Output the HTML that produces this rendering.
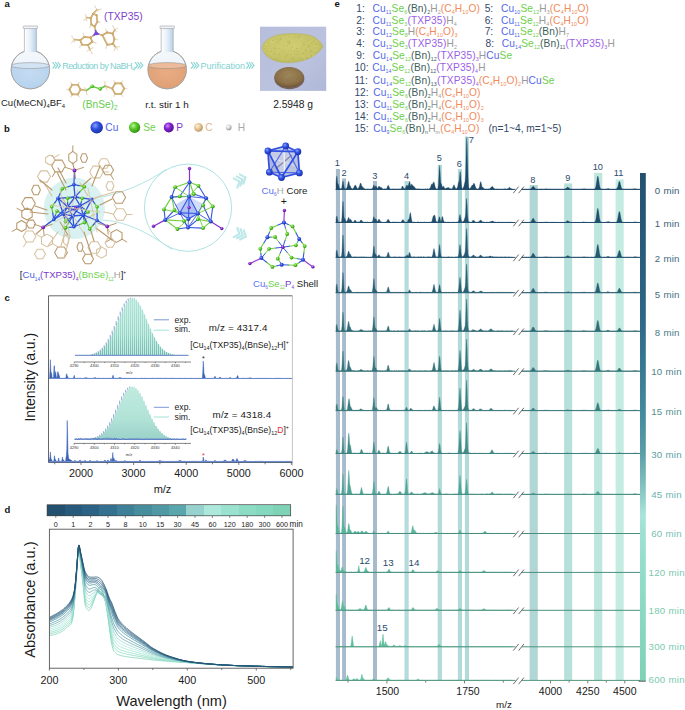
<!DOCTYPE html>
<html><head><meta charset="utf-8"><title>Figure</title>
<style>
html,body{margin:0;padding:0;background:#fff;}
body{width:685px;height:710px;overflow:hidden;}
svg{display:block;font-family:"Liberation Sans", sans-serif;}
</style></head>
<body>
<svg width="685" height="710" viewBox="0 0 685 710">
<rect width="685" height="710" fill="#fff"/>
<text x="4.5" y="7" font-size="9.5" fill="#111" text-anchor="start" font-weight="bold" >a</text>
<text x="4" y="131.8" font-size="9.5" fill="#111" text-anchor="start" font-weight="bold" >b</text>
<text x="4.5" y="300.5" font-size="9.5" fill="#111" text-anchor="start" font-weight="bold" >c</text>
<text x="4.5" y="512.5" font-size="9.5" fill="#111" text-anchor="start" font-weight="bold" >d</text>
<text x="334.5" y="6.8" font-size="9.5" fill="#111" text-anchor="start" font-weight="bold" >e</text>
<defs>
<linearGradient id="neckg" x1="0" x2="1" y1="0" y2="0">
<stop offset="0" stop-color="#ffffff"/><stop offset="0.5" stop-color="#e6eff8"/><stop offset="1" stop-color="#b8d0ea"/></linearGradient>
<linearGradient id="bulbg" x1="0" x2="0" y1="0" y2="1">
<stop offset="0" stop-color="#f4f8fc"/><stop offset="1" stop-color="#e4eef8"/></linearGradient>
<radialGradient id="blueliq" cx="0.5" cy="0.3" r="0.8"><stop offset="0" stop-color="#c4dcf2"/><stop offset="1" stop-color="#b2cfeb"/></radialGradient>
<radialGradient id="orliq" cx="0.5" cy="0.3" r="0.8"><stop offset="0" stop-color="#e8ac84"/><stop offset="1" stop-color="#de9c70"/></radialGradient>
</defs>
<clipPath id="fc1"><circle cx="30.4" cy="69.6" r="19.2"/></clipPath>
<circle cx="30.4" cy="69.6" r="19.2" fill="url(#bulbg)" stroke="#a8a8a8" stroke-width="0.8"/>
<g clip-path="url(#fc1)"><rect x="11.2" y="65.6" width="38.4" height="24.2" fill="url(#blueliq)"/><ellipse cx="30.4" cy="65.6" rx="19.2" ry="3" fill="#d2e3f4" stroke="#8a8a8a" stroke-width="0.5"/></g>
<circle cx="30.4" cy="69.6" r="19.2" fill="none" stroke="#a0a0a0" stroke-width="0.9"/>
<rect x="24.4" y="27.5" width="12" height="24.6" fill="url(#neckg)"/>
<line x1="24.4" y1="27.5" x2="24.4" y2="51.4" stroke="#9a9a9a" stroke-width="0.6"/>
<line x1="36.4" y1="27.5" x2="36.4" y2="51.4" stroke="#9a9a9a" stroke-width="0.6"/>
<rect x="23.2" y="26" width="14.4" height="2.6" rx="0.6" fill="#eef3f8" stroke="#a0a0a0" stroke-width="0.6"/>
<clipPath id="fc2"><circle cx="167.2" cy="69.6" r="19.2"/></clipPath>
<circle cx="167.2" cy="69.6" r="19.2" fill="url(#bulbg)" stroke="#a8a8a8" stroke-width="0.8"/>
<g clip-path="url(#fc2)"><rect x="148.0" y="65.6" width="38.4" height="24.2" fill="url(#orliq)"/><ellipse cx="167.2" cy="65.6" rx="19.2" ry="3" fill="#ecbc9a" stroke="#8a8a8a" stroke-width="0.5"/></g>
<circle cx="167.2" cy="69.6" r="19.2" fill="none" stroke="#a0a0a0" stroke-width="0.9"/>
<rect x="161.2" y="27.5" width="12" height="24.6" fill="url(#neckg)"/>
<line x1="161.2" y1="27.5" x2="161.2" y2="51.4" stroke="#9a9a9a" stroke-width="0.6"/>
<line x1="173.2" y1="27.5" x2="173.2" y2="51.4" stroke="#9a9a9a" stroke-width="0.6"/>
<rect x="160.0" y="26" width="14.4" height="2.6" rx="0.6" fill="#eef3f8" stroke="#a0a0a0" stroke-width="0.6"/>
<polyline points="52.60,62.20 55.20,65.40 52.60,68.60" fill="none" stroke="#86d4d4" stroke-width="1.1"/>
<polyline points="55.20,62.20 57.80,65.40 55.20,68.60" fill="none" stroke="#86d4d4" stroke-width="1.1"/>
<polyline points="57.80,62.20 60.40,65.40 57.80,68.60" fill="none" stroke="#86d4d4" stroke-width="1.1"/>
<polyline points="135.00,62.20 137.60,65.40 135.00,68.60" fill="none" stroke="#86d4d4" stroke-width="1.1"/>
<polyline points="137.60,62.20 140.20,65.40 137.60,68.60" fill="none" stroke="#86d4d4" stroke-width="1.1"/>
<polyline points="140.20,62.20 142.80,65.40 140.20,68.60" fill="none" stroke="#86d4d4" stroke-width="1.1"/>
<polyline points="191.00,62.20 193.60,65.40 191.00,68.60" fill="none" stroke="#86d4d4" stroke-width="1.1"/>
<polyline points="193.60,62.20 196.20,65.40 193.60,68.60" fill="none" stroke="#86d4d4" stroke-width="1.1"/>
<polyline points="196.20,62.20 198.80,65.40 196.20,68.60" fill="none" stroke="#86d4d4" stroke-width="1.1"/>
<polyline points="246.30,62.20 248.90,65.40 246.30,68.60" fill="none" stroke="#86d4d4" stroke-width="1.1"/>
<polyline points="248.90,62.20 251.50,65.40 248.90,68.60" fill="none" stroke="#86d4d4" stroke-width="1.1"/>
<polyline points="251.50,62.20 254.10,65.40 251.50,68.60" fill="none" stroke="#86d4d4" stroke-width="1.1"/>
<text x="62.2" y="68.6" font-size="9" text-anchor="start" letter-spacing="-0.55" xml:space="preserve"><tspan fill="#80d0d0" font-size="9.00" dy="0.00">Reduction by NaBH</tspan><tspan fill="#80d0d0" font-size="5.58" dy="2.16">4</tspan></text>
<text x="200.4" y="68.6" font-size="9" fill="#80d0d0" text-anchor="start" font-weight="normal" >Purification</text>
<polygon points="94.60,26.60 91.40,24.60 90.80,18.00 93.20,13.80 96.60,15.20 97.40,21.80" fill="none" stroke="#c09a5c" stroke-width="1.7" stroke-linejoin="round"/>
<polygon points="94.60,26.60 91.40,24.60 90.80,18.00 93.20,13.80 96.60,15.20 97.40,21.80" fill="none" stroke="#ead29c" stroke-width="0.6" stroke-linejoin="round"/>
<circle cx="94.60" cy="26.60" r="1.05" fill="#c8a468"/>
<circle cx="91.40" cy="24.60" r="1.05" fill="#c8a468"/>
<circle cx="90.80" cy="18.00" r="1.05" fill="#c8a468"/>
<circle cx="93.20" cy="13.80" r="1.05" fill="#c8a468"/>
<circle cx="96.60" cy="15.20" r="1.05" fill="#c8a468"/>
<circle cx="97.40" cy="21.80" r="1.05" fill="#c8a468"/>
<polygon points="90.50,37.60 84.40,36.80 80.30,40.20 81.90,44.60 88.00,45.00 92.40,41.80" fill="none" stroke="#c09a5c" stroke-width="1.7" stroke-linejoin="round"/>
<polygon points="90.50,37.60 84.40,36.80 80.30,40.20 81.90,44.60 88.00,45.00 92.40,41.80" fill="none" stroke="#ead29c" stroke-width="0.6" stroke-linejoin="round"/>
<circle cx="90.50" cy="37.60" r="1.05" fill="#c8a468"/>
<circle cx="84.40" cy="36.80" r="1.05" fill="#c8a468"/>
<circle cx="80.30" cy="40.20" r="1.05" fill="#c8a468"/>
<circle cx="81.90" cy="44.60" r="1.05" fill="#c8a468"/>
<circle cx="88.00" cy="45.00" r="1.05" fill="#c8a468"/>
<circle cx="92.40" cy="41.80" r="1.05" fill="#c8a468"/>
<polygon points="102.40,35.20 107.00,32.40 112.60,33.60 114.40,39.00 113.00,43.80 107.40,44.80" fill="none" stroke="#c09a5c" stroke-width="1.7" stroke-linejoin="round"/>
<polygon points="102.40,35.20 107.00,32.40 112.60,33.60 114.40,39.00 113.00,43.80 107.40,44.80" fill="none" stroke="#ead29c" stroke-width="0.6" stroke-linejoin="round"/>
<circle cx="102.40" cy="35.20" r="1.05" fill="#c8a468"/>
<circle cx="107.00" cy="32.40" r="1.05" fill="#c8a468"/>
<circle cx="112.60" cy="33.60" r="1.05" fill="#c8a468"/>
<circle cx="114.40" cy="39.00" r="1.05" fill="#c8a468"/>
<circle cx="113.00" cy="43.80" r="1.05" fill="#c8a468"/>
<circle cx="107.40" cy="44.80" r="1.05" fill="#c8a468"/>
<line x1="96.20" y1="33.40" x2="94.60" y2="26.60" stroke="#c09a5c" stroke-width="1.5" stroke-linecap="round"/>
<line x1="96.20" y1="33.40" x2="94.60" y2="26.60" stroke="#ecd6a4" stroke-width="0.5" stroke-linecap="round"/>
<line x1="96.20" y1="33.40" x2="90.50" y2="37.60" stroke="#c09a5c" stroke-width="1.5" stroke-linecap="round"/>
<line x1="96.20" y1="33.40" x2="90.50" y2="37.60" stroke="#ecd6a4" stroke-width="0.5" stroke-linecap="round"/>
<line x1="96.20" y1="33.40" x2="102.40" y2="35.20" stroke="#c09a5c" stroke-width="1.5" stroke-linecap="round"/>
<line x1="96.20" y1="33.40" x2="102.40" y2="35.20" stroke="#ecd6a4" stroke-width="0.5" stroke-linecap="round"/>
<line x1="93.20" y1="13.80" x2="97.00" y2="9.80" stroke="#c09a5c" stroke-width="1.5" stroke-linecap="round"/>
<line x1="93.20" y1="13.80" x2="97.00" y2="9.80" stroke="#ecd6a4" stroke-width="0.5" stroke-linecap="round"/>
<line x1="97.00" y1="9.80" x2="95.00" y2="6.40" stroke="#dcc8a0" stroke-width="0.8"/>
<circle cx="95.00" cy="6.40" r="0.85" fill="#ece6d8"/>
<line x1="97.00" y1="9.80" x2="100.80" y2="9.20" stroke="#dcc8a0" stroke-width="0.8"/>
<circle cx="100.80" cy="9.20" r="0.85" fill="#ece6d8"/>
<line x1="97.00" y1="9.80" x2="98.80" y2="11.00" stroke="#dcc8a0" stroke-width="0.8"/>
<circle cx="98.80" cy="11.00" r="0.85" fill="#ece6d8"/>
<line x1="90.80" y1="18.00" x2="86.40" y2="17.60" stroke="#c09a5c" stroke-width="1.5" stroke-linecap="round"/>
<line x1="90.80" y1="18.00" x2="86.40" y2="17.60" stroke="#ecd6a4" stroke-width="0.5" stroke-linecap="round"/>
<line x1="86.40" y1="17.60" x2="85.60" y2="14.60" stroke="#dcc8a0" stroke-width="0.8"/>
<circle cx="85.60" cy="14.60" r="0.85" fill="#ece6d8"/>
<line x1="86.40" y1="17.60" x2="84.20" y2="20.40" stroke="#dcc8a0" stroke-width="0.8"/>
<circle cx="84.20" cy="20.40" r="0.85" fill="#ece6d8"/>
<line x1="86.40" y1="17.60" x2="86.60" y2="20.60" stroke="#dcc8a0" stroke-width="0.8"/>
<circle cx="86.60" cy="20.60" r="0.85" fill="#ece6d8"/>
<line x1="80.30" y1="40.20" x2="74.20" y2="39.60" stroke="#c09a5c" stroke-width="1.5" stroke-linecap="round"/>
<line x1="80.30" y1="40.20" x2="74.20" y2="39.60" stroke="#ecd6a4" stroke-width="0.5" stroke-linecap="round"/>
<line x1="74.20" y1="39.60" x2="71.80" y2="36.40" stroke="#dcc8a0" stroke-width="0.8"/>
<circle cx="71.80" cy="36.40" r="0.85" fill="#ece6d8"/>
<line x1="74.20" y1="39.60" x2="71.60" y2="42.60" stroke="#dcc8a0" stroke-width="0.8"/>
<circle cx="71.60" cy="42.60" r="0.85" fill="#ece6d8"/>
<line x1="74.20" y1="39.60" x2="74.40" y2="42.00" stroke="#dcc8a0" stroke-width="0.8"/>
<circle cx="74.40" cy="42.00" r="0.85" fill="#ece6d8"/>
<line x1="88.00" y1="45.00" x2="89.80" y2="49.60" stroke="#c09a5c" stroke-width="1.5" stroke-linecap="round"/>
<line x1="88.00" y1="45.00" x2="89.80" y2="49.60" stroke="#ecd6a4" stroke-width="0.5" stroke-linecap="round"/>
<line x1="89.80" y1="49.60" x2="87.40" y2="50.80" stroke="#dcc8a0" stroke-width="0.8"/>
<circle cx="87.40" cy="50.80" r="0.85" fill="#ece6d8"/>
<line x1="89.80" y1="49.60" x2="92.20" y2="53.40" stroke="#dcc8a0" stroke-width="0.8"/>
<circle cx="92.20" cy="53.40" r="0.85" fill="#ece6d8"/>
<line x1="89.80" y1="49.60" x2="93.00" y2="47.60" stroke="#dcc8a0" stroke-width="0.8"/>
<circle cx="93.00" cy="47.60" r="0.85" fill="#ece6d8"/>
<line x1="112.60" y1="33.60" x2="114.80" y2="29.60" stroke="#c09a5c" stroke-width="1.5" stroke-linecap="round"/>
<line x1="112.60" y1="33.60" x2="114.80" y2="29.60" stroke="#ecd6a4" stroke-width="0.5" stroke-linecap="round"/>
<line x1="114.80" y1="29.60" x2="112.80" y2="25.80" stroke="#dcc8a0" stroke-width="0.8"/>
<circle cx="112.80" cy="25.80" r="0.85" fill="#ece6d8"/>
<line x1="114.80" y1="29.60" x2="117.80" y2="28.40" stroke="#dcc8a0" stroke-width="0.8"/>
<circle cx="117.80" cy="28.40" r="0.85" fill="#ece6d8"/>
<line x1="114.80" y1="29.60" x2="116.40" y2="31.60" stroke="#dcc8a0" stroke-width="0.8"/>
<circle cx="116.40" cy="31.60" r="0.85" fill="#ece6d8"/>
<line x1="113.00" y1="43.80" x2="115.60" y2="47.20" stroke="#c09a5c" stroke-width="1.5" stroke-linecap="round"/>
<line x1="113.00" y1="43.80" x2="115.60" y2="47.20" stroke="#ecd6a4" stroke-width="0.5" stroke-linecap="round"/>
<line x1="115.60" y1="47.20" x2="119.40" y2="46.60" stroke="#dcc8a0" stroke-width="0.8"/>
<circle cx="119.40" cy="46.60" r="0.85" fill="#ece6d8"/>
<line x1="115.60" y1="47.20" x2="114.40" y2="50.60" stroke="#dcc8a0" stroke-width="0.8"/>
<circle cx="114.40" cy="50.60" r="0.85" fill="#ece6d8"/>
<line x1="115.60" y1="47.20" x2="117.60" y2="49.60" stroke="#dcc8a0" stroke-width="0.8"/>
<circle cx="117.60" cy="49.60" r="0.85" fill="#ece6d8"/>
<line x1="91.40" y1="24.60" x2="89.60" y2="27.40" stroke="#dcc8a0" stroke-width="0.8"/>
<circle cx="89.60" cy="27.40" r="0.85" fill="#ece6d8"/>
<line x1="97.40" y1="21.80" x2="100.00" y2="22.40" stroke="#dcc8a0" stroke-width="0.8"/>
<circle cx="100.00" cy="22.40" r="0.85" fill="#ece6d8"/>
<line x1="84.40" y1="36.80" x2="83.20" y2="33.60" stroke="#dcc8a0" stroke-width="0.8"/>
<circle cx="83.20" cy="33.60" r="0.85" fill="#ece6d8"/>
<line x1="81.90" y1="44.60" x2="79.60" y2="47.20" stroke="#dcc8a0" stroke-width="0.8"/>
<circle cx="79.60" cy="47.20" r="0.85" fill="#ece6d8"/>
<line x1="107.00" y1="32.40" x2="105.60" y2="29.40" stroke="#dcc8a0" stroke-width="0.8"/>
<circle cx="105.60" cy="29.40" r="0.85" fill="#ece6d8"/>
<line x1="107.40" y1="44.80" x2="105.80" y2="48.20" stroke="#dcc8a0" stroke-width="0.8"/>
<circle cx="105.80" cy="48.20" r="0.85" fill="#ece6d8"/>
<line x1="92.40" y1="41.80" x2="96.00" y2="43.00" stroke="#dcc8a0" stroke-width="0.8"/>
<circle cx="96.00" cy="43.00" r="0.85" fill="#ece6d8"/>
<line x1="114.40" y1="39.00" x2="117.60" y2="39.60" stroke="#dcc8a0" stroke-width="0.8"/>
<circle cx="117.60" cy="39.60" r="0.85" fill="#ece6d8"/>
<line x1="96.2" y1="33.4" x2="95.4" y2="30.0" stroke="#7a50e6" stroke-width="1.6"/>
<line x1="96.2" y1="33.4" x2="99.2" y2="34.3" stroke="#7a50e6" stroke-width="1.6"/>
<line x1="96.2" y1="33.4" x2="93.4" y2="35.5" stroke="#7a50e6" stroke-width="1.6"/>
<circle cx="96.2" cy="33.4" r="1.9" fill="#7048e0"/>
<text x="104.0" y="19.9" font-size="10.3" text-anchor="start" letter-spacing="0.05" xml:space="preserve"><tspan fill="#7b42c9" font-size="10.30" dy="0.00">(TXP35)</tspan></text>
<polygon points="80.60,89.60 77.80,94.45 72.20,94.45 69.40,89.60 72.20,84.75 77.80,84.75" fill="none" stroke="#c09a5c" stroke-width="1.7" stroke-linejoin="round"/>
<polygon points="80.60,89.60 77.80,94.45 72.20,94.45 69.40,89.60 72.20,84.75 77.80,84.75" fill="none" stroke="#ead29c" stroke-width="0.6" stroke-linejoin="round"/>
<circle cx="80.60" cy="89.60" r="1.05" fill="#c8a468"/>
<circle cx="77.80" cy="94.45" r="1.05" fill="#c8a468"/>
<circle cx="72.20" cy="94.45" r="1.05" fill="#c8a468"/>
<circle cx="69.40" cy="89.60" r="1.05" fill="#c8a468"/>
<circle cx="72.20" cy="84.75" r="1.05" fill="#c8a468"/>
<circle cx="77.80" cy="84.75" r="1.05" fill="#c8a468"/>
<polygon points="124.20,88.60 121.20,93.80 115.20,93.80 112.20,88.60 115.20,83.40 121.20,83.40" fill="none" stroke="#c09a5c" stroke-width="1.7" stroke-linejoin="round"/>
<polygon points="124.20,88.60 121.20,93.80 115.20,93.80 112.20,88.60 115.20,83.40 121.20,83.40" fill="none" stroke="#ead29c" stroke-width="0.6" stroke-linejoin="round"/>
<circle cx="124.20" cy="88.60" r="1.05" fill="#c8a468"/>
<circle cx="121.20" cy="93.80" r="1.05" fill="#c8a468"/>
<circle cx="115.20" cy="93.80" r="1.05" fill="#c8a468"/>
<circle cx="112.20" cy="88.60" r="1.05" fill="#c8a468"/>
<circle cx="115.20" cy="83.40" r="1.05" fill="#c8a468"/>
<circle cx="121.20" cy="83.40" r="1.05" fill="#c8a468"/>
<line x1="77.80" y1="94.45" x2="79.06" y2="96.63" stroke="#dcc8a0" stroke-width="0.8"/>
<circle cx="79.06" cy="96.63" r="0.85" fill="#ece6d8"/>
<line x1="72.20" y1="94.45" x2="70.94" y2="96.63" stroke="#dcc8a0" stroke-width="0.8"/>
<circle cx="70.94" cy="96.63" r="0.85" fill="#ece6d8"/>
<line x1="69.40" y1="89.60" x2="66.88" y2="89.60" stroke="#dcc8a0" stroke-width="0.8"/>
<circle cx="66.88" cy="89.60" r="0.85" fill="#ece6d8"/>
<line x1="72.20" y1="84.75" x2="70.94" y2="82.57" stroke="#dcc8a0" stroke-width="0.8"/>
<circle cx="70.94" cy="82.57" r="0.85" fill="#ece6d8"/>
<line x1="77.80" y1="84.75" x2="79.06" y2="82.57" stroke="#dcc8a0" stroke-width="0.8"/>
<circle cx="79.06" cy="82.57" r="0.85" fill="#ece6d8"/>
<line x1="124.20" y1="88.60" x2="126.90" y2="88.60" stroke="#dcc8a0" stroke-width="0.8"/>
<circle cx="126.90" cy="88.60" r="0.85" fill="#ece6d8"/>
<line x1="121.20" y1="93.80" x2="122.55" y2="96.13" stroke="#dcc8a0" stroke-width="0.8"/>
<circle cx="122.55" cy="96.13" r="0.85" fill="#ece6d8"/>
<line x1="115.20" y1="93.80" x2="113.85" y2="96.13" stroke="#dcc8a0" stroke-width="0.8"/>
<circle cx="113.85" cy="96.13" r="0.85" fill="#ece6d8"/>
<line x1="115.20" y1="83.40" x2="113.85" y2="81.07" stroke="#dcc8a0" stroke-width="0.8"/>
<circle cx="113.85" cy="81.07" r="0.85" fill="#ece6d8"/>
<line x1="121.20" y1="83.40" x2="122.55" y2="81.07" stroke="#dcc8a0" stroke-width="0.8"/>
<circle cx="122.55" cy="81.07" r="0.85" fill="#ece6d8"/>
<line x1="80.60" y1="89.60" x2="86.30" y2="90.60" stroke="#c09a5c" stroke-width="1.5" stroke-linecap="round"/>
<line x1="80.60" y1="89.60" x2="86.30" y2="90.60" stroke="#ecd6a4" stroke-width="0.5" stroke-linecap="round"/>
<line x1="112.20" y1="88.60" x2="105.20" y2="86.00" stroke="#c09a5c" stroke-width="1.5" stroke-linecap="round"/>
<line x1="112.20" y1="88.60" x2="105.20" y2="86.00" stroke="#ecd6a4" stroke-width="0.5" stroke-linecap="round"/>
<line x1="86.30" y1="90.60" x2="86.80" y2="94.60" stroke="#dcc8a0" stroke-width="0.8"/>
<circle cx="86.80" cy="94.60" r="0.85" fill="#ece6d8"/>
<line x1="86.30" y1="90.60" x2="84.60" y2="87.60" stroke="#dcc8a0" stroke-width="0.8"/>
<circle cx="84.60" cy="87.60" r="0.85" fill="#ece6d8"/>
<line x1="105.20" y1="86.00" x2="104.80" y2="81.60" stroke="#dcc8a0" stroke-width="0.8"/>
<circle cx="104.80" cy="81.60" r="0.85" fill="#ece6d8"/>
<line x1="105.20" y1="86.00" x2="107.00" y2="89.60" stroke="#dcc8a0" stroke-width="0.8"/>
<circle cx="107.00" cy="89.60" r="0.85" fill="#ece6d8"/>
<line x1="86.3" y1="90.6" x2="92.3" y2="86.4" stroke="#5ccc3a" stroke-width="1.5"/>
<line x1="92.3" y1="86.4" x2="100.2" y2="88.9" stroke="#5ccc3a" stroke-width="1.5"/>
<line x1="100.2" y1="88.9" x2="105.2" y2="86.0" stroke="#5ccc3a" stroke-width="1.5"/>
<circle cx="92.3" cy="86.4" r="1.8" fill="url(#gSe0)"/><circle cx="100.2" cy="88.9" r="1.8" fill="url(#gSe0)"/>
<defs><radialGradient id="gSe0" cx="0.38" cy="0.35" r="0.7"><stop offset="0" stop-color="#b8f898"/><stop offset="0.5" stop-color="#58c828"/><stop offset="1" stop-color="#3a9a18"/></radialGradient></defs>
<text x="82.3" y="107.6" font-size="10.2" text-anchor="start"  xml:space="preserve"><tspan fill="#66cc4e" font-size="10.20" dy="0.00">(BnSe)</tspan><tspan fill="#66cc4e" font-size="6.32" dy="2.45">2</tspan></text>
<text x="1.0" y="106.2" font-size="9.5" text-anchor="start"  xml:space="preserve"><tspan fill="#1a1a1a" font-size="9.50" dy="0.00">Cu(MeCN)</tspan><tspan fill="#1a1a1a" font-size="5.89" dy="2.28">4</tspan><tspan fill="#1a1a1a" font-size="9.50" dy="-2.28">BF</tspan><tspan fill="#1a1a1a" font-size="5.89" dy="2.28">4</tspan></text>
<text x="145.3" y="108.4" font-size="9.9" fill="#1a1a1a" text-anchor="start" font-weight="normal" >r.t. stir 1 h</text>
<text x="273.2" y="107.9" font-size="10.3" fill="#1a1a1a" text-anchor="start" font-weight="normal" letter-spacing="-0.05">2.5948 g</text>
<defs><radialGradient id="powd" cx="0.45" cy="0.4" r="0.62"><stop offset="0" stop-color="#d0cc72"/><stop offset="0.75" stop-color="#c6c266"/><stop offset="1" stop-color="#bab65e"/></radialGradient>
<radialGradient id="coin" cx="0.5" cy="0.38" r="0.62"><stop offset="0" stop-color="#9c8658"/><stop offset="0.75" stop-color="#8a6e46"/><stop offset="1" stop-color="#705438"/></radialGradient>
<linearGradient id="bgph" x1="0" x2="1" y1="0" y2="1"><stop offset="0" stop-color="#b6bedc"/><stop offset="0.6" stop-color="#bac2de"/><stop offset="1" stop-color="#b0b8d8"/></linearGradient></defs>
<rect x="260" y="26.7" width="66.2" height="64.2" fill="url(#bgph)"/>
<path d="M262.0,48.5 C262.5,41.5 270,36.0 282,34.2 C294,33.0 306,33.6 313,36.5 C317.5,38.6 321.5,43.0 323.0,46.5 C321.5,49.0 318,53.5 312,57.0 C304,61.5 294,63.2 284,62.6 C274,61.8 265,57.5 262.0,48.5 Z" fill="url(#powd)"/>
<path d="M262.0,48.5 C262.5,41.5 270,36.0 282,34.2 C294,33.0 306,33.6 313,36.5 C317.5,38.6 321.5,43.0 323.0,46.5 C321.5,49.0 318,53.5 312,57.0 C304,61.5 294,63.2 284,62.6 C274,61.8 265,57.5 262.0,48.5 Z" fill="none" stroke="#b2ae56" stroke-width="0.8" opacity="0.6"/>
<rect x="293.6" y="58.1" width="1" height="1" fill="#aca850" opacity="0.7"/>
<rect x="308.7" y="44.0" width="1" height="1" fill="#b4ae50" opacity="0.7"/>
<rect x="271.0" y="40.9" width="1" height="1" fill="#dcd888" opacity="0.7"/>
<rect x="291.2" y="54.8" width="1" height="1" fill="#dcd888" opacity="0.7"/>
<rect x="271.9" y="46.0" width="1" height="1" fill="#dcd888" opacity="0.7"/>
<rect x="285.0" y="44.6" width="1" height="1" fill="#d8d480" opacity="0.7"/>
<rect x="305.7" y="41.6" width="1" height="1" fill="#b4ae50" opacity="0.7"/>
<rect x="288.6" y="45.6" width="1" height="1" fill="#b4ae50" opacity="0.7"/>
<rect x="290.4" y="50.7" width="1" height="1" fill="#aca850" opacity="0.7"/>
<rect x="268.6" y="50.4" width="1" height="1" fill="#dcd888" opacity="0.7"/>
<rect x="286.0" y="36.3" width="1" height="1" fill="#dcd888" opacity="0.7"/>
<rect x="289.1" y="38.7" width="1" height="1" fill="#d8d480" opacity="0.7"/>
<rect x="298.3" y="45.7" width="1" height="1" fill="#d8d480" opacity="0.7"/>
<rect x="277.8" y="48.7" width="1" height="1" fill="#dcd888" opacity="0.7"/>
<rect x="296.7" y="36.7" width="1" height="1" fill="#dcd888" opacity="0.7"/>
<rect x="274.6" y="48.1" width="1" height="1" fill="#aca850" opacity="0.7"/>
<rect x="274.5" y="46.7" width="1" height="1" fill="#d8d480" opacity="0.7"/>
<rect x="311.1" y="42.4" width="1" height="1" fill="#b4ae50" opacity="0.7"/>
<rect x="309.3" y="38.3" width="1" height="1" fill="#d8d480" opacity="0.7"/>
<rect x="286.9" y="41.5" width="1" height="1" fill="#b4ae50" opacity="0.7"/>
<rect x="289.1" y="42.7" width="1" height="1" fill="#aca850" opacity="0.7"/>
<rect x="290.5" y="51.7" width="1" height="1" fill="#dcd888" opacity="0.7"/>
<rect x="313.3" y="54.6" width="1" height="1" fill="#dcd888" opacity="0.7"/>
<rect x="295.2" y="47.4" width="1" height="1" fill="#dcd888" opacity="0.7"/>
<rect x="295.1" y="36.4" width="1" height="1" fill="#b4ae50" opacity="0.7"/>
<rect x="272.7" y="41.5" width="1" height="1" fill="#dcd888" opacity="0.7"/>
<rect x="288.8" y="41.2" width="1" height="1" fill="#aca850" opacity="0.7"/>
<rect x="264.0" y="48.1" width="1" height="1" fill="#aca850" opacity="0.7"/>
<rect x="301.2" y="48.7" width="1" height="1" fill="#b4ae50" opacity="0.7"/>
<rect x="318.2" y="44.5" width="1" height="1" fill="#aca850" opacity="0.7"/>
<rect x="283.5" y="45.2" width="1" height="1" fill="#b4ae50" opacity="0.7"/>
<rect x="308.2" y="47.5" width="1" height="1" fill="#aca850" opacity="0.7"/>
<rect x="317.6" y="45.3" width="1" height="1" fill="#dcd888" opacity="0.7"/>
<rect x="273.3" y="57.0" width="1" height="1" fill="#dcd888" opacity="0.7"/>
<rect x="278.6" y="40.6" width="1" height="1" fill="#b4ae50" opacity="0.7"/>
<rect x="272.2" y="39.9" width="1" height="1" fill="#aca850" opacity="0.7"/>
<rect x="270.4" y="53.1" width="1" height="1" fill="#d8d480" opacity="0.7"/>
<rect x="309.1" y="45.2" width="1" height="1" fill="#aca850" opacity="0.7"/>
<rect x="271.4" y="47.2" width="1" height="1" fill="#b4ae50" opacity="0.7"/>
<rect x="298.6" y="36.0" width="1" height="1" fill="#aca850" opacity="0.7"/>
<rect x="313.8" y="49.8" width="1" height="1" fill="#d8d480" opacity="0.7"/>
<rect x="312.6" y="52.3" width="1" height="1" fill="#dcd888" opacity="0.7"/>
<rect x="275.8" y="58.4" width="1" height="1" fill="#aca850" opacity="0.7"/>
<rect x="291.7" y="46.6" width="1" height="1" fill="#b4ae50" opacity="0.7"/>
<rect x="295.9" y="48.0" width="1" height="1" fill="#aca850" opacity="0.7"/>
<rect x="291.9" y="57.3" width="1" height="1" fill="#aca850" opacity="0.7"/>
<rect x="297.3" y="53.5" width="1" height="1" fill="#aca850" opacity="0.7"/>
<rect x="300.0" y="42.9" width="1" height="1" fill="#dcd888" opacity="0.7"/>
<rect x="312.0" y="55.7" width="1" height="1" fill="#d8d480" opacity="0.7"/>
<rect x="287.1" y="54.2" width="1" height="1" fill="#aca850" opacity="0.7"/>
<rect x="292.9" y="54.1" width="1" height="1" fill="#dcd888" opacity="0.7"/>
<rect x="286.9" y="45.2" width="1" height="1" fill="#aca850" opacity="0.7"/>
<rect x="313.8" y="45.1" width="1" height="1" fill="#d8d480" opacity="0.7"/>
<rect x="268.0" y="53.0" width="1" height="1" fill="#d8d480" opacity="0.7"/>
<rect x="313.1" y="53.9" width="1" height="1" fill="#d8d480" opacity="0.7"/>
<rect x="306.1" y="42.7" width="1" height="1" fill="#d8d480" opacity="0.7"/>
<rect x="293.2" y="46.2" width="1" height="1" fill="#d8d480" opacity="0.7"/>
<rect x="281.8" y="59.4" width="1" height="1" fill="#d8d480" opacity="0.7"/>
<rect x="302.7" y="42.8" width="1" height="1" fill="#b4ae50" opacity="0.7"/>
<rect x="297.7" y="41.3" width="1" height="1" fill="#d8d480" opacity="0.7"/>
<rect x="274.3" y="52.9" width="1" height="1" fill="#aca850" opacity="0.7"/>
<rect x="270.2" y="50.8" width="1" height="1" fill="#aca850" opacity="0.7"/>
<rect x="276.3" y="52.5" width="1" height="1" fill="#dcd888" opacity="0.7"/>
<rect x="293.1" y="49.2" width="1" height="1" fill="#dcd888" opacity="0.7"/>
<rect x="266.1" y="43.8" width="1" height="1" fill="#d8d480" opacity="0.7"/>
<rect x="310.5" y="50.3" width="1" height="1" fill="#aca850" opacity="0.7"/>
<rect x="266.6" y="45.2" width="1" height="1" fill="#b4ae50" opacity="0.7"/>
<rect x="309.3" y="38.5" width="1" height="1" fill="#b4ae50" opacity="0.7"/>
<rect x="294.2" y="45.9" width="1" height="1" fill="#d8d480" opacity="0.7"/>
<rect x="313.1" y="41.0" width="1" height="1" fill="#b4ae50" opacity="0.7"/>
<rect x="316.1" y="49.4" width="1" height="1" fill="#d8d480" opacity="0.7"/>
<rect x="278.3" y="48.4" width="1" height="1" fill="#b4ae50" opacity="0.7"/>
<rect x="274.2" y="47.2" width="1" height="1" fill="#b4ae50" opacity="0.7"/>
<rect x="284.4" y="54.0" width="1" height="1" fill="#dcd888" opacity="0.7"/>
<rect x="294.6" y="45.5" width="1" height="1" fill="#d8d480" opacity="0.7"/>
<rect x="298.7" y="57.5" width="1" height="1" fill="#b4ae50" opacity="0.7"/>
<rect x="303.8" y="58.7" width="1" height="1" fill="#d8d480" opacity="0.7"/>
<rect x="293.1" y="47.5" width="1" height="1" fill="#dcd888" opacity="0.7"/>
<rect x="305.9" y="50.6" width="1" height="1" fill="#aca850" opacity="0.7"/>
<rect x="277.1" y="42.2" width="1" height="1" fill="#b4ae50" opacity="0.7"/>
<rect x="267.7" y="50.4" width="1" height="1" fill="#b4ae50" opacity="0.7"/>
<rect x="307.4" y="39.5" width="1" height="1" fill="#b4ae50" opacity="0.7"/>
<rect x="297.2" y="50.9" width="1" height="1" fill="#b4ae50" opacity="0.7"/>
<rect x="297.0" y="45.5" width="1" height="1" fill="#dcd888" opacity="0.7"/>
<rect x="285.7" y="55.2" width="1" height="1" fill="#aca850" opacity="0.7"/>
<rect x="278.8" y="53.8" width="1" height="1" fill="#aca850" opacity="0.7"/>
<rect x="284.1" y="52.9" width="1" height="1" fill="#aca850" opacity="0.7"/>
<rect x="283.0" y="50.5" width="1" height="1" fill="#b4ae50" opacity="0.7"/>
<rect x="288.3" y="40.7" width="1" height="1" fill="#b4ae50" opacity="0.7"/>
<rect x="286.7" y="47.4" width="1" height="1" fill="#dcd888" opacity="0.7"/>
<rect x="272.4" y="41.5" width="1" height="1" fill="#dcd888" opacity="0.7"/>
<rect x="288.2" y="46.4" width="1" height="1" fill="#dcd888" opacity="0.7"/>
<rect x="313.0" y="51.9" width="1" height="1" fill="#aca850" opacity="0.7"/>
<rect x="271.5" y="53.7" width="1" height="1" fill="#dcd888" opacity="0.7"/>
<rect x="305.0" y="49.2" width="1" height="1" fill="#aca850" opacity="0.7"/>
<rect x="289.5" y="45.2" width="1" height="1" fill="#dcd888" opacity="0.7"/>
<rect x="293.6" y="53.1" width="1" height="1" fill="#b4ae50" opacity="0.7"/>
<rect x="307.8" y="45.4" width="1" height="1" fill="#aca850" opacity="0.7"/>
<rect x="308.8" y="56.0" width="1" height="1" fill="#dcd888" opacity="0.7"/>
<rect x="280.1" y="38.8" width="1" height="1" fill="#b4ae50" opacity="0.7"/>
<rect x="300.9" y="38.3" width="1" height="1" fill="#dcd888" opacity="0.7"/>
<rect x="307.3" y="57.5" width="1" height="1" fill="#b4ae50" opacity="0.7"/>
<rect x="271.3" y="46.8" width="1" height="1" fill="#dcd888" opacity="0.7"/>
<rect x="293.8" y="50.3" width="1" height="1" fill="#b4ae50" opacity="0.7"/>
<rect x="301.4" y="49.2" width="1" height="1" fill="#dcd888" opacity="0.7"/>
<rect x="306.1" y="37.6" width="1" height="1" fill="#aca850" opacity="0.7"/>
<rect x="293.6" y="46.1" width="1" height="1" fill="#d8d480" opacity="0.7"/>
<rect x="311.0" y="55.5" width="1" height="1" fill="#b4ae50" opacity="0.7"/>
<rect x="267.2" y="44.7" width="1" height="1" fill="#d8d480" opacity="0.7"/>
<rect x="298.5" y="42.9" width="1" height="1" fill="#d8d480" opacity="0.7"/>
<rect x="280.5" y="41.5" width="1" height="1" fill="#dcd888" opacity="0.7"/>
<rect x="291.6" y="58.6" width="1" height="1" fill="#aca850" opacity="0.7"/>
<rect x="266.2" y="44.0" width="1" height="1" fill="#dcd888" opacity="0.7"/>
<rect x="264.4" y="48.5" width="1" height="1" fill="#dcd888" opacity="0.7"/>
<rect x="307.3" y="37.9" width="1" height="1" fill="#dcd888" opacity="0.7"/>
<rect x="283.2" y="38.0" width="1" height="1" fill="#dcd888" opacity="0.7"/>
<rect x="301.9" y="55.3" width="1" height="1" fill="#d8d480" opacity="0.7"/>
<rect x="302.3" y="56.3" width="1" height="1" fill="#dcd888" opacity="0.7"/>
<rect x="309.4" y="43.8" width="1" height="1" fill="#dcd888" opacity="0.7"/>
<rect x="269.8" y="42.3" width="1" height="1" fill="#d8d480" opacity="0.7"/>
<rect x="290.6" y="54.3" width="1" height="1" fill="#aca850" opacity="0.7"/>
<rect x="315.7" y="43.7" width="1" height="1" fill="#aca850" opacity="0.7"/>
<rect x="279.7" y="37.9" width="1" height="1" fill="#aca850" opacity="0.7"/>
<rect x="303.9" y="43.9" width="1" height="1" fill="#aca850" opacity="0.7"/>
<rect x="274.8" y="49.5" width="1" height="1" fill="#d8d480" opacity="0.7"/>
<rect x="279.6" y="45.8" width="1" height="1" fill="#dcd888" opacity="0.7"/>
<rect x="293.6" y="43.6" width="1" height="1" fill="#dcd888" opacity="0.7"/>
<rect x="288.2" y="42.9" width="1" height="1" fill="#b4ae50" opacity="0.7"/>
<rect x="268.4" y="49.8" width="1" height="1" fill="#dcd888" opacity="0.7"/>
<rect x="297.4" y="36.6" width="1" height="1" fill="#b4ae50" opacity="0.7"/>
<rect x="278.9" y="49.8" width="1" height="1" fill="#d8d480" opacity="0.7"/>
<rect x="277.3" y="39.3" width="1" height="1" fill="#b4ae50" opacity="0.7"/>
<rect x="317.0" y="45.4" width="1" height="1" fill="#d8d480" opacity="0.7"/>
<rect x="311.0" y="41.2" width="1" height="1" fill="#d8d480" opacity="0.7"/>
<rect x="301.0" y="58.6" width="1" height="1" fill="#b4ae50" opacity="0.7"/>
<rect x="303.4" y="44.6" width="1" height="1" fill="#b4ae50" opacity="0.7"/>
<rect x="284.9" y="56.3" width="1" height="1" fill="#b4ae50" opacity="0.7"/>
<rect x="302.6" y="53.0" width="1" height="1" fill="#aca850" opacity="0.7"/>
<rect x="310.3" y="50.5" width="1" height="1" fill="#aca850" opacity="0.7"/>
<rect x="308.2" y="48.8" width="1" height="1" fill="#dcd888" opacity="0.7"/>
<ellipse cx="289.4" cy="78.4" rx="15.0" ry="10.8" fill="#5a4634" opacity="0.75"/>
<ellipse cx="289" cy="77.2" rx="14.6" ry="10.2" fill="url(#coin)"/>
<rect x="286.9" y="77.9" width="1" height="1" fill="#a89060" opacity="0.5"/>
<rect x="283.4" y="71.7" width="1" height="1" fill="#a89060" opacity="0.5"/>
<rect x="285.3" y="76.7" width="1" height="1" fill="#a89060" opacity="0.5"/>
<rect x="284.9" y="82.6" width="1" height="1" fill="#a89060" opacity="0.5"/>
<rect x="295.1" y="78.7" width="1" height="1" fill="#a89060" opacity="0.5"/>
<rect x="281.9" y="78.5" width="1" height="1" fill="#a89060" opacity="0.5"/>
<rect x="289.0" y="81.7" width="1" height="1" fill="#a89060" opacity="0.5"/>
<rect x="286.4" y="70.9" width="1" height="1" fill="#a89060" opacity="0.5"/>
<rect x="284.2" y="80.0" width="1" height="1" fill="#a89060" opacity="0.5"/>
<rect x="284.5" y="71.5" width="1" height="1" fill="#a89060" opacity="0.5"/>
<rect x="297.9" y="74.3" width="1" height="1" fill="#a89060" opacity="0.5"/>
<rect x="297.0" y="80.8" width="1" height="1" fill="#a89060" opacity="0.5"/>
<rect x="284.8" y="81.1" width="1" height="1" fill="#a89060" opacity="0.5"/>
<rect x="280.5" y="75.6" width="1" height="1" fill="#a89060" opacity="0.5"/>
<rect x="286.4" y="76.4" width="1" height="1" fill="#a89060" opacity="0.5"/>
<rect x="286.5" y="82.3" width="1" height="1" fill="#a89060" opacity="0.5"/>
<rect x="288.6" y="70.8" width="1" height="1" fill="#a89060" opacity="0.5"/>
<rect x="288.5" y="73.8" width="1" height="1" fill="#a89060" opacity="0.5"/>
<rect x="282.1" y="81.5" width="1" height="1" fill="#a89060" opacity="0.5"/>
<rect x="285.7" y="77.2" width="1" height="1" fill="#a89060" opacity="0.5"/>
<rect x="279.6" y="74.0" width="1" height="1" fill="#a89060" opacity="0.5"/>
<rect x="283.8" y="72.0" width="1" height="1" fill="#a89060" opacity="0.5"/>
<rect x="284.0" y="78.4" width="1" height="1" fill="#a89060" opacity="0.5"/>
<rect x="291.8" y="81.1" width="1" height="1" fill="#a89060" opacity="0.5"/>
<rect x="290.8" y="70.6" width="1" height="1" fill="#a89060" opacity="0.5"/>
<rect x="292.5" y="78.4" width="1" height="1" fill="#a89060" opacity="0.5"/>
<rect x="281.5" y="74.7" width="1" height="1" fill="#a89060" opacity="0.5"/>
<rect x="286.4" y="77.9" width="1" height="1" fill="#a89060" opacity="0.5"/>
<rect x="288.7" y="78.1" width="1" height="1" fill="#a89060" opacity="0.5"/>
<rect x="293.8" y="80.2" width="1" height="1" fill="#a89060" opacity="0.5"/>
<defs>
<radialGradient id="gCu" cx="0.38" cy="0.35" r="0.7"><stop offset="0" stop-color="#8aa2ff"/><stop offset="0.45" stop-color="#2f4fe0"/><stop offset="1" stop-color="#1a2ea0"/></radialGradient>
<radialGradient id="gSe" cx="0.38" cy="0.35" r="0.7"><stop offset="0" stop-color="#b8f898"/><stop offset="0.45" stop-color="#58c828"/><stop offset="1" stop-color="#2e8a10"/></radialGradient>
<radialGradient id="gP" cx="0.38" cy="0.35" r="0.7"><stop offset="0" stop-color="#c88af8"/><stop offset="0.45" stop-color="#8420d0"/><stop offset="1" stop-color="#52108a"/></radialGradient>
<radialGradient id="gC" cx="0.38" cy="0.35" r="0.7"><stop offset="0" stop-color="#fff0d8"/><stop offset="0.45" stop-color="#e8c898"/><stop offset="1" stop-color="#b89060"/></radialGradient>
<radialGradient id="gH" cx="0.38" cy="0.35" r="0.7"><stop offset="0" stop-color="#ffffff"/><stop offset="0.5" stop-color="#d8d8d8"/><stop offset="1" stop-color="#8a8a8a"/></radialGradient>
</defs>
<circle cx="96.7" cy="127.4" r="6.2" fill="url(#gCu)"/>
<text x="105.3" y="131.2" font-size="10.2" fill="#4d62e6" text-anchor="start" font-weight="normal" >Cu</text>
<circle cx="134.6" cy="127.4" r="5.6" fill="url(#gSe)"/>
<text x="143.2" y="131.2" font-size="10.2" fill="#6ed24a" text-anchor="start" font-weight="normal" >Se</text>
<circle cx="168.8" cy="127.4" r="5.0" fill="url(#gP)"/>
<text x="176.2" y="131.2" font-size="10.2" fill="#7a3ac8" text-anchor="start" font-weight="normal" >P</text>
<circle cx="198.5" cy="127.4" r="4.4" fill="url(#gC)"/>
<text x="205.2" y="131.2" font-size="10.2" fill="#e2b888" text-anchor="start" font-weight="normal" >C</text>
<circle cx="228.7" cy="127.4" r="2.8" fill="url(#gH)"/>
<text x="237.8" y="131.2" font-size="10.2" fill="#a8a8a8" text-anchor="start" font-weight="normal" >H</text>
<path d="M100,197.5 C122,193 145,184 166,169.5" fill="none" stroke="#9adada" stroke-width="0.75"/>
<path d="M100,220 C122,220.5 145,230 172,249.5" fill="none" stroke="#9adada" stroke-width="0.75"/>
<circle cx="74.3" cy="208.4" r="30.6" fill="#d9f1f1"/>
<polygon points="65.30,166.00 61.90,171.89 55.10,171.89 51.70,166.00 55.10,160.11 61.90,160.11" fill="none" stroke="#b8986c" stroke-width="1.05" stroke-linejoin="round"/>
<line x1="55.10" y1="171.89" x2="52.35" y2="176.65" stroke="#b8986c" stroke-width="1.0" stroke-linecap="round" opacity="1"/>
<line x1="55.10" y1="160.11" x2="52.35" y2="155.35" stroke="#b8986c" stroke-width="1.0" stroke-linecap="round" opacity="1"/>
<polygon points="72.80,163.70 68.77,160.60 68.77,154.40 72.80,151.30 76.83,154.40 76.83,160.60" fill="none" stroke="#b8986c" stroke-width="1.05" stroke-linejoin="round"/>
<line x1="72.80" y1="151.30" x2="72.80" y2="145.80" stroke="#b8986c" stroke-width="1.0" stroke-linecap="round" opacity="1"/>
<polygon points="50.50,176.50 47.25,182.13 40.75,182.13 37.50,176.50 40.75,170.87 47.25,170.87" fill="none" stroke="#d6c2a0" stroke-width="1.05" stroke-linejoin="round"/>
<polygon points="103.30,172.00 99.90,177.89 93.10,177.89 89.70,172.00 93.10,166.11 99.90,166.11" fill="none" stroke="#d6c2a0" stroke-width="1.05" stroke-linejoin="round"/>
<line x1="103.30" y1="172.00" x2="108.80" y2="172.00" stroke="#d6c2a0" stroke-width="1.0" stroke-linecap="round" opacity="1"/>
<polygon points="109.50,163.50 106.75,168.26 101.25,168.26 98.50,163.50 101.25,158.74 106.75,158.74" fill="none" stroke="#d6c2a0" stroke-width="1.05" stroke-linejoin="round"/>
<polygon points="125.60,197.50 122.30,203.22 115.70,203.22 112.40,197.50 115.70,191.78 122.30,191.78" fill="none" stroke="#b8986c" stroke-width="1.05" stroke-linejoin="round"/>
<polygon points="126.60,214.50 123.30,220.22 116.70,220.22 113.40,214.50 116.70,208.78 123.30,208.78" fill="none" stroke="#d6c2a0" stroke-width="1.05" stroke-linejoin="round"/>
<line x1="126.60" y1="214.50" x2="132.10" y2="214.50" stroke="#d6c2a0" stroke-width="1.0" stroke-linecap="round" opacity="1"/>
<line x1="116.70" y1="208.78" x2="113.95" y2="204.02" stroke="#d6c2a0" stroke-width="1.0" stroke-linecap="round" opacity="1"/>
<polygon points="35.30,203.50 31.90,209.39 25.10,209.39 21.70,203.50 25.10,197.61 31.90,197.61" fill="none" stroke="#b8986c" stroke-width="1.05" stroke-linejoin="round"/>
<polygon points="32.20,217.00 27.00,220.00 21.80,217.00 21.80,211.00 27.00,208.00 32.20,211.00" fill="none" stroke="#b8986c" stroke-width="1.05" stroke-linejoin="round"/>
<line x1="21.80" y1="211.00" x2="17.04" y2="208.25" stroke="#b8986c" stroke-width="1.0" stroke-linecap="round" opacity="1"/>
<polygon points="35.90,236.50 32.70,242.04 26.30,242.04 23.10,236.50 26.30,230.96 32.70,230.96" fill="none" stroke="#d6c2a0" stroke-width="1.05" stroke-linejoin="round"/>
<line x1="26.30" y1="242.04" x2="23.55" y2="246.81" stroke="#d6c2a0" stroke-width="1.0" stroke-linecap="round" opacity="1"/>
<polygon points="52.54,243.70 47.00,246.90 41.46,243.70 41.46,237.30 47.00,234.10 52.54,237.30" fill="none" stroke="#d6c2a0" stroke-width="1.05" stroke-linejoin="round"/>
<line x1="52.54" y1="243.70" x2="57.31" y2="246.45" stroke="#d6c2a0" stroke-width="1.0" stroke-linecap="round" opacity="1"/>
<line x1="41.46" y1="237.30" x2="36.69" y2="234.55" stroke="#d6c2a0" stroke-width="1.0" stroke-linecap="round" opacity="1"/>
<polygon points="67.40,252.50 64.20,258.04 57.80,258.04 54.60,252.50 57.80,246.96 64.20,246.96" fill="none" stroke="#b8986c" stroke-width="1.05" stroke-linejoin="round"/>
<polygon points="101.10,247.50 97.80,253.22 91.20,253.22 87.90,247.50 91.20,241.78 97.80,241.78" fill="none" stroke="#d6c2a0" stroke-width="1.05" stroke-linejoin="round"/>
<polygon points="122.04,239.20 116.50,242.40 110.96,239.20 110.96,232.80 116.50,229.60 122.04,232.80" fill="none" stroke="#b8986c" stroke-width="1.05" stroke-linejoin="round"/>
<line x1="122.04" y1="239.20" x2="126.81" y2="241.95" stroke="#b8986c" stroke-width="1.0" stroke-linecap="round" opacity="1"/>
<line x1="110.96" y1="239.20" x2="106.19" y2="241.95" stroke="#b8986c" stroke-width="1.0" stroke-linecap="round" opacity="1"/>
<polygon points="106.35,255.30 101.50,258.10 96.65,255.30 96.65,249.70 101.50,246.90 106.35,249.70" fill="none" stroke="#d6c2a0" stroke-width="1.05" stroke-linejoin="round"/>
<polygon points="87.50,158.00 85.75,162.33 82.25,162.33 80.50,158.00 82.25,153.67 85.75,153.67" fill="none" stroke="#b8986c" stroke-width="1.05" stroke-linejoin="round"/>
<polygon points="114.00,186.00 112.00,190.33 108.00,190.33 106.00,186.00 108.00,181.67 112.00,181.67" fill="none" stroke="#d6c2a0" stroke-width="1.05" stroke-linejoin="round"/>
<polygon points="40.40,190.00 38.20,194.76 33.80,194.76 31.60,190.00 33.80,185.24 38.20,185.24" fill="none" stroke="#b8986c" stroke-width="1.05" stroke-linejoin="round"/>
<polygon points="83.00,247.00 81.50,251.33 78.50,251.33 77.00,247.00 78.50,242.67 81.50,242.67" fill="none" stroke="#b8986c" stroke-width="1.05" stroke-linejoin="round"/>
<polygon points="66.00,245.50 63.62,242.75 63.62,237.25 66.00,234.50 68.38,237.25 68.38,242.75" fill="none" stroke="#d6c2a0" stroke-width="1.05" stroke-linejoin="round"/>
<polygon points="113.50,170.00 110.75,174.76 105.25,174.76 102.50,170.00 105.25,165.24 110.75,165.24" fill="none" stroke="#b8986c" stroke-width="1.05" stroke-linejoin="round"/>
<line x1="110.75" y1="174.76" x2="113.50" y2="179.53" stroke="#b8986c" stroke-width="1.0" stroke-linecap="round" opacity="1"/>
<polygon points="26.26,228.75 21.50,231.50 16.74,228.75 16.74,223.25 21.50,220.50 26.26,223.25" fill="none" stroke="#b8986c" stroke-width="1.05" stroke-linejoin="round"/>
<line x1="16.74" y1="228.75" x2="11.97" y2="231.50" stroke="#b8986c" stroke-width="1.0" stroke-linecap="round" opacity="1"/>
<polygon points="45.50,254.00 42.75,258.76 37.25,258.76 34.50,254.00 37.25,249.24 42.75,249.24" fill="none" stroke="#d6c2a0" stroke-width="1.05" stroke-linejoin="round"/>
<polygon points="93.50,259.00 90.75,263.76 85.25,263.76 82.50,259.00 85.25,254.24 90.75,254.24" fill="none" stroke="#b8986c" stroke-width="1.05" stroke-linejoin="round"/>
<line x1="85.25" y1="254.24" x2="82.50" y2="249.47" stroke="#b8986c" stroke-width="1.0" stroke-linecap="round" opacity="1"/>
<polygon points="115.00,243.00 112.50,247.33 107.50,247.33 105.00,243.00 107.50,238.67 112.50,238.67" fill="none" stroke="#d6c2a0" stroke-width="1.05" stroke-linejoin="round"/>
<polygon points="54.33,162.50 50.00,165.00 45.67,162.50 45.67,157.50 50.00,155.00 54.33,157.50" fill="none" stroke="#d6c2a0" stroke-width="1.05" stroke-linejoin="round"/>
<line x1="54.33" y1="157.50" x2="59.09" y2="154.75" stroke="#d6c2a0" stroke-width="1.0" stroke-linecap="round" opacity="1"/>
<polygon points="35.50,224.00 33.25,227.90 28.75,227.90 26.50,224.00 28.75,220.10 33.25,220.10" fill="none" stroke="#b8986c" stroke-width="1.05" stroke-linejoin="round"/>
<line x1="57.40" y1="173.00" x2="66.00" y2="190.00" stroke="#b8986c" stroke-width="1.1" stroke-linecap="round" opacity="1"/>
<line x1="72.60" y1="163.00" x2="74.50" y2="170.40" stroke="#b8986c" stroke-width="1.1" stroke-linecap="round" opacity="1"/>
<line x1="91.00" y1="178.00" x2="82.00" y2="186.00" stroke="#b8986c" stroke-width="1.1" stroke-linecap="round" opacity="1"/>
<line x1="44.00" y1="183.00" x2="52.00" y2="196.00" stroke="#d6c2a0" stroke-width="1.1" stroke-linecap="round" opacity="1"/>
<line x1="112.00" y1="199.00" x2="100.00" y2="205.00" stroke="#b8986c" stroke-width="1.1" stroke-linecap="round" opacity="1"/>
<line x1="113.00" y1="214.00" x2="104.00" y2="212.00" stroke="#d6c2a0" stroke-width="1.1" stroke-linecap="round" opacity="1"/>
<line x1="35.00" y1="206.00" x2="47.00" y2="210.00" stroke="#b8986c" stroke-width="1.1" stroke-linecap="round" opacity="1"/>
<line x1="36.00" y1="234.00" x2="50.00" y2="222.00" stroke="#b8986c" stroke-width="1.1" stroke-linecap="round" opacity="1"/>
<line x1="61.00" y1="246.00" x2="66.00" y2="228.00" stroke="#d6c2a0" stroke-width="1.1" stroke-linecap="round" opacity="1"/>
<line x1="94.00" y1="241.00" x2="90.00" y2="228.00" stroke="#b8986c" stroke-width="1.1" stroke-linecap="round" opacity="1"/>
<line x1="110.00" y1="232.00" x2="104.00" y2="224.00" stroke="#d6c2a0" stroke-width="1.1" stroke-linecap="round" opacity="1"/>
<line x1="68.00" y1="235.00" x2="60.00" y2="222.00" stroke="#b8986c" stroke-width="1.1" stroke-linecap="round" opacity="1"/>
<line x1="80.00" y1="183.00" x2="88.00" y2="196.00" stroke="#d6c2a0" stroke-width="1.1" stroke-linecap="round" opacity="1"/>
<line x1="62.00" y1="197.00" x2="70.00" y2="212.00" stroke="#d6c2a0" stroke-width="1.1" stroke-linecap="round" opacity="1"/>
<line x1="84.00" y1="220.00" x2="95.00" y2="214.00" stroke="#d6c2a0" stroke-width="1.1" stroke-linecap="round" opacity="1"/>
<line x1="66.00" y1="183.00" x2="58.00" y2="168.00" stroke="#b8986c" stroke-width="1.1" stroke-linecap="round" opacity="1"/>
<line x1="88.00" y1="200.00" x2="114.00" y2="192.00" stroke="#d6c2a0" stroke-width="1.1" stroke-linecap="round" opacity="1"/>
<line x1="48.00" y1="214.00" x2="30.00" y2="212.00" stroke="#b8986c" stroke-width="1.1" stroke-linecap="round" opacity="1"/>
<line x1="96.00" y1="228.00" x2="112.00" y2="240.00" stroke="#b8986c" stroke-width="1.1" stroke-linecap="round" opacity="1"/>
<line x1="58.00" y1="232.00" x2="48.00" y2="246.00" stroke="#d6c2a0" stroke-width="1.1" stroke-linecap="round" opacity="1"/>
<line x1="70.00" y1="236.00" x2="64.00" y2="258.00" stroke="#d6c2a0" stroke-width="1.1" stroke-linecap="round" opacity="1"/>
<line x1="84.00" y1="232.00" x2="92.00" y2="256.00" stroke="#b8986c" stroke-width="1.1" stroke-linecap="round" opacity="1"/>
<line x1="52.00" y1="190.00" x2="40.00" y2="180.00" stroke="#b8986c" stroke-width="1.1" stroke-linecap="round" opacity="1"/>
<line x1="92.00" y1="186.00" x2="100.00" y2="166.00" stroke="#b8986c" stroke-width="1.1" stroke-linecap="round" opacity="1"/>
<line x1="73.90" y1="184.60" x2="75.00" y2="197.00" stroke="#3252e0" stroke-width="1.3" stroke-linecap="round" opacity="1"/>
<line x1="58.00" y1="198.30" x2="67.60" y2="206.80" stroke="#3252e0" stroke-width="1.3" stroke-linecap="round" opacity="1"/>
<line x1="58.00" y1="198.30" x2="63.30" y2="214.00" stroke="#3252e0" stroke-width="1.3" stroke-linecap="round" opacity="1"/>
<line x1="58.00" y1="198.30" x2="75.00" y2="197.00" stroke="#3252e0" stroke-width="1.3" stroke-linecap="round" opacity="1"/>
<line x1="91.80" y1="199.40" x2="80.20" y2="205.80" stroke="#3252e0" stroke-width="1.3" stroke-linecap="round" opacity="1"/>
<line x1="91.80" y1="199.40" x2="83.40" y2="215.00" stroke="#3252e0" stroke-width="1.3" stroke-linecap="round" opacity="1"/>
<line x1="91.80" y1="199.40" x2="75.00" y2="197.00" stroke="#3252e0" stroke-width="1.3" stroke-linecap="round" opacity="1"/>
<line x1="53.80" y1="219.50" x2="67.60" y2="206.80" stroke="#3252e0" stroke-width="1.3" stroke-linecap="round" opacity="1"/>
<line x1="53.80" y1="219.50" x2="63.30" y2="214.00" stroke="#3252e0" stroke-width="1.3" stroke-linecap="round" opacity="1"/>
<line x1="97.10" y1="220.50" x2="83.40" y2="215.00" stroke="#3252e0" stroke-width="1.3" stroke-linecap="round" opacity="1"/>
<line x1="73.90" y1="226.80" x2="72.80" y2="216.00" stroke="#3252e0" stroke-width="1.3" stroke-linecap="round" opacity="1"/>
<line x1="73.90" y1="226.80" x2="63.30" y2="214.00" stroke="#3252e0" stroke-width="1.3" stroke-linecap="round" opacity="1"/>
<line x1="73.90" y1="226.80" x2="83.40" y2="215.00" stroke="#3252e0" stroke-width="1.3" stroke-linecap="round" opacity="1"/>
<line x1="67.60" y1="206.80" x2="80.20" y2="205.80" stroke="#3252e0" stroke-width="1.3" stroke-linecap="round" opacity="1"/>
<line x1="67.60" y1="206.80" x2="72.80" y2="216.00" stroke="#3252e0" stroke-width="1.3" stroke-linecap="round" opacity="1"/>
<line x1="67.60" y1="206.80" x2="63.30" y2="214.00" stroke="#3252e0" stroke-width="1.3" stroke-linecap="round" opacity="1"/>
<line x1="67.60" y1="206.80" x2="83.40" y2="215.00" stroke="#3252e0" stroke-width="1.3" stroke-linecap="round" opacity="1"/>
<line x1="67.60" y1="206.80" x2="75.00" y2="197.00" stroke="#3252e0" stroke-width="1.3" stroke-linecap="round" opacity="1"/>
<line x1="80.20" y1="205.80" x2="72.80" y2="216.00" stroke="#3252e0" stroke-width="1.3" stroke-linecap="round" opacity="1"/>
<line x1="80.20" y1="205.80" x2="63.30" y2="214.00" stroke="#3252e0" stroke-width="1.3" stroke-linecap="round" opacity="1"/>
<line x1="80.20" y1="205.80" x2="83.40" y2="215.00" stroke="#3252e0" stroke-width="1.3" stroke-linecap="round" opacity="1"/>
<line x1="80.20" y1="205.80" x2="75.00" y2="197.00" stroke="#3252e0" stroke-width="1.3" stroke-linecap="round" opacity="1"/>
<line x1="72.80" y1="216.00" x2="63.30" y2="214.00" stroke="#3252e0" stroke-width="1.3" stroke-linecap="round" opacity="1"/>
<line x1="72.80" y1="216.00" x2="83.40" y2="215.00" stroke="#3252e0" stroke-width="1.3" stroke-linecap="round" opacity="1"/>
<line x1="62.30" y1="188.80" x2="60.15" y2="193.55" stroke="#62c836" stroke-width="1.2" stroke-linecap="round" opacity="1"/>
<line x1="60.15" y1="193.55" x2="58.00" y2="198.30" stroke="#3252e0" stroke-width="1.2" stroke-linecap="round" opacity="1"/>
<line x1="62.30" y1="188.80" x2="68.10" y2="186.70" stroke="#62c836" stroke-width="1.2" stroke-linecap="round" opacity="1"/>
<line x1="68.10" y1="186.70" x2="73.90" y2="184.60" stroke="#3252e0" stroke-width="1.2" stroke-linecap="round" opacity="1"/>
<line x1="84.50" y1="186.70" x2="79.20" y2="185.65" stroke="#62c836" stroke-width="1.2" stroke-linecap="round" opacity="1"/>
<line x1="79.20" y1="185.65" x2="73.90" y2="184.60" stroke="#3252e0" stroke-width="1.2" stroke-linecap="round" opacity="1"/>
<line x1="84.50" y1="186.70" x2="79.75" y2="191.85" stroke="#62c836" stroke-width="1.2" stroke-linecap="round" opacity="1"/>
<line x1="79.75" y1="191.85" x2="75.00" y2="197.00" stroke="#3252e0" stroke-width="1.2" stroke-linecap="round" opacity="1"/>
<line x1="51.70" y1="206.80" x2="54.85" y2="202.55" stroke="#62c836" stroke-width="1.2" stroke-linecap="round" opacity="1"/>
<line x1="54.85" y1="202.55" x2="58.00" y2="198.30" stroke="#3252e0" stroke-width="1.2" stroke-linecap="round" opacity="1"/>
<line x1="51.70" y1="206.80" x2="52.75" y2="213.15" stroke="#62c836" stroke-width="1.2" stroke-linecap="round" opacity="1"/>
<line x1="52.75" y1="213.15" x2="53.80" y2="219.50" stroke="#3252e0" stroke-width="1.2" stroke-linecap="round" opacity="1"/>
<line x1="97.10" y1="206.80" x2="94.45" y2="203.10" stroke="#62c836" stroke-width="1.2" stroke-linecap="round" opacity="1"/>
<line x1="94.45" y1="203.10" x2="91.80" y2="199.40" stroke="#3252e0" stroke-width="1.2" stroke-linecap="round" opacity="1"/>
<line x1="97.10" y1="206.80" x2="97.10" y2="213.65" stroke="#62c836" stroke-width="1.2" stroke-linecap="round" opacity="1"/>
<line x1="97.10" y1="213.65" x2="97.10" y2="220.50" stroke="#3252e0" stroke-width="1.2" stroke-linecap="round" opacity="1"/>
<line x1="65.50" y1="227.90" x2="69.70" y2="227.35" stroke="#62c836" stroke-width="1.2" stroke-linecap="round" opacity="1"/>
<line x1="69.70" y1="227.35" x2="73.90" y2="226.80" stroke="#3252e0" stroke-width="1.2" stroke-linecap="round" opacity="1"/>
<line x1="65.50" y1="227.90" x2="69.15" y2="221.95" stroke="#62c836" stroke-width="1.2" stroke-linecap="round" opacity="1"/>
<line x1="69.15" y1="221.95" x2="72.80" y2="216.00" stroke="#3252e0" stroke-width="1.2" stroke-linecap="round" opacity="1"/>
<line x1="89.70" y1="229.00" x2="93.40" y2="224.75" stroke="#62c836" stroke-width="1.2" stroke-linecap="round" opacity="1"/>
<line x1="93.40" y1="224.75" x2="97.10" y2="220.50" stroke="#3252e0" stroke-width="1.2" stroke-linecap="round" opacity="1"/>
<line x1="89.70" y1="229.00" x2="86.55" y2="222.00" stroke="#62c836" stroke-width="1.2" stroke-linecap="round" opacity="1"/>
<line x1="86.55" y1="222.00" x2="83.40" y2="215.00" stroke="#3252e0" stroke-width="1.2" stroke-linecap="round" opacity="1"/>
<line x1="67.60" y1="198.30" x2="71.30" y2="197.65" stroke="#62c836" stroke-width="1.2" stroke-linecap="round" opacity="1"/>
<line x1="71.30" y1="197.65" x2="75.00" y2="197.00" stroke="#3252e0" stroke-width="1.2" stroke-linecap="round" opacity="1"/>
<line x1="67.60" y1="198.30" x2="67.60" y2="202.55" stroke="#62c836" stroke-width="1.2" stroke-linecap="round" opacity="1"/>
<line x1="67.60" y1="202.55" x2="67.60" y2="206.80" stroke="#3252e0" stroke-width="1.2" stroke-linecap="round" opacity="1"/>
<line x1="82.30" y1="198.30" x2="78.65" y2="197.65" stroke="#62c836" stroke-width="1.2" stroke-linecap="round" opacity="1"/>
<line x1="78.65" y1="197.65" x2="75.00" y2="197.00" stroke="#3252e0" stroke-width="1.2" stroke-linecap="round" opacity="1"/>
<line x1="82.30" y1="198.30" x2="81.25" y2="202.05" stroke="#62c836" stroke-width="1.2" stroke-linecap="round" opacity="1"/>
<line x1="81.25" y1="202.05" x2="80.20" y2="205.80" stroke="#3252e0" stroke-width="1.2" stroke-linecap="round" opacity="1"/>
<line x1="57.00" y1="211.00" x2="60.15" y2="212.50" stroke="#62c836" stroke-width="1.2" stroke-linecap="round" opacity="1"/>
<line x1="60.15" y1="212.50" x2="63.30" y2="214.00" stroke="#3252e0" stroke-width="1.2" stroke-linecap="round" opacity="1"/>
<line x1="57.00" y1="211.00" x2="55.40" y2="215.25" stroke="#62c836" stroke-width="1.2" stroke-linecap="round" opacity="1"/>
<line x1="55.40" y1="215.25" x2="53.80" y2="219.50" stroke="#3252e0" stroke-width="1.2" stroke-linecap="round" opacity="1"/>
<line x1="88.00" y1="212.00" x2="85.70" y2="213.50" stroke="#62c836" stroke-width="1.2" stroke-linecap="round" opacity="1"/>
<line x1="85.70" y1="213.50" x2="83.40" y2="215.00" stroke="#3252e0" stroke-width="1.2" stroke-linecap="round" opacity="1"/>
<line x1="88.00" y1="212.00" x2="84.10" y2="208.90" stroke="#62c836" stroke-width="1.2" stroke-linecap="round" opacity="1"/>
<line x1="84.10" y1="208.90" x2="80.20" y2="205.80" stroke="#3252e0" stroke-width="1.2" stroke-linecap="round" opacity="1"/>
<line x1="65.50" y1="221.60" x2="64.40" y2="217.80" stroke="#62c836" stroke-width="1.2" stroke-linecap="round" opacity="1"/>
<line x1="64.40" y1="217.80" x2="63.30" y2="214.00" stroke="#3252e0" stroke-width="1.2" stroke-linecap="round" opacity="1"/>
<line x1="65.50" y1="221.60" x2="69.15" y2="218.80" stroke="#62c836" stroke-width="1.2" stroke-linecap="round" opacity="1"/>
<line x1="69.15" y1="218.80" x2="72.80" y2="216.00" stroke="#3252e0" stroke-width="1.2" stroke-linecap="round" opacity="1"/>
<line x1="84.50" y1="222.60" x2="83.95" y2="218.80" stroke="#62c836" stroke-width="1.2" stroke-linecap="round" opacity="1"/>
<line x1="83.95" y1="218.80" x2="83.40" y2="215.00" stroke="#3252e0" stroke-width="1.2" stroke-linecap="round" opacity="1"/>
<line x1="84.50" y1="222.60" x2="79.20" y2="224.70" stroke="#62c836" stroke-width="1.2" stroke-linecap="round" opacity="1"/>
<line x1="79.20" y1="224.70" x2="73.90" y2="226.80" stroke="#3252e0" stroke-width="1.2" stroke-linecap="round" opacity="1"/>
<line x1="74.50" y1="170.40" x2="73.90" y2="184.60" stroke="#3658e6" stroke-width="1.3" stroke-linecap="round" opacity="1"/>
<line x1="43.20" y1="227.30" x2="53.80" y2="219.50" stroke="#3658e6" stroke-width="1.3" stroke-linecap="round" opacity="1"/>
<line x1="107.20" y1="226.30" x2="97.10" y2="220.50" stroke="#3658e6" stroke-width="1.3" stroke-linecap="round" opacity="1"/>
<line x1="74.50" y1="170.40" x2="65.50" y2="167.40" stroke="#b8986c" stroke-width="1.0" stroke-linecap="round" opacity="1"/>
<line x1="74.50" y1="170.40" x2="83.50" y2="167.40" stroke="#b8986c" stroke-width="1.0" stroke-linecap="round" opacity="1"/>
<line x1="74.50" y1="170.40" x2="75.50" y2="178.40" stroke="#b8986c" stroke-width="1.0" stroke-linecap="round" opacity="1"/>
<line x1="43.20" y1="227.30" x2="34.20" y2="224.30" stroke="#b8986c" stroke-width="1.0" stroke-linecap="round" opacity="1"/>
<line x1="43.20" y1="227.30" x2="52.20" y2="224.30" stroke="#b8986c" stroke-width="1.0" stroke-linecap="round" opacity="1"/>
<line x1="43.20" y1="227.30" x2="44.20" y2="235.30" stroke="#b8986c" stroke-width="1.0" stroke-linecap="round" opacity="1"/>
<line x1="107.20" y1="226.30" x2="98.20" y2="223.30" stroke="#b8986c" stroke-width="1.0" stroke-linecap="round" opacity="1"/>
<line x1="107.20" y1="226.30" x2="116.20" y2="223.30" stroke="#b8986c" stroke-width="1.0" stroke-linecap="round" opacity="1"/>
<line x1="107.20" y1="226.30" x2="108.20" y2="234.30" stroke="#b8986c" stroke-width="1.0" stroke-linecap="round" opacity="1"/>
<circle cx="62.30" cy="188.80" r="1.8" fill="url(#gSe)"/>
<circle cx="84.50" cy="186.70" r="1.8" fill="url(#gSe)"/>
<circle cx="51.70" cy="206.80" r="1.8" fill="url(#gSe)"/>
<circle cx="97.10" cy="206.80" r="1.8" fill="url(#gSe)"/>
<circle cx="65.50" cy="227.90" r="1.8" fill="url(#gSe)"/>
<circle cx="89.70" cy="229.00" r="1.8" fill="url(#gSe)"/>
<circle cx="67.60" cy="198.30" r="1.8" fill="url(#gSe)"/>
<circle cx="82.30" cy="198.30" r="1.8" fill="url(#gSe)"/>
<circle cx="57.00" cy="211.00" r="1.8" fill="url(#gSe)"/>
<circle cx="88.00" cy="212.00" r="1.8" fill="url(#gSe)"/>
<circle cx="65.50" cy="221.60" r="1.8" fill="url(#gSe)"/>
<circle cx="84.50" cy="222.60" r="1.8" fill="url(#gSe)"/>
<circle cx="73.90" cy="184.60" r="1.8" fill="url(#gCu)"/>
<circle cx="58.00" cy="198.30" r="1.8" fill="url(#gCu)"/>
<circle cx="91.80" cy="199.40" r="1.8" fill="url(#gCu)"/>
<circle cx="53.80" cy="219.50" r="1.8" fill="url(#gCu)"/>
<circle cx="97.10" cy="220.50" r="1.8" fill="url(#gCu)"/>
<circle cx="73.90" cy="226.80" r="1.8" fill="url(#gCu)"/>
<circle cx="67.60" cy="206.80" r="1.8" fill="url(#gCu)"/>
<circle cx="80.20" cy="205.80" r="1.8" fill="url(#gCu)"/>
<circle cx="72.80" cy="216.00" r="1.8" fill="url(#gCu)"/>
<circle cx="63.30" cy="214.00" r="1.8" fill="url(#gCu)"/>
<circle cx="83.40" cy="215.00" r="1.8" fill="url(#gCu)"/>
<circle cx="75.00" cy="197.00" r="1.8" fill="url(#gCu)"/>
<circle cx="74.50" cy="170.40" r="1.9" fill="url(#gP)"/>
<circle cx="43.20" cy="227.30" r="1.9" fill="url(#gP)"/>
<circle cx="107.20" cy="226.30" r="1.9" fill="url(#gP)"/>
<circle cx="75.50" cy="208.30" r="1.7" fill="url(#gP)"/>
<line x1="60.00" y1="190.00" x2="70.00" y2="236.00" stroke="#d6c2a0" stroke-width="0.9" stroke-linecap="round" opacity="0.85"/>
<line x1="88.00" y1="188.00" x2="97.00" y2="232.00" stroke="#d6c2a0" stroke-width="0.9" stroke-linecap="round" opacity="0.85"/>
<line x1="55.00" y1="222.00" x2="100.00" y2="196.00" stroke="#d6c2a0" stroke-width="0.9" stroke-linecap="round" opacity="0.85"/>
<line x1="64.00" y1="200.00" x2="84.00" y2="234.00" stroke="#d6c2a0" stroke-width="0.9" stroke-linecap="round" opacity="0.85"/>
<line x1="78.00" y1="190.00" x2="62.00" y2="230.00" stroke="#d6c2a0" stroke-width="0.9" stroke-linecap="round" opacity="0.85"/>
<line x1="50.00" y1="205.00" x2="100.00" y2="212.00" stroke="#d6c2a0" stroke-width="0.9" stroke-linecap="round" opacity="0.85"/>
<text x="19.8" y="278.3" font-size="9.6" text-anchor="start"  xml:space="preserve"><tspan fill="#222" font-size="9.60" dy="0.00">[</tspan><tspan fill="#4a5ee6" font-size="9.60" dy="0.00">Cu</tspan><tspan fill="#4a5ee6" font-size="4.80" dy="2.30">14</tspan><tspan fill="#7a3ac8" font-size="9.60" dy="-2.30">(TXP35)</tspan><tspan fill="#7a3ac8" font-size="4.80" dy="2.30">4</tspan><tspan fill="#6ed24a" font-size="9.60" dy="-2.30">(BnSe)</tspan><tspan fill="#6ed24a" font-size="4.80" dy="2.30">12</tspan><tspan fill="#a0a0a0" font-size="9.60" dy="-2.30">H</tspan><tspan fill="#222" font-size="9.60" dy="0.00">]</tspan><tspan fill="#222" font-size="4.80" dy="-4.03">+</tspan></text>
<circle cx="188" cy="207.7" r="43.6" fill="#ffffff" stroke="#9adada" stroke-width="0.8"/>
<polygon points="189.1,196.5 179.8,212.9 188.5,219 197.9,213.5" fill="#6e8ee8" opacity="0.55"/>
<polygon points="189.1,196.5 179.8,212.9 175,205 " fill="#90a8f0" opacity="0.5"/>
<polygon points="189.1,196.5 197.9,213.5 203,204" fill="#a8bcf4" opacity="0.5"/>
<line x1="175.10" y1="187.20" x2="189.50" y2="182.30" stroke="#6ad03a" stroke-width="1.1" stroke-linecap="round" opacity="1"/>
<line x1="175.10" y1="187.20" x2="171.60" y2="197.10" stroke="#3556e4" stroke-width="1.1" stroke-linecap="round" opacity="1"/>
<line x1="198.50" y1="185.80" x2="189.50" y2="182.30" stroke="#6ad03a" stroke-width="1.1" stroke-linecap="round" opacity="1"/>
<line x1="198.50" y1="185.80" x2="206.10" y2="198.30" stroke="#3556e4" stroke-width="1.1" stroke-linecap="round" opacity="1"/>
<line x1="179.80" y1="196.30" x2="171.60" y2="197.10" stroke="#6ad03a" stroke-width="1.1" stroke-linecap="round" opacity="1"/>
<line x1="179.80" y1="196.30" x2="189.50" y2="182.30" stroke="#3556e4" stroke-width="1.1" stroke-linecap="round" opacity="1"/>
<line x1="193.80" y1="194.00" x2="189.50" y2="182.30" stroke="#6ad03a" stroke-width="1.1" stroke-linecap="round" opacity="1"/>
<line x1="193.80" y1="194.00" x2="206.10" y2="198.30" stroke="#3556e4" stroke-width="1.1" stroke-linecap="round" opacity="1"/>
<line x1="164.00" y1="209.40" x2="171.60" y2="197.10" stroke="#6ad03a" stroke-width="1.1" stroke-linecap="round" opacity="1"/>
<line x1="164.00" y1="209.40" x2="165.20" y2="219.90" stroke="#3556e4" stroke-width="1.1" stroke-linecap="round" opacity="1"/>
<line x1="174.50" y1="210.00" x2="171.60" y2="197.10" stroke="#6ad03a" stroke-width="1.1" stroke-linecap="round" opacity="1"/>
<line x1="174.50" y1="210.00" x2="165.20" y2="219.90" stroke="#3556e4" stroke-width="1.1" stroke-linecap="round" opacity="1"/>
<line x1="203.10" y1="205.30" x2="206.10" y2="198.30" stroke="#6ad03a" stroke-width="1.1" stroke-linecap="round" opacity="1"/>
<line x1="203.10" y1="205.30" x2="210.70" y2="221.60" stroke="#3556e4" stroke-width="1.1" stroke-linecap="round" opacity="1"/>
<line x1="212.80" y1="206.50" x2="206.10" y2="198.30" stroke="#6ad03a" stroke-width="1.1" stroke-linecap="round" opacity="1"/>
<line x1="212.80" y1="206.50" x2="210.70" y2="221.60" stroke="#3556e4" stroke-width="1.1" stroke-linecap="round" opacity="1"/>
<line x1="183.90" y1="221.00" x2="165.20" y2="219.90" stroke="#6ad03a" stroke-width="1.1" stroke-linecap="round" opacity="1"/>
<line x1="183.90" y1="221.00" x2="188.00" y2="227.50" stroke="#3556e4" stroke-width="1.1" stroke-linecap="round" opacity="1"/>
<line x1="197.90" y1="219.30" x2="210.70" y2="221.60" stroke="#6ad03a" stroke-width="1.1" stroke-linecap="round" opacity="1"/>
<line x1="197.90" y1="219.30" x2="188.00" y2="227.50" stroke="#3556e4" stroke-width="1.1" stroke-linecap="round" opacity="1"/>
<line x1="177.40" y1="229.00" x2="165.20" y2="219.90" stroke="#6ad03a" stroke-width="1.1" stroke-linecap="round" opacity="1"/>
<line x1="177.40" y1="229.00" x2="188.00" y2="227.50" stroke="#3556e4" stroke-width="1.1" stroke-linecap="round" opacity="1"/>
<line x1="203.10" y1="228.10" x2="210.70" y2="221.60" stroke="#6ad03a" stroke-width="1.1" stroke-linecap="round" opacity="1"/>
<line x1="203.10" y1="228.10" x2="188.00" y2="227.50" stroke="#3556e4" stroke-width="1.1" stroke-linecap="round" opacity="1"/>
<line x1="189.10" y1="196.50" x2="179.80" y2="212.90" stroke="#3556e4" stroke-width="1.1" stroke-linecap="round" opacity="1"/>
<line x1="189.10" y1="196.50" x2="197.90" y2="213.50" stroke="#3556e4" stroke-width="1.1" stroke-linecap="round" opacity="1"/>
<line x1="189.10" y1="196.50" x2="188.50" y2="219.00" stroke="#3556e4" stroke-width="1.1" stroke-linecap="round" opacity="1"/>
<line x1="179.80" y1="212.90" x2="197.90" y2="213.50" stroke="#3556e4" stroke-width="1.1" stroke-linecap="round" opacity="1"/>
<line x1="179.80" y1="212.90" x2="188.50" y2="219.00" stroke="#3556e4" stroke-width="1.1" stroke-linecap="round" opacity="1"/>
<line x1="197.90" y1="213.50" x2="188.50" y2="219.00" stroke="#3556e4" stroke-width="1.1" stroke-linecap="round" opacity="1"/>
<line x1="189.10" y1="196.50" x2="189.50" y2="182.30" stroke="#3556e4" stroke-width="0.9" stroke-linecap="round" opacity="1"/>
<line x1="189.10" y1="196.50" x2="171.60" y2="197.10" stroke="#3556e4" stroke-width="0.9" stroke-linecap="round" opacity="1"/>
<line x1="189.10" y1="196.50" x2="206.10" y2="198.30" stroke="#3556e4" stroke-width="0.9" stroke-linecap="round" opacity="1"/>
<line x1="179.80" y1="212.90" x2="171.60" y2="197.10" stroke="#3556e4" stroke-width="0.9" stroke-linecap="round" opacity="1"/>
<line x1="179.80" y1="212.90" x2="165.20" y2="219.90" stroke="#3556e4" stroke-width="0.9" stroke-linecap="round" opacity="1"/>
<line x1="179.80" y1="212.90" x2="188.00" y2="227.50" stroke="#3556e4" stroke-width="0.9" stroke-linecap="round" opacity="1"/>
<line x1="197.90" y1="213.50" x2="206.10" y2="198.30" stroke="#3556e4" stroke-width="0.9" stroke-linecap="round" opacity="1"/>
<line x1="197.90" y1="213.50" x2="210.70" y2="221.60" stroke="#3556e4" stroke-width="0.9" stroke-linecap="round" opacity="1"/>
<line x1="197.90" y1="213.50" x2="188.00" y2="227.50" stroke="#3556e4" stroke-width="0.9" stroke-linecap="round" opacity="1"/>
<line x1="188.50" y1="219.00" x2="188.00" y2="227.50" stroke="#3556e4" stroke-width="0.9" stroke-linecap="round" opacity="1"/>
<line x1="175.10" y1="187.20" x2="189.10" y2="196.50" stroke="#6ad03a" stroke-width="0.9" stroke-linecap="round" opacity="1"/>
<line x1="198.50" y1="185.80" x2="189.10" y2="196.50" stroke="#6ad03a" stroke-width="0.9" stroke-linecap="round" opacity="1"/>
<line x1="179.80" y1="196.30" x2="189.10" y2="196.50" stroke="#6ad03a" stroke-width="0.9" stroke-linecap="round" opacity="1"/>
<line x1="193.80" y1="194.00" x2="189.10" y2="196.50" stroke="#6ad03a" stroke-width="0.9" stroke-linecap="round" opacity="1"/>
<line x1="164.00" y1="209.40" x2="179.80" y2="212.90" stroke="#6ad03a" stroke-width="0.9" stroke-linecap="round" opacity="1"/>
<line x1="174.50" y1="210.00" x2="179.80" y2="212.90" stroke="#6ad03a" stroke-width="0.9" stroke-linecap="round" opacity="1"/>
<line x1="203.10" y1="205.30" x2="197.90" y2="213.50" stroke="#6ad03a" stroke-width="0.9" stroke-linecap="round" opacity="1"/>
<line x1="212.80" y1="206.50" x2="197.90" y2="213.50" stroke="#6ad03a" stroke-width="0.9" stroke-linecap="round" opacity="1"/>
<line x1="183.90" y1="221.00" x2="188.50" y2="219.00" stroke="#6ad03a" stroke-width="0.9" stroke-linecap="round" opacity="1"/>
<line x1="197.90" y1="219.30" x2="197.90" y2="213.50" stroke="#6ad03a" stroke-width="0.9" stroke-linecap="round" opacity="1"/>
<line x1="177.40" y1="229.00" x2="188.50" y2="219.00" stroke="#6ad03a" stroke-width="0.9" stroke-linecap="round" opacity="1"/>
<line x1="203.10" y1="228.10" x2="197.90" y2="213.50" stroke="#6ad03a" stroke-width="0.9" stroke-linecap="round" opacity="1"/>
<line x1="189.50" y1="168.50" x2="189.50" y2="182.30" stroke="#8a30d0" stroke-width="1.2" stroke-linecap="round" opacity="1"/>
<line x1="153.50" y1="226.30" x2="165.20" y2="219.90" stroke="#8a30d0" stroke-width="1.2" stroke-linecap="round" opacity="1"/>
<line x1="221.80" y1="228.60" x2="210.70" y2="221.60" stroke="#8a30d0" stroke-width="1.2" stroke-linecap="round" opacity="1"/>
<circle cx="175.10" cy="187.20" r="1.9" fill="url(#gSe)"/>
<circle cx="198.50" cy="185.80" r="1.9" fill="url(#gSe)"/>
<circle cx="179.80" cy="196.30" r="1.9" fill="url(#gSe)"/>
<circle cx="193.80" cy="194.00" r="1.9" fill="url(#gSe)"/>
<circle cx="164.00" cy="209.40" r="1.9" fill="url(#gSe)"/>
<circle cx="174.50" cy="210.00" r="1.9" fill="url(#gSe)"/>
<circle cx="203.10" cy="205.30" r="1.9" fill="url(#gSe)"/>
<circle cx="212.80" cy="206.50" r="1.9" fill="url(#gSe)"/>
<circle cx="183.90" cy="221.00" r="1.9" fill="url(#gSe)"/>
<circle cx="197.90" cy="219.30" r="1.9" fill="url(#gSe)"/>
<circle cx="177.40" cy="229.00" r="1.9" fill="url(#gSe)"/>
<circle cx="203.10" cy="228.10" r="1.9" fill="url(#gSe)"/>
<circle cx="189.50" cy="182.30" r="2.0" fill="url(#gCu)"/>
<circle cx="171.60" cy="197.10" r="2.0" fill="url(#gCu)"/>
<circle cx="206.10" cy="198.30" r="2.0" fill="url(#gCu)"/>
<circle cx="165.20" cy="219.90" r="2.0" fill="url(#gCu)"/>
<circle cx="210.70" cy="221.60" r="2.0" fill="url(#gCu)"/>
<circle cx="188.00" cy="227.50" r="2.0" fill="url(#gCu)"/>
<circle cx="189.10" cy="196.50" r="2.0" fill="url(#gCu)"/>
<circle cx="179.80" cy="212.90" r="2.0" fill="url(#gCu)"/>
<circle cx="197.90" cy="213.50" r="2.0" fill="url(#gCu)"/>
<circle cx="188.50" cy="219.00" r="2.0" fill="url(#gCu)"/>
<circle cx="189.50" cy="168.50" r="1.7" fill="url(#gP)"/>
<circle cx="153.50" cy="226.30" r="1.7" fill="url(#gP)"/>
<circle cx="221.80" cy="228.60" r="1.7" fill="url(#gP)"/>
<circle cx="189.10" cy="207.60" r="1.7" fill="url(#gP)"/>
<g transform="translate(238.00,182.00) rotate(-22)"><polyline points="-3.2,-5.6 1.6,0 -3.2,5.6" fill="none" stroke="#a6dfe0" stroke-width="1.9" stroke-linejoin="miter"/><polyline points="-3.2,-5.6 1.6,0 -3.2,5.6" fill="none" stroke="#e6f8f8" stroke-width="0.5"/></g>
<g transform="translate(241.00,180.00) rotate(-22)"><polyline points="-3.2,-5.6 1.6,0 -3.2,5.6" fill="none" stroke="#a6dfe0" stroke-width="1.9" stroke-linejoin="miter"/><polyline points="-3.2,-5.6 1.6,0 -3.2,5.6" fill="none" stroke="#e6f8f8" stroke-width="0.5"/></g>
<g transform="translate(244.00,178.00) rotate(-22)"><polyline points="-3.2,-5.6 1.6,0 -3.2,5.6" fill="none" stroke="#a6dfe0" stroke-width="1.9" stroke-linejoin="miter"/><polyline points="-3.2,-5.6 1.6,0 -3.2,5.6" fill="none" stroke="#e6f8f8" stroke-width="0.5"/></g>
<g transform="translate(238.00,233.50) rotate(22)"><polyline points="-3.2,-5.6 1.6,0 -3.2,5.6" fill="none" stroke="#a6dfe0" stroke-width="1.9" stroke-linejoin="miter"/><polyline points="-3.2,-5.6 1.6,0 -3.2,5.6" fill="none" stroke="#e6f8f8" stroke-width="0.5"/></g>
<g transform="translate(241.20,234.70) rotate(22)"><polyline points="-3.2,-5.6 1.6,0 -3.2,5.6" fill="none" stroke="#a6dfe0" stroke-width="1.9" stroke-linejoin="miter"/><polyline points="-3.2,-5.6 1.6,0 -3.2,5.6" fill="none" stroke="#e6f8f8" stroke-width="0.5"/></g>
<g transform="translate(244.40,235.90) rotate(22)"><polyline points="-3.2,-5.6 1.6,0 -3.2,5.6" fill="none" stroke="#a6dfe0" stroke-width="1.9" stroke-linejoin="miter"/><polyline points="-3.2,-5.6 1.6,0 -3.2,5.6" fill="none" stroke="#e6f8f8" stroke-width="0.5"/></g>
<polygon points="267.9,150.9 285.7,146 297.9,151.7 299.4,172.9 281.5,177.5 269.4,172.2" fill="#c6cce4"/>
<polygon points="267.9,150.9 269.4,172.2 281.5,177.5" fill="#b0b8d8"/>
<polygon points="297.9,151.7 299.4,172.9 281.5,177.5" fill="#bcc4e0"/>
<line x1="276" y1="168.5" x2="292" y2="155" stroke="#8088a8" stroke-width="1.1"/>
<line x1="284" y1="150" x2="284.5" y2="172" stroke="#eef2fa" stroke-width="1.3"/>
<line x1="272" y1="158" x2="296" y2="166" stroke="#e4e8f4" stroke-width="0.8"/>
<line x1="285.70" y1="146.00" x2="269.40" y2="172.20" stroke="#4a68e6" stroke-width="1.1" stroke-linecap="round" opacity="1"/>
<line x1="269.40" y1="172.20" x2="299.40" y2="172.90" stroke="#4a68e6" stroke-width="1.1" stroke-linecap="round" opacity="1"/>
<line x1="285.70" y1="146.00" x2="299.40" y2="172.90" stroke="#4a68e6" stroke-width="1.1" stroke-linecap="round" opacity="1"/>
<line x1="285.70" y1="146.00" x2="297.90" y2="151.70" stroke="#3050e4" stroke-width="1.7" stroke-linecap="round" opacity="1"/>
<line x1="297.90" y1="151.70" x2="299.40" y2="172.90" stroke="#3050e4" stroke-width="1.7" stroke-linecap="round" opacity="1"/>
<line x1="299.40" y1="172.90" x2="281.50" y2="177.50" stroke="#3050e4" stroke-width="1.7" stroke-linecap="round" opacity="1"/>
<line x1="281.50" y1="177.50" x2="269.40" y2="172.20" stroke="#3050e4" stroke-width="1.7" stroke-linecap="round" opacity="1"/>
<line x1="269.40" y1="172.20" x2="267.90" y2="150.90" stroke="#3050e4" stroke-width="1.7" stroke-linecap="round" opacity="1"/>
<line x1="267.90" y1="150.90" x2="285.70" y2="146.00" stroke="#3050e4" stroke-width="1.7" stroke-linecap="round" opacity="1"/>
<line x1="267.90" y1="150.90" x2="297.90" y2="151.70" stroke="#3050e4" stroke-width="1.7" stroke-linecap="round" opacity="1"/>
<line x1="297.90" y1="151.70" x2="281.50" y2="177.50" stroke="#3050e4" stroke-width="1.7" stroke-linecap="round" opacity="1"/>
<line x1="267.90" y1="150.90" x2="281.50" y2="177.50" stroke="#3050e4" stroke-width="1.7" stroke-linecap="round" opacity="1"/>
<circle cx="285.70" cy="146.00" r="3.4" fill="url(#gCu)"/>
<circle cx="267.90" cy="150.90" r="3.4" fill="url(#gCu)"/>
<circle cx="297.90" cy="151.70" r="3.4" fill="url(#gCu)"/>
<circle cx="269.40" cy="172.20" r="3.4" fill="url(#gCu)"/>
<circle cx="299.40" cy="172.90" r="3.4" fill="url(#gCu)"/>
<circle cx="281.50" cy="177.50" r="3.4" fill="url(#gCu)"/>
<text x="261.6" y="193.7" font-size="9.7" text-anchor="start"  xml:space="preserve"><tspan fill="#5a72ee" font-size="9.70" dy="0.00">Cu</tspan><tspan fill="#5a72ee" font-size="4.85" dy="2.33">6</tspan><tspan fill="#a8a8a8" font-size="9.70" dy="-2.33">H</tspan><tspan fill="#1a1a1a" font-size="9.70" dy="0.00"> Core</tspan></text>
<text x="283.9" y="204.8" font-size="10.5" fill="#1a1a1a" text-anchor="middle" font-weight="normal" >+</text>
<line x1="283.90" y1="222.50" x2="277.60" y2="225.25" stroke="#3556e4" stroke-width="1.1" stroke-linecap="round" opacity="1"/>
<line x1="277.60" y1="225.25" x2="271.30" y2="228.00" stroke="#6ad03a" stroke-width="1.1" stroke-linecap="round" opacity="1"/>
<line x1="271.30" y1="228.00" x2="269.35" y2="232.65" stroke="#6ad03a" stroke-width="1.1" stroke-linecap="round" opacity="1"/>
<line x1="269.35" y1="232.65" x2="267.40" y2="237.30" stroke="#3556e4" stroke-width="1.1" stroke-linecap="round" opacity="1"/>
<line x1="267.40" y1="237.30" x2="263.85" y2="243.05" stroke="#3556e4" stroke-width="1.1" stroke-linecap="round" opacity="1"/>
<line x1="263.85" y1="243.05" x2="260.30" y2="248.80" stroke="#6ad03a" stroke-width="1.1" stroke-linecap="round" opacity="1"/>
<line x1="260.30" y1="248.80" x2="260.85" y2="253.45" stroke="#6ad03a" stroke-width="1.1" stroke-linecap="round" opacity="1"/>
<line x1="260.85" y1="253.45" x2="261.40" y2="258.10" stroke="#3556e4" stroke-width="1.1" stroke-linecap="round" opacity="1"/>
<line x1="261.40" y1="258.10" x2="266.90" y2="262.50" stroke="#3556e4" stroke-width="1.1" stroke-linecap="round" opacity="1"/>
<line x1="266.90" y1="262.50" x2="272.40" y2="266.90" stroke="#6ad03a" stroke-width="1.1" stroke-linecap="round" opacity="1"/>
<line x1="272.40" y1="266.90" x2="277.05" y2="265.80" stroke="#6ad03a" stroke-width="1.1" stroke-linecap="round" opacity="1"/>
<line x1="277.05" y1="265.80" x2="281.70" y2="264.70" stroke="#3556e4" stroke-width="1.1" stroke-linecap="round" opacity="1"/>
<line x1="281.70" y1="264.70" x2="288.55" y2="264.95" stroke="#3556e4" stroke-width="1.1" stroke-linecap="round" opacity="1"/>
<line x1="288.55" y1="264.95" x2="295.40" y2="265.20" stroke="#6ad03a" stroke-width="1.1" stroke-linecap="round" opacity="1"/>
<line x1="295.40" y1="265.20" x2="299.20" y2="262.45" stroke="#6ad03a" stroke-width="1.1" stroke-linecap="round" opacity="1"/>
<line x1="299.20" y1="262.45" x2="303.00" y2="259.70" stroke="#3556e4" stroke-width="1.1" stroke-linecap="round" opacity="1"/>
<line x1="303.00" y1="259.70" x2="303.85" y2="252.90" stroke="#3556e4" stroke-width="1.1" stroke-linecap="round" opacity="1"/>
<line x1="303.85" y1="252.90" x2="304.70" y2="246.10" stroke="#6ad03a" stroke-width="1.1" stroke-linecap="round" opacity="1"/>
<line x1="304.70" y1="246.10" x2="301.95" y2="242.50" stroke="#6ad03a" stroke-width="1.1" stroke-linecap="round" opacity="1"/>
<line x1="301.95" y1="242.50" x2="299.20" y2="238.90" stroke="#3556e4" stroke-width="1.1" stroke-linecap="round" opacity="1"/>
<line x1="299.20" y1="238.90" x2="295.90" y2="232.65" stroke="#3556e4" stroke-width="1.1" stroke-linecap="round" opacity="1"/>
<line x1="295.90" y1="232.65" x2="292.60" y2="226.40" stroke="#6ad03a" stroke-width="1.1" stroke-linecap="round" opacity="1"/>
<line x1="292.60" y1="226.40" x2="288.25" y2="224.45" stroke="#6ad03a" stroke-width="1.1" stroke-linecap="round" opacity="1"/>
<line x1="288.25" y1="224.45" x2="283.90" y2="222.50" stroke="#3556e4" stroke-width="1.1" stroke-linecap="round" opacity="1"/>
<line x1="267.40" y1="237.30" x2="271.25" y2="237.15" stroke="#3556e4" stroke-width="1.0" stroke-linecap="round" opacity="1"/>
<line x1="271.25" y1="237.15" x2="275.10" y2="237.00" stroke="#6ad03a" stroke-width="1.0" stroke-linecap="round" opacity="1"/>
<line x1="275.10" y1="237.00" x2="278.95" y2="242.10" stroke="#6ad03a" stroke-width="1.0" stroke-linecap="round" opacity="1"/>
<line x1="278.95" y1="242.10" x2="282.80" y2="247.20" stroke="#3556e4" stroke-width="1.0" stroke-linecap="round" opacity="1"/>
<line x1="261.40" y1="258.10" x2="265.25" y2="253.45" stroke="#3556e4" stroke-width="1.0" stroke-linecap="round" opacity="1"/>
<line x1="265.25" y1="253.45" x2="269.10" y2="248.80" stroke="#6ad03a" stroke-width="1.0" stroke-linecap="round" opacity="1"/>
<line x1="269.10" y1="248.80" x2="275.95" y2="248.00" stroke="#6ad03a" stroke-width="1.0" stroke-linecap="round" opacity="1"/>
<line x1="275.95" y1="248.00" x2="282.80" y2="247.20" stroke="#3556e4" stroke-width="1.0" stroke-linecap="round" opacity="1"/>
<line x1="281.70" y1="264.70" x2="279.75" y2="261.70" stroke="#3556e4" stroke-width="1.0" stroke-linecap="round" opacity="1"/>
<line x1="279.75" y1="261.70" x2="277.80" y2="258.70" stroke="#6ad03a" stroke-width="1.0" stroke-linecap="round" opacity="1"/>
<line x1="277.80" y1="258.70" x2="280.30" y2="252.95" stroke="#6ad03a" stroke-width="1.0" stroke-linecap="round" opacity="1"/>
<line x1="280.30" y1="252.95" x2="282.80" y2="247.20" stroke="#3556e4" stroke-width="1.0" stroke-linecap="round" opacity="1"/>
<line x1="303.00" y1="259.70" x2="297.25" y2="258.65" stroke="#3556e4" stroke-width="1.0" stroke-linecap="round" opacity="1"/>
<line x1="297.25" y1="258.65" x2="291.50" y2="257.60" stroke="#6ad03a" stroke-width="1.0" stroke-linecap="round" opacity="1"/>
<line x1="291.50" y1="257.60" x2="287.15" y2="252.40" stroke="#6ad03a" stroke-width="1.0" stroke-linecap="round" opacity="1"/>
<line x1="287.15" y1="252.40" x2="282.80" y2="247.20" stroke="#3556e4" stroke-width="1.0" stroke-linecap="round" opacity="1"/>
<line x1="299.20" y1="238.90" x2="297.55" y2="242.10" stroke="#3556e4" stroke-width="1.0" stroke-linecap="round" opacity="1"/>
<line x1="297.55" y1="242.10" x2="295.90" y2="245.30" stroke="#6ad03a" stroke-width="1.0" stroke-linecap="round" opacity="1"/>
<line x1="295.90" y1="245.30" x2="289.35" y2="246.25" stroke="#6ad03a" stroke-width="1.0" stroke-linecap="round" opacity="1"/>
<line x1="289.35" y1="246.25" x2="282.80" y2="247.20" stroke="#3556e4" stroke-width="1.0" stroke-linecap="round" opacity="1"/>
<line x1="283.90" y1="222.50" x2="285.55" y2="228.25" stroke="#3556e4" stroke-width="1.0" stroke-linecap="round" opacity="1"/>
<line x1="285.55" y1="228.25" x2="287.20" y2="234.00" stroke="#6ad03a" stroke-width="1.0" stroke-linecap="round" opacity="1"/>
<line x1="287.20" y1="234.00" x2="285.00" y2="240.60" stroke="#6ad03a" stroke-width="1.0" stroke-linecap="round" opacity="1"/>
<line x1="285.00" y1="240.60" x2="282.80" y2="247.20" stroke="#3556e4" stroke-width="1.0" stroke-linecap="round" opacity="1"/>
<line x1="284.40" y1="210.50" x2="283.90" y2="222.50" stroke="#9a40d8" stroke-width="1.2" stroke-linecap="round" opacity="1"/>
<line x1="249.90" y1="263.60" x2="261.40" y2="258.10" stroke="#9a40d8" stroke-width="1.2" stroke-linecap="round" opacity="1"/>
<line x1="312.90" y1="266.90" x2="303.00" y2="259.70" stroke="#9a40d8" stroke-width="1.2" stroke-linecap="round" opacity="1"/>
<circle cx="271.30" cy="228.00" r="1.9" fill="url(#gSe)"/>
<circle cx="292.60" cy="226.40" r="1.9" fill="url(#gSe)"/>
<circle cx="287.20" cy="234.00" r="1.9" fill="url(#gSe)"/>
<circle cx="275.10" cy="237.00" r="1.9" fill="url(#gSe)"/>
<circle cx="304.70" cy="246.10" r="1.9" fill="url(#gSe)"/>
<circle cx="295.90" cy="245.30" r="1.9" fill="url(#gSe)"/>
<circle cx="260.30" cy="248.80" r="1.9" fill="url(#gSe)"/>
<circle cx="269.10" cy="248.80" r="1.9" fill="url(#gSe)"/>
<circle cx="277.80" cy="258.70" r="1.9" fill="url(#gSe)"/>
<circle cx="291.50" cy="257.60" r="1.9" fill="url(#gSe)"/>
<circle cx="272.40" cy="266.90" r="1.9" fill="url(#gSe)"/>
<circle cx="295.40" cy="265.20" r="1.9" fill="url(#gSe)"/>
<circle cx="283.90" cy="222.50" r="2.0" fill="url(#gCu)"/>
<circle cx="267.40" cy="237.30" r="2.0" fill="url(#gCu)"/>
<circle cx="299.20" cy="238.90" r="2.0" fill="url(#gCu)"/>
<circle cx="261.40" cy="258.10" r="2.0" fill="url(#gCu)"/>
<circle cx="303.00" cy="259.70" r="2.0" fill="url(#gCu)"/>
<circle cx="281.70" cy="264.70" r="2.0" fill="url(#gCu)"/>
<circle cx="284.40" cy="210.50" r="1.7" fill="url(#gP)"/>
<circle cx="249.90" cy="263.60" r="1.7" fill="url(#gP)"/>
<circle cx="312.90" cy="266.90" r="1.7" fill="url(#gP)"/>
<circle cx="282.80" cy="247.20" r="1.7" fill="url(#gP)"/>
<text x="253.0" y="286.6" font-size="9.6" text-anchor="start"  xml:space="preserve"><tspan fill="#5a72ee" font-size="9.60" dy="0.00">Cu</tspan><tspan fill="#5a72ee" font-size="4.80" dy="2.30">6</tspan><tspan fill="#6ed24a" font-size="9.60" dy="-2.30">Se</tspan><tspan fill="#6ed24a" font-size="4.80" dy="2.30">12</tspan><tspan fill="#7a3ac8" font-size="9.60" dy="-2.30">P</tspan><tspan fill="#7a3ac8" font-size="4.80" dy="2.30">4</tspan><tspan fill="#1a1a1a" font-size="9.60" dy="-2.30"> Shell</tspan></text>
<defs><linearGradient id="cg1" gradientUnits="userSpaceOnUse" x1="0" y1="297.6" x2="0" y2="355.6"><stop offset="0" stop-color="#b2e6d8"/><stop offset="0.6" stop-color="#98d8ca"/><stop offset="1" stop-color="#70bab2"/></linearGradient></defs>
<polygon points="75.5,355.6 75.5,355.6 76.5,355.6 77.5,355.6 78.5,355.6 79.5,355.5 80.5,355.5 81.5,355.5 82.5,355.5 83.5,355.4 84.5,355.4 85.5,355.3 86.5,355.3 87.5,355.2 88.5,355.1 89.5,355.0 90.5,354.8 91.5,354.6 92.5,354.4 93.5,354.2 94.5,353.9 95.5,353.5 96.5,353.1 97.5,352.7 98.5,352.1 99.5,351.5 100.5,350.8 101.5,350.1 102.5,349.2 103.5,348.2 104.5,347.1 105.5,345.9 106.5,344.5 107.5,343.1 108.5,341.5 109.5,339.8 110.5,338.0 111.5,336.1 112.5,334.0 113.5,331.9 114.5,329.7 115.5,327.4 116.5,325.0 117.5,322.6 118.5,320.2 119.5,317.8 120.5,315.5 121.5,313.2 122.5,310.9 123.5,308.8 124.5,306.8 125.5,305.0 126.5,303.4 127.5,301.9 128.5,300.7 129.5,299.8 130.5,299.1 131.5,298.6 132.5,298.5 133.5,298.6 134.5,299.0 135.5,299.6 136.5,300.5 137.5,301.7 138.5,303.1 139.5,304.7 140.5,306.5 141.5,308.4 142.5,310.5 143.5,312.7 144.5,315.0 145.5,317.4 146.5,319.7 147.5,322.2 148.5,324.5 149.5,326.9 150.5,329.2 151.5,331.5 152.5,333.6 153.5,335.7 154.5,337.6 155.5,339.5 156.5,341.2 157.5,342.8 158.5,344.3 159.5,345.6 160.5,346.9 161.5,348.0 162.5,349.0 163.5,349.9 164.5,350.7 165.5,351.4 166.5,352.0 167.5,352.6 168.5,353.0 169.5,353.5 170.5,353.8 171.5,354.1 172.5,354.4 173.5,354.6 174.5,354.8 175.5,354.9 176.5,355.1 177.5,355.2 178.5,355.2 179.5,355.3 180.5,355.4 181.5,355.4 182.5,355.5 183.5,355.5 184.5,355.5 185.5,355.5 186.5,355.5 187.5,355.6 188.0,355.6" fill="#d4f1e8"/>
<line x1="76.50" y1="355.6" x2="76.50" y2="355.30" stroke="url(#cg1)" stroke-width="1.15"/>
<line x1="78.50" y1="355.6" x2="78.50" y2="355.30" stroke="url(#cg1)" stroke-width="1.15"/>
<line x1="80.50" y1="355.6" x2="80.50" y2="355.30" stroke="url(#cg1)" stroke-width="1.15"/>
<line x1="82.50" y1="355.6" x2="82.50" y2="355.30" stroke="url(#cg1)" stroke-width="1.15"/>
<line x1="84.50" y1="355.6" x2="84.50" y2="355.30" stroke="url(#cg1)" stroke-width="1.15"/>
<line x1="86.50" y1="355.6" x2="86.50" y2="355.25" stroke="url(#cg1)" stroke-width="1.15"/>
<line x1="88.50" y1="355.6" x2="88.50" y2="355.07" stroke="url(#cg1)" stroke-width="1.15"/>
<line x1="90.50" y1="355.6" x2="90.50" y2="354.79" stroke="url(#cg1)" stroke-width="1.15"/>
<line x1="92.50" y1="355.6" x2="92.50" y2="354.40" stroke="url(#cg1)" stroke-width="1.15"/>
<line x1="92.20" y1="354.90" x2="92.20" y2="354.03" stroke="#7088d0" stroke-width="0.8"/>
<line x1="94.50" y1="355.6" x2="94.50" y2="353.85" stroke="url(#cg1)" stroke-width="1.15"/>
<line x1="94.20" y1="354.35" x2="94.20" y2="353.35" stroke="#7088d0" stroke-width="0.8"/>
<line x1="96.50" y1="355.6" x2="96.50" y2="353.10" stroke="url(#cg1)" stroke-width="1.15"/>
<line x1="96.20" y1="353.60" x2="96.20" y2="352.42" stroke="#7088d0" stroke-width="0.8"/>
<line x1="98.50" y1="355.6" x2="98.50" y2="352.09" stroke="url(#cg1)" stroke-width="1.15"/>
<line x1="98.20" y1="352.59" x2="98.20" y2="351.20" stroke="#7088d0" stroke-width="0.8"/>
<line x1="100.50" y1="355.6" x2="100.50" y2="350.77" stroke="url(#cg1)" stroke-width="1.15"/>
<line x1="100.20" y1="351.27" x2="100.20" y2="349.62" stroke="#7088d0" stroke-width="0.8"/>
<line x1="102.50" y1="355.6" x2="102.50" y2="349.07" stroke="url(#cg1)" stroke-width="1.15"/>
<line x1="102.20" y1="349.57" x2="102.20" y2="347.64" stroke="#7088d0" stroke-width="0.8"/>
<line x1="104.50" y1="355.6" x2="104.50" y2="346.96" stroke="url(#cg1)" stroke-width="1.15"/>
<line x1="104.20" y1="347.46" x2="104.20" y2="345.20" stroke="#7088d0" stroke-width="0.8"/>
<line x1="106.50" y1="355.6" x2="106.50" y2="344.38" stroke="url(#cg1)" stroke-width="1.15"/>
<line x1="106.20" y1="344.88" x2="106.20" y2="342.28" stroke="#7088d0" stroke-width="0.8"/>
<line x1="108.50" y1="355.6" x2="108.50" y2="341.30" stroke="url(#cg1)" stroke-width="1.15"/>
<line x1="108.20" y1="341.80" x2="108.20" y2="338.86" stroke="#7088d0" stroke-width="0.8"/>
<line x1="110.50" y1="355.6" x2="110.50" y2="337.74" stroke="url(#cg1)" stroke-width="1.15"/>
<line x1="110.20" y1="338.24" x2="110.20" y2="334.96" stroke="#7088d0" stroke-width="0.8"/>
<line x1="112.50" y1="355.6" x2="112.50" y2="333.70" stroke="url(#cg1)" stroke-width="1.15"/>
<line x1="112.20" y1="334.20" x2="112.20" y2="330.64" stroke="#7088d0" stroke-width="0.8"/>
<line x1="114.50" y1="355.6" x2="114.50" y2="329.28" stroke="url(#cg1)" stroke-width="1.15"/>
<line x1="114.20" y1="329.78" x2="114.20" y2="325.99" stroke="#7088d0" stroke-width="0.8"/>
<line x1="116.50" y1="355.6" x2="116.50" y2="324.56" stroke="url(#cg1)" stroke-width="1.15"/>
<line x1="116.20" y1="325.06" x2="116.20" y2="321.15" stroke="#7088d0" stroke-width="0.8"/>
<line x1="118.50" y1="355.6" x2="118.50" y2="319.69" stroke="url(#cg1)" stroke-width="1.15"/>
<line x1="118.20" y1="320.19" x2="118.20" y2="316.29" stroke="#7088d0" stroke-width="0.8"/>
<line x1="120.50" y1="355.6" x2="120.50" y2="314.85" stroke="url(#cg1)" stroke-width="1.15"/>
<line x1="120.20" y1="315.35" x2="120.20" y2="311.59" stroke="#7088d0" stroke-width="0.8"/>
<line x1="122.50" y1="355.6" x2="122.50" y2="310.25" stroke="url(#cg1)" stroke-width="1.15"/>
<line x1="122.20" y1="310.75" x2="122.20" y2="307.28" stroke="#7088d0" stroke-width="0.8"/>
<line x1="124.50" y1="355.6" x2="124.50" y2="306.09" stroke="url(#cg1)" stroke-width="1.15"/>
<line x1="124.20" y1="306.59" x2="124.20" y2="303.55" stroke="#7088d0" stroke-width="0.8"/>
<line x1="126.50" y1="355.6" x2="126.50" y2="302.58" stroke="url(#cg1)" stroke-width="1.15"/>
<line x1="126.20" y1="303.08" x2="126.20" y2="300.61" stroke="#7088d0" stroke-width="0.8"/>
<line x1="128.50" y1="355.6" x2="128.50" y2="299.90" stroke="url(#cg1)" stroke-width="1.15"/>
<line x1="128.20" y1="300.40" x2="128.20" y2="298.61" stroke="#7088d0" stroke-width="0.8"/>
<line x1="130.50" y1="355.6" x2="130.50" y2="298.21" stroke="url(#cg1)" stroke-width="1.15"/>
<line x1="130.20" y1="298.71" x2="130.20" y2="297.67" stroke="#7088d0" stroke-width="0.8"/>
<line x1="132.50" y1="355.6" x2="132.50" y2="297.60" stroke="url(#cg1)" stroke-width="1.15"/>
<line x1="134.50" y1="355.6" x2="134.50" y2="298.10" stroke="url(#cg1)" stroke-width="1.15"/>
<line x1="136.50" y1="355.6" x2="136.50" y2="299.69" stroke="url(#cg1)" stroke-width="1.15"/>
<line x1="138.50" y1="355.6" x2="138.50" y2="302.27" stroke="url(#cg1)" stroke-width="1.15"/>
<line x1="140.50" y1="355.6" x2="140.50" y2="305.70" stroke="url(#cg1)" stroke-width="1.15"/>
<line x1="142.50" y1="355.6" x2="142.50" y2="309.81" stroke="url(#cg1)" stroke-width="1.15"/>
<line x1="144.50" y1="355.6" x2="144.50" y2="314.38" stroke="url(#cg1)" stroke-width="1.15"/>
<line x1="146.50" y1="355.6" x2="146.50" y2="319.20" stroke="url(#cg1)" stroke-width="1.15"/>
<line x1="148.50" y1="355.6" x2="148.50" y2="324.07" stroke="url(#cg1)" stroke-width="1.15"/>
<line x1="150.50" y1="355.6" x2="150.50" y2="328.81" stroke="url(#cg1)" stroke-width="1.15"/>
<line x1="152.50" y1="355.6" x2="152.50" y2="333.28" stroke="url(#cg1)" stroke-width="1.15"/>
<line x1="154.50" y1="355.6" x2="154.50" y2="337.35" stroke="url(#cg1)" stroke-width="1.15"/>
<line x1="156.50" y1="355.6" x2="156.50" y2="340.97" stroke="url(#cg1)" stroke-width="1.15"/>
<line x1="158.50" y1="355.6" x2="158.50" y2="344.09" stroke="url(#cg1)" stroke-width="1.15"/>
<line x1="160.50" y1="355.6" x2="160.50" y2="346.72" stroke="url(#cg1)" stroke-width="1.15"/>
<line x1="162.50" y1="355.6" x2="162.50" y2="348.88" stroke="url(#cg1)" stroke-width="1.15"/>
<line x1="164.50" y1="355.6" x2="164.50" y2="350.61" stroke="url(#cg1)" stroke-width="1.15"/>
<line x1="166.50" y1="355.6" x2="166.50" y2="351.97" stroke="url(#cg1)" stroke-width="1.15"/>
<line x1="168.50" y1="355.6" x2="168.50" y2="353.01" stroke="url(#cg1)" stroke-width="1.15"/>
<line x1="170.50" y1="355.6" x2="170.50" y2="353.78" stroke="url(#cg1)" stroke-width="1.15"/>
<line x1="172.50" y1="355.6" x2="172.50" y2="354.35" stroke="url(#cg1)" stroke-width="1.15"/>
<line x1="174.50" y1="355.6" x2="174.50" y2="354.76" stroke="url(#cg1)" stroke-width="1.15"/>
<line x1="176.50" y1="355.6" x2="176.50" y2="355.04" stroke="url(#cg1)" stroke-width="1.15"/>
<line x1="178.50" y1="355.6" x2="178.50" y2="355.24" stroke="url(#cg1)" stroke-width="1.15"/>
<line x1="180.50" y1="355.6" x2="180.50" y2="355.30" stroke="url(#cg1)" stroke-width="1.15"/>
<line x1="182.50" y1="355.6" x2="182.50" y2="355.30" stroke="url(#cg1)" stroke-width="1.15"/>
<line x1="184.50" y1="355.6" x2="184.50" y2="355.30" stroke="url(#cg1)" stroke-width="1.15"/>
<line x1="186.50" y1="355.6" x2="186.50" y2="355.30" stroke="url(#cg1)" stroke-width="1.15"/>
<line x1="75.0" y1="355.3" x2="188.5" y2="355.3" stroke="#7a96d0" stroke-width="1.3"/>
<line x1="74.2" y1="362.0" x2="191.0" y2="362.0" stroke="#333" stroke-width="0.6"/>
<line x1="74.20" y1="362.0" x2="74.20" y2="363.5" stroke="#333" stroke-width="0.5"/>
<line x1="84.33" y1="362.0" x2="84.33" y2="362.9" stroke="#333" stroke-width="0.5"/>
<line x1="94.45" y1="362.0" x2="94.45" y2="363.5" stroke="#333" stroke-width="0.5"/>
<line x1="104.58" y1="362.0" x2="104.58" y2="362.9" stroke="#333" stroke-width="0.5"/>
<line x1="114.70" y1="362.0" x2="114.70" y2="363.5" stroke="#333" stroke-width="0.5"/>
<line x1="124.83" y1="362.0" x2="124.83" y2="362.9" stroke="#333" stroke-width="0.5"/>
<line x1="134.95" y1="362.0" x2="134.95" y2="363.5" stroke="#333" stroke-width="0.5"/>
<line x1="145.07" y1="362.0" x2="145.07" y2="362.9" stroke="#333" stroke-width="0.5"/>
<line x1="155.20" y1="362.0" x2="155.20" y2="363.5" stroke="#333" stroke-width="0.5"/>
<line x1="165.32" y1="362.0" x2="165.32" y2="362.9" stroke="#333" stroke-width="0.5"/>
<line x1="175.45" y1="362.0" x2="175.45" y2="363.5" stroke="#333" stroke-width="0.5"/>
<line x1="185.57" y1="362.0" x2="185.57" y2="362.9" stroke="#333" stroke-width="0.5"/>
<text x="74.20" y="367.4" font-size="3.9" fill="#333" text-anchor="middle" font-weight="normal" >4290</text>
<text x="94.45" y="367.4" font-size="3.9" fill="#333" text-anchor="middle" font-weight="normal" >4300</text>
<text x="114.70" y="367.4" font-size="3.9" fill="#333" text-anchor="middle" font-weight="normal" >4310</text>
<text x="134.95" y="367.4" font-size="3.9" fill="#333" text-anchor="middle" font-weight="normal" >4320</text>
<text x="155.20" y="367.4" font-size="3.9" fill="#333" text-anchor="middle" font-weight="normal" >4330</text>
<text x="175.45" y="367.4" font-size="3.9" fill="#333" text-anchor="middle" font-weight="normal" >4340</text>
<text x="129.20" y="373.8" font-size="4.0" fill="#333" text-anchor="middle" font-weight="normal" font-style="italic">m/z</text>
<defs><linearGradient id="cg2" gradientUnits="userSpaceOnUse" x1="0" y1="386.4" x2="0" y2="439.6"><stop offset="0" stop-color="#b2e6d8"/><stop offset="0.6" stop-color="#98d8ca"/><stop offset="1" stop-color="#70bab2"/></linearGradient></defs>
<polygon points="75.0,439.6 75.0,439.6 76.0,439.6 77.0,439.6 78.0,439.6 79.0,439.6 80.0,439.5 81.0,439.5 82.0,439.5 83.0,439.5 84.0,439.5 85.0,439.4 86.0,439.4 87.0,439.3 88.0,439.2 89.0,439.1 90.0,439.0 91.0,438.9 92.0,438.7 93.0,438.5 94.0,438.3 95.0,438.0 96.0,437.7 97.0,437.3 98.0,436.9 99.0,436.4 100.0,435.8 101.0,435.2 102.0,434.5 103.0,433.6 104.0,432.7 105.0,431.7 106.0,430.5 107.0,429.3 108.0,427.9 109.0,426.4 110.0,424.8 111.0,423.1 112.0,421.3 113.0,419.4 114.0,417.4 115.0,415.3 116.0,413.1 117.0,410.9 118.0,408.7 119.0,406.5 120.0,404.3 121.0,402.1 122.0,399.9 123.0,397.9 124.0,396.0 125.0,394.2 126.0,392.6 127.0,391.1 128.0,389.9 129.0,388.9 130.0,388.1 131.0,387.5 132.0,387.2 133.0,387.2 134.0,387.5 135.0,387.9 136.0,388.7 137.0,389.7 138.0,390.9 139.0,392.3 140.0,393.9 141.0,395.6 142.0,397.5 143.0,399.5 144.0,401.6 145.0,403.8 146.0,406.0 147.0,408.3 148.0,410.5 149.0,412.7 150.0,414.9 151.0,417.0 152.0,419.0 153.0,420.9 154.0,422.8 155.0,424.5 156.0,426.1 157.0,427.6 158.0,429.0 159.0,430.3 160.0,431.5 161.0,432.5 162.0,433.5 163.0,434.3 164.0,435.1 165.0,435.7 166.0,436.3 167.0,436.8 168.0,437.3 169.0,437.6 170.0,438.0 171.0,438.2 172.0,438.5 173.0,438.7 174.0,438.9 175.0,439.0 176.0,439.1 177.0,439.2 178.0,439.3 179.0,439.3 180.0,439.4 181.0,439.4 182.0,439.5 183.0,439.5 184.0,439.5 185.0,439.5 186.0,439.6 186.0,439.6" fill="#d4f1e8"/>
<line x1="76.00" y1="439.6" x2="76.00" y2="439.30" stroke="url(#cg2)" stroke-width="1.15"/>
<line x1="78.00" y1="439.6" x2="78.00" y2="439.30" stroke="url(#cg2)" stroke-width="1.15"/>
<line x1="80.00" y1="439.6" x2="80.00" y2="439.30" stroke="url(#cg2)" stroke-width="1.15"/>
<line x1="82.00" y1="439.6" x2="82.00" y2="439.30" stroke="url(#cg2)" stroke-width="1.15"/>
<line x1="84.00" y1="439.6" x2="84.00" y2="439.30" stroke="url(#cg2)" stroke-width="1.15"/>
<line x1="86.00" y1="439.6" x2="86.00" y2="439.30" stroke="url(#cg2)" stroke-width="1.15"/>
<line x1="88.00" y1="439.6" x2="88.00" y2="439.22" stroke="url(#cg2)" stroke-width="1.15"/>
<line x1="90.00" y1="439.6" x2="90.00" y2="439.01" stroke="url(#cg2)" stroke-width="1.15"/>
<line x1="92.00" y1="439.6" x2="92.00" y2="438.71" stroke="url(#cg2)" stroke-width="1.15"/>
<line x1="94.00" y1="439.6" x2="94.00" y2="438.28" stroke="url(#cg2)" stroke-width="1.15"/>
<line x1="93.70" y1="438.78" x2="93.70" y2="437.88" stroke="#7088d0" stroke-width="0.8"/>
<line x1="96.00" y1="439.6" x2="96.00" y2="437.68" stroke="url(#cg2)" stroke-width="1.15"/>
<line x1="95.70" y1="438.18" x2="95.70" y2="437.14" stroke="#7088d0" stroke-width="0.8"/>
<line x1="98.00" y1="439.6" x2="98.00" y2="436.87" stroke="url(#cg2)" stroke-width="1.15"/>
<line x1="97.70" y1="437.37" x2="97.70" y2="436.14" stroke="#7088d0" stroke-width="0.8"/>
<line x1="100.00" y1="439.6" x2="100.00" y2="435.79" stroke="url(#cg2)" stroke-width="1.15"/>
<line x1="99.70" y1="436.29" x2="99.70" y2="434.84" stroke="#7088d0" stroke-width="0.8"/>
<line x1="102.00" y1="439.6" x2="102.00" y2="434.38" stroke="url(#cg2)" stroke-width="1.15"/>
<line x1="101.70" y1="434.88" x2="101.70" y2="433.18" stroke="#7088d0" stroke-width="0.8"/>
<line x1="104.00" y1="439.6" x2="104.00" y2="432.60" stroke="url(#cg2)" stroke-width="1.15"/>
<line x1="103.70" y1="433.10" x2="103.70" y2="431.10" stroke="#7088d0" stroke-width="0.8"/>
<line x1="106.00" y1="439.6" x2="106.00" y2="430.40" stroke="url(#cg2)" stroke-width="1.15"/>
<line x1="105.70" y1="430.90" x2="105.70" y2="428.58" stroke="#7088d0" stroke-width="0.8"/>
<line x1="108.00" y1="439.6" x2="108.00" y2="427.74" stroke="url(#cg2)" stroke-width="1.15"/>
<line x1="107.70" y1="428.24" x2="107.70" y2="425.60" stroke="#7088d0" stroke-width="0.8"/>
<line x1="110.00" y1="439.6" x2="110.00" y2="424.61" stroke="url(#cg2)" stroke-width="1.15"/>
<line x1="109.70" y1="425.11" x2="109.70" y2="422.15" stroke="#7088d0" stroke-width="0.8"/>
<line x1="112.00" y1="439.6" x2="112.00" y2="421.03" stroke="url(#cg2)" stroke-width="1.15"/>
<line x1="111.70" y1="421.53" x2="111.70" y2="418.27" stroke="#7088d0" stroke-width="0.8"/>
<line x1="114.00" y1="439.6" x2="114.00" y2="417.04" stroke="url(#cg2)" stroke-width="1.15"/>
<line x1="113.70" y1="417.54" x2="113.70" y2="414.05" stroke="#7088d0" stroke-width="0.8"/>
<line x1="116.00" y1="439.6" x2="116.00" y2="412.74" stroke="url(#cg2)" stroke-width="1.15"/>
<line x1="115.70" y1="413.24" x2="115.70" y2="409.60" stroke="#7088d0" stroke-width="0.8"/>
<line x1="118.00" y1="439.6" x2="118.00" y2="408.24" stroke="url(#cg2)" stroke-width="1.15"/>
<line x1="117.70" y1="408.74" x2="117.70" y2="405.06" stroke="#7088d0" stroke-width="0.8"/>
<line x1="120.00" y1="439.6" x2="120.00" y2="403.71" stroke="url(#cg2)" stroke-width="1.15"/>
<line x1="119.70" y1="404.21" x2="119.70" y2="400.62" stroke="#7088d0" stroke-width="0.8"/>
<line x1="122.00" y1="439.6" x2="122.00" y2="399.34" stroke="url(#cg2)" stroke-width="1.15"/>
<line x1="121.70" y1="399.84" x2="121.70" y2="396.47" stroke="#7088d0" stroke-width="0.8"/>
<line x1="124.00" y1="439.6" x2="124.00" y2="395.31" stroke="url(#cg2)" stroke-width="1.15"/>
<line x1="123.70" y1="395.81" x2="123.70" y2="392.82" stroke="#7088d0" stroke-width="0.8"/>
<line x1="126.00" y1="439.6" x2="126.00" y2="391.85" stroke="url(#cg2)" stroke-width="1.15"/>
<line x1="125.70" y1="392.35" x2="125.70" y2="389.85" stroke="#7088d0" stroke-width="0.8"/>
<line x1="128.00" y1="439.6" x2="128.00" y2="389.12" stroke="url(#cg2)" stroke-width="1.15"/>
<line x1="127.70" y1="389.62" x2="127.70" y2="387.73" stroke="#7088d0" stroke-width="0.8"/>
<line x1="130.00" y1="439.6" x2="130.00" y2="387.28" stroke="url(#cg2)" stroke-width="1.15"/>
<line x1="129.70" y1="387.78" x2="129.70" y2="386.59" stroke="#7088d0" stroke-width="0.8"/>
<line x1="132.00" y1="439.6" x2="132.00" y2="386.45" stroke="url(#cg2)" stroke-width="1.15"/>
<line x1="134.00" y1="439.6" x2="134.00" y2="386.66" stroke="url(#cg2)" stroke-width="1.15"/>
<line x1="136.00" y1="439.6" x2="136.00" y2="387.90" stroke="url(#cg2)" stroke-width="1.15"/>
<line x1="138.00" y1="439.6" x2="138.00" y2="390.11" stroke="url(#cg2)" stroke-width="1.15"/>
<line x1="140.00" y1="439.6" x2="140.00" y2="393.15" stroke="url(#cg2)" stroke-width="1.15"/>
<line x1="142.00" y1="439.6" x2="142.00" y2="396.87" stroke="url(#cg2)" stroke-width="1.15"/>
<line x1="144.00" y1="439.6" x2="144.00" y2="401.06" stroke="url(#cg2)" stroke-width="1.15"/>
<line x1="146.00" y1="439.6" x2="146.00" y2="405.52" stroke="url(#cg2)" stroke-width="1.15"/>
<line x1="148.00" y1="439.6" x2="148.00" y2="410.05" stroke="url(#cg2)" stroke-width="1.15"/>
<line x1="150.00" y1="439.6" x2="150.00" y2="414.49" stroke="url(#cg2)" stroke-width="1.15"/>
<line x1="152.00" y1="439.6" x2="152.00" y2="418.68" stroke="url(#cg2)" stroke-width="1.15"/>
<line x1="154.00" y1="439.6" x2="154.00" y2="422.51" stroke="url(#cg2)" stroke-width="1.15"/>
<line x1="156.00" y1="439.6" x2="156.00" y2="425.92" stroke="url(#cg2)" stroke-width="1.15"/>
<line x1="158.00" y1="439.6" x2="158.00" y2="428.86" stroke="url(#cg2)" stroke-width="1.15"/>
<line x1="160.00" y1="439.6" x2="160.00" y2="431.33" stroke="url(#cg2)" stroke-width="1.15"/>
<line x1="162.00" y1="439.6" x2="162.00" y2="433.36" stroke="url(#cg2)" stroke-width="1.15"/>
<line x1="164.00" y1="439.6" x2="164.00" y2="434.99" stroke="url(#cg2)" stroke-width="1.15"/>
<line x1="166.00" y1="439.6" x2="166.00" y2="436.25" stroke="url(#cg2)" stroke-width="1.15"/>
<line x1="168.00" y1="439.6" x2="168.00" y2="437.22" stroke="url(#cg2)" stroke-width="1.15"/>
<line x1="170.00" y1="439.6" x2="170.00" y2="437.94" stroke="url(#cg2)" stroke-width="1.15"/>
<line x1="172.00" y1="439.6" x2="172.00" y2="438.47" stroke="url(#cg2)" stroke-width="1.15"/>
<line x1="174.00" y1="439.6" x2="174.00" y2="438.84" stroke="url(#cg2)" stroke-width="1.15"/>
<line x1="176.00" y1="439.6" x2="176.00" y2="439.10" stroke="url(#cg2)" stroke-width="1.15"/>
<line x1="178.00" y1="439.6" x2="178.00" y2="439.28" stroke="url(#cg2)" stroke-width="1.15"/>
<line x1="180.00" y1="439.6" x2="180.00" y2="439.30" stroke="url(#cg2)" stroke-width="1.15"/>
<line x1="182.00" y1="439.6" x2="182.00" y2="439.30" stroke="url(#cg2)" stroke-width="1.15"/>
<line x1="184.00" y1="439.6" x2="184.00" y2="439.30" stroke="url(#cg2)" stroke-width="1.15"/>
<line x1="74.5" y1="439.3" x2="186.5" y2="439.3" stroke="#7a96d0" stroke-width="1.3"/>
<polyline points="74.5,439.2 75.1,438.7 75.7,439.0 76.3,438.6 76.9,438.6 77.5,439.5 78.1,439.6 78.7,438.3 79.3,439.2 79.9,439.2 80.5,438.0 81.1,438.8 81.7,438.3 82.3,438.8 82.9,438.6 83.5,439.4 84.1,438.6 84.7,438.2 85.3,438.8 85.9,438.4 86.5,438.5 87.1,439.5 87.7,438.4 88.3,438.7 88.9,439.1 89.5,439.6 90.1,438.2 90.7,438.8 91.3,438.4 91.9,438.2 92.5,438.5 93.1,438.1 93.7,439.0 94.3,438.3 94.9,438.9 95.5,438.1 96.1,438.2 96.7,439.4 97.3,439.4 97.9,439.3 98.5,438.1 99.1,438.9 99.7,438.6 100.3,439.1 100.9,438.8 101.5,439.0 102.1,439.0 102.7,438.7 103.3,438.7 103.9,438.2 104.5,438.5 105.1,438.1 105.7,438.2 106.3,438.0 106.9,438.5 107.5,439.3 108.1,438.2 108.7,438.1 109.3,438.2 109.9,438.7 110.5,438.5 111.1,439.3 111.7,438.3 112.3,438.7 112.9,439.1 113.5,439.5 114.1,438.2 114.7,438.0 115.3,439.5 115.9,438.3 116.5,439.2 117.1,439.4 117.7,439.3 118.3,438.8 118.9,438.7 119.5,439.6 120.1,439.0 120.7,439.6 121.3,438.9 121.9,439.3 122.5,438.7 123.1,438.6 123.7,439.1 124.3,438.6 124.9,439.3 125.5,439.5 126.1,439.0 126.7,439.6 127.3,439.4 127.9,439.2 128.5,439.0 129.1,439.4 129.7,439.6 130.3,438.7 130.9,439.3 131.5,438.6 132.1,438.7 132.7,439.2 133.3,439.1 133.9,439.1 134.5,439.0 135.1,439.0 135.7,439.0 136.3,439.0 136.9,438.7 137.5,439.1 138.1,439.2 138.7,438.9 139.3,439.4 139.9,439.3 140.5,438.6 141.1,439.1 141.7,439.1 142.3,439.6 142.9,439.2 143.5,439.0 144.1,439.6 144.7,439.0 145.3,439.0 145.9,439.5 146.5,439.0 147.1,439.1 147.7,438.9 148.3,439.2 148.9,438.9 149.5,438.9 150.1,439.6 150.7,439.5 151.3,438.9 151.9,438.6 152.5,439.3 153.1,439.1 153.7,439.0 154.3,439.3 154.9,439.2 155.5,439.3 156.1,439.2 156.7,439.0 157.3,439.3 157.9,439.2 158.5,438.8 159.1,439.6 159.7,439.0 160.3,438.9 160.9,439.3 161.5,439.4 162.1,438.8 162.7,439.4 163.3,439.4 163.9,439.2 164.5,438.9 165.1,439.5 165.7,439.3 166.3,439.3 166.9,438.8 167.5,439.2 168.1,438.7 168.7,439.4 169.3,439.3 169.9,438.9 170.5,438.7 171.1,439.1 171.7,439.4 172.3,439.5 172.9,439.1 173.5,439.4 174.1,438.8 174.7,438.8 175.3,439.4 175.9,439.3 176.5,438.8 177.1,439.0 177.7,438.8 178.3,439.3 178.9,439.5 179.5,439.3 180.1,438.8 180.7,439.3 181.3,439.3 181.9,439.2 182.5,439.2 183.1,439.2 183.7,438.7 184.3,439.4 184.9,439.6 185.5,438.7 186.1,438.7" fill="none" stroke="#3a62b8" stroke-width="0.6"/>
<line x1="74.0" y1="443.4" x2="191.0" y2="443.4" stroke="#333" stroke-width="0.6"/>
<line x1="74.00" y1="443.4" x2="74.00" y2="444.9" stroke="#333" stroke-width="0.5"/>
<line x1="84.12" y1="443.4" x2="84.12" y2="444.29999999999995" stroke="#333" stroke-width="0.5"/>
<line x1="94.25" y1="443.4" x2="94.25" y2="444.9" stroke="#333" stroke-width="0.5"/>
<line x1="104.38" y1="443.4" x2="104.38" y2="444.29999999999995" stroke="#333" stroke-width="0.5"/>
<line x1="114.50" y1="443.4" x2="114.50" y2="444.9" stroke="#333" stroke-width="0.5"/>
<line x1="124.62" y1="443.4" x2="124.62" y2="444.29999999999995" stroke="#333" stroke-width="0.5"/>
<line x1="134.75" y1="443.4" x2="134.75" y2="444.9" stroke="#333" stroke-width="0.5"/>
<line x1="144.88" y1="443.4" x2="144.88" y2="444.29999999999995" stroke="#333" stroke-width="0.5"/>
<line x1="155.00" y1="443.4" x2="155.00" y2="444.9" stroke="#333" stroke-width="0.5"/>
<line x1="165.12" y1="443.4" x2="165.12" y2="444.29999999999995" stroke="#333" stroke-width="0.5"/>
<line x1="175.25" y1="443.4" x2="175.25" y2="444.9" stroke="#333" stroke-width="0.5"/>
<line x1="185.38" y1="443.4" x2="185.38" y2="444.29999999999995" stroke="#333" stroke-width="0.5"/>
<text x="74.00" y="448.79999999999995" font-size="3.9" fill="#333" text-anchor="middle" font-weight="normal" >4290</text>
<text x="94.25" y="448.79999999999995" font-size="3.9" fill="#333" text-anchor="middle" font-weight="normal" >4300</text>
<text x="114.50" y="448.79999999999995" font-size="3.9" fill="#333" text-anchor="middle" font-weight="normal" >4310</text>
<text x="134.75" y="448.79999999999995" font-size="3.9" fill="#333" text-anchor="middle" font-weight="normal" >4320</text>
<text x="155.00" y="448.79999999999995" font-size="3.9" fill="#333" text-anchor="middle" font-weight="normal" >4330</text>
<text x="175.25" y="448.79999999999995" font-size="3.9" fill="#333" text-anchor="middle" font-weight="normal" >4340</text>
<text x="129.00" y="456.4" font-size="4.0" fill="#333" text-anchor="middle" font-weight="normal" font-style="italic">m/z</text>
<polygon points="48.8,378.5 48.8,378.3 49.2,378.2 49.6,377.7 50.0,370.6 50.4,359.7 50.8,370.2 51.2,374.3 51.6,372.7 52.0,376.7 52.4,378.2 52.8,378.2 53.2,378.4 53.6,376.2 54.0,366.0 54.4,365.7 54.8,374.7 55.2,373.2 55.6,371.6 56.0,375.2 56.4,377.6 56.8,377.9 57.2,376.3 57.6,372.3 58.0,371.6 58.4,373.3 58.8,374.2 59.2,375.6 59.6,377.1 60.0,378.2 60.4,378.4 60.8,378.2 61.2,378.2 61.6,378.4 62.0,378.2 62.4,378.3 62.8,378.3 63.2,378.4 63.6,378.2 64.0,378.3 64.4,378.2 64.8,378.2 65.2,378.4 65.6,378.3 66.0,377.3 66.4,374.2 66.8,373.8 67.2,375.7 67.6,376.3 68.0,377.6 68.4,378.1 68.8,378.4 69.2,378.4 69.6,378.2 70.0,378.3 70.4,378.4 70.8,378.3 71.2,378.3 71.6,378.5 72.0,378.2 72.4,378.5 72.8,378.2 73.2,378.2 73.6,378.0 74.0,375.4 74.4,375.6 74.8,377.8 75.2,378.5 75.6,378.5 76.0,378.4 76.4,378.2 76.8,378.4 77.2,378.2 77.6,378.2 78.0,378.2 78.4,378.4 78.8,378.4 79.2,378.3 79.6,378.2 80.0,378.5 80.4,378.2 80.8,378.2 81.2,378.2 81.6,378.5 82.0,378.2 82.4,378.5 82.8,378.4 83.2,378.3 83.6,378.2 84.0,378.4 84.4,378.1 84.8,378.2 85.2,378.0 85.6,377.6 86.0,377.4 86.4,377.7 86.8,378.0 87.2,378.1 87.6,378.1 88.0,378.4 88.4,378.5 88.8,378.2 89.2,378.3 89.6,378.4 90.0,378.4 90.4,378.3 90.8,378.2 91.2,378.3 91.6,378.4 92.0,378.5 92.4,378.2 92.8,378.5 93.2,378.3 93.6,378.2 94.0,378.3 94.4,377.8 94.8,377.4 95.2,377.5 95.6,377.7 96.0,378.3 96.4,378.3 96.8,378.4 97.2,378.2 97.6,378.4 98.0,378.3 98.4,378.2 98.8,378.2 99.2,378.2 99.6,378.3 100.0,378.3 100.4,378.2 100.8,378.3 101.2,378.4 101.6,378.4 102.0,378.4 102.4,378.4 102.8,378.2 103.2,378.2 103.6,378.3 104.0,378.3 104.4,378.4 104.8,378.5 105.2,378.4 105.6,378.2 106.0,378.2 106.4,378.4 106.8,378.2 107.2,378.2 107.6,378.3 108.0,378.3 108.4,378.2 108.8,378.4 109.2,378.3 109.6,378.4 110.0,378.3 110.4,378.2 110.8,378.3 111.2,378.4 111.6,378.2 112.0,378.2 112.4,377.5 112.8,375.5 113.2,375.3 113.6,377.6 114.0,378.2 114.4,378.3 114.8,378.2 115.2,378.3 115.6,378.2 116.0,378.4 116.4,378.3 116.8,378.2 117.2,378.2 117.6,378.4 118.0,378.2 118.4,378.2 118.8,378.2 119.2,377.9 119.6,377.4 120.0,377.3 120.4,377.6 120.8,378.2 121.2,378.2 121.6,378.2 122.0,378.3 122.4,378.3 122.8,378.2 123.2,378.2 123.6,378.4 124.0,378.2 124.4,378.3 124.8,378.3 125.2,378.4 125.6,378.3 126.0,378.2 126.4,378.3 126.8,378.2 127.2,378.5 127.6,378.4 128.0,378.3 128.4,378.3 128.8,378.4 129.2,378.3 129.6,378.3 130.0,378.5 130.4,378.3 130.8,378.4 131.2,378.5 131.6,378.5 132.0,378.4 132.4,378.4 132.8,378.4 133.2,378.5 133.6,378.3 134.0,378.4 134.4,378.3 134.8,378.3 135.2,378.4 135.6,378.2 136.0,378.5 136.4,378.4 136.8,378.4 137.2,378.4 137.6,378.5 138.0,378.2 138.4,378.4 138.8,378.5 139.2,378.3 139.6,378.5 140.0,378.3 140.4,378.4 140.8,378.3 141.2,378.2 141.6,378.2 142.0,378.4 142.4,378.2 142.8,378.3 143.2,378.4 143.6,378.5 144.0,378.3 144.4,378.3 144.8,378.2 145.2,378.2 145.6,378.3 146.0,378.4 146.4,378.2 146.8,378.5 147.2,378.5 147.6,378.3 148.0,378.3 148.4,378.5 148.8,378.3 149.2,378.2 149.6,378.4 150.0,378.3 150.4,378.4 150.8,378.4 151.2,378.2 151.6,378.4 152.0,378.2 152.4,378.2 152.8,378.3 153.2,378.4 153.6,378.2 154.0,378.3 154.4,378.4 154.8,378.4 155.2,378.2 155.6,378.3 156.0,378.4 156.4,378.3 156.8,378.5 157.2,378.3 157.6,378.3 158.0,378.4 158.4,378.2 158.8,378.2 159.2,378.5 159.6,378.3 160.0,378.4 160.4,378.2 160.8,378.2 161.2,378.4 161.6,378.4 162.0,378.4 162.4,378.2 162.8,378.4 163.2,378.3 163.6,378.3 164.0,378.3 164.4,378.3 164.8,378.2 165.2,378.5 165.6,378.2 166.0,378.4 166.4,378.3 166.8,378.4 167.2,378.4 167.6,378.3 168.0,378.3 168.4,378.4 168.8,378.2 169.2,378.3 169.6,378.5 170.0,378.4 170.4,378.3 170.8,378.2 171.2,378.2 171.6,378.3 172.0,378.5 172.4,378.2 172.8,378.4 173.2,378.3 173.6,378.3 174.0,378.3 174.4,378.3 174.8,378.2 175.2,378.4 175.6,378.4 176.0,378.2 176.4,378.4 176.8,378.4 177.2,378.2 177.6,378.5 178.0,378.2 178.4,378.3 178.8,378.3 179.2,378.4 179.6,378.2 180.0,378.2 180.4,378.5 180.8,378.3 181.2,378.3 181.6,378.3 182.0,378.4 182.4,378.4 182.8,378.3 183.2,378.2 183.6,378.5 184.0,378.4 184.4,378.2 184.8,378.2 185.2,378.3 185.6,378.5 186.0,378.2 186.4,378.2 186.8,378.2 187.2,378.3 187.6,378.5 188.0,378.2 188.4,378.4 188.8,378.3 189.2,378.2 189.6,378.3 190.0,378.5 190.4,378.4 190.8,378.2 191.2,378.4 191.6,378.3 192.0,378.4 192.4,378.4 192.8,378.3 193.2,378.5 193.6,378.5 194.0,378.4 194.4,378.5 194.8,378.5 195.2,378.3 195.6,378.2 196.0,378.2 196.4,378.5 196.8,378.3 197.2,378.4 197.6,378.3 198.0,378.3 198.4,378.2 198.8,378.4 199.2,378.5 199.6,378.3 200.0,378.4 200.4,378.3 200.8,378.3 201.2,378.2 201.6,378.3 202.0,378.3 202.4,377.7 202.8,371.8 203.2,361.1 203.6,365.5 204.0,374.1 204.4,374.4 204.8,375.4 205.2,377.5 205.6,378.2 206.0,378.4 206.4,378.3 206.8,378.3 207.2,378.5 207.6,378.3 208.0,378.5 208.4,378.5 208.8,378.3 209.2,378.4 209.6,378.2 210.0,378.3 210.4,378.4 210.8,378.2 211.2,378.5 211.6,378.2 212.0,378.5 212.4,378.4 212.8,378.2 213.2,378.3 213.6,378.4 214.0,378.2 214.4,377.2 214.8,376.4 215.2,376.4 215.6,377.5 216.0,378.0 216.4,378.3 216.8,378.4 217.2,378.4 217.6,378.3 218.0,378.4 218.4,378.3 218.8,378.3 219.2,377.7 219.6,377.3 220.0,377.0 220.4,377.4 220.8,377.7 221.2,378.2 221.6,378.3 222.0,378.3 222.4,378.2 222.8,378.4 223.2,378.5 223.6,378.5 224.0,378.4 224.4,378.5 224.8,378.2 225.2,378.3 225.6,378.2 226.0,378.5 226.4,378.3 226.8,378.2 227.2,378.3 227.6,378.3 228.0,378.3 228.4,378.4 228.8,378.2 229.2,378.0 229.6,377.7 230.0,377.6 230.4,377.5 230.8,378.0 231.2,378.2 231.6,378.3 232.0,378.4 232.4,378.4 232.8,378.4 233.2,378.3 233.6,378.5 234.0,378.2 234.4,378.4 234.8,378.2 235.2,378.3 235.6,378.3 236.0,378.3 236.4,378.0 236.8,377.6 237.2,375.9 237.6,375.5 238.0,376.6 238.4,377.8 238.8,378.4 239.2,378.4 239.6,378.5 240.0,378.4 240.4,378.5 240.8,378.4 241.2,378.2 241.6,378.4 242.0,378.4 242.4,378.3 242.8,378.4 243.2,378.2 243.6,378.2 244.0,378.4 244.4,378.4 244.8,378.3 245.2,378.2 245.6,378.3 246.0,378.3 246.4,378.2 246.8,378.5 247.2,378.5 247.6,378.2 248.0,378.3 248.4,378.3 248.8,378.0 249.2,377.7 249.6,377.8 250.0,377.8 250.4,377.9 250.8,378.0 251.2,377.9 251.6,378.2 252.0,378.1 252.4,378.4 252.8,378.4 253.2,378.5 253.6,378.4 254.0,378.5 254.4,378.4 254.8,378.4 255.2,378.4 255.6,378.5 256.0,378.5 256.4,378.2 256.8,378.4 257.2,378.3 257.6,378.4 258.0,378.3 258.4,378.5 258.8,378.4 259.2,378.5 259.6,378.3 260.0,378.2 260.4,378.3 260.8,378.2 261.2,378.4 261.6,378.5 262.0,378.3 262.4,378.3 262.8,378.3 263.2,378.4 263.6,378.3 264.0,378.2 264.4,378.2 264.8,378.4 265.2,378.3 265.6,378.2 266.0,378.4 266.4,378.5 266.8,378.4 267.2,378.5 267.6,378.2 268.0,378.2 268.4,378.4 268.8,378.5 269.2,378.5 269.6,378.4 270.0,378.5 270.4,378.3 270.8,378.3 271.2,378.4 271.6,378.5 272.0,378.3 272.4,378.5 272.8,378.4 273.2,378.4 273.6,378.4 274.0,378.5 274.4,378.4 274.8,378.4 275.2,378.2 275.6,378.3 276.0,378.2 276.4,378.3 276.8,378.2 277.2,378.3 277.6,378.3 278.0,378.2 278.4,378.3 278.8,378.2 279.2,378.2 279.6,378.3 280.0,378.4 280.4,378.2 280.8,378.4 281.2,378.5 281.6,378.5 282.0,378.4 282.4,378.4 282.8,378.3 283.2,378.4 283.6,378.5 284.0,378.2 284.4,378.3 284.8,378.5 285.2,378.5 285.6,378.5 286.0,378.4 286.4,378.2 286.8,378.2 287.2,378.3 287.6,378.4 288.0,378.3 288.4,378.4 288.8,378.4 289.2,378.5 289.6,378.3 290.0,378.2 290.4,378.2 290.8,378.5 291.2,378.3 291.6,378.4 292.0,378.3 292.2,378.5" fill="#3a62b8" stroke="#3a62b8" stroke-width="0.5"/>
<line x1="48.8" y1="378.5" x2="292.2" y2="378.5" stroke="#6a88cc" stroke-width="0.8"/>
<polygon points="48.8,461.6 48.8,460.9 49.2,459.8 49.6,459.2 50.0,456.7 50.4,451.9 50.8,457.0 51.2,459.7 51.6,459.4 52.0,460.6 52.4,461.2 52.8,461.5 53.2,461.3 53.6,461.3 54.0,460.0 54.4,455.7 54.8,457.6 55.2,459.9 55.6,459.5 56.0,460.8 56.4,461.5 56.8,461.3 57.2,461.4 57.6,461.3 58.0,460.9 58.4,458.4 58.8,458.1 59.2,460.8 59.6,461.4 60.0,461.6 60.4,461.5 60.8,461.4 61.2,461.5 61.6,461.1 62.0,459.5 62.4,457.0 62.8,459.2 63.2,460.2 63.6,459.8 64.0,460.6 64.4,461.3 64.8,461.4 65.2,461.3 65.6,460.9 66.0,457.6 66.4,455.4 66.8,449.3 67.2,420.5 67.6,434.0 68.0,453.4 68.4,456.2 68.8,459.0 69.2,459.2 69.6,459.0 70.0,459.5 70.4,460.1 70.8,460.0 71.2,460.0 71.6,460.6 72.0,461.2 72.4,461.2 72.8,461.3 73.2,461.6 73.6,461.3 74.0,461.3 74.4,460.9 74.8,460.3 75.2,460.4 75.6,460.9 76.0,461.2 76.4,461.4 76.8,461.5 77.2,461.2 77.6,461.6 78.0,461.4 78.4,461.3 78.8,461.2 79.2,460.6 79.6,460.5 80.0,460.1 80.4,460.3 80.8,460.7 81.2,461.0 81.6,461.4 82.0,461.3 82.4,461.3 82.8,461.4 83.2,461.4 83.6,461.2 84.0,461.1 84.4,460.9 84.8,460.4 85.2,460.5 85.6,460.7 86.0,461.0 86.4,461.4 86.8,461.6 87.2,461.5 87.6,461.4 88.0,461.5 88.4,461.4 88.8,461.2 89.2,460.8 89.6,460.7 90.0,460.5 90.4,460.4 90.8,460.9 91.2,461.3 91.6,461.4 92.0,461.4 92.4,461.5 92.8,461.5 93.2,461.5 93.6,461.3 94.0,461.5 94.4,461.4 94.8,461.3 95.2,461.2 95.6,461.4 96.0,461.1 96.4,460.9 96.8,460.7 97.2,460.7 97.6,460.8 98.0,461.0 98.4,461.4 98.8,461.6 99.2,461.4 99.6,461.6 100.0,461.6 100.4,461.3 100.8,461.6 101.2,461.3 101.6,461.5 102.0,461.3 102.4,461.3 102.8,461.6 103.2,461.5 103.6,461.1 104.0,461.0 104.4,460.6 104.8,460.2 105.2,460.2 105.6,460.6 106.0,461.0 106.4,461.4 106.8,461.2 107.2,460.9 107.6,460.2 108.0,459.9 108.4,460.3 108.8,460.8 109.2,461.4 109.6,461.5 110.0,461.2 110.4,460.5 110.8,458.6 111.2,458.7 111.6,460.4 112.0,461.2 112.4,457.6 112.8,452.5 113.2,457.3 113.6,459.2 114.0,458.3 114.4,459.5 114.8,461.0 115.2,461.0 115.6,460.5 116.0,460.4 116.4,460.4 116.8,460.9 117.2,461.4 117.6,461.3 118.0,461.4 118.4,461.5 118.8,461.4 119.2,461.6 119.6,461.3 120.0,461.3 120.4,461.5 120.8,461.3 121.2,461.6 121.6,461.3 122.0,461.5 122.4,461.3 122.8,461.4 123.2,461.3 123.6,461.5 124.0,461.4 124.4,460.8 124.8,460.6 125.2,460.7 125.6,461.1 126.0,461.3 126.4,461.4 126.8,461.6 127.2,461.3 127.6,461.3 128.0,461.3 128.4,461.4 128.8,461.5 129.2,461.6 129.6,461.3 130.0,461.6 130.4,461.4 130.8,461.4 131.2,461.4 131.6,461.6 132.0,461.6 132.4,461.4 132.8,461.6 133.2,461.4 133.6,461.5 134.0,461.5 134.4,461.5 134.8,461.4 135.2,461.5 135.6,461.5 136.0,461.5 136.4,461.4 136.8,461.3 137.2,461.5 137.6,461.5 138.0,461.5 138.4,461.5 138.8,461.2 139.2,460.8 139.6,460.4 140.0,460.3 140.4,460.5 140.8,461.0 141.2,461.3 141.6,461.4 142.0,461.2 142.4,461.4 142.8,461.4 143.2,461.3 143.6,461.4 144.0,461.3 144.4,461.5 144.8,461.4 145.2,461.3 145.6,461.5 146.0,461.4 146.4,461.5 146.8,461.6 147.2,461.6 147.6,461.3 148.0,461.6 148.4,461.4 148.8,461.6 149.2,461.5 149.6,461.6 150.0,461.4 150.4,461.3 150.8,461.5 151.2,461.4 151.6,461.3 152.0,461.5 152.4,461.4 152.8,461.3 153.2,461.3 153.6,461.5 154.0,461.4 154.4,461.6 154.8,461.6 155.2,461.3 155.6,461.6 156.0,461.3 156.4,461.3 156.8,461.4 157.2,461.3 157.6,461.3 158.0,461.4 158.4,461.2 158.8,461.1 159.2,460.7 159.6,460.6 160.0,460.5 160.4,460.8 160.8,460.8 161.2,461.1 161.6,461.1 162.0,461.2 162.4,461.2 162.8,461.3 163.2,461.4 163.6,461.3 164.0,461.6 164.4,461.4 164.8,461.6 165.2,461.5 165.6,461.6 166.0,461.3 166.4,461.6 166.8,461.3 167.2,461.3 167.6,461.4 168.0,461.3 168.4,461.6 168.8,461.6 169.2,461.6 169.6,461.6 170.0,461.6 170.4,461.3 170.8,461.6 171.2,461.4 171.6,461.5 172.0,461.6 172.4,461.5 172.8,461.5 173.2,461.3 173.6,461.5 174.0,461.4 174.4,461.4 174.8,461.4 175.2,461.4 175.6,461.5 176.0,461.6 176.4,461.3 176.8,461.5 177.2,461.4 177.6,461.3 178.0,461.3 178.4,461.0 178.8,460.8 179.2,460.7 179.6,460.6 180.0,460.4 180.4,460.5 180.8,460.6 181.2,460.9 181.6,461.1 182.0,461.2 182.4,461.4 182.8,461.3 183.2,461.3 183.6,461.5 184.0,461.3 184.4,461.3 184.8,461.3 185.2,461.5 185.6,461.5 186.0,461.6 186.4,461.5 186.8,461.3 187.2,461.5 187.6,461.6 188.0,461.5 188.4,461.6 188.8,461.4 189.2,461.3 189.6,461.3 190.0,461.6 190.4,461.5 190.8,461.6 191.2,461.3 191.6,461.3 192.0,461.4 192.4,461.3 192.8,461.4 193.2,461.3 193.6,461.4 194.0,461.5 194.4,461.3 194.8,461.3 195.2,461.4 195.6,461.3 196.0,461.4 196.4,461.3 196.8,461.6 197.2,461.6 197.6,461.6 198.0,461.4 198.4,461.3 198.8,461.5 199.2,461.4 199.6,461.6 200.0,461.4 200.4,461.3 200.8,461.6 201.2,461.3 201.6,461.4 202.0,461.6 202.4,461.4 202.8,460.4 203.2,457.1 203.6,458.5 204.0,461.2 204.4,461.5 204.8,461.3 205.2,460.9 205.6,460.3 206.0,459.9 206.4,460.5 206.8,461.0 207.2,461.4 207.6,461.3 208.0,461.4 208.4,461.3 208.8,461.3 209.2,461.4 209.6,461.3 210.0,461.5 210.4,461.6 210.8,461.3 211.2,461.6 211.6,461.3 212.0,461.4 212.4,461.6 212.8,461.5 213.2,461.3 213.6,461.4 214.0,461.1 214.4,461.0 214.8,460.4 215.2,460.5 215.6,460.7 216.0,461.3 216.4,461.3 216.8,461.4 217.2,461.5 217.6,461.6 218.0,461.4 218.4,461.3 218.8,461.6 219.2,461.4 219.6,461.6 220.0,461.3 220.4,461.3 220.8,461.4 221.2,461.4 221.6,461.6 222.0,461.6 222.4,461.3 222.8,461.3 223.2,461.1 223.6,461.0 224.0,460.8 224.4,460.4 224.8,460.0 225.2,460.0 225.6,460.3 226.0,460.6 226.4,461.1 226.8,461.1 227.2,461.3 227.6,461.6 228.0,461.3 228.4,461.4 228.8,461.4 229.2,461.6 229.6,461.3 230.0,461.4 230.4,461.4 230.8,461.5 231.2,461.4 231.6,461.1 232.0,460.4 232.4,459.6 232.8,459.1 233.2,459.2 233.6,459.5 234.0,460.2 234.4,460.8 234.8,461.3 235.2,461.3 235.6,461.2 236.0,460.8 236.4,459.5 236.8,458.6 237.2,458.7 237.6,459.7 238.0,460.5 238.4,461.3 238.8,461.4 239.2,461.4 239.6,461.5 240.0,461.4 240.4,461.6 240.8,461.4 241.2,461.4 241.6,461.4 242.0,461.4 242.4,461.5 242.8,461.3 243.2,461.1 243.6,461.1 244.0,460.8 244.4,460.5 244.8,460.5 245.2,460.5 245.6,460.4 246.0,460.9 246.4,461.1 246.8,461.3 247.2,461.2 247.6,461.4 248.0,461.3 248.4,461.5 248.8,461.5 249.2,461.4 249.6,461.5 250.0,461.4 250.4,461.4 250.8,461.6 251.2,461.6 251.6,461.4 252.0,461.4 252.4,461.5 252.8,461.5 253.2,461.6 253.6,461.5 254.0,461.5 254.4,461.5 254.8,461.4 255.2,461.3 255.6,461.3 256.0,461.3 256.4,461.5 256.8,461.4 257.2,461.3 257.6,461.3 258.0,461.5 258.4,461.6 258.8,461.6 259.2,461.4 259.6,461.3 260.0,461.5 260.4,461.3 260.8,461.4 261.2,461.3 261.6,461.3 262.0,461.6 262.4,461.3 262.8,461.6 263.2,461.6 263.6,461.5 264.0,461.4 264.4,461.6 264.8,461.5 265.2,461.5 265.6,461.6 266.0,461.6 266.4,461.6 266.8,461.5 267.2,461.5 267.6,461.5 268.0,461.4 268.4,461.4 268.8,461.4 269.2,461.5 269.6,461.4 270.0,461.5 270.4,461.5 270.8,461.6 271.2,461.4 271.6,461.6 272.0,461.5 272.4,461.5 272.8,461.4 273.2,461.4 273.6,461.4 274.0,461.4 274.4,461.5 274.8,461.3 275.2,461.3 275.6,461.5 276.0,461.5 276.4,461.4 276.8,461.6 277.2,461.4 277.6,461.3 278.0,461.5 278.4,461.4 278.8,461.5 279.2,461.3 279.6,461.5 280.0,461.5 280.4,461.4 280.8,461.5 281.2,461.3 281.6,461.5 282.0,461.4 282.4,461.5 282.8,461.4 283.2,461.4 283.6,461.6 284.0,461.3 284.4,461.5 284.8,461.4 285.2,461.4 285.6,461.4 286.0,461.5 286.4,461.4 286.8,461.3 287.2,461.6 287.6,461.3 288.0,461.4 288.4,461.4 288.8,461.4 289.2,461.4 289.6,461.3 290.0,461.3 290.4,461.4 290.8,461.5 291.2,461.5 291.6,461.3 292.0,461.4 292.2,461.6" fill="#3a62b8" stroke="#3a62b8" stroke-width="0.5"/>
<line x1="48.8" y1="461.6" x2="292.2" y2="461.6" stroke="#6a88cc" stroke-width="0.8"/>
<line x1="292.4" y1="295.8" x2="292.4" y2="465.7" stroke="#c4c4c4" stroke-width="1.0"/>
<path d="M48.5,462.5 L48.5,295.8 L292.4,295.8" fill="none" stroke="#555555" stroke-width="0.9"/>
<line x1="48.5" y1="462.5" x2="292.4" y2="462.5" stroke="#4a5a78" stroke-width="0.9"/>
<text x="203.3" y="361.0" font-size="7" fill="#222" text-anchor="middle" font-weight="normal" >*</text>
<text x="203.3" y="458.0" font-size="7" fill="#e03030" text-anchor="middle" font-weight="normal" >*</text>
<line x1="54.70" y1="462.5" x2="54.70" y2="464.3" stroke="#555555" stroke-width="0.8"/>
<line x1="81.00" y1="462.5" x2="81.00" y2="464.9" stroke="#555555" stroke-width="0.8"/>
<line x1="107.30" y1="462.5" x2="107.30" y2="464.3" stroke="#555555" stroke-width="0.8"/>
<line x1="133.60" y1="462.5" x2="133.60" y2="464.9" stroke="#555555" stroke-width="0.8"/>
<line x1="159.90" y1="462.5" x2="159.90" y2="464.3" stroke="#555555" stroke-width="0.8"/>
<line x1="186.20" y1="462.5" x2="186.20" y2="464.9" stroke="#555555" stroke-width="0.8"/>
<line x1="212.50" y1="462.5" x2="212.50" y2="464.3" stroke="#555555" stroke-width="0.8"/>
<line x1="238.80" y1="462.5" x2="238.80" y2="464.9" stroke="#555555" stroke-width="0.8"/>
<line x1="265.10" y1="462.5" x2="265.10" y2="464.3" stroke="#555555" stroke-width="0.8"/>
<line x1="291.40" y1="462.5" x2="291.40" y2="464.9" stroke="#555555" stroke-width="0.8"/>
<text x="81.00" y="477.2" font-size="10.8" fill="#1a1a1a" text-anchor="middle" font-weight="normal" >2000</text>
<text x="133.60" y="477.2" font-size="10.8" fill="#1a1a1a" text-anchor="middle" font-weight="normal" >3000</text>
<text x="186.20" y="477.2" font-size="10.8" fill="#1a1a1a" text-anchor="middle" font-weight="normal" >4000</text>
<text x="238.80" y="477.2" font-size="10.8" fill="#1a1a1a" text-anchor="middle" font-weight="normal" >5000</text>
<text x="291.40" y="477.2" font-size="10.8" fill="#1a1a1a" text-anchor="middle" font-weight="normal" >6000</text>
<text x="162.5" y="492.6" font-size="11" fill="#1a1a1a" text-anchor="middle" font-weight="normal" >m/z</text>
<text x="0" y="0" font-size="14" fill="#1a1a1a" text-anchor="middle" transform="translate(35.3,377.2) rotate(-90)">Intensity (a.u.)</text>
<line x1="153.8" y1="319.8" x2="169" y2="319.8" stroke="#5a7cc8" stroke-width="0.8"/>
<line x1="153.8" y1="330.2" x2="169" y2="330.2" stroke="#8adccc" stroke-width="0.8"/>
<text x="174.6" y="322.6" font-size="8.6" fill="#1a1a1a" text-anchor="start" font-weight="normal" >exp.</text>
<text x="174.6" y="332.2" font-size="8.6" fill="#1a1a1a" text-anchor="start" font-weight="normal" >sim.</text>
<line x1="153.8" y1="407.3" x2="169" y2="407.3" stroke="#5a7cc8" stroke-width="0.8"/>
<line x1="153.8" y1="417.0" x2="169" y2="417.0" stroke="#8adccc" stroke-width="0.8"/>
<text x="174.6" y="410.1" font-size="8.6" fill="#1a1a1a" text-anchor="start" font-weight="normal" >exp.</text>
<text x="174.6" y="419.5" font-size="8.6" fill="#1a1a1a" text-anchor="start" font-weight="normal" >sim.</text>
<text x="208.8" y="330.8" font-size="9.8" fill="#1a1a1a" text-anchor="start" font-weight="normal" letter-spacing="0.15">m/z = 4317.4</text>
<text x="212.6" y="417.6" font-size="9.8" fill="#1a1a1a" text-anchor="start" font-weight="normal" letter-spacing="0.15">m/z = 4318.4</text>
<text x="190.2" y="348.0" font-size="8.6" text-anchor="start"  xml:space="preserve"><tspan fill="#1a1a1a" font-size="8.60" dy="0.00">[Cu</tspan><tspan fill="#1a1a1a" font-size="5.33" dy="2.06">14</tspan><tspan fill="#1a1a1a" font-size="8.60" dy="-2.06">(TXP35)</tspan><tspan fill="#1a1a1a" font-size="5.33" dy="2.06">4</tspan><tspan fill="#1a1a1a" font-size="8.60" dy="-2.06">(BnSe)</tspan><tspan fill="#1a1a1a" font-size="5.33" dy="2.06">12</tspan><tspan fill="#1a1a1a" font-size="8.60" dy="-2.06">H]</tspan><tspan fill="#1a1a1a" font-size="5.33" dy="-3.61">+</tspan></text>
<text x="190.2" y="432.6" font-size="8.6" text-anchor="start"  xml:space="preserve"><tspan fill="#1a1a1a" font-size="8.60" dy="0.00">[Cu</tspan><tspan fill="#1a1a1a" font-size="5.33" dy="2.06">14</tspan><tspan fill="#1a1a1a" font-size="8.60" dy="-2.06">(TXP35)</tspan><tspan fill="#1a1a1a" font-size="5.33" dy="2.06">4</tspan><tspan fill="#1a1a1a" font-size="8.60" dy="-2.06">(BnSe)</tspan><tspan fill="#1a1a1a" font-size="5.33" dy="2.06">12</tspan><tspan fill="#e03030" font-size="8.60" dy="-2.06">D</tspan><tspan fill="#1a1a1a" font-size="8.60" dy="0.00">]</tspan><tspan fill="#1a1a1a" font-size="5.33" dy="-3.61">+</tspan></text>
<rect x="47.10" y="504.7" width="18.40" height="11.099999999999966" fill="#23506f" shape-rendering="crispEdges"/>
<rect x="64.50" y="504.7" width="18.40" height="11.099999999999966" fill="#285a7b" shape-rendering="crispEdges"/>
<rect x="81.90" y="504.7" width="18.40" height="11.099999999999966" fill="#2c6285" shape-rendering="crispEdges"/>
<rect x="99.30" y="504.7" width="18.40" height="11.099999999999966" fill="#34708f" shape-rendering="crispEdges"/>
<rect x="116.70" y="504.7" width="18.40" height="11.099999999999966" fill="#3d8098" shape-rendering="crispEdges"/>
<rect x="134.10" y="504.7" width="18.40" height="11.099999999999966" fill="#468d9e" shape-rendering="crispEdges"/>
<rect x="151.50" y="504.7" width="18.40" height="11.099999999999966" fill="#4f98a4" shape-rendering="crispEdges"/>
<rect x="168.90" y="504.7" width="18.40" height="11.099999999999966" fill="#5aa6ad" shape-rendering="crispEdges"/>
<rect x="186.30" y="504.7" width="18.40" height="11.099999999999966" fill="#97d2cf" shape-rendering="crispEdges"/>
<rect x="203.70" y="504.7" width="18.40" height="11.099999999999966" fill="#ace8dc" shape-rendering="crispEdges"/>
<rect x="221.10" y="504.7" width="18.40" height="11.099999999999966" fill="#9ae2cf" shape-rendering="crispEdges"/>
<rect x="238.50" y="504.7" width="18.40" height="11.099999999999966" fill="#8cdcc4" shape-rendering="crispEdges"/>
<rect x="255.90" y="504.7" width="18.40" height="11.099999999999966" fill="#84d8be" shape-rendering="crispEdges"/>
<rect x="273.30" y="504.7" width="17.40" height="11.099999999999966" fill="#7ed2b6" shape-rendering="crispEdges"/>
<rect x="47.1" y="504.7" width="243.6" height="11.099999999999966" fill="none" stroke="#444" stroke-width="0.7"/>
<line x1="55.80" y1="515.8" x2="55.80" y2="518.0" stroke="#444" stroke-width="0.6"/>
<text x="55.80" y="526.8" font-size="7.2" fill="#1a1a1a" text-anchor="middle" font-weight="normal" >0</text>
<line x1="73.20" y1="515.8" x2="73.20" y2="518.0" stroke="#444" stroke-width="0.6"/>
<text x="73.20" y="526.8" font-size="7.2" fill="#1a1a1a" text-anchor="middle" font-weight="normal" >1</text>
<line x1="90.60" y1="515.8" x2="90.60" y2="518.0" stroke="#444" stroke-width="0.6"/>
<text x="90.60" y="526.8" font-size="7.2" fill="#1a1a1a" text-anchor="middle" font-weight="normal" >2</text>
<line x1="108.00" y1="515.8" x2="108.00" y2="518.0" stroke="#444" stroke-width="0.6"/>
<text x="108.00" y="526.8" font-size="7.2" fill="#1a1a1a" text-anchor="middle" font-weight="normal" >5</text>
<line x1="125.40" y1="515.8" x2="125.40" y2="518.0" stroke="#444" stroke-width="0.6"/>
<text x="125.40" y="526.8" font-size="7.2" fill="#1a1a1a" text-anchor="middle" font-weight="normal" >8</text>
<line x1="142.80" y1="515.8" x2="142.80" y2="518.0" stroke="#444" stroke-width="0.6"/>
<text x="142.80" y="526.8" font-size="7.2" fill="#1a1a1a" text-anchor="middle" font-weight="normal" >10</text>
<line x1="160.20" y1="515.8" x2="160.20" y2="518.0" stroke="#444" stroke-width="0.6"/>
<text x="160.20" y="526.8" font-size="7.2" fill="#1a1a1a" text-anchor="middle" font-weight="normal" >15</text>
<line x1="177.60" y1="515.8" x2="177.60" y2="518.0" stroke="#444" stroke-width="0.6"/>
<text x="177.60" y="526.8" font-size="7.2" fill="#1a1a1a" text-anchor="middle" font-weight="normal" >30</text>
<line x1="195.00" y1="515.8" x2="195.00" y2="518.0" stroke="#444" stroke-width="0.6"/>
<text x="195.00" y="526.8" font-size="7.2" fill="#1a1a1a" text-anchor="middle" font-weight="normal" >45</text>
<line x1="212.40" y1="515.8" x2="212.40" y2="518.0" stroke="#444" stroke-width="0.6"/>
<text x="212.40" y="526.8" font-size="7.2" fill="#1a1a1a" text-anchor="middle" font-weight="normal" >60</text>
<line x1="229.80" y1="515.8" x2="229.80" y2="518.0" stroke="#444" stroke-width="0.6"/>
<text x="229.80" y="526.8" font-size="7.2" fill="#1a1a1a" text-anchor="middle" font-weight="normal" >120</text>
<line x1="247.20" y1="515.8" x2="247.20" y2="518.0" stroke="#444" stroke-width="0.6"/>
<text x="247.20" y="526.8" font-size="7.2" fill="#1a1a1a" text-anchor="middle" font-weight="normal" >180</text>
<line x1="264.60" y1="515.8" x2="264.60" y2="518.0" stroke="#444" stroke-width="0.6"/>
<text x="264.60" y="526.8" font-size="7.2" fill="#1a1a1a" text-anchor="middle" font-weight="normal" >300</text>
<line x1="282.00" y1="515.8" x2="282.00" y2="518.0" stroke="#444" stroke-width="0.6"/>
<text x="282.00" y="526.8" font-size="7.2" fill="#1a1a1a" text-anchor="middle" font-weight="normal" >600</text>
<text x="289.6" y="527.2" font-size="8.2" fill="#1a1a1a" text-anchor="start" font-weight="normal" >min</text>
<clipPath id="dclip"><rect x="49.4" y="529.2" width="243.70000000000002" height="139.0"/></clipPath>
<g clip-path="url(#dclip)">
<polyline points="49.4,635.8 49.9,635.7 50.4,635.5 50.9,635.4 51.4,635.2 51.9,635.1 52.4,635.0 52.9,634.9 53.4,634.8 53.9,634.6 54.4,634.5 54.9,634.4 55.4,634.2 55.9,634.1 56.4,633.9 56.9,633.8 57.4,633.6 57.9,633.4 58.4,633.2 58.9,633.0 59.4,632.8 59.9,632.5 60.4,632.3 60.9,632.0 61.4,631.7 61.9,631.4 62.4,631.1 62.9,630.8 63.4,630.4 63.9,630.0 64.4,629.7 64.9,629.3 65.4,628.8 65.9,628.4 66.4,627.9 66.9,627.4 67.4,626.9 67.9,626.4 68.4,626.0 68.9,625.8 69.4,625.5 69.9,625.2 70.4,624.8 70.9,624.2 71.4,623.2 71.9,621.9 72.4,620.1 72.9,617.7 73.4,614.1 73.9,609.3 74.4,603.7 74.9,597.6 75.4,591.4 75.9,585.1 76.4,577.7 76.9,569.9 77.4,562.4 77.9,555.3 78.4,549.5 78.9,549.9 79.4,553.3 79.9,558.0 80.4,562.7 80.9,566.8 81.4,570.9 81.9,575.1 82.4,579.4 82.9,583.7 83.4,588.1 83.9,593.1 84.4,598.7 84.9,603.2 85.4,605.6 85.9,607.1 86.4,608.1 86.9,608.8 87.4,609.5 87.9,610.1 88.4,610.5 88.9,610.6 89.4,610.3 89.9,609.8 90.4,609.1 90.9,608.2 91.4,607.3 91.9,606.2 92.4,605.1 92.9,603.9 93.4,602.5 93.9,601.1 94.4,599.7 94.9,598.3 95.4,596.8 95.9,595.2 96.4,593.6 96.9,592.0 97.4,590.5 97.9,589.3 98.4,588.4 98.9,587.8 99.4,587.4 99.9,587.2 100.4,587.4 100.9,587.7 101.4,588.3 101.9,589.2 102.4,590.4 102.9,591.8 103.4,593.6 103.9,595.5 104.4,597.4 104.9,599.5 105.4,601.7 105.9,604.2 106.4,606.9 106.9,610.1 107.4,613.6 107.9,617.2 108.4,620.7 108.9,624.5 109.4,628.3 109.9,632.2 110.4,635.9 110.9,639.3 111.4,642.2 111.9,644.7 112.4,646.8 112.9,648.6 113.4,650.0 113.9,651.0 114.4,651.6 114.9,652.1 115.4,652.6 115.9,653.1 116.4,653.6 116.9,654.0 117.4,654.3 117.9,654.6 118.4,654.8 118.9,654.9 119.4,655.1 119.9,655.3 120.4,655.4 120.9,655.5 121.4,655.7 121.9,655.8 122.4,655.9 122.9,656.0 123.4,656.1 123.9,656.2 124.4,656.3 124.9,656.4 125.4,656.5 125.9,656.6 126.4,656.7 126.9,656.8 127.4,656.8 127.9,656.9 128.4,657.0 128.9,657.1 129.4,657.1 129.9,657.2 130.4,657.3 131.2,657.4 132.0,657.5 132.8,657.6 133.6,657.7 134.4,657.8 135.2,657.9 136.0,657.9 136.8,658.0 137.6,658.1 138.4,658.2 139.2,658.3 140.0,658.4 140.8,658.5 141.6,658.6 142.4,658.7 143.2,658.8 144.0,658.9 144.8,659.0 145.6,659.1 146.4,659.2 147.2,659.2 148.0,659.3 148.8,659.4 149.6,659.5 150.4,659.6 151.2,659.7 152.0,659.8 152.8,659.9 153.6,660.0 154.4,660.0 155.2,660.1 156.0,660.2 156.8,660.3 157.6,660.4 158.4,660.5 159.2,660.5 160.0,660.6 160.8,660.7 161.6,660.7 162.4,660.8 163.2,660.9 164.0,660.9 164.8,661.0 165.6,661.1 166.4,661.1 167.2,661.2 168.0,661.3 168.8,661.3 169.6,661.4 170.4,661.4 171.2,661.5 172.0,661.6 172.8,661.6 173.6,661.7 174.4,661.7 175.2,661.8 176.0,661.9 176.8,661.9 177.6,662.0 178.4,662.0 179.2,662.1 180.0,662.1 180.8,662.2 181.6,662.3 182.4,662.3 183.2,662.4 184.0,662.4 184.8,662.5 185.6,662.5 186.4,662.6 187.2,662.7 188.0,662.7 188.8,662.8 189.6,662.8 190.4,662.9 191.2,663.0 192.0,663.0 192.8,663.1 193.6,663.1 194.4,663.2 195.2,663.3 196.0,663.3 196.8,663.4 197.6,663.4 198.4,663.5 199.2,663.5 200.0,663.6 200.8,663.7 201.6,663.7 202.4,663.8 203.2,663.8 204.0,663.9 204.8,663.9 205.6,664.0 206.4,664.1 207.2,664.1 208.0,664.2 208.8,664.2 209.6,664.3 210.4,664.3 211.2,664.4 212.0,664.4 212.8,664.5 213.6,664.6 214.4,664.6 215.2,664.7 216.0,664.7 216.8,664.8 217.6,664.8 218.4,664.9 219.2,664.9 220.0,665.0 220.8,665.0 221.6,665.1 222.4,665.1 223.2,665.1 224.0,665.2 224.8,665.2 225.6,665.3 226.4,665.3 227.2,665.3 228.0,665.4 228.8,665.4 229.6,665.4 230.4,665.5 231.2,665.5 232.0,665.5 232.8,665.6 233.6,665.6 234.4,665.6 235.2,665.7 236.0,665.7 236.8,665.7 237.6,665.8 238.4,665.8 239.2,665.8 240.0,665.9 240.8,665.9 241.6,665.9 242.4,665.9 243.2,666.0 244.0,666.0 244.8,666.0 245.6,666.0 246.4,666.1 247.2,666.1 248.0,666.1 248.8,666.2 249.6,666.2 250.4,666.2 251.2,666.2 252.0,666.3 252.8,666.3 253.6,666.3 254.4,666.3 255.2,666.4 256.0,666.4 256.8,666.4 257.6,666.4 258.4,666.5 259.2,666.5 260.0,666.5 260.8,666.5 261.6,666.5 262.4,666.6 263.2,666.6 264.0,666.6 264.8,666.6 265.6,666.7 266.4,666.7 267.2,666.7 268.0,666.7 268.8,666.7 269.6,666.8 270.4,666.8 271.2,666.8 272.0,666.8 272.8,666.8 273.6,666.9 274.4,666.9 275.2,666.9 276.0,666.9 276.8,666.9 277.6,666.9 278.4,667.0 279.2,667.0 280.0,667.0 280.8,667.0 281.6,667.0 282.4,667.1 283.2,667.1 284.0,667.1 284.8,667.1 285.6,667.1 286.4,667.1 287.2,667.2 288.0,667.2 288.8,667.2 289.6,667.2 290.4,667.2 291.2,667.2 292.0,667.3 292.8,667.3" fill="none" stroke="#7ed2b6" stroke-width="0.8"/>
<polyline points="49.4,634.1 49.9,634.0 50.4,633.8 50.9,633.7 51.4,633.5 51.9,633.4 52.4,633.3 52.9,633.1 53.4,633.0 53.9,632.9 54.4,632.7 54.9,632.6 55.4,632.4 55.9,632.3 56.4,632.1 56.9,632.0 57.4,631.8 57.9,631.6 58.4,631.4 58.9,631.1 59.4,630.9 59.9,630.7 60.4,630.4 60.9,630.1 61.4,629.8 61.9,629.5 62.4,629.2 62.9,628.8 63.4,628.5 63.9,628.1 64.4,627.7 64.9,627.3 65.4,626.9 65.9,626.4 66.4,626.0 66.9,625.5 67.4,625.0 67.9,624.5 68.4,624.1 68.9,623.8 69.4,623.5 69.9,623.2 70.4,622.7 70.9,622.0 71.4,621.1 71.9,619.8 72.4,618.1 72.9,615.8 73.4,612.3 73.9,607.8 74.4,602.5 74.9,596.7 75.4,590.6 75.9,584.4 76.4,577.2 76.9,569.5 77.4,562.0 77.9,555.0 78.4,549.3 78.9,549.5 79.4,552.7 79.9,557.1 80.4,561.6 80.9,565.6 81.4,569.5 81.9,573.6 82.4,577.7 82.9,581.8 83.4,586.0 83.9,590.8 84.4,596.1 84.9,600.3 85.4,602.6 85.9,604.1 86.4,605.0 86.9,605.7 87.4,606.4 87.9,607.1 88.4,607.5 88.9,607.6 89.4,607.4 89.9,606.9 90.4,606.3 90.9,605.5 91.4,604.7 91.9,603.8 92.4,602.8 92.9,601.8 93.4,600.7 93.9,599.6 94.4,598.5 94.9,597.4 95.4,596.3 95.9,595.1 96.4,593.9 96.9,592.8 97.4,591.8 97.9,591.0 98.4,590.5 98.9,590.2 99.4,590.0 99.9,590.0 100.4,590.2 100.9,590.6 101.4,591.0 101.9,591.8 102.4,592.7 102.9,593.8 103.4,595.2 103.9,596.7 104.4,598.3 104.9,599.9 105.4,601.8 105.9,603.8 106.4,606.2 106.9,609.1 107.4,612.2 107.9,615.5 108.4,618.8 108.9,622.2 109.4,625.8 109.9,629.3 110.4,632.7 110.9,635.9 111.4,638.6 111.9,641.0 112.4,643.0 112.9,644.7 113.4,646.2 113.9,647.2 114.4,647.9 114.9,648.4 115.4,649.0 115.9,649.6 116.4,650.1 116.9,650.6 117.4,651.0 117.9,651.3 118.4,651.5 118.9,651.8 119.4,652.0 119.9,652.2 120.4,652.4 120.9,652.6 121.4,652.7 121.9,652.9 122.4,653.1 122.9,653.2 123.4,653.3 123.9,653.5 124.4,653.6 124.9,653.7 125.4,653.8 125.9,654.0 126.4,654.1 126.9,654.2 127.4,654.3 127.9,654.4 128.4,654.5 128.9,654.6 129.4,654.7 129.9,654.8 130.4,654.9 131.2,655.1 132.0,655.2 132.8,655.4 133.6,655.5 134.4,655.7 135.2,655.8 136.0,655.9 136.8,656.1 137.6,656.2 138.4,656.3 139.2,656.5 140.0,656.6 140.8,656.7 141.6,656.9 142.4,657.0 143.2,657.2 144.0,657.3 144.8,657.4 145.6,657.6 146.4,657.7 147.2,657.9 148.0,658.0 148.8,658.1 149.6,658.3 150.4,658.4 151.2,658.6 152.0,658.7 152.8,658.8 153.6,658.9 154.4,659.1 155.2,659.2 156.0,659.3 156.8,659.4 157.6,659.5 158.4,659.6 159.2,659.7 160.0,659.8 160.8,659.9 161.6,660.0 162.4,660.1 163.2,660.2 164.0,660.3 164.8,660.4 165.6,660.5 166.4,660.6 167.2,660.7 168.0,660.8 168.8,660.8 169.6,660.9 170.4,661.0 171.2,661.1 172.0,661.2 172.8,661.2 173.6,661.3 174.4,661.4 175.2,661.5 176.0,661.5 176.8,661.6 177.6,661.7 178.4,661.8 179.2,661.8 180.0,661.9 180.8,662.0 181.6,662.1 182.4,662.1 183.2,662.2 184.0,662.3 184.8,662.3 185.6,662.4 186.4,662.5 187.2,662.5 188.0,662.6 188.8,662.7 189.6,662.7 190.4,662.8 191.2,662.9 192.0,662.9 192.8,663.0 193.6,663.1 194.4,663.1 195.2,663.2 196.0,663.2 196.8,663.3 197.6,663.4 198.4,663.4 199.2,663.5 200.0,663.5 200.8,663.6 201.6,663.7 202.4,663.7 203.2,663.8 204.0,663.8 204.8,663.9 205.6,664.0 206.4,664.0 207.2,664.1 208.0,664.1 208.8,664.2 209.6,664.2 210.4,664.3 211.2,664.4 212.0,664.4 212.8,664.5 213.6,664.5 214.4,664.6 215.2,664.6 216.0,664.7 216.8,664.7 217.6,664.8 218.4,664.8 219.2,664.9 220.0,664.9 220.8,665.0 221.6,665.0 222.4,665.1 223.2,665.1 224.0,665.2 224.8,665.2 225.6,665.2 226.4,665.3 227.2,665.3 228.0,665.4 228.8,665.4 229.6,665.4 230.4,665.5 231.2,665.5 232.0,665.5 232.8,665.6 233.6,665.6 234.4,665.6 235.2,665.7 236.0,665.7 236.8,665.7 237.6,665.7 238.4,665.8 239.2,665.8 240.0,665.8 240.8,665.9 241.6,665.9 242.4,665.9 243.2,665.9 244.0,666.0 244.8,666.0 245.6,666.0 246.4,666.1 247.2,666.1 248.0,666.1 248.8,666.1 249.6,666.2 250.4,666.2 251.2,666.2 252.0,666.2 252.8,666.3 253.6,666.3 254.4,666.3 255.2,666.3 256.0,666.4 256.8,666.4 257.6,666.4 258.4,666.4 259.2,666.5 260.0,666.5 260.8,666.5 261.6,666.5 262.4,666.6 263.2,666.6 264.0,666.6 264.8,666.6 265.6,666.6 266.4,666.7 267.2,666.7 268.0,666.7 268.8,666.7 269.6,666.7 270.4,666.8 271.2,666.8 272.0,666.8 272.8,666.8 273.6,666.8 274.4,666.9 275.2,666.9 276.0,666.9 276.8,666.9 277.6,666.9 278.4,666.9 279.2,667.0 280.0,667.0 280.8,667.0 281.6,667.0 282.4,667.0 283.2,667.0 284.0,667.1 284.8,667.1 285.6,667.1 286.4,667.1 287.2,667.1 288.0,667.1 288.8,667.2 289.6,667.2 290.4,667.2 291.2,667.2 292.0,667.2 292.8,667.3" fill="none" stroke="#84d8be" stroke-width="0.8"/>
<polyline points="49.4,632.7 49.9,632.5 50.4,632.3 50.9,632.2 51.4,632.0 51.9,631.9 52.4,631.7 52.9,631.6 53.4,631.5 53.9,631.3 54.4,631.2 54.9,631.0 55.4,630.8 55.9,630.7 56.4,630.5 56.9,630.3 57.4,630.1 57.9,629.9 58.4,629.7 58.9,629.5 59.4,629.2 59.9,629.0 60.4,628.7 60.9,628.4 61.4,628.1 61.9,627.8 62.4,627.5 62.9,627.1 63.4,626.8 63.9,626.4 64.4,626.0 64.9,625.6 65.4,625.2 65.9,624.7 66.4,624.2 66.9,623.7 67.4,623.2 67.9,622.7 68.4,622.3 68.9,622.0 69.4,621.7 69.9,621.3 70.4,620.8 70.9,620.1 71.4,619.2 71.9,617.9 72.4,616.3 72.9,614.1 73.4,610.8 73.9,606.4 74.4,601.4 74.9,595.8 75.4,589.9 75.9,583.8 76.4,576.7 76.9,569.2 77.4,561.8 77.9,554.7 78.4,549.0 78.9,549.1 79.4,552.1 79.9,556.4 80.4,560.7 80.9,564.5 81.4,568.3 81.9,572.2 82.4,576.1 82.9,580.1 83.4,584.2 83.9,588.7 84.4,593.7 84.9,597.7 85.4,600.0 85.9,601.4 86.4,602.3 86.9,603.0 87.4,603.7 87.9,604.3 88.4,604.7 88.9,604.9 89.4,604.7 89.9,604.3 90.4,603.8 90.9,603.1 91.4,602.4 91.9,601.6 92.4,600.8 92.9,599.9 93.4,599.0 93.9,598.1 94.4,597.2 94.9,596.4 95.4,595.6 95.9,594.7 96.4,593.9 96.9,593.1 97.4,592.5 97.9,592.0 98.4,591.8 98.9,591.7 99.4,591.7 99.9,591.8 100.4,592.1 100.9,592.5 101.4,592.9 101.9,593.5 102.4,594.2 102.9,595.1 103.4,596.2 103.9,597.4 104.4,598.7 104.9,600.1 105.4,601.6 105.9,603.4 106.4,605.5 106.9,608.0 107.4,610.9 107.9,613.9 108.4,616.9 108.9,620.2 109.4,623.5 109.9,626.7 110.4,629.9 110.9,632.8 111.4,635.5 111.9,637.7 112.4,639.6 112.9,641.3 113.4,642.8 113.9,643.8 114.4,644.5 114.9,645.2 115.4,645.8 115.9,646.4 116.4,647.0 116.9,647.5 117.4,648.0 117.9,648.4 118.4,648.7 118.9,649.0 119.4,649.2 119.9,649.5 120.4,649.7 120.9,649.9 121.4,650.1 121.9,650.3 122.4,650.5 122.9,650.7 123.4,650.9 123.9,651.0 124.4,651.2 124.9,651.3 125.4,651.5 125.9,651.6 126.4,651.8 126.9,651.9 127.4,652.1 127.9,652.2 128.4,652.3 128.9,652.5 129.4,652.6 129.9,652.7 130.4,652.8 131.2,653.0 132.0,653.2 132.8,653.4 133.6,653.6 134.4,653.8 135.2,654.0 136.0,654.1 136.8,654.3 137.6,654.5 138.4,654.6 139.2,654.8 140.0,655.0 140.8,655.2 141.6,655.4 142.4,655.5 143.2,655.7 144.0,655.9 144.8,656.1 145.6,656.3 146.4,656.4 147.2,656.6 148.0,656.8 148.8,657.0 149.6,657.2 150.4,657.4 151.2,657.6 152.0,657.7 152.8,657.9 153.6,658.0 154.4,658.2 155.2,658.3 156.0,658.5 156.8,658.6 157.6,658.8 158.4,658.9 159.2,659.0 160.0,659.2 160.8,659.3 161.6,659.4 162.4,659.5 163.2,659.7 164.0,659.8 164.8,659.9 165.6,660.0 166.4,660.1 167.2,660.2 168.0,660.3 168.8,660.4 169.6,660.5 170.4,660.6 171.2,660.7 172.0,660.8 172.8,660.9 173.6,661.0 174.4,661.1 175.2,661.2 176.0,661.3 176.8,661.4 177.6,661.4 178.4,661.5 179.2,661.6 180.0,661.7 180.8,661.8 181.6,661.9 182.4,662.0 183.2,662.0 184.0,662.1 184.8,662.2 185.6,662.3 186.4,662.3 187.2,662.4 188.0,662.5 188.8,662.6 189.6,662.6 190.4,662.7 191.2,662.8 192.0,662.8 192.8,662.9 193.6,663.0 194.4,663.1 195.2,663.1 196.0,663.2 196.8,663.2 197.6,663.3 198.4,663.4 199.2,663.4 200.0,663.5 200.8,663.6 201.6,663.6 202.4,663.7 203.2,663.7 204.0,663.8 204.8,663.9 205.6,663.9 206.4,664.0 207.2,664.0 208.0,664.1 208.8,664.2 209.6,664.2 210.4,664.3 211.2,664.3 212.0,664.4 212.8,664.5 213.6,664.5 214.4,664.6 215.2,664.6 216.0,664.7 216.8,664.7 217.6,664.8 218.4,664.8 219.2,664.9 220.0,664.9 220.8,665.0 221.6,665.0 222.4,665.1 223.2,665.1 224.0,665.1 224.8,665.2 225.6,665.2 226.4,665.3 227.2,665.3 228.0,665.3 228.8,665.4 229.6,665.4 230.4,665.4 231.2,665.5 232.0,665.5 232.8,665.5 233.6,665.6 234.4,665.6 235.2,665.6 236.0,665.7 236.8,665.7 237.6,665.7 238.4,665.8 239.2,665.8 240.0,665.8 240.8,665.9 241.6,665.9 242.4,665.9 243.2,665.9 244.0,666.0 244.8,666.0 245.6,666.0 246.4,666.0 247.2,666.1 248.0,666.1 248.8,666.1 249.6,666.1 250.4,666.2 251.2,666.2 252.0,666.2 252.8,666.2 253.6,666.3 254.4,666.3 255.2,666.3 256.0,666.3 256.8,666.4 257.6,666.4 258.4,666.4 259.2,666.4 260.0,666.5 260.8,666.5 261.6,666.5 262.4,666.5 263.2,666.6 264.0,666.6 264.8,666.6 265.6,666.6 266.4,666.6 267.2,666.7 268.0,666.7 268.8,666.7 269.6,666.7 270.4,666.7 271.2,666.8 272.0,666.8 272.8,666.8 273.6,666.8 274.4,666.8 275.2,666.9 276.0,666.9 276.8,666.9 277.6,666.9 278.4,666.9 279.2,666.9 280.0,667.0 280.8,667.0 281.6,667.0 282.4,667.0 283.2,667.0 284.0,667.0 284.8,667.1 285.6,667.1 286.4,667.1 287.2,667.1 288.0,667.1 288.8,667.1 289.6,667.2 290.4,667.2 291.2,667.2 292.0,667.2 292.8,667.2" fill="none" stroke="#8cdcc4" stroke-width="0.8"/>
<polyline points="49.4,631.0 49.9,630.8 50.4,630.7 50.9,630.5 51.4,630.3 51.9,630.2 52.4,630.0 52.9,629.9 53.4,629.7 53.9,629.5 54.4,629.4 54.9,629.2 55.4,629.0 55.9,628.9 56.4,628.7 56.9,628.5 57.4,628.3 57.9,628.1 58.4,627.8 58.9,627.6 59.4,627.3 59.9,627.1 60.4,626.8 60.9,626.5 61.4,626.2 61.9,625.9 62.4,625.6 62.9,625.2 63.4,624.9 63.9,624.5 64.4,624.1 64.9,623.7 65.4,623.2 65.9,622.8 66.4,622.3 66.9,621.8 67.4,621.3 67.9,620.8 68.4,620.3 68.9,620.0 69.4,619.6 69.9,619.2 70.4,618.7 70.9,618.0 71.4,617.1 71.9,615.8 72.4,614.2 72.9,612.1 73.4,609.0 73.9,604.9 74.4,600.2 74.9,594.8 75.4,589.1 75.9,583.0 76.4,576.1 76.9,568.8 77.4,561.4 77.9,554.4 78.4,548.8 78.9,548.6 79.4,551.4 79.9,555.5 80.4,559.7 80.9,563.3 81.4,566.9 81.9,570.7 82.4,574.4 82.9,578.3 83.4,582.1 83.9,586.4 84.4,591.1 84.9,594.9 85.4,597.0 85.9,598.3 86.4,599.2 86.9,599.9 87.4,600.6 87.9,601.2 88.4,601.7 88.9,601.8 89.4,601.7 89.9,601.4 90.4,600.9 90.9,600.4 91.4,599.7 91.9,599.1 92.4,598.4 92.9,597.7 93.4,597.0 93.9,596.3 94.4,595.7 94.9,595.1 95.4,594.6 95.9,594.1 96.4,593.5 96.9,593.1 97.4,592.8 97.9,592.6 98.4,592.7 98.9,592.8 99.4,593.0 99.9,593.3 100.4,593.6 100.9,594.0 101.4,594.3 101.9,594.8 102.4,595.3 102.9,596.0 103.4,596.9 103.9,597.8 104.4,598.8 104.9,599.9 105.4,601.2 105.9,602.7 106.4,604.5 106.9,606.7 107.4,609.3 107.9,612.1 108.4,614.9 108.9,617.8 109.4,620.8 109.9,623.8 110.4,626.7 110.9,629.4 111.4,631.9 111.9,634.0 112.4,635.8 112.9,637.5 113.4,638.9 113.9,640.0 114.4,640.8 114.9,641.5 115.4,642.2 115.9,642.9 116.4,643.5 116.9,644.1 117.4,644.7 117.9,645.1 118.4,645.5 118.9,645.8 119.4,646.1 119.9,646.4 120.4,646.7 120.9,647.0 121.4,647.2 121.9,647.4 122.4,647.7 122.9,647.9 123.4,648.1 123.9,648.3 124.4,648.5 124.9,648.7 125.4,648.9 125.9,649.0 126.4,649.2 126.9,649.4 127.4,649.5 127.9,649.7 128.4,649.9 128.9,650.0 129.4,650.2 129.9,650.3 130.4,650.5 131.2,650.7 132.0,651.0 132.8,651.2 133.6,651.4 134.4,651.7 135.2,651.9 136.0,652.1 136.8,652.3 137.6,652.5 138.4,652.8 139.2,653.0 140.0,653.2 140.8,653.4 141.6,653.7 142.4,653.9 143.2,654.1 144.0,654.3 144.8,654.6 145.6,654.8 146.4,655.0 147.2,655.2 148.0,655.5 148.8,655.7 149.6,656.0 150.4,656.2 151.2,656.4 152.0,656.6 152.8,656.8 153.6,657.0 154.4,657.2 155.2,657.4 156.0,657.5 156.8,657.7 157.6,657.9 158.4,658.1 159.2,658.2 160.0,658.4 160.8,658.6 161.6,658.7 162.4,658.9 163.2,659.0 164.0,659.2 164.8,659.3 165.6,659.4 166.4,659.6 167.2,659.7 168.0,659.8 168.8,659.9 169.6,660.1 170.4,660.2 171.2,660.3 172.0,660.4 172.8,660.5 173.6,660.6 174.4,660.7 175.2,660.8 176.0,661.0 176.8,661.1 177.6,661.2 178.4,661.3 179.2,661.4 180.0,661.5 180.8,661.6 181.6,661.7 182.4,661.8 183.2,661.9 184.0,661.9 184.8,662.0 185.6,662.1 186.4,662.2 187.2,662.3 188.0,662.4 188.8,662.4 189.6,662.5 190.4,662.6 191.2,662.7 192.0,662.8 192.8,662.8 193.6,662.9 194.4,663.0 195.2,663.0 196.0,663.1 196.8,663.2 197.6,663.3 198.4,663.3 199.2,663.4 200.0,663.4 200.8,663.5 201.6,663.6 202.4,663.6 203.2,663.7 204.0,663.8 204.8,663.8 205.6,663.9 206.4,663.9 207.2,664.0 208.0,664.1 208.8,664.1 209.6,664.2 210.4,664.2 211.2,664.3 212.0,664.4 212.8,664.4 213.6,664.5 214.4,664.5 215.2,664.6 216.0,664.6 216.8,664.7 217.6,664.8 218.4,664.8 219.2,664.9 220.0,664.9 220.8,665.0 221.6,665.0 222.4,665.0 223.2,665.1 224.0,665.1 224.8,665.2 225.6,665.2 226.4,665.2 227.2,665.3 228.0,665.3 228.8,665.4 229.6,665.4 230.4,665.4 231.2,665.5 232.0,665.5 232.8,665.5 233.6,665.6 234.4,665.6 235.2,665.6 236.0,665.7 236.8,665.7 237.6,665.7 238.4,665.8 239.2,665.8 240.0,665.8 240.8,665.8 241.6,665.9 242.4,665.9 243.2,665.9 244.0,665.9 244.8,666.0 245.6,666.0 246.4,666.0 247.2,666.1 248.0,666.1 248.8,666.1 249.6,666.1 250.4,666.2 251.2,666.2 252.0,666.2 252.8,666.2 253.6,666.3 254.4,666.3 255.2,666.3 256.0,666.3 256.8,666.4 257.6,666.4 258.4,666.4 259.2,666.4 260.0,666.4 260.8,666.5 261.6,666.5 262.4,666.5 263.2,666.5 264.0,666.6 264.8,666.6 265.6,666.6 266.4,666.6 267.2,666.6 268.0,666.7 268.8,666.7 269.6,666.7 270.4,666.7 271.2,666.7 272.0,666.8 272.8,666.8 273.6,666.8 274.4,666.8 275.2,666.8 276.0,666.8 276.8,666.9 277.6,666.9 278.4,666.9 279.2,666.9 280.0,666.9 280.8,666.9 281.6,667.0 282.4,667.0 283.2,667.0 284.0,667.0 284.8,667.0 285.6,667.0 286.4,667.1 287.2,667.1 288.0,667.1 288.8,667.1 289.6,667.1 290.4,667.2 291.2,667.2 292.0,667.2 292.8,667.2" fill="none" stroke="#9ae2cf" stroke-width="0.8"/>
<polyline points="49.4,629.4 49.9,629.2 50.4,629.0 50.9,628.8 51.4,628.6 51.9,628.5 52.4,628.3 52.9,628.1 53.4,628.0 53.9,627.8 54.4,627.6 54.9,627.4 55.4,627.3 55.9,627.1 56.4,626.9 56.9,626.7 57.4,626.4 57.9,626.2 58.4,626.0 58.9,625.7 59.4,625.5 59.9,625.2 60.4,624.9 60.9,624.6 61.4,624.3 61.9,624.0 62.4,623.7 62.9,623.3 63.4,622.9 63.9,622.6 64.4,622.2 64.9,621.7 65.4,621.3 65.9,620.8 66.4,620.3 66.9,619.9 67.4,619.3 67.9,618.8 68.4,618.4 68.9,618.0 69.4,617.6 69.9,617.2 70.4,616.6 70.9,615.9 71.4,615.0 71.9,613.7 72.4,612.2 72.9,610.2 73.4,607.3 73.9,603.4 74.4,598.9 74.9,593.9 75.4,588.3 75.9,582.3 76.4,575.6 76.9,568.5 77.4,561.1 77.9,554.1 78.4,548.6 78.9,548.2 79.4,550.7 79.9,554.7 80.4,558.7 80.9,562.1 81.4,565.6 81.9,569.1 82.4,572.7 82.9,576.4 83.4,580.0 83.9,584.1 84.4,588.5 84.9,592.0 85.4,593.9 85.9,595.2 86.4,596.1 86.9,596.8 87.4,597.5 87.9,598.1 88.4,598.6 88.9,598.8 89.4,598.7 89.9,598.5 90.4,598.1 90.9,597.6 91.4,597.1 91.9,596.6 92.4,596.0 92.9,595.5 93.4,594.9 93.9,594.4 94.4,594.0 94.9,593.6 95.4,593.4 95.9,593.1 96.4,592.8 96.9,592.7 97.4,592.6 97.9,592.7 98.4,593.0 98.9,593.3 99.4,593.7 99.9,594.0 100.4,594.4 100.9,594.7 101.4,595.0 101.9,595.4 102.4,595.9 102.9,596.4 103.4,597.1 103.9,597.8 104.4,598.5 104.9,599.4 105.4,600.5 105.9,601.7 106.4,603.3 106.9,605.3 107.4,607.7 107.9,610.2 108.4,612.7 108.9,615.4 109.4,618.2 109.9,620.9 110.4,623.6 110.9,626.0 111.4,628.3 111.9,630.3 112.4,632.0 112.9,633.6 113.4,635.1 113.9,636.2 114.4,637.0 114.9,637.8 115.4,638.6 115.9,639.3 116.4,640.1 116.9,640.7 117.4,641.3 117.9,641.9 118.4,642.3 118.9,642.7 119.4,643.0 119.9,643.4 120.4,643.7 120.9,644.0 121.4,644.3 121.9,644.5 122.4,644.8 122.9,645.1 123.4,645.3 123.9,645.5 124.4,645.8 124.9,646.0 125.4,646.2 125.9,646.4 126.4,646.6 126.9,646.8 127.4,647.0 127.9,647.2 128.4,647.4 128.9,647.6 129.4,647.8 129.9,648.0 130.4,648.2 131.2,648.4 132.0,648.7 132.8,649.0 133.6,649.3 134.4,649.6 135.2,649.8 136.0,650.1 136.8,650.3 137.6,650.6 138.4,650.9 139.2,651.1 140.0,651.4 140.8,651.7 141.6,651.9 142.4,652.2 143.2,652.5 144.0,652.8 144.8,653.0 145.6,653.3 146.4,653.6 147.2,653.9 148.0,654.2 148.8,654.5 149.6,654.7 150.4,655.0 151.2,655.3 152.0,655.5 152.8,655.7 153.6,656.0 154.4,656.2 155.2,656.4 156.0,656.6 156.8,656.8 157.6,657.0 158.4,657.2 159.2,657.4 160.0,657.6 160.8,657.8 161.6,658.0 162.4,658.2 163.2,658.4 164.0,658.5 164.8,658.7 165.6,658.9 166.4,659.0 167.2,659.2 168.0,659.3 168.8,659.5 169.6,659.6 170.4,659.7 171.2,659.9 172.0,660.0 172.8,660.1 173.6,660.3 174.4,660.4 175.2,660.5 176.0,660.6 176.8,660.8 177.6,660.9 178.4,661.0 179.2,661.1 180.0,661.2 180.8,661.4 181.6,661.5 182.4,661.6 183.2,661.7 184.0,661.8 184.8,661.9 185.6,662.0 186.4,662.1 187.2,662.2 188.0,662.2 188.8,662.3 189.6,662.4 190.4,662.5 191.2,662.6 192.0,662.7 192.8,662.7 193.6,662.8 194.4,662.9 195.2,663.0 196.0,663.0 196.8,663.1 197.6,663.2 198.4,663.3 199.2,663.3 200.0,663.4 200.8,663.5 201.6,663.5 202.4,663.6 203.2,663.7 204.0,663.7 204.8,663.8 205.6,663.8 206.4,663.9 207.2,664.0 208.0,664.0 208.8,664.1 209.6,664.2 210.4,664.2 211.2,664.3 212.0,664.3 212.8,664.4 213.6,664.5 214.4,664.5 215.2,664.6 216.0,664.6 216.8,664.7 217.6,664.7 218.4,664.8 219.2,664.8 220.0,664.9 220.8,664.9 221.6,665.0 222.4,665.0 223.2,665.1 224.0,665.1 224.8,665.2 225.6,665.2 226.4,665.2 227.2,665.3 228.0,665.3 228.8,665.3 229.6,665.4 230.4,665.4 231.2,665.4 232.0,665.5 232.8,665.5 233.6,665.5 234.4,665.6 235.2,665.6 236.0,665.6 236.8,665.7 237.6,665.7 238.4,665.7 239.2,665.8 240.0,665.8 240.8,665.8 241.6,665.9 242.4,665.9 243.2,665.9 244.0,665.9 244.8,666.0 245.6,666.0 246.4,666.0 247.2,666.0 248.0,666.1 248.8,666.1 249.6,666.1 250.4,666.1 251.2,666.2 252.0,666.2 252.8,666.2 253.6,666.2 254.4,666.3 255.2,666.3 256.0,666.3 256.8,666.3 257.6,666.4 258.4,666.4 259.2,666.4 260.0,666.4 260.8,666.5 261.6,666.5 262.4,666.5 263.2,666.5 264.0,666.5 264.8,666.6 265.6,666.6 266.4,666.6 267.2,666.6 268.0,666.6 268.8,666.7 269.6,666.7 270.4,666.7 271.2,666.7 272.0,666.7 272.8,666.8 273.6,666.8 274.4,666.8 275.2,666.8 276.0,666.8 276.8,666.8 277.6,666.9 278.4,666.9 279.2,666.9 280.0,666.9 280.8,666.9 281.6,666.9 282.4,667.0 283.2,667.0 284.0,667.0 284.8,667.0 285.6,667.0 286.4,667.0 287.2,667.1 288.0,667.1 288.8,667.1 289.6,667.1 290.4,667.1 291.2,667.1 292.0,667.2 292.8,667.2" fill="none" stroke="#ace8dc" stroke-width="0.8"/>
<polyline points="49.4,627.7 49.9,627.5 50.4,627.3 50.9,627.1 51.4,626.9 51.9,626.7 52.4,626.6 52.9,626.4 53.4,626.2 53.9,626.0 54.4,625.8 54.9,625.6 55.4,625.5 55.9,625.3 56.4,625.0 56.9,624.8 57.4,624.6 57.9,624.4 58.4,624.1 58.9,623.8 59.4,623.6 59.9,623.3 60.4,623.0 60.9,622.7 61.4,622.4 61.9,622.1 62.4,621.7 62.9,621.4 63.4,621.0 63.9,620.6 64.4,620.2 64.9,619.8 65.4,619.4 65.9,618.9 66.4,618.4 66.9,617.9 67.4,617.4 67.9,616.9 68.4,616.4 68.9,616.0 69.4,615.6 69.9,615.1 70.4,614.5 70.9,613.8 71.4,612.8 71.9,611.6 72.4,610.2 72.9,608.3 73.4,605.5 73.9,602.0 74.4,597.7 74.9,592.9 75.4,587.5 75.9,581.6 76.4,575.0 76.9,568.1 77.4,560.8 77.9,553.8 78.4,548.3 78.9,547.7 79.4,550.1 79.9,553.8 80.4,557.6 80.9,560.9 81.4,564.2 81.9,567.6 82.4,571.0 82.9,574.5 83.4,578.0 83.9,581.7 84.4,585.8 84.9,589.1 85.4,590.9 85.9,592.2 86.4,593.1 86.9,593.8 87.4,594.5 87.9,595.1 88.4,595.5 88.9,595.7 89.4,595.7 89.9,595.5 90.4,595.2 90.9,594.8 91.4,594.4 91.9,594.0 92.4,593.6 92.9,593.2 93.4,592.8 93.9,592.4 94.4,592.1 94.9,592.0 95.4,591.9 95.9,591.8 96.4,591.8 96.9,591.8 97.4,592.0 97.9,592.3 98.4,592.7 98.9,593.2 99.4,593.6 99.9,594.0 100.4,594.5 100.9,594.8 101.4,595.1 101.9,595.4 102.4,595.8 102.9,596.2 103.4,596.7 103.9,597.3 104.4,597.9 104.9,598.6 105.4,599.5 105.9,600.6 106.4,602.0 106.9,603.8 107.4,605.9 107.9,608.2 108.4,610.5 108.9,613.0 109.4,615.5 109.9,618.0 110.4,620.4 110.9,622.6 111.4,624.7 111.9,626.5 112.4,628.2 112.9,629.8 113.4,631.2 113.9,632.4 114.4,633.3 114.9,634.1 115.4,635.0 115.9,635.8 116.4,636.6 116.9,637.3 117.4,638.0 117.9,638.6 118.4,639.1 118.9,639.5 119.4,639.9 119.9,640.3 120.4,640.7 120.9,641.0 121.4,641.3 121.9,641.6 122.4,641.9 122.9,642.2 123.4,642.5 123.9,642.8 124.4,643.1 124.9,643.3 125.4,643.6 125.9,643.8 126.4,644.0 126.9,644.3 127.4,644.5 127.9,644.7 128.4,644.9 128.9,645.2 129.4,645.4 129.9,645.6 130.4,645.8 131.2,646.1 132.0,646.5 132.8,646.8 133.6,647.1 134.4,647.4 135.2,647.8 136.0,648.1 136.8,648.4 137.6,648.7 138.4,649.0 139.2,649.3 140.0,649.6 140.8,649.9 141.6,650.2 142.4,650.6 143.2,650.9 144.0,651.2 144.8,651.5 145.6,651.8 146.4,652.2 147.2,652.5 148.0,652.8 148.8,653.2 149.6,653.5 150.4,653.8 151.2,654.1 152.0,654.4 152.8,654.7 153.6,654.9 154.4,655.2 155.2,655.5 156.0,655.7 156.8,655.9 157.6,656.2 158.4,656.4 159.2,656.7 160.0,656.9 160.8,657.1 161.6,657.3 162.4,657.5 163.2,657.7 164.0,657.9 164.8,658.1 165.6,658.3 166.4,658.5 167.2,658.6 168.0,658.8 168.8,659.0 169.6,659.1 170.4,659.3 171.2,659.4 172.0,659.6 172.8,659.7 173.6,659.9 174.4,660.0 175.2,660.2 176.0,660.3 176.8,660.5 177.6,660.6 178.4,660.8 179.2,660.9 180.0,661.0 180.8,661.1 181.6,661.3 182.4,661.4 183.2,661.5 184.0,661.6 184.8,661.7 185.6,661.8 186.4,661.9 187.2,662.0 188.0,662.1 188.8,662.2 189.6,662.3 190.4,662.4 191.2,662.5 192.0,662.6 192.8,662.7 193.6,662.7 194.4,662.8 195.2,662.9 196.0,663.0 196.8,663.1 197.6,663.1 198.4,663.2 199.2,663.3 200.0,663.3 200.8,663.4 201.6,663.5 202.4,663.5 203.2,663.6 204.0,663.7 204.8,663.7 205.6,663.8 206.4,663.9 207.2,663.9 208.0,664.0 208.8,664.1 209.6,664.1 210.4,664.2 211.2,664.3 212.0,664.3 212.8,664.4 213.6,664.4 214.4,664.5 215.2,664.5 216.0,664.6 216.8,664.7 217.6,664.7 218.4,664.8 219.2,664.8 220.0,664.9 220.8,664.9 221.6,665.0 222.4,665.0 223.2,665.0 224.0,665.1 224.8,665.1 225.6,665.2 226.4,665.2 227.2,665.3 228.0,665.3 228.8,665.3 229.6,665.4 230.4,665.4 231.2,665.4 232.0,665.5 232.8,665.5 233.6,665.5 234.4,665.6 235.2,665.6 236.0,665.6 236.8,665.7 237.6,665.7 238.4,665.7 239.2,665.8 240.0,665.8 240.8,665.8 241.6,665.8 242.4,665.9 243.2,665.9 244.0,665.9 244.8,665.9 245.6,666.0 246.4,666.0 247.2,666.0 248.0,666.0 248.8,666.1 249.6,666.1 250.4,666.1 251.2,666.1 252.0,666.2 252.8,666.2 253.6,666.2 254.4,666.2 255.2,666.3 256.0,666.3 256.8,666.3 257.6,666.3 258.4,666.4 259.2,666.4 260.0,666.4 260.8,666.4 261.6,666.5 262.4,666.5 263.2,666.5 264.0,666.5 264.8,666.5 265.6,666.6 266.4,666.6 267.2,666.6 268.0,666.6 268.8,666.6 269.6,666.7 270.4,666.7 271.2,666.7 272.0,666.7 272.8,666.7 273.6,666.8 274.4,666.8 275.2,666.8 276.0,666.8 276.8,666.8 277.6,666.8 278.4,666.9 279.2,666.9 280.0,666.9 280.8,666.9 281.6,666.9 282.4,666.9 283.2,667.0 284.0,667.0 284.8,667.0 285.6,667.0 286.4,667.0 287.2,667.0 288.0,667.0 288.8,667.1 289.6,667.1 290.4,667.1 291.2,667.1 292.0,667.1 292.8,667.2" fill="none" stroke="#97d2cf" stroke-width="0.8"/>
<polyline points="49.4,625.9 49.9,625.7 50.4,625.4 50.9,625.2 51.4,625.0 51.9,624.8 52.4,624.7 52.9,624.5 53.4,624.3 53.9,624.1 54.4,623.9 54.9,623.7 55.4,623.5 55.9,623.2 56.4,623.0 56.9,622.8 57.4,622.5 57.9,622.3 58.4,622.0 58.9,621.8 59.4,621.5 59.9,621.2 60.4,620.9 60.9,620.6 61.4,620.3 61.9,620.0 62.4,619.6 62.9,619.3 63.4,618.9 63.9,618.5 64.4,618.1 64.9,617.7 65.4,617.2 65.9,616.7 66.4,616.2 66.9,615.7 67.4,615.2 67.9,614.7 68.4,614.2 68.9,613.8 69.4,613.3 69.9,612.8 70.4,612.1 70.9,611.4 71.4,610.5 71.9,609.3 72.4,607.9 72.9,606.1 73.4,603.6 73.9,600.3 74.4,596.4 74.9,591.8 75.4,586.6 75.9,580.8 76.4,574.4 76.9,567.7 77.4,560.4 77.9,553.5 78.4,548.0 78.9,547.2 79.4,549.3 79.9,552.9 80.4,556.5 80.9,559.5 81.4,562.7 81.9,565.9 82.4,569.1 82.9,572.4 83.4,575.7 83.9,579.2 84.4,582.9 84.9,585.9 85.4,587.6 85.9,588.8 86.4,589.7 86.9,590.4 87.4,591.0 87.9,591.6 88.4,592.1 88.9,592.4 89.4,592.4 89.9,592.3 90.4,592.0 90.9,591.7 91.4,591.4 91.9,591.1 92.4,590.8 92.9,590.5 93.4,590.2 93.9,590.0 94.4,589.9 94.9,589.9 95.4,589.9 95.9,590.0 96.4,590.2 96.9,590.4 97.4,590.7 97.9,591.1 98.4,591.7 98.9,592.3 99.4,592.8 99.9,593.3 100.4,593.7 100.9,594.0 101.4,594.3 101.9,594.6 102.4,595.0 102.9,595.3 103.4,595.8 103.9,596.2 104.4,596.7 104.9,597.3 105.4,598.1 105.9,599.0 106.4,600.3 106.9,601.9 107.4,603.8 107.9,605.9 108.4,608.0 108.9,610.3 109.4,612.5 109.9,614.7 110.4,616.8 110.9,618.8 111.4,620.6 111.9,622.4 112.4,624.0 112.9,625.5 113.4,626.9 113.9,628.1 114.4,629.1 114.9,630.0 115.4,631.0 115.9,631.9 116.4,632.7 116.9,633.6 117.4,634.3 117.9,635.0 118.4,635.5 118.9,636.0 119.4,636.5 119.9,636.9 120.4,637.3 120.9,637.7 121.4,638.1 121.9,638.4 122.4,638.8 122.9,639.1 123.4,639.4 123.9,639.8 124.4,640.1 124.9,640.3 125.4,640.6 125.9,640.9 126.4,641.2 126.9,641.4 127.4,641.7 127.9,641.9 128.4,642.2 128.9,642.5 129.4,642.7 129.9,643.0 130.4,643.2 131.2,643.6 132.0,644.0 132.8,644.4 133.6,644.7 134.4,645.1 135.2,645.5 136.0,645.8 136.8,646.2 137.6,646.5 138.4,646.9 139.2,647.2 140.0,647.6 140.8,648.0 141.6,648.3 142.4,648.7 143.2,649.1 144.0,649.4 144.8,649.8 145.6,650.2 146.4,650.6 147.2,650.9 148.0,651.3 148.8,651.7 149.6,652.1 150.4,652.5 151.2,652.9 152.0,653.2 152.8,653.5 153.6,653.8 154.4,654.1 155.2,654.4 156.0,654.7 156.8,655.0 157.6,655.2 158.4,655.5 159.2,655.8 160.0,656.0 160.8,656.3 161.6,656.5 162.4,656.8 163.2,657.0 164.0,657.2 164.8,657.5 165.6,657.7 166.4,657.9 167.2,658.1 168.0,658.3 168.8,658.4 169.6,658.6 170.4,658.8 171.2,659.0 172.0,659.1 172.8,659.3 173.6,659.5 174.4,659.7 175.2,659.8 176.0,660.0 176.8,660.1 177.6,660.3 178.4,660.5 179.2,660.6 180.0,660.8 180.8,660.9 181.6,661.1 182.4,661.2 183.2,661.3 184.0,661.4 184.8,661.6 185.6,661.7 186.4,661.8 187.2,661.9 188.0,662.0 188.8,662.1 189.6,662.2 190.4,662.3 191.2,662.4 192.0,662.5 192.8,662.6 193.6,662.6 194.4,662.7 195.2,662.8 196.0,662.9 196.8,663.0 197.6,663.1 198.4,663.1 199.2,663.2 200.0,663.3 200.8,663.3 201.6,663.4 202.4,663.5 203.2,663.6 204.0,663.6 204.8,663.7 205.6,663.8 206.4,663.8 207.2,663.9 208.0,664.0 208.8,664.0 209.6,664.1 210.4,664.2 211.2,664.2 212.0,664.3 212.8,664.3 213.6,664.4 214.4,664.5 215.2,664.5 216.0,664.6 216.8,664.6 217.6,664.7 218.4,664.7 219.2,664.8 220.0,664.8 220.8,664.9 221.6,664.9 222.4,665.0 223.2,665.0 224.0,665.1 224.8,665.1 225.6,665.2 226.4,665.2 227.2,665.2 228.0,665.3 228.8,665.3 229.6,665.3 230.4,665.4 231.2,665.4 232.0,665.5 232.8,665.5 233.6,665.5 234.4,665.6 235.2,665.6 236.0,665.6 236.8,665.6 237.6,665.7 238.4,665.7 239.2,665.7 240.0,665.8 240.8,665.8 241.6,665.8 242.4,665.8 243.2,665.9 244.0,665.9 244.8,665.9 245.6,666.0 246.4,666.0 247.2,666.0 248.0,666.0 248.8,666.1 249.6,666.1 250.4,666.1 251.2,666.1 252.0,666.2 252.8,666.2 253.6,666.2 254.4,666.2 255.2,666.3 256.0,666.3 256.8,666.3 257.6,666.3 258.4,666.3 259.2,666.4 260.0,666.4 260.8,666.4 261.6,666.4 262.4,666.5 263.2,666.5 264.0,666.5 264.8,666.5 265.6,666.5 266.4,666.6 267.2,666.6 268.0,666.6 268.8,666.6 269.6,666.6 270.4,666.7 271.2,666.7 272.0,666.7 272.8,666.7 273.6,666.7 274.4,666.7 275.2,666.8 276.0,666.8 276.8,666.8 277.6,666.8 278.4,666.8 279.2,666.8 280.0,666.9 280.8,666.9 281.6,666.9 282.4,666.9 283.2,666.9 284.0,666.9 284.8,667.0 285.6,667.0 286.4,667.0 287.2,667.0 288.0,667.0 288.8,667.0 289.6,667.1 290.4,667.1 291.2,667.1 292.0,667.1 292.8,667.1" fill="none" stroke="#5aa6ad" stroke-width="0.8"/>
<polyline points="49.4,624.0 49.9,623.8 50.4,623.6 50.9,623.4 51.4,623.2 51.9,622.9 52.4,622.7 52.9,622.5 53.4,622.3 53.9,622.1 54.4,621.9 54.9,621.7 55.4,621.5 55.9,621.2 56.4,621.0 56.9,620.7 57.4,620.5 57.9,620.2 58.4,620.0 58.9,619.7 59.4,619.4 59.9,619.1 60.4,618.8 60.9,618.5 61.4,618.2 61.9,617.8 62.4,617.5 62.9,617.1 63.4,616.7 63.9,616.3 64.4,615.9 64.9,615.5 65.4,615.0 65.9,614.6 66.4,614.1 66.9,613.6 67.4,613.1 67.9,612.5 68.4,612.0 68.9,611.5 69.4,611.0 69.9,610.5 70.4,609.8 70.9,609.0 71.4,608.1 71.9,607.0 72.4,605.6 72.9,604.0 73.4,601.6 73.9,598.6 74.4,595.0 74.9,590.8 75.4,585.7 75.9,580.0 76.4,573.8 76.9,567.3 77.4,560.1 77.9,553.1 78.4,547.8 78.9,546.7 79.4,548.6 79.9,551.9 80.4,555.4 80.9,558.2 81.4,561.1 81.9,564.2 82.4,567.2 82.9,570.3 83.4,573.4 83.9,576.6 84.4,580.0 84.9,582.7 85.4,584.3 85.9,585.4 86.4,586.2 86.9,586.9 87.4,587.6 87.9,588.2 88.4,588.7 88.9,589.0 89.4,589.0 89.9,589.0 90.4,588.8 90.9,588.6 91.4,588.4 91.9,588.2 92.4,588.0 92.9,587.8 93.4,587.6 93.9,587.5 94.4,587.5 94.9,587.5 95.4,587.7 95.9,587.9 96.4,588.1 96.9,588.4 97.4,588.8 97.9,589.3 98.4,589.9 98.9,590.5 99.4,591.1 99.9,591.6 100.4,592.1 100.9,592.4 101.4,592.7 101.9,593.1 102.4,593.4 102.9,593.8 103.4,594.2 103.9,594.6 104.4,595.1 104.9,595.6 105.4,596.4 105.9,597.2 106.4,598.4 106.9,599.8 107.4,601.6 107.9,603.5 108.4,605.4 108.9,607.5 109.4,609.5 109.9,611.4 110.4,613.2 110.9,615.0 111.4,616.6 111.9,618.2 112.4,619.8 112.9,621.2 113.4,622.6 113.9,623.9 114.4,625.0 114.9,626.0 115.4,626.9 115.9,627.9 116.4,628.9 116.9,629.8 117.4,630.6 117.9,631.3 118.4,631.9 118.9,632.5 119.4,633.0 119.9,633.5 120.4,634.0 120.9,634.4 121.4,634.8 121.9,635.2 122.4,635.6 122.9,636.0 123.4,636.3 123.9,636.7 124.4,637.0 124.9,637.4 125.4,637.7 125.9,638.0 126.4,638.3 126.9,638.6 127.4,638.9 127.9,639.2 128.4,639.5 128.9,639.8 129.4,640.0 129.9,640.3 130.4,640.6 131.2,641.0 132.0,641.5 132.8,641.9 133.6,642.3 134.4,642.7 135.2,643.2 136.0,643.6 136.8,644.0 137.6,644.4 138.4,644.8 139.2,645.2 140.0,645.6 140.8,646.0 141.6,646.4 142.4,646.9 143.2,647.3 144.0,647.7 144.8,648.1 145.6,648.5 146.4,649.0 147.2,649.4 148.0,649.9 148.8,650.3 149.6,650.8 150.4,651.2 151.2,651.6 152.0,652.0 152.8,652.3 153.6,652.7 154.4,653.0 155.2,653.3 156.0,653.7 156.8,654.0 157.6,654.3 158.4,654.6 159.2,654.9 160.0,655.2 160.8,655.5 161.6,655.8 162.4,656.0 163.2,656.3 164.0,656.5 164.8,656.8 165.6,657.0 166.4,657.3 167.2,657.5 168.0,657.7 168.8,657.9 169.6,658.1 170.4,658.3 171.2,658.5 172.0,658.7 172.8,658.9 173.6,659.1 174.4,659.3 175.2,659.5 176.0,659.6 176.8,659.8 177.6,660.0 178.4,660.2 179.2,660.3 180.0,660.5 180.8,660.7 181.6,660.8 182.4,661.0 183.2,661.1 184.0,661.3 184.8,661.4 185.6,661.5 186.4,661.6 187.2,661.7 188.0,661.8 188.8,662.0 189.6,662.1 190.4,662.2 191.2,662.3 192.0,662.4 192.8,662.5 193.6,662.6 194.4,662.6 195.2,662.7 196.0,662.8 196.8,662.9 197.6,663.0 198.4,663.1 199.2,663.1 200.0,663.2 200.8,663.3 201.6,663.4 202.4,663.4 203.2,663.5 204.0,663.6 204.8,663.7 205.6,663.7 206.4,663.8 207.2,663.9 208.0,663.9 208.8,664.0 209.6,664.1 210.4,664.1 211.2,664.2 212.0,664.3 212.8,664.3 213.6,664.4 214.4,664.4 215.2,664.5 216.0,664.5 216.8,664.6 217.6,664.7 218.4,664.7 219.2,664.8 220.0,664.8 220.8,664.9 221.6,664.9 222.4,665.0 223.2,665.0 224.0,665.1 224.8,665.1 225.6,665.1 226.4,665.2 227.2,665.2 228.0,665.3 228.8,665.3 229.6,665.3 230.4,665.4 231.2,665.4 232.0,665.4 232.8,665.5 233.6,665.5 234.4,665.5 235.2,665.6 236.0,665.6 236.8,665.6 237.6,665.7 238.4,665.7 239.2,665.7 240.0,665.7 240.8,665.8 241.6,665.8 242.4,665.8 243.2,665.9 244.0,665.9 244.8,665.9 245.6,665.9 246.4,666.0 247.2,666.0 248.0,666.0 248.8,666.0 249.6,666.1 250.4,666.1 251.2,666.1 252.0,666.1 252.8,666.2 253.6,666.2 254.4,666.2 255.2,666.2 256.0,666.3 256.8,666.3 257.6,666.3 258.4,666.3 259.2,666.3 260.0,666.4 260.8,666.4 261.6,666.4 262.4,666.4 263.2,666.5 264.0,666.5 264.8,666.5 265.6,666.5 266.4,666.5 267.2,666.6 268.0,666.6 268.8,666.6 269.6,666.6 270.4,666.6 271.2,666.7 272.0,666.7 272.8,666.7 273.6,666.7 274.4,666.7 275.2,666.7 276.0,666.8 276.8,666.8 277.6,666.8 278.4,666.8 279.2,666.8 280.0,666.8 280.8,666.9 281.6,666.9 282.4,666.9 283.2,666.9 284.0,666.9 284.8,666.9 285.6,666.9 286.4,667.0 287.2,667.0 288.0,667.0 288.8,667.0 289.6,667.0 290.4,667.0 291.2,667.1 292.0,667.1 292.8,667.1" fill="none" stroke="#4f98a4" stroke-width="0.8"/>
<polyline points="49.4,622.0 49.9,621.8 50.4,621.5 50.9,621.3 51.4,621.1 51.9,620.9 52.4,620.6 52.9,620.4 53.4,620.2 53.9,620.0 54.4,619.7 54.9,619.5 55.4,619.3 55.9,619.0 56.4,618.8 56.9,618.5 57.4,618.2 57.9,618.0 58.4,617.7 58.9,617.4 59.4,617.1 59.9,616.8 60.4,616.5 60.9,616.2 61.4,615.8 61.9,615.5 62.4,615.1 62.9,614.8 63.4,614.4 63.9,614.0 64.4,613.6 64.9,613.1 65.4,612.7 65.9,612.2 66.4,611.7 66.9,611.2 67.4,610.7 67.9,610.1 68.4,609.6 68.9,609.1 69.4,608.5 69.9,607.9 70.4,607.2 70.9,606.4 71.4,605.5 71.9,604.4 72.4,603.2 72.9,601.6 73.4,599.5 73.9,596.8 74.4,593.5 74.9,589.6 75.4,584.7 75.9,579.2 76.4,573.1 76.9,566.8 77.4,559.7 77.9,552.8 78.4,547.5 78.9,546.1 79.4,547.8 79.9,550.9 80.4,554.1 80.9,556.7 81.4,559.5 81.9,562.3 82.4,565.1 82.9,568.0 83.4,570.8 83.9,573.8 84.4,576.8 84.9,579.2 85.4,580.6 85.9,581.6 86.4,582.5 86.9,583.2 87.4,583.8 87.9,584.4 88.4,584.9 88.9,585.2 89.4,585.4 89.9,585.4 90.4,585.3 90.9,585.1 91.4,585.0 91.9,584.9 92.4,584.8 92.9,584.7 93.4,584.6 93.9,584.5 94.4,584.6 94.9,584.7 95.4,584.8 95.9,585.1 96.4,585.3 96.9,585.7 97.4,586.1 97.9,586.6 98.4,587.2 98.9,587.7 99.4,588.3 99.9,588.8 100.4,589.2 100.9,589.6 101.4,590.0 101.9,590.4 102.4,590.8 102.9,591.2 103.4,591.7 103.9,592.2 104.4,592.7 104.9,593.3 105.4,594.1 105.9,594.9 106.4,596.0 106.9,597.4 107.4,599.0 107.9,600.8 108.4,602.5 108.9,604.3 109.4,606.1 109.9,607.7 110.4,609.3 110.9,610.8 111.4,612.2 111.9,613.7 112.4,615.1 112.9,616.5 113.4,617.9 113.9,619.2 114.4,620.4 114.9,621.5 115.4,622.5 115.9,623.6 116.4,624.6 116.9,625.6 117.4,626.5 117.9,627.3 118.4,628.0 118.9,628.6 119.4,629.2 119.9,629.8 120.4,630.3 120.9,630.7 121.4,631.2 121.9,631.7 122.4,632.1 122.9,632.5 123.4,632.9 123.9,633.3 124.4,633.7 124.9,634.1 125.4,634.4 125.9,634.8 126.4,635.1 126.9,635.5 127.4,635.8 127.9,636.1 128.4,636.4 128.9,636.8 129.4,637.1 129.9,637.4 130.4,637.7 131.2,638.2 132.0,638.7 132.8,639.2 133.6,639.7 134.4,640.2 135.2,640.6 136.0,641.1 136.8,641.6 137.6,642.0 138.4,642.5 139.2,642.9 140.0,643.4 140.8,643.9 141.6,644.3 142.4,644.8 143.2,645.3 144.0,645.8 144.8,646.3 145.6,646.7 146.4,647.2 147.2,647.7 148.0,648.2 148.8,648.8 149.6,649.3 150.4,649.8 151.2,650.2 152.0,650.6 152.8,651.0 153.6,651.4 154.4,651.8 155.2,652.2 156.0,652.5 156.8,652.9 157.6,653.2 158.4,653.6 159.2,653.9 160.0,654.3 160.8,654.6 161.6,654.9 162.4,655.2 163.2,655.5 164.0,655.8 164.8,656.1 165.6,656.3 166.4,656.6 167.2,656.8 168.0,657.1 168.8,657.3 169.6,657.5 170.4,657.8 171.2,658.0 172.0,658.2 172.8,658.4 173.6,658.6 174.4,658.8 175.2,659.0 176.0,659.3 176.8,659.5 177.6,659.7 178.4,659.9 179.2,660.0 180.0,660.2 180.8,660.4 181.6,660.6 182.4,660.7 183.2,660.9 184.0,661.1 184.8,661.2 185.6,661.3 186.4,661.5 187.2,661.6 188.0,661.7 188.8,661.8 189.6,661.9 190.4,662.0 191.2,662.1 192.0,662.3 192.8,662.4 193.6,662.5 194.4,662.5 195.2,662.6 196.0,662.7 196.8,662.8 197.6,662.9 198.4,663.0 199.2,663.1 200.0,663.2 200.8,663.2 201.6,663.3 202.4,663.4 203.2,663.5 204.0,663.5 204.8,663.6 205.6,663.7 206.4,663.7 207.2,663.8 208.0,663.9 208.8,664.0 209.6,664.0 210.4,664.1 211.2,664.2 212.0,664.2 212.8,664.3 213.6,664.3 214.4,664.4 215.2,664.5 216.0,664.5 216.8,664.6 217.6,664.6 218.4,664.7 219.2,664.7 220.0,664.8 220.8,664.8 221.6,664.9 222.4,664.9 223.2,665.0 224.0,665.0 224.8,665.1 225.6,665.1 226.4,665.2 227.2,665.2 228.0,665.2 228.8,665.3 229.6,665.3 230.4,665.3 231.2,665.4 232.0,665.4 232.8,665.5 233.6,665.5 234.4,665.5 235.2,665.5 236.0,665.6 236.8,665.6 237.6,665.6 238.4,665.7 239.2,665.7 240.0,665.7 240.8,665.8 241.6,665.8 242.4,665.8 243.2,665.8 244.0,665.9 244.8,665.9 245.6,665.9 246.4,665.9 247.2,666.0 248.0,666.0 248.8,666.0 249.6,666.0 250.4,666.1 251.2,666.1 252.0,666.1 252.8,666.1 253.6,666.2 254.4,666.2 255.2,666.2 256.0,666.2 256.8,666.3 257.6,666.3 258.4,666.3 259.2,666.3 260.0,666.3 260.8,666.4 261.6,666.4 262.4,666.4 263.2,666.4 264.0,666.5 264.8,666.5 265.6,666.5 266.4,666.5 267.2,666.5 268.0,666.6 268.8,666.6 269.6,666.6 270.4,666.6 271.2,666.6 272.0,666.6 272.8,666.7 273.6,666.7 274.4,666.7 275.2,666.7 276.0,666.7 276.8,666.7 277.6,666.8 278.4,666.8 279.2,666.8 280.0,666.8 280.8,666.8 281.6,666.8 282.4,666.9 283.2,666.9 284.0,666.9 284.8,666.9 285.6,666.9 286.4,666.9 287.2,666.9 288.0,667.0 288.8,667.0 289.6,667.0 290.4,667.0 291.2,667.0 292.0,667.0 292.8,667.1" fill="none" stroke="#468d9e" stroke-width="0.8"/>
<polyline points="49.4,620.7 49.9,620.5 50.4,620.2 50.9,620.0 51.4,619.8 51.9,619.5 52.4,619.3 52.9,619.1 53.4,618.8 53.9,618.6 54.4,618.4 54.9,618.1 55.4,617.9 55.9,617.6 56.4,617.4 56.9,617.1 57.4,616.8 57.9,616.5 58.4,616.2 58.9,615.9 59.4,615.6 59.9,615.3 60.4,615.0 60.9,614.7 61.4,614.3 61.9,614.0 62.4,613.7 62.9,613.3 63.4,612.9 63.9,612.5 64.4,612.1 64.9,611.6 65.4,611.2 65.9,610.7 66.4,610.2 66.9,609.7 67.4,609.2 67.9,608.6 68.4,608.1 68.9,607.5 69.4,606.9 69.9,606.3 70.4,605.6 70.9,604.8 71.4,603.8 71.9,602.8 72.4,601.6 72.9,600.1 73.4,598.1 73.9,595.6 74.4,592.6 74.9,588.8 75.4,584.1 75.9,578.6 76.4,572.7 76.9,566.5 77.4,559.4 77.9,552.5 78.4,547.3 78.9,545.8 79.4,547.3 79.9,550.2 80.4,553.3 80.9,555.8 81.4,558.4 81.9,561.1 82.4,563.8 82.9,566.5 83.4,569.2 83.9,571.9 84.4,574.7 84.9,576.9 85.4,578.2 85.9,579.3 86.4,580.1 86.9,580.8 87.4,581.4 87.9,582.0 88.4,582.5 88.9,582.8 89.4,583.0 89.9,583.0 90.4,583.0 90.9,582.9 91.4,582.8 91.9,582.8 92.4,582.7 92.9,582.6 93.4,582.6 93.9,582.6 94.4,582.6 94.9,582.7 95.4,582.8 95.9,583.0 96.4,583.3 96.9,583.6 97.4,584.0 97.9,584.4 98.4,584.9 98.9,585.5 99.4,586.0 99.9,586.5 100.4,586.9 100.9,587.3 101.4,587.7 101.9,588.1 102.4,588.7 102.9,589.2 103.4,589.7 103.9,590.3 104.4,590.9 104.9,591.6 105.4,592.4 105.9,593.3 106.4,594.4 106.9,595.8 107.4,597.3 107.9,599.0 108.4,600.6 108.9,602.3 109.4,603.9 109.9,605.3 110.4,606.7 110.9,608.1 111.4,609.4 111.9,610.7 112.4,612.1 112.9,613.5 113.4,614.9 113.9,616.2 114.4,617.5 114.9,618.6 115.4,619.7 115.9,620.8 116.4,621.9 116.9,623.0 117.4,623.9 117.9,624.8 118.4,625.5 118.9,626.2 119.4,626.8 119.9,627.4 120.4,627.9 120.9,628.4 121.4,628.9 121.9,629.4 122.4,629.9 122.9,630.3 123.4,630.8 123.9,631.2 124.4,631.6 124.9,632.0 125.4,632.4 125.9,632.8 126.4,633.1 126.9,633.5 127.4,633.8 127.9,634.2 128.4,634.5 128.9,634.9 129.4,635.2 129.9,635.6 130.4,635.9 131.2,636.4 132.0,637.0 132.8,637.5 133.6,638.0 134.4,638.5 135.2,639.0 136.0,639.5 136.8,640.0 137.6,640.5 138.4,641.0 139.2,641.5 140.0,642.0 140.8,642.5 141.6,643.0 142.4,643.5 143.2,644.0 144.0,644.6 144.8,645.1 145.6,645.6 146.4,646.1 147.2,646.6 148.0,647.2 148.8,647.8 149.6,648.3 150.4,648.9 151.2,649.3 152.0,649.8 152.8,650.2 153.6,650.6 154.4,651.0 155.2,651.4 156.0,651.8 156.8,652.2 157.6,652.6 158.4,652.9 159.2,653.3 160.0,653.7 160.8,654.0 161.6,654.4 162.4,654.7 163.2,655.0 164.0,655.3 164.8,655.6 165.6,655.9 166.4,656.2 167.2,656.4 168.0,656.7 168.8,656.9 169.6,657.2 170.4,657.4 171.2,657.7 172.0,657.9 172.8,658.1 173.6,658.3 174.4,658.6 175.2,658.8 176.0,659.0 176.8,659.2 177.6,659.4 178.4,659.7 179.2,659.9 180.0,660.1 180.8,660.2 181.6,660.4 182.4,660.6 183.2,660.8 184.0,660.9 184.8,661.1 185.6,661.2 186.4,661.3 187.2,661.5 188.0,661.6 188.8,661.7 189.6,661.8 190.4,662.0 191.2,662.1 192.0,662.2 192.8,662.3 193.6,662.4 194.4,662.5 195.2,662.6 196.0,662.7 196.8,662.8 197.6,662.9 198.4,662.9 199.2,663.0 200.0,663.1 200.8,663.2 201.6,663.3 202.4,663.3 203.2,663.4 204.0,663.5 204.8,663.6 205.6,663.6 206.4,663.7 207.2,663.8 208.0,663.9 208.8,663.9 209.6,664.0 210.4,664.1 211.2,664.1 212.0,664.2 212.8,664.3 213.6,664.3 214.4,664.4 215.2,664.4 216.0,664.5 216.8,664.6 217.6,664.6 218.4,664.7 219.2,664.7 220.0,664.8 220.8,664.8 221.6,664.9 222.4,664.9 223.2,665.0 224.0,665.0 224.8,665.1 225.6,665.1 226.4,665.1 227.2,665.2 228.0,665.2 228.8,665.3 229.6,665.3 230.4,665.3 231.2,665.4 232.0,665.4 232.8,665.4 233.6,665.5 234.4,665.5 235.2,665.5 236.0,665.6 236.8,665.6 237.6,665.6 238.4,665.7 239.2,665.7 240.0,665.7 240.8,665.7 241.6,665.8 242.4,665.8 243.2,665.8 244.0,665.9 244.8,665.9 245.6,665.9 246.4,665.9 247.2,666.0 248.0,666.0 248.8,666.0 249.6,666.0 250.4,666.1 251.2,666.1 252.0,666.1 252.8,666.1 253.6,666.2 254.4,666.2 255.2,666.2 256.0,666.2 256.8,666.2 257.6,666.3 258.4,666.3 259.2,666.3 260.0,666.3 260.8,666.4 261.6,666.4 262.4,666.4 263.2,666.4 264.0,666.4 264.8,666.5 265.6,666.5 266.4,666.5 267.2,666.5 268.0,666.5 268.8,666.6 269.6,666.6 270.4,666.6 271.2,666.6 272.0,666.6 272.8,666.6 273.6,666.7 274.4,666.7 275.2,666.7 276.0,666.7 276.8,666.7 277.6,666.7 278.4,666.8 279.2,666.8 280.0,666.8 280.8,666.8 281.6,666.8 282.4,666.8 283.2,666.9 284.0,666.9 284.8,666.9 285.6,666.9 286.4,666.9 287.2,666.9 288.0,666.9 288.8,667.0 289.6,667.0 290.4,667.0 291.2,667.0 292.0,667.0 292.8,667.0" fill="none" stroke="#3d8098" stroke-width="0.8"/>
<polyline points="49.4,619.9 49.9,619.6 50.4,619.4 50.9,619.1 51.4,618.9 51.9,618.7 52.4,618.4 52.9,618.2 53.4,618.0 53.9,617.7 54.4,617.5 54.9,617.2 55.4,617.0 55.9,616.7 56.4,616.4 56.9,616.2 57.4,615.9 57.9,615.6 58.4,615.3 58.9,615.0 59.4,614.7 59.9,614.4 60.4,614.0 60.9,613.7 61.4,613.4 61.9,613.0 62.4,612.7 62.9,612.3 63.4,611.9 63.9,611.5 64.4,611.1 64.9,610.7 65.4,610.2 65.9,609.7 66.4,609.2 66.9,608.7 67.4,608.2 67.9,607.6 68.4,607.1 68.9,606.5 69.4,605.9 69.9,605.3 70.4,604.5 70.9,603.7 71.4,602.8 71.9,601.7 72.4,600.5 72.9,599.1 73.4,597.2 73.9,594.9 74.4,592.0 74.9,588.4 75.4,583.7 75.9,578.2 76.4,572.4 76.9,566.3 77.4,559.3 77.9,552.4 78.4,547.2 78.9,545.6 79.4,546.9 79.9,549.8 80.4,552.8 80.9,555.2 81.4,557.7 81.9,560.3 82.4,563.0 82.9,565.6 83.4,568.2 83.9,570.8 84.4,573.4 84.9,575.5 85.4,576.7 85.9,577.7 86.4,578.6 86.9,579.3 87.4,579.9 87.9,580.5 88.4,580.9 88.9,581.3 89.4,581.5 89.9,581.6 90.4,581.5 90.9,581.5 91.4,581.4 91.9,581.4 92.4,581.3 92.9,581.3 93.4,581.3 93.9,581.3 94.4,581.3 94.9,581.4 95.4,581.5 95.9,581.7 96.4,581.9 96.9,582.1 97.4,582.4 97.9,582.8 98.4,583.3 98.9,583.8 99.4,584.3 99.9,584.7 100.4,585.1 100.9,585.6 101.4,586.0 101.9,586.5 102.4,587.1 102.9,587.7 103.4,588.3 103.9,589.0 104.4,589.6 104.9,590.4 105.4,591.3 105.9,592.2 106.4,593.3 106.9,594.6 107.4,596.2 107.9,597.8 108.4,599.4 108.9,601.0 109.4,602.5 109.9,603.8 110.4,605.1 110.9,606.3 111.4,607.6 111.9,608.9 112.4,610.2 112.9,611.6 113.4,613.0 113.9,614.3 114.4,615.6 114.9,616.8 115.4,617.9 115.9,619.1 116.4,620.2 116.9,621.3 117.4,622.3 117.9,623.2 118.4,623.9 118.9,624.6 119.4,625.2 119.9,625.8 120.4,626.4 120.9,626.9 121.4,627.5 121.9,628.0 122.4,628.4 122.9,628.9 123.4,629.4 123.9,629.8 124.4,630.3 124.9,630.7 125.4,631.1 125.9,631.4 126.4,631.8 126.9,632.2 127.4,632.6 127.9,632.9 128.4,633.3 128.9,633.7 129.4,634.0 129.9,634.4 130.4,634.7 131.2,635.3 132.0,635.8 132.8,636.4 133.6,636.9 134.4,637.5 135.2,638.0 136.0,638.5 136.8,639.0 137.6,639.5 138.4,640.1 139.2,640.6 140.0,641.1 140.8,641.6 141.6,642.2 142.4,642.7 143.2,643.2 144.0,643.8 144.8,644.3 145.6,644.9 146.4,645.4 147.2,645.9 148.0,646.5 148.8,647.1 149.6,647.7 150.4,648.3 151.2,648.8 152.0,649.2 152.8,649.7 153.6,650.1 154.4,650.5 155.2,650.9 156.0,651.4 156.8,651.8 157.6,652.1 158.4,652.5 159.2,652.9 160.0,653.3 160.8,653.6 161.6,654.0 162.4,654.3 163.2,654.7 164.0,655.0 164.8,655.3 165.6,655.6 166.4,655.9 167.2,656.2 168.0,656.4 168.8,656.7 169.6,657.0 170.4,657.2 171.2,657.5 172.0,657.7 172.8,657.9 173.6,658.2 174.4,658.4 175.2,658.6 176.0,658.9 176.8,659.1 177.6,659.3 178.4,659.5 179.2,659.7 180.0,659.9 180.8,660.1 181.6,660.3 182.4,660.5 183.2,660.7 184.0,660.8 184.8,661.0 185.6,661.1 186.4,661.3 187.2,661.4 188.0,661.5 188.8,661.7 189.6,661.8 190.4,661.9 191.2,662.0 192.0,662.1 192.8,662.2 193.6,662.3 194.4,662.4 195.2,662.5 196.0,662.6 196.8,662.7 197.6,662.8 198.4,662.9 199.2,663.0 200.0,663.1 200.8,663.2 201.6,663.2 202.4,663.3 203.2,663.4 204.0,663.5 204.8,663.6 205.6,663.6 206.4,663.7 207.2,663.8 208.0,663.8 208.8,663.9 209.6,664.0 210.4,664.1 211.2,664.1 212.0,664.2 212.8,664.2 213.6,664.3 214.4,664.4 215.2,664.4 216.0,664.5 216.8,664.5 217.6,664.6 218.4,664.7 219.2,664.7 220.0,664.8 220.8,664.8 221.6,664.9 222.4,664.9 223.2,665.0 224.0,665.0 224.8,665.0 225.6,665.1 226.4,665.1 227.2,665.2 228.0,665.2 228.8,665.3 229.6,665.3 230.4,665.3 231.2,665.4 232.0,665.4 232.8,665.4 233.6,665.5 234.4,665.5 235.2,665.5 236.0,665.6 236.8,665.6 237.6,665.6 238.4,665.7 239.2,665.7 240.0,665.7 240.8,665.7 241.6,665.8 242.4,665.8 243.2,665.8 244.0,665.8 244.8,665.9 245.6,665.9 246.4,665.9 247.2,666.0 248.0,666.0 248.8,666.0 249.6,666.0 250.4,666.0 251.2,666.1 252.0,666.1 252.8,666.1 253.6,666.1 254.4,666.2 255.2,666.2 256.0,666.2 256.8,666.2 257.6,666.3 258.4,666.3 259.2,666.3 260.0,666.3 260.8,666.4 261.6,666.4 262.4,666.4 263.2,666.4 264.0,666.4 264.8,666.5 265.6,666.5 266.4,666.5 267.2,666.5 268.0,666.5 268.8,666.6 269.6,666.6 270.4,666.6 271.2,666.6 272.0,666.6 272.8,666.6 273.6,666.7 274.4,666.7 275.2,666.7 276.0,666.7 276.8,666.7 277.6,666.7 278.4,666.7 279.2,666.8 280.0,666.8 280.8,666.8 281.6,666.8 282.4,666.8 283.2,666.8 284.0,666.9 284.8,666.9 285.6,666.9 286.4,666.9 287.2,666.9 288.0,666.9 288.8,666.9 289.6,667.0 290.4,667.0 291.2,667.0 292.0,667.0 292.8,667.0" fill="none" stroke="#34708f" stroke-width="0.8"/>
<polyline points="49.4,619.1 49.9,618.8 50.4,618.5 50.9,618.3 51.4,618.1 51.9,617.8 52.4,617.6 52.9,617.3 53.4,617.1 53.9,616.8 54.4,616.6 54.9,616.3 55.4,616.1 55.9,615.8 56.4,615.5 56.9,615.2 57.4,615.0 57.9,614.7 58.4,614.3 58.9,614.0 59.4,613.7 59.9,613.4 60.4,613.1 60.9,612.8 61.4,612.4 61.9,612.1 62.4,611.7 62.9,611.4 63.4,611.0 63.9,610.6 64.4,610.1 64.9,609.7 65.4,609.2 65.9,608.7 66.4,608.2 66.9,607.7 67.4,607.2 67.9,606.7 68.4,606.1 68.9,605.5 69.4,604.9 69.9,604.2 70.4,603.5 70.9,602.6 71.4,601.7 71.9,600.7 72.4,599.5 72.9,598.1 73.4,596.4 73.9,594.1 74.4,591.4 74.9,587.9 75.4,583.3 75.9,577.9 76.4,572.1 76.9,566.1 77.4,559.1 77.9,552.2 78.4,547.0 78.9,545.3 79.4,546.6 79.9,549.4 80.4,552.3 80.9,554.6 81.4,557.0 81.9,559.5 82.4,562.1 82.9,564.7 83.4,567.1 83.9,569.6 84.4,572.1 84.9,574.0 85.4,575.2 85.9,576.2 86.4,577.0 86.9,577.7 87.4,578.4 87.9,578.9 88.4,579.4 88.9,579.8 89.4,580.0 89.9,580.1 90.4,580.1 90.9,580.1 91.4,580.0 91.9,580.0 92.4,580.0 92.9,580.0 93.4,579.9 93.9,579.9 94.4,579.9 94.9,580.0 95.4,580.1 95.9,580.2 96.4,580.4 96.9,580.6 97.4,580.8 97.9,581.1 98.4,581.5 98.9,582.0 99.4,582.4 99.9,582.8 100.4,583.2 100.9,583.7 101.4,584.1 101.9,584.7 102.4,585.4 102.9,586.0 103.4,586.7 103.9,587.5 104.4,588.3 104.9,589.1 105.4,590.0 105.9,591.0 106.4,592.2 106.9,593.5 107.4,595.0 107.9,596.6 108.4,598.2 108.9,599.7 109.4,601.1 109.9,602.3 110.4,603.5 110.9,604.6 111.4,605.7 111.9,607.0 112.4,608.3 112.9,609.7 113.4,611.1 113.9,612.4 114.4,613.7 114.9,614.9 115.4,616.1 115.9,617.3 116.4,618.5 116.9,619.6 117.4,620.6 117.9,621.5 118.4,622.3 118.9,623.0 119.4,623.7 119.9,624.3 120.4,624.9 120.9,625.5 121.4,626.0 121.9,626.5 122.4,627.0 122.9,627.5 123.4,628.0 123.9,628.5 124.4,628.9 124.9,629.3 125.4,629.7 125.9,630.1 126.4,630.5 126.9,630.9 127.4,631.3 127.9,631.7 128.4,632.1 128.9,632.4 129.4,632.8 129.9,633.2 130.4,633.6 131.2,634.2 132.0,634.7 132.8,635.3 133.6,635.9 134.4,636.4 135.2,637.0 136.0,637.5 136.8,638.0 137.6,638.6 138.4,639.1 139.2,639.7 140.0,640.2 140.8,640.8 141.6,641.3 142.4,641.9 143.2,642.4 144.0,643.0 144.8,643.5 145.6,644.1 146.4,644.7 147.2,645.3 148.0,645.9 148.8,646.5 149.6,647.1 150.4,647.7 151.2,648.2 152.0,648.7 152.8,649.1 153.6,649.6 154.4,650.0 155.2,650.5 156.0,650.9 156.8,651.3 157.6,651.7 158.4,652.1 159.2,652.5 160.0,652.9 160.8,653.3 161.6,653.7 162.4,654.0 163.2,654.4 164.0,654.7 164.8,655.0 165.6,655.3 166.4,655.6 167.2,655.9 168.0,656.2 168.8,656.5 169.6,656.7 170.4,657.0 171.2,657.2 172.0,657.5 172.8,657.7 173.6,658.0 174.4,658.2 175.2,658.5 176.0,658.7 176.8,658.9 177.6,659.2 178.4,659.4 179.2,659.6 180.0,659.8 180.8,660.0 181.6,660.2 182.4,660.4 183.2,660.6 184.0,660.8 184.8,660.9 185.6,661.1 186.4,661.2 187.2,661.3 188.0,661.5 188.8,661.6 189.6,661.7 190.4,661.9 191.2,662.0 192.0,662.1 192.8,662.2 193.6,662.3 194.4,662.4 195.2,662.5 196.0,662.6 196.8,662.7 197.6,662.8 198.4,662.9 199.2,663.0 200.0,663.1 200.8,663.1 201.6,663.2 202.4,663.3 203.2,663.4 204.0,663.5 204.8,663.5 205.6,663.6 206.4,663.7 207.2,663.8 208.0,663.8 208.8,663.9 209.6,664.0 210.4,664.0 211.2,664.1 212.0,664.2 212.8,664.2 213.6,664.3 214.4,664.4 215.2,664.4 216.0,664.5 216.8,664.5 217.6,664.6 218.4,664.6 219.2,664.7 220.0,664.8 220.8,664.8 221.6,664.9 222.4,664.9 223.2,665.0 224.0,665.0 224.8,665.0 225.6,665.1 226.4,665.1 227.2,665.2 228.0,665.2 228.8,665.2 229.6,665.3 230.4,665.3 231.2,665.4 232.0,665.4 232.8,665.4 233.6,665.5 234.4,665.5 235.2,665.5 236.0,665.6 236.8,665.6 237.6,665.6 238.4,665.6 239.2,665.7 240.0,665.7 240.8,665.7 241.6,665.8 242.4,665.8 243.2,665.8 244.0,665.8 244.8,665.9 245.6,665.9 246.4,665.9 247.2,665.9 248.0,666.0 248.8,666.0 249.6,666.0 250.4,666.0 251.2,666.1 252.0,666.1 252.8,666.1 253.6,666.1 254.4,666.2 255.2,666.2 256.0,666.2 256.8,666.2 257.6,666.2 258.4,666.3 259.2,666.3 260.0,666.3 260.8,666.3 261.6,666.4 262.4,666.4 263.2,666.4 264.0,666.4 264.8,666.4 265.6,666.5 266.4,666.5 267.2,666.5 268.0,666.5 268.8,666.5 269.6,666.6 270.4,666.6 271.2,666.6 272.0,666.6 272.8,666.6 273.6,666.6 274.4,666.7 275.2,666.7 276.0,666.7 276.8,666.7 277.6,666.7 278.4,666.7 279.2,666.8 280.0,666.8 280.8,666.8 281.6,666.8 282.4,666.8 283.2,666.8 284.0,666.8 284.8,666.9 285.6,666.9 286.4,666.9 287.2,666.9 288.0,666.9 288.8,666.9 289.6,666.9 290.4,667.0 291.2,667.0 292.0,667.0 292.8,667.0" fill="none" stroke="#2c6285" stroke-width="0.8"/>
<polyline points="49.4,618.2 49.9,618.0 50.4,617.7 50.9,617.5 51.4,617.2 51.9,617.0 52.4,616.7 52.9,616.5 53.4,616.2 53.9,616.0 54.4,615.7 54.9,615.4 55.4,615.2 55.9,614.9 56.4,614.6 56.9,614.3 57.4,614.0 57.9,613.7 58.4,613.4 58.9,613.1 59.4,612.8 59.9,612.5 60.4,612.2 60.9,611.8 61.4,611.5 61.9,611.1 62.4,610.8 62.9,610.4 63.4,610.0 63.9,609.6 64.4,609.2 64.9,608.7 65.4,608.3 65.9,607.8 66.4,607.3 66.9,606.8 67.4,606.2 67.9,605.7 68.4,605.1 68.9,604.5 69.4,603.9 69.9,603.2 70.4,602.4 70.9,601.6 71.4,600.7 71.9,599.6 72.4,598.5 72.9,597.2 73.4,595.5 73.9,593.4 74.4,590.8 74.9,587.4 75.4,582.8 75.9,577.5 76.4,571.9 76.9,566.0 77.4,558.9 77.9,552.1 78.4,546.9 78.9,545.1 79.4,546.3 79.9,549.0 80.4,551.8 80.9,554.0 81.4,556.3 81.9,558.8 82.4,561.3 82.9,563.7 83.4,566.1 83.9,568.5 84.4,570.8 84.9,572.6 85.4,573.7 85.9,574.7 86.4,575.5 86.9,576.2 87.4,576.8 87.9,577.4 88.4,577.9 88.9,578.2 89.4,578.5 89.9,578.6 90.4,578.6 90.9,578.6 91.4,578.6 91.9,578.6 92.4,578.6 92.9,578.6 93.4,578.6 93.9,578.5 94.4,578.5 94.9,578.6 95.4,578.6 95.9,578.7 96.4,578.7 96.9,578.9 97.4,579.1 97.9,579.3 98.4,579.6 98.9,580.0 99.4,580.3 99.9,580.7 100.4,581.1 100.9,581.6 101.4,582.1 101.9,582.7 102.4,583.5 102.9,584.2 103.4,585.1 103.9,585.9 104.4,586.8 104.9,587.8 105.4,588.8 105.9,589.8 106.4,591.0 106.9,592.3 107.4,593.8 107.9,595.4 108.4,596.9 108.9,598.3 109.4,599.6 109.9,600.8 110.4,601.8 110.9,602.9 111.4,603.9 111.9,605.1 112.4,606.4 112.9,607.8 113.4,609.1 113.9,610.5 114.4,611.8 114.9,613.1 115.4,614.3 115.9,615.5 116.4,616.7 116.9,617.9 117.4,618.9 117.9,619.9 118.4,620.7 118.9,621.4 119.4,622.1 119.9,622.8 120.4,623.4 120.9,624.0 121.4,624.5 121.9,625.1 122.4,625.6 122.9,626.1 123.4,626.6 123.9,627.1 124.4,627.6 124.9,628.0 125.4,628.4 125.9,628.8 126.4,629.2 126.9,629.6 127.4,630.0 127.9,630.4 128.4,630.8 128.9,631.2 129.4,631.6 129.9,632.0 130.4,632.4 131.2,633.0 132.0,633.6 132.8,634.2 133.6,634.8 134.4,635.4 135.2,635.9 136.0,636.5 136.8,637.1 137.6,637.6 138.4,638.2 139.2,638.7 140.0,639.3 140.8,639.9 141.6,640.5 142.4,641.0 143.2,641.6 144.0,642.2 144.8,642.8 145.6,643.4 146.4,644.0 147.2,644.6 148.0,645.2 148.8,645.8 149.6,646.5 150.4,647.1 151.2,647.6 152.0,648.1 152.8,648.6 153.6,649.1 154.4,649.5 155.2,650.0 156.0,650.4 156.8,650.9 157.6,651.3 158.4,651.7 159.2,652.1 160.0,652.5 160.8,652.9 161.6,653.3 162.4,653.7 163.2,654.0 164.0,654.4 164.8,654.7 165.6,655.0 166.4,655.3 167.2,655.6 168.0,655.9 168.8,656.2 169.6,656.5 170.4,656.8 171.2,657.0 172.0,657.3 172.8,657.5 173.6,657.8 174.4,658.0 175.2,658.3 176.0,658.5 176.8,658.8 177.6,659.0 178.4,659.3 179.2,659.5 180.0,659.7 180.8,659.9 181.6,660.1 182.4,660.3 183.2,660.5 184.0,660.7 184.8,660.8 185.6,661.0 186.4,661.1 187.2,661.3 188.0,661.4 188.8,661.5 189.6,661.7 190.4,661.8 191.2,661.9 192.0,662.0 192.8,662.2 193.6,662.3 194.4,662.4 195.2,662.5 196.0,662.6 196.8,662.7 197.6,662.8 198.4,662.9 199.2,662.9 200.0,663.0 200.8,663.1 201.6,663.2 202.4,663.3 203.2,663.4 204.0,663.4 204.8,663.5 205.6,663.6 206.4,663.7 207.2,663.7 208.0,663.8 208.8,663.9 209.6,664.0 210.4,664.0 211.2,664.1 212.0,664.2 212.8,664.2 213.6,664.3 214.4,664.3 215.2,664.4 216.0,664.5 216.8,664.5 217.6,664.6 218.4,664.6 219.2,664.7 220.0,664.7 220.8,664.8 221.6,664.8 222.4,664.9 223.2,664.9 224.0,665.0 224.8,665.0 225.6,665.1 226.4,665.1 227.2,665.2 228.0,665.2 228.8,665.2 229.6,665.3 230.4,665.3 231.2,665.3 232.0,665.4 232.8,665.4 233.6,665.5 234.4,665.5 235.2,665.5 236.0,665.5 236.8,665.6 237.6,665.6 238.4,665.6 239.2,665.7 240.0,665.7 240.8,665.7 241.6,665.8 242.4,665.8 243.2,665.8 244.0,665.8 244.8,665.9 245.6,665.9 246.4,665.9 247.2,665.9 248.0,666.0 248.8,666.0 249.6,666.0 250.4,666.0 251.2,666.1 252.0,666.1 252.8,666.1 253.6,666.1 254.4,666.1 255.2,666.2 256.0,666.2 256.8,666.2 257.6,666.2 258.4,666.3 259.2,666.3 260.0,666.3 260.8,666.3 261.6,666.4 262.4,666.4 263.2,666.4 264.0,666.4 264.8,666.4 265.6,666.5 266.4,666.5 267.2,666.5 268.0,666.5 268.8,666.5 269.6,666.5 270.4,666.6 271.2,666.6 272.0,666.6 272.8,666.6 273.6,666.6 274.4,666.6 275.2,666.7 276.0,666.7 276.8,666.7 277.6,666.7 278.4,666.7 279.2,666.7 280.0,666.8 280.8,666.8 281.6,666.8 282.4,666.8 283.2,666.8 284.0,666.8 284.8,666.8 285.6,666.9 286.4,666.9 287.2,666.9 288.0,666.9 288.8,666.9 289.6,666.9 290.4,667.0 291.2,667.0 292.0,667.0 292.8,667.0" fill="none" stroke="#285a7b" stroke-width="0.8"/>
<polyline points="49.4,617.4 49.9,617.1 50.4,616.9 50.9,616.6 51.4,616.4 51.9,616.1 52.4,615.8 52.9,615.6 53.4,615.3 53.9,615.1 54.4,614.8 54.9,614.5 55.4,614.3 55.9,614.0 56.4,613.7 56.9,613.4 57.4,613.1 57.9,612.8 58.4,612.5 58.9,612.2 59.4,611.8 59.9,611.5 60.4,611.2 60.9,610.9 61.4,610.5 61.9,610.2 62.4,609.8 62.9,609.4 63.4,609.1 63.9,608.6 64.4,608.2 64.9,607.8 65.4,607.3 65.9,606.8 66.4,606.3 66.9,605.8 67.4,605.3 67.9,604.7 68.4,604.1 68.9,603.5 69.4,602.9 69.9,602.1 70.4,601.4 70.9,600.5 71.4,599.6 71.9,598.6 72.4,597.5 72.9,596.2 73.4,594.6 73.9,592.6 74.4,590.2 74.9,586.9 75.4,582.4 75.9,577.2 76.4,571.6 76.9,565.8 77.4,558.8 77.9,551.9 78.4,546.8 78.9,544.9 79.4,545.9 79.9,548.5 80.4,551.3 80.9,553.4 81.4,555.6 81.9,558.0 82.4,560.4 82.9,562.8 83.4,565.1 83.9,567.3 84.4,569.5 84.9,571.2 85.4,572.2 85.9,573.1 86.4,574.0 86.9,574.7 87.4,575.3 87.9,575.8 88.4,576.3 88.9,576.7 89.4,577.0 89.9,577.1 90.4,577.1 90.9,577.2 91.4,577.2 91.9,577.2 92.4,577.2 92.9,577.2 93.4,577.2 93.9,577.1 94.4,577.1 94.9,577.1 95.4,577.0 95.9,577.0 96.4,577.0 96.9,577.1 97.4,577.2 97.9,577.3 98.4,577.5 98.9,577.8 99.4,578.1 99.9,578.5 100.4,578.9 100.9,579.3 101.4,579.9 101.9,580.6 102.4,581.4 102.9,582.3 103.4,583.3 103.9,584.2 104.4,585.2 104.9,586.3 105.4,587.4 105.9,588.5 106.4,589.7 106.9,591.1 107.4,592.6 107.9,594.1 108.4,595.6 108.9,597.0 109.4,598.2 109.9,599.2 110.4,600.2 110.9,601.1 111.4,602.1 111.9,603.2 112.4,604.5 112.9,605.8 113.4,607.2 113.9,608.6 114.4,610.0 114.9,611.3 115.4,612.5 115.9,613.8 116.4,615.0 116.9,616.2 117.4,617.3 117.9,618.3 118.4,619.1 118.9,619.9 119.4,620.6 119.9,621.2 120.4,621.9 120.9,622.5 121.4,623.1 121.9,623.6 122.4,624.2 122.9,624.7 123.4,625.2 123.9,625.7 124.4,626.2 124.9,626.7 125.4,627.1 125.9,627.5 126.4,627.9 126.9,628.4 127.4,628.8 127.9,629.2 128.4,629.6 128.9,630.0 129.4,630.4 129.9,630.8 130.4,631.2 131.2,631.9 132.0,632.5 132.8,633.1 133.6,633.7 134.4,634.3 135.2,634.9 136.0,635.5 136.8,636.1 137.6,636.6 138.4,637.2 139.2,637.8 140.0,638.4 140.8,639.0 141.6,639.6 142.4,640.2 143.2,640.8 144.0,641.4 144.8,642.0 145.6,642.6 146.4,643.2 147.2,643.9 148.0,644.5 148.8,645.2 149.6,645.9 150.4,646.5 151.2,647.1 152.0,647.6 152.8,648.1 153.6,648.6 154.4,649.0 155.2,649.5 156.0,650.0 156.8,650.4 157.6,650.9 158.4,651.3 159.2,651.7 160.0,652.1 160.8,652.6 161.6,652.9 162.4,653.3 163.2,653.7 164.0,654.1 164.8,654.4 165.6,654.8 166.4,655.1 167.2,655.4 168.0,655.7 168.8,656.0 169.6,656.3 170.4,656.5 171.2,656.8 172.0,657.1 172.8,657.4 173.6,657.6 174.4,657.9 175.2,658.1 176.0,658.4 176.8,658.6 177.6,658.9 178.4,659.1 179.2,659.4 180.0,659.6 180.8,659.8 181.6,660.0 182.4,660.2 183.2,660.4 184.0,660.6 184.8,660.8 185.6,660.9 186.4,661.1 187.2,661.2 188.0,661.4 188.8,661.5 189.6,661.6 190.4,661.7 191.2,661.9 192.0,662.0 192.8,662.1 193.6,662.2 194.4,662.3 195.2,662.4 196.0,662.5 196.8,662.6 197.6,662.7 198.4,662.8 199.2,662.9 200.0,663.0 200.8,663.1 201.6,663.2 202.4,663.3 203.2,663.3 204.0,663.4 204.8,663.5 205.6,663.6 206.4,663.6 207.2,663.7 208.0,663.8 208.8,663.9 209.6,663.9 210.4,664.0 211.2,664.1 212.0,664.1 212.8,664.2 213.6,664.3 214.4,664.3 215.2,664.4 216.0,664.5 216.8,664.5 217.6,664.6 218.4,664.6 219.2,664.7 220.0,664.7 220.8,664.8 221.6,664.8 222.4,664.9 223.2,664.9 224.0,665.0 224.8,665.0 225.6,665.1 226.4,665.1 227.2,665.1 228.0,665.2 228.8,665.2 229.6,665.3 230.4,665.3 231.2,665.3 232.0,665.4 232.8,665.4 233.6,665.4 234.4,665.5 235.2,665.5 236.0,665.5 236.8,665.6 237.6,665.6 238.4,665.6 239.2,665.7 240.0,665.7 240.8,665.7 241.6,665.7 242.4,665.8 243.2,665.8 244.0,665.8 244.8,665.9 245.6,665.9 246.4,665.9 247.2,665.9 248.0,666.0 248.8,666.0 249.6,666.0 250.4,666.0 251.2,666.0 252.0,666.1 252.8,666.1 253.6,666.1 254.4,666.1 255.2,666.2 256.0,666.2 256.8,666.2 257.6,666.2 258.4,666.3 259.2,666.3 260.0,666.3 260.8,666.3 261.6,666.3 262.4,666.4 263.2,666.4 264.0,666.4 264.8,666.4 265.6,666.4 266.4,666.5 267.2,666.5 268.0,666.5 268.8,666.5 269.6,666.5 270.4,666.6 271.2,666.6 272.0,666.6 272.8,666.6 273.6,666.6 274.4,666.6 275.2,666.7 276.0,666.7 276.8,666.7 277.6,666.7 278.4,666.7 279.2,666.7 280.0,666.7 280.8,666.8 281.6,666.8 282.4,666.8 283.2,666.8 284.0,666.8 284.8,666.8 285.6,666.8 286.4,666.9 287.2,666.9 288.0,666.9 288.8,666.9 289.6,666.9 290.4,666.9 291.2,667.0 292.0,667.0 292.8,667.0" fill="none" stroke="#23506f" stroke-width="0.8"/>
</g>
<rect x="49.4" y="529.2" width="243.70000000000002" height="139.0" fill="none" stroke="#555" stroke-width="0.9"/>
<line x1="49.40" y1="668.2" x2="49.40" y2="670.6" stroke="#555" stroke-width="0.8"/>
<line x1="83.88" y1="668.2" x2="83.88" y2="670.0" stroke="#555" stroke-width="0.8"/>
<line x1="118.35" y1="668.2" x2="118.35" y2="670.6" stroke="#555" stroke-width="0.8"/>
<line x1="152.82" y1="668.2" x2="152.82" y2="670.0" stroke="#555" stroke-width="0.8"/>
<line x1="187.30" y1="668.2" x2="187.30" y2="670.6" stroke="#555" stroke-width="0.8"/>
<line x1="221.78" y1="668.2" x2="221.78" y2="670.0" stroke="#555" stroke-width="0.8"/>
<line x1="256.25" y1="668.2" x2="256.25" y2="670.6" stroke="#555" stroke-width="0.8"/>
<line x1="290.72" y1="668.2" x2="290.72" y2="670.0" stroke="#555" stroke-width="0.8"/>
<text x="49.40" y="683.6" font-size="10.8" fill="#1a1a1a" text-anchor="middle" font-weight="normal" >200</text>
<text x="118.35" y="683.6" font-size="10.8" fill="#1a1a1a" text-anchor="middle" font-weight="normal" >300</text>
<text x="187.30" y="683.6" font-size="10.8" fill="#1a1a1a" text-anchor="middle" font-weight="normal" >400</text>
<text x="256.25" y="683.6" font-size="10.8" fill="#1a1a1a" text-anchor="middle" font-weight="normal" >500</text>
<text x="171.5" y="705.7" font-size="14.6" fill="#1a1a1a" text-anchor="middle" font-weight="normal" >Wavelength (nm)</text>
<text x="0" y="0" font-size="14.65" fill="#1a1a1a" text-anchor="middle" transform="translate(34.8,599.6) rotate(-90)">Absorbance (a.u.)</text>
<text x="356.3" y="11.8" font-size="10.2" fill="#34486a" text-anchor="start" font-weight="normal" >1:</text>
<text x="372.6" y="11.8" font-size="10.2" text-anchor="start" letter-spacing="0.12" xml:space="preserve"><tspan fill="#5468e8" font-size="10.20" dy="0.00">Cu</tspan><tspan fill="#5468e8" font-size="5.30" dy="2.04">11</tspan><tspan fill="#6cd04a" font-size="10.20" dy="-2.04">Se</tspan><tspan fill="#6cd04a" font-size="5.30" dy="2.04">6</tspan><tspan fill="#3e5e5c" font-size="10.20" dy="-2.04">(Bn)</tspan><tspan fill="#3e5e5c" font-size="5.30" dy="2.04">2</tspan><tspan fill="#9a9a9a" font-size="10.20" dy="-2.04">H</tspan><tspan fill="#9a9a9a" font-size="5.30" dy="2.04">2</tspan><tspan fill="#f08a5a" font-size="10.20" dy="-2.04">(C</tspan><tspan fill="#f08a5a" font-size="5.30" dy="2.04">4</tspan><tspan fill="#f08a5a" font-size="10.20" dy="-2.04">H</tspan><tspan fill="#f08a5a" font-size="5.30" dy="2.04">10</tspan><tspan fill="#f08a5a" font-size="10.20" dy="-2.04">O)</tspan></text>
<text x="356.3" y="23.599999999999998" font-size="10.2" fill="#34486a" text-anchor="start" font-weight="normal" >2:</text>
<text x="372.6" y="23.599999999999998" font-size="10.2" text-anchor="start" letter-spacing="0.12" xml:space="preserve"><tspan fill="#5468e8" font-size="10.20" dy="0.00">Cu</tspan><tspan fill="#5468e8" font-size="5.30" dy="2.04">11</tspan><tspan fill="#6cd04a" font-size="10.20" dy="-2.04">Se</tspan><tspan fill="#6cd04a" font-size="5.30" dy="2.04">3</tspan><tspan fill="#9a5ee6" font-size="10.20" dy="-2.04">(TXP35)</tspan><tspan fill="#9a9a9a" font-size="10.20" dy="0.00">H</tspan><tspan fill="#9a9a9a" font-size="5.30" dy="2.04">4</tspan></text>
<text x="356.3" y="35.4" font-size="10.2" fill="#34486a" text-anchor="start" font-weight="normal" >3:</text>
<text x="372.6" y="35.4" font-size="10.2" text-anchor="start" letter-spacing="0.12" xml:space="preserve"><tspan fill="#5468e8" font-size="10.20" dy="0.00">Cu</tspan><tspan fill="#5468e8" font-size="5.30" dy="2.04">12</tspan><tspan fill="#6cd04a" font-size="10.20" dy="-2.04">Se</tspan><tspan fill="#6cd04a" font-size="5.30" dy="2.04">8</tspan><tspan fill="#9a9a9a" font-size="10.20" dy="-2.04">H</tspan><tspan fill="#f08a5a" font-size="10.20" dy="0.00">(C</tspan><tspan fill="#f08a5a" font-size="5.30" dy="2.04">4</tspan><tspan fill="#f08a5a" font-size="10.20" dy="-2.04">H</tspan><tspan fill="#f08a5a" font-size="5.30" dy="2.04">10</tspan><tspan fill="#f08a5a" font-size="10.20" dy="-2.04">O)</tspan><tspan fill="#f08a5a" font-size="5.30" dy="2.04">3</tspan></text>
<text x="356.3" y="47.199999999999996" font-size="10.2" fill="#34486a" text-anchor="start" font-weight="normal" >4:</text>
<text x="372.6" y="47.199999999999996" font-size="10.2" text-anchor="start" letter-spacing="0.12" xml:space="preserve"><tspan fill="#5468e8" font-size="10.20" dy="0.00">Cu</tspan><tspan fill="#5468e8" font-size="5.30" dy="2.04">12</tspan><tspan fill="#6cd04a" font-size="10.20" dy="-2.04">Se</tspan><tspan fill="#6cd04a" font-size="5.30" dy="2.04">3</tspan><tspan fill="#9a5ee6" font-size="10.20" dy="-2.04">(TXP35)</tspan><tspan fill="#9a9a9a" font-size="10.20" dy="0.00">H</tspan><tspan fill="#9a9a9a" font-size="5.30" dy="2.04">2</tspan></text>
<text x="356.3" y="59.199999999999996" font-size="10.2" fill="#34486a" text-anchor="start" font-weight="normal" >9:</text>
<text x="372.8" y="59.199999999999996" font-size="10.2" text-anchor="start" letter-spacing="0.12" xml:space="preserve"><tspan fill="#5468e8" font-size="10.20" dy="0.00">Cu</tspan><tspan fill="#5468e8" font-size="5.30" dy="2.04">14</tspan><tspan fill="#6cd04a" font-size="10.20" dy="-2.04">Se</tspan><tspan fill="#6cd04a" font-size="5.30" dy="2.04">12</tspan><tspan fill="#3e5e5c" font-size="10.20" dy="-2.04">(Bn)</tspan><tspan fill="#3e5e5c" font-size="5.30" dy="2.04">12</tspan><tspan fill="#9a5ee6" font-size="10.20" dy="-2.04">(TXP35)</tspan><tspan fill="#9a5ee6" font-size="5.30" dy="2.04">3</tspan><tspan fill="#9a9a9a" font-size="10.20" dy="-2.04">H</tspan><tspan fill="#5468e8" font-size="10.20" dy="0.00">Cu</tspan><tspan fill="#6cd04a" font-size="10.20" dy="0.00">Se</tspan></text>
<text x="354.4" y="71.4" font-size="10.2" fill="#34486a" text-anchor="start" font-weight="normal" >10:</text>
<text x="372.2" y="71.4" font-size="10.2" text-anchor="start" letter-spacing="0.12" xml:space="preserve"><tspan fill="#5468e8" font-size="10.20" dy="0.00">Cu</tspan><tspan fill="#5468e8" font-size="5.30" dy="2.04">14</tspan><tspan fill="#6cd04a" font-size="10.20" dy="-2.04">Se</tspan><tspan fill="#6cd04a" font-size="5.30" dy="2.04">12</tspan><tspan fill="#3e5e5c" font-size="10.20" dy="-2.04">(Bn)</tspan><tspan fill="#3e5e5c" font-size="5.30" dy="2.04">12</tspan><tspan fill="#9a5ee6" font-size="10.20" dy="-2.04">(TXP35)</tspan><tspan fill="#9a5ee6" font-size="5.30" dy="2.04">4</tspan><tspan fill="#9a9a9a" font-size="10.20" dy="-2.04">H</tspan></text>
<text x="354.4" y="83.5" font-size="10.2" fill="#34486a" text-anchor="start" font-weight="normal" >11:</text>
<text x="372.8" y="83.5" font-size="10.2" text-anchor="start" letter-spacing="0.12" xml:space="preserve"><tspan fill="#5468e8" font-size="10.20" dy="0.00">Cu</tspan><tspan fill="#5468e8" font-size="5.30" dy="2.04">14</tspan><tspan fill="#6cd04a" font-size="10.20" dy="-2.04">Se</tspan><tspan fill="#6cd04a" font-size="5.30" dy="2.04">12</tspan><tspan fill="#3e5e5c" font-size="10.20" dy="-2.04">(Bn)</tspan><tspan fill="#3e5e5c" font-size="5.30" dy="2.04">13</tspan><tspan fill="#9a5ee6" font-size="10.20" dy="-2.04">(TXP35)</tspan><tspan fill="#9a5ee6" font-size="5.30" dy="2.04">4</tspan><tspan fill="#f08a5a" font-size="10.20" dy="-2.04">(C</tspan><tspan fill="#f08a5a" font-size="5.30" dy="2.04">4</tspan><tspan fill="#f08a5a" font-size="10.20" dy="-2.04">H</tspan><tspan fill="#f08a5a" font-size="5.30" dy="2.04">10</tspan><tspan fill="#f08a5a" font-size="10.20" dy="-2.04">O)</tspan><tspan fill="#f08a5a" font-size="5.30" dy="2.04">2</tspan><tspan fill="#9a9a9a" font-size="10.20" dy="-2.04">H</tspan><tspan fill="#5468e8" font-size="10.20" dy="0.00">Cu</tspan><tspan fill="#6cd04a" font-size="10.20" dy="0.00">Se</tspan></text>
<text x="354.4" y="95.5" font-size="10.2" fill="#34486a" text-anchor="start" font-weight="normal" >12:</text>
<text x="373.2" y="95.5" font-size="10.2" text-anchor="start" letter-spacing="0.12" xml:space="preserve"><tspan fill="#5468e8" font-size="10.20" dy="0.00">Cu</tspan><tspan fill="#5468e8" font-size="5.30" dy="2.04">11</tspan><tspan fill="#6cd04a" font-size="10.20" dy="-2.04">Se</tspan><tspan fill="#6cd04a" font-size="5.30" dy="2.04">6</tspan><tspan fill="#3e5e5c" font-size="10.20" dy="-2.04">(Bn)</tspan><tspan fill="#3e5e5c" font-size="5.30" dy="2.04">2</tspan><tspan fill="#9a9a9a" font-size="10.20" dy="-2.04">H</tspan><tspan fill="#9a9a9a" font-size="5.30" dy="2.04">4</tspan><tspan fill="#f08a5a" font-size="10.20" dy="-2.04">(C</tspan><tspan fill="#f08a5a" font-size="5.30" dy="2.04">4</tspan><tspan fill="#f08a5a" font-size="10.20" dy="-2.04">H</tspan><tspan fill="#f08a5a" font-size="5.30" dy="2.04">10</tspan><tspan fill="#f08a5a" font-size="10.20" dy="-2.04">O)</tspan></text>
<text x="354.4" y="107.5" font-size="10.2" fill="#34486a" text-anchor="start" font-weight="normal" >13:</text>
<text x="373.2" y="107.5" font-size="10.2" text-anchor="start" letter-spacing="0.12" xml:space="preserve"><tspan fill="#5468e8" font-size="10.20" dy="0.00">Cu</tspan><tspan fill="#5468e8" font-size="5.30" dy="2.04">11</tspan><tspan fill="#6cd04a" font-size="10.20" dy="-2.04">Se</tspan><tspan fill="#6cd04a" font-size="5.30" dy="2.04">6</tspan><tspan fill="#3e5e5c" font-size="10.20" dy="-2.04">(Bn)</tspan><tspan fill="#3e5e5c" font-size="5.30" dy="2.04">2</tspan><tspan fill="#9a9a9a" font-size="10.20" dy="-2.04">H</tspan><tspan fill="#9a9a9a" font-size="5.30" dy="2.04">4</tspan><tspan fill="#f08a5a" font-size="10.20" dy="-2.04">(C</tspan><tspan fill="#f08a5a" font-size="5.30" dy="2.04">4</tspan><tspan fill="#f08a5a" font-size="10.20" dy="-2.04">H</tspan><tspan fill="#f08a5a" font-size="5.30" dy="2.04">10</tspan><tspan fill="#f08a5a" font-size="10.20" dy="-2.04">O)</tspan><tspan fill="#f08a5a" font-size="5.30" dy="2.04">2</tspan></text>
<text x="354.4" y="119.5" font-size="10.2" fill="#34486a" text-anchor="start" font-weight="normal" >14:</text>
<text x="373.2" y="119.5" font-size="10.2" text-anchor="start" letter-spacing="0.12" xml:space="preserve"><tspan fill="#5468e8" font-size="10.20" dy="0.00">Cu</tspan><tspan fill="#5468e8" font-size="5.30" dy="2.04">11</tspan><tspan fill="#6cd04a" font-size="10.20" dy="-2.04">Se</tspan><tspan fill="#6cd04a" font-size="5.30" dy="2.04">6</tspan><tspan fill="#3e5e5c" font-size="10.20" dy="-2.04">(Bn)</tspan><tspan fill="#3e5e5c" font-size="5.30" dy="2.04">2</tspan><tspan fill="#9a9a9a" font-size="10.20" dy="-2.04">H</tspan><tspan fill="#9a9a9a" font-size="5.30" dy="2.04">4</tspan><tspan fill="#f08a5a" font-size="10.20" dy="-2.04">(C</tspan><tspan fill="#f08a5a" font-size="5.30" dy="2.04">4</tspan><tspan fill="#f08a5a" font-size="10.20" dy="-2.04">H</tspan><tspan fill="#f08a5a" font-size="5.30" dy="2.04">10</tspan><tspan fill="#f08a5a" font-size="10.20" dy="-2.04">O)</tspan><tspan fill="#f08a5a" font-size="5.30" dy="2.04">3</tspan></text>
<text x="354.4" y="131.5" font-size="10.2" fill="#34486a" text-anchor="start" font-weight="normal" >15:</text>
<text x="373.2" y="131.5" font-size="10.2" text-anchor="start" letter-spacing="0.12" xml:space="preserve"><tspan fill="#5468e8" font-size="10.20" dy="0.00">Cu</tspan><tspan fill="#5468e8" font-size="5.30" dy="2.04">9</tspan><tspan fill="#6cd04a" font-size="10.20" dy="-2.04">Se</tspan><tspan fill="#6cd04a" font-size="5.30" dy="2.04">6</tspan><tspan fill="#3e5e5c" font-size="10.20" dy="-2.04">(Bn)</tspan><tspan fill="#3e5e5c" font-size="5.30" dy="2.04">n</tspan><tspan fill="#9a9a9a" font-size="10.20" dy="-2.04">H</tspan><tspan fill="#9a9a9a" font-size="5.30" dy="2.04">m</tspan><tspan fill="#f08a5a" font-size="10.20" dy="-2.04">(C</tspan><tspan fill="#f08a5a" font-size="5.30" dy="2.04">4</tspan><tspan fill="#f08a5a" font-size="10.20" dy="-2.04">H</tspan><tspan fill="#f08a5a" font-size="5.30" dy="2.04">10</tspan><tspan fill="#f08a5a" font-size="10.20" dy="-2.04">O)</tspan></text>
<text x="484.7" y="11.8" font-size="10.2" fill="#34486a" text-anchor="start" font-weight="normal" >5:</text>
<text x="501.0" y="11.8" font-size="10.2" text-anchor="start" letter-spacing="0.12" xml:space="preserve"><tspan fill="#5468e8" font-size="10.20" dy="0.00">Cu</tspan><tspan fill="#5468e8" font-size="5.30" dy="2.04">10</tspan><tspan fill="#6cd04a" font-size="10.20" dy="-2.04">Se</tspan><tspan fill="#6cd04a" font-size="5.30" dy="2.04">12</tspan><tspan fill="#9a9a9a" font-size="10.20" dy="-2.04">H</tspan><tspan fill="#9a9a9a" font-size="5.30" dy="2.04">3</tspan><tspan fill="#f08a5a" font-size="10.20" dy="-2.04">(C</tspan><tspan fill="#f08a5a" font-size="5.30" dy="2.04">4</tspan><tspan fill="#f08a5a" font-size="10.20" dy="-2.04">H</tspan><tspan fill="#f08a5a" font-size="5.30" dy="2.04">10</tspan><tspan fill="#f08a5a" font-size="10.20" dy="-2.04">O)</tspan></text>
<text x="484.7" y="23.599999999999998" font-size="10.2" fill="#34486a" text-anchor="start" font-weight="normal" >6:</text>
<text x="501.0" y="23.599999999999998" font-size="10.2" text-anchor="start" letter-spacing="0.12" xml:space="preserve"><tspan fill="#5468e8" font-size="10.20" dy="0.00">Cu</tspan><tspan fill="#5468e8" font-size="5.30" dy="2.04">11</tspan><tspan fill="#6cd04a" font-size="10.20" dy="-2.04">Se</tspan><tspan fill="#6cd04a" font-size="5.30" dy="2.04">12</tspan><tspan fill="#9a9a9a" font-size="10.20" dy="-2.04">H</tspan><tspan fill="#9a9a9a" font-size="5.30" dy="2.04">4</tspan><tspan fill="#f08a5a" font-size="10.20" dy="-2.04">(C</tspan><tspan fill="#f08a5a" font-size="5.30" dy="2.04">4</tspan><tspan fill="#f08a5a" font-size="10.20" dy="-2.04">H</tspan><tspan fill="#f08a5a" font-size="5.30" dy="2.04">10</tspan><tspan fill="#f08a5a" font-size="10.20" dy="-2.04">O)</tspan></text>
<text x="484.7" y="35.4" font-size="10.2" fill="#34486a" text-anchor="start" font-weight="normal" >7:</text>
<text x="501.0" y="35.4" font-size="10.2" text-anchor="start" letter-spacing="0.12" xml:space="preserve"><tspan fill="#5468e8" font-size="10.20" dy="0.00">Cu</tspan><tspan fill="#5468e8" font-size="5.30" dy="2.04">11</tspan><tspan fill="#6cd04a" font-size="10.20" dy="-2.04">Se</tspan><tspan fill="#6cd04a" font-size="5.30" dy="2.04">12</tspan><tspan fill="#3e5e5c" font-size="10.20" dy="-2.04">(Bn)</tspan><tspan fill="#9a9a9a" font-size="10.20" dy="0.00">H</tspan><tspan fill="#9a9a9a" font-size="5.30" dy="2.04">7</tspan></text>
<text x="485.6" y="47.199999999999996" font-size="10.2" fill="#34486a" text-anchor="start" font-weight="normal" >8:</text>
<text x="501.8" y="47.199999999999996" font-size="10.2" text-anchor="start" letter-spacing="0.12" xml:space="preserve"><tspan fill="#5468e8" font-size="10.20" dy="0.00">Cu</tspan><tspan fill="#5468e8" font-size="5.30" dy="2.04">14</tspan><tspan fill="#6cd04a" font-size="10.20" dy="-2.04">Se</tspan><tspan fill="#6cd04a" font-size="5.30" dy="2.04">12</tspan><tspan fill="#3e5e5c" font-size="10.20" dy="-2.04">(Bn)</tspan><tspan fill="#3e5e5c" font-size="5.30" dy="2.04">11</tspan><tspan fill="#9a5ee6" font-size="10.20" dy="-2.04">(TXP35)</tspan><tspan fill="#9a5ee6" font-size="5.30" dy="2.04">3</tspan><tspan fill="#9a9a9a" font-size="10.20" dy="-2.04">H</tspan></text>
<text x="488.4" y="131.8" font-size="10.2" fill="#34486a" text-anchor="start" font-weight="normal" >(n=1~4, m=1~5)</text>
<rect x="335.9" y="169.0" width="4.10" height="511.60" fill="#a6bccc"/>
<rect x="342.1" y="178.4" width="3.90" height="502.20" fill="#a6bccc"/>
<rect x="373.0" y="181.0" width="4.00" height="499.60" fill="#a6bccc"/>
<rect x="404.5" y="181.0" width="4.20" height="499.60" fill="#b4dcdc"/>
<rect x="437.7" y="164.7" width="4.20" height="515.90" fill="#b2dad8"/>
<rect x="457.9" y="169.1" width="4.10" height="511.50" fill="#b2dad8"/>
<rect x="464.9" y="136.7" width="4.10" height="543.90" fill="#b2dad8"/>
<rect x="529.6" y="185.0" width="8.20" height="495.60" fill="#b2d6d6"/>
<rect x="564.1" y="183.4" width="8.10" height="497.20" fill="#b8e0da"/>
<rect x="594.1" y="172.8" width="8.20" height="507.80" fill="#bee6dc"/>
<rect x="615.6" y="179.4" width="8.10" height="501.20" fill="#c4ece0"/>
<text x="337.4" y="166.0" font-size="9.2" fill="#2a4a6c" text-anchor="middle" font-weight="normal" >1</text>
<text x="344.0" y="176.2" font-size="9.2" fill="#2a4a6c" text-anchor="middle" font-weight="normal" >2</text>
<text x="374.9" y="178.6" font-size="9.2" fill="#2a4a6c" text-anchor="middle" font-weight="normal" >3</text>
<text x="406.6" y="178.6" font-size="9.2" fill="#2a4a6c" text-anchor="middle" font-weight="normal" >4</text>
<text x="439.2" y="160.6" font-size="9.2" fill="#2a4a6c" text-anchor="middle" font-weight="normal" >5</text>
<text x="459.4" y="166.6" font-size="9.2" fill="#2a4a6c" text-anchor="middle" font-weight="normal" >6</text>
<text x="471.2" y="143.2" font-size="9.2" fill="#2a4a6c" text-anchor="middle" font-weight="normal" >7</text>
<text x="532.9" y="183.2" font-size="9.2" fill="#2a4a6c" text-anchor="middle" font-weight="normal" >8</text>
<text x="567.9" y="180.8" font-size="9.2" fill="#2a4a6c" text-anchor="middle" font-weight="normal" >9</text>
<text x="597.8" y="170.4" font-size="9.2" fill="#2a4a6c" text-anchor="middle" font-weight="normal" >10</text>
<text x="618.5" y="176.2" font-size="9.2" fill="#2a4a6c" text-anchor="middle" font-weight="normal" >11</text>
<text x="364.6" y="563.8" font-size="9.8" fill="#2a4a6c" text-anchor="middle" font-weight="normal" >12</text>
<text x="388.3" y="566.0" font-size="9.8" fill="#2a4a6c" text-anchor="middle" font-weight="normal" >13</text>
<text x="413.9" y="566.0" font-size="9.8" fill="#2a4a6c" text-anchor="middle" font-weight="normal" >14</text>
<text x="382.3" y="631.0" font-size="9.8" fill="#2a4a6c" text-anchor="middle" font-weight="normal" >15</text>
<polygon points="336.0,189.4 336.0,182.9 336.4,178.2 336.8,175.9 337.2,178.0 337.6,182.4 338.0,184.3 338.4,184.0 338.8,185.4 339.2,187.3 339.6,188.2 340.0,189.1 340.4,188.7 340.8,188.7 341.2,188.9 341.6,188.2 342.0,186.1 342.4,183.6 342.8,181.2 343.2,181.2 343.6,183.5 344.0,186.2 344.4,187.7 344.8,189.0 345.2,188.7 345.6,189.0 346.0,188.6 346.4,188.4 346.8,188.2 347.2,186.6 347.6,185.1 348.0,183.1 348.4,181.4 348.8,181.2 349.2,182.7 349.6,185.0 350.0,185.8 350.4,186.0 350.8,187.2 351.2,187.9 351.6,188.3 352.0,188.5 352.4,189.2 352.8,188.8 353.2,188.2 353.6,187.9 354.0,187.0 354.4,186.1 354.8,185.5 355.2,185.2 355.6,185.1 356.0,185.8 356.4,186.8 356.8,187.4 357.2,188.4 357.6,188.7 358.0,188.6 358.4,188.2 358.8,187.4 359.2,186.6 359.6,185.5 360.0,183.9 360.4,183.1 360.8,183.2 361.2,183.9 361.6,185.4 362.0,186.6 362.4,186.6 362.8,187.3 363.2,187.4 363.6,187.8 364.0,188.7 364.4,188.5 364.8,188.7 365.2,189.2 365.6,189.3 366.0,189.0 366.4,189.2 366.8,189.2 367.2,189.0 367.6,188.9 368.0,188.9 368.4,189.0 368.8,189.2 369.2,189.4 369.6,189.3 370.0,189.3 370.4,189.0 370.8,188.9 371.2,189.2 371.6,189.1 372.0,188.6 372.4,188.6 372.8,187.5 373.2,186.4 373.6,185.2 374.0,185.1 374.4,185.8 374.8,187.0 375.2,187.3 375.6,186.1 376.0,185.8 376.4,186.6 376.8,187.2 377.2,188.0 377.6,188.4 378.0,187.7 378.4,186.5 378.8,186.4 379.2,186.4 379.6,186.3 380.0,187.5 380.4,187.4 380.8,187.1 381.2,187.2 381.6,187.5 382.0,188.2 382.4,188.4 382.8,189.0 383.2,189.2 383.6,189.2 384.0,189.1 384.4,188.7 384.8,189.0 385.2,188.7 385.6,189.1 386.0,189.2 386.4,188.7 386.8,188.6 387.2,187.1 387.6,186.2 388.0,185.3 388.4,185.3 388.8,186.3 389.2,187.1 389.6,188.0 390.0,188.8 390.4,189.2 390.8,189.4 391.2,189.3 391.6,189.2 392.0,189.0 392.4,189.0 392.8,188.8 393.2,188.8 393.6,189.2 394.0,188.9 394.4,189.1 394.8,188.9 395.2,189.3 395.6,188.7 396.0,189.4 396.4,189.0 396.8,189.2 397.2,188.8 397.6,189.3 398.0,188.8 398.4,189.4 398.8,188.9 399.2,188.9 399.6,189.0 400.0,189.3 400.4,189.1 400.8,188.9 401.2,188.7 401.6,188.1 402.0,186.6 402.4,186.1 402.8,186.3 403.2,186.8 403.6,187.7 404.0,188.8 404.4,188.8 404.8,188.5 405.2,188.4 405.6,187.5 406.0,186.3 406.4,185.6 406.8,185.3 407.2,185.2 407.6,185.7 408.0,186.4 408.4,185.1 408.8,183.5 409.2,181.9 409.6,181.2 410.0,182.6 410.4,184.5 410.8,186.1 411.2,185.1 411.6,184.1 412.0,184.4 412.4,184.8 412.8,185.5 413.2,186.4 413.6,185.9 414.0,186.3 414.4,187.2 414.8,187.3 415.2,188.1 415.6,188.7 416.0,188.6 416.4,189.3 416.8,188.8 417.2,188.8 417.6,189.3 418.0,188.8 418.4,188.9 418.8,188.8 419.2,189.2 419.6,188.9 420.0,188.9 420.4,189.2 420.8,189.4 421.2,189.4 421.6,189.0 422.0,189.0 422.4,189.3 422.8,189.0 423.2,189.4 423.6,189.1 424.0,189.0 424.4,189.3 424.8,189.4 425.2,188.8 425.6,188.8 426.0,189.0 426.4,189.4 426.8,189.0 427.2,188.7 427.6,188.9 428.0,188.9 428.4,189.4 428.8,188.9 429.2,189.1 429.6,188.3 430.0,188.5 430.4,187.5 430.8,185.9 431.2,185.2 431.6,184.1 432.0,183.7 432.4,183.7 432.8,184.8 433.2,182.8 433.6,182.0 434.0,182.1 434.4,183.2 434.8,184.9 435.2,186.8 435.6,187.7 436.0,188.5 436.4,189.2 436.8,189.2 437.2,189.2 437.6,188.9 438.0,187.5 438.4,184.3 438.8,177.2 439.2,169.7 439.6,165.3 440.0,169.6 440.4,177.2 440.8,183.0 441.2,183.5 441.6,184.2 442.0,185.5 442.4,187.6 442.8,186.6 443.2,186.2 443.6,186.2 444.0,186.9 444.4,187.7 444.8,188.3 445.2,188.8 445.6,188.8 446.0,188.2 446.4,187.9 446.8,188.1 447.2,188.1 447.6,187.8 448.0,187.3 448.4,187.8 448.8,187.6 449.2,188.2 449.6,188.3 450.0,188.7 450.4,188.6 450.8,188.9 451.2,188.7 451.6,188.9 452.0,188.7 452.4,188.4 452.8,186.9 453.2,186.4 453.6,185.3 454.0,184.7 454.4,185.4 454.8,186.7 455.2,187.3 455.6,188.5 456.0,188.7 456.4,188.8 456.8,188.3 457.2,187.9 457.6,186.6 458.0,185.0 458.4,182.8 458.8,181.4 459.2,181.2 459.6,175.8 460.0,171.6 460.4,171.9 460.8,176.0 461.2,181.9 461.6,186.1 462.0,188.3 462.4,189.1 462.8,188.4 463.2,187.7 463.6,186.8 464.0,185.9 464.4,183.8 464.8,182.4 465.2,180.5 465.6,174.5 466.0,159.6 466.4,143.8 466.8,136.8 467.2,143.8 467.6,159.6 468.0,174.3 468.4,183.5 468.8,187.7 469.2,188.1 469.6,188.8 470.0,188.9 470.4,187.9 470.8,187.3 471.2,186.8 471.6,185.9 472.0,185.2 472.4,185.3 472.8,185.0 473.2,184.6 473.6,183.3 474.0,183.3 474.4,183.8 474.8,184.5 475.2,186.0 475.6,187.0 476.0,188.4 476.4,188.5 476.8,188.6 477.2,189.2 477.6,189.3 478.0,189.0 478.4,188.8 478.8,188.4 479.2,187.6 479.6,186.1 480.0,183.7 480.4,181.8 480.8,181.7 481.2,183.0 481.6,184.6 482.0,187.1 482.4,187.1 482.8,187.3 483.2,187.8 483.6,188.3 484.0,188.6 484.4,188.9 484.8,188.7 485.2,189.4 485.6,189.1 486.0,189.1 486.4,188.9 486.8,189.2 487.2,189.3 487.6,189.1 488.0,188.9 488.4,189.0 488.8,188.7 489.2,188.9 489.6,188.9 490.0,188.3 490.4,188.1 490.8,187.8 491.2,187.0 491.6,186.9 492.0,186.4 492.4,186.3 492.8,186.8 493.2,187.2 493.6,188.2 494.0,188.2 494.4,188.5 494.8,189.1 495.2,189.0 495.6,189.3 496.0,189.2 496.4,189.0 496.8,189.1 497.2,189.1 497.6,188.9 498.0,188.9 498.4,189.3 498.8,189.0 499.2,188.9 499.6,189.4 500.0,188.9 500.4,189.4 500.8,189.1 501.2,189.1 501.6,189.4 502.0,189.3 502.4,188.9 502.8,189.2 503.2,189.0 503.6,189.3 504.0,189.0 504.4,188.7 504.8,188.9 505.2,189.1 505.6,188.7 506.0,189.2 506.4,189.2 506.8,189.1 507.2,188.7 507.6,189.0 508.0,188.8 508.4,188.3 508.8,187.8 509.2,187.4 509.6,187.4 510.0,187.6 510.4,188.2 510.8,188.6 511.2,188.5 511.6,189.0 512.0,188.8 512.4,189.1 512.5,189.4" fill="#1f4a69" stroke="#1f4a69" stroke-width="0.3"/>
<polygon points="521.0,189.4 521.0,189.4 521.4,189.3 521.8,189.2 522.2,189.4 522.6,189.1 523.0,189.3 523.4,189.4 523.8,189.2 524.2,189.3 524.6,189.4 525.0,189.3 525.4,189.2 525.8,189.3 526.2,189.1 526.6,189.3 527.0,189.2 527.4,189.3 527.8,189.4 528.2,189.2 528.6,189.2 529.0,189.2 529.4,189.2 529.8,189.3 530.2,189.2 530.6,189.1 531.0,188.7 531.4,188.1 531.8,187.7 532.2,187.0 532.6,186.7 533.0,186.4 533.4,186.2 533.8,186.5 534.2,187.0 534.6,187.8 535.0,188.2 535.4,188.8 535.8,188.9 536.2,189.1 536.6,189.1 537.0,189.1 537.4,189.0 537.8,189.2 538.2,189.1 538.6,189.3 539.0,189.1 539.4,189.4 539.8,189.1 540.2,189.1 540.6,189.2 541.0,189.3 541.4,189.1 541.8,189.1 542.2,189.1 542.6,189.2 543.0,189.2 543.4,189.3 543.8,189.1 544.2,189.1 544.6,188.9 545.0,189.1 545.4,188.9 545.8,189.0 546.2,188.9 546.6,188.7 547.0,188.8 547.4,188.9 547.8,189.1 548.2,189.2 548.6,189.3 549.0,189.2 549.4,189.0 549.8,189.1 550.2,189.3 550.6,189.1 551.0,189.3 551.4,189.4 551.8,189.2 552.2,189.2 552.6,189.4 553.0,189.1 553.4,189.3 553.8,189.3 554.2,189.4 554.6,189.4 555.0,189.1 555.4,189.1 555.8,189.2 556.2,189.4 556.6,189.3 557.0,189.4 557.4,189.4 557.8,189.1 558.2,189.2 558.6,189.4 559.0,189.3 559.4,189.2 559.8,189.2 560.2,189.2 560.6,189.4 561.0,189.1 561.4,189.4 561.8,189.2 562.2,189.1 562.6,189.4 563.0,189.4 563.4,189.0 563.8,189.1 564.2,189.3 564.6,189.0 565.0,189.1 565.4,188.6 565.8,188.6 566.2,188.3 566.6,187.9 567.0,187.4 567.4,187.1 567.8,187.3 568.2,187.3 568.6,187.7 569.0,188.0 569.4,188.3 569.8,188.7 570.2,188.8 570.6,189.1 571.0,189.2 571.4,189.1 571.8,189.2 572.2,189.4 572.6,189.1 573.0,189.1 573.4,189.2 573.8,189.1 574.2,189.1 574.6,189.4 575.0,189.4 575.4,189.2 575.8,189.3 576.2,189.2 576.6,189.3 577.0,189.4 577.4,189.3 577.8,189.1 578.2,189.4 578.6,189.1 579.0,189.2 579.4,189.3 579.8,189.4 580.2,189.2 580.6,189.2 581.0,189.3 581.4,189.2 581.8,188.9 582.2,188.9 582.6,188.9 583.0,188.9 583.4,188.7 583.8,189.0 584.2,188.8 584.6,188.8 585.0,189.0 585.4,189.0 585.8,189.1 586.2,189.0 586.6,189.1 587.0,189.3 587.4,189.1 587.8,189.2 588.2,189.1 588.6,189.3 589.0,189.3 589.4,189.3 589.8,189.3 590.2,189.1 590.6,189.2 591.0,189.3 591.4,189.2 591.8,189.2 592.2,189.1 592.6,189.4 593.0,189.4 593.4,189.1 593.8,189.0 594.2,189.1 594.6,189.0 595.0,188.5 595.4,187.8 595.8,186.7 596.2,184.4 596.6,181.8 597.0,179.2 597.4,176.9 597.8,176.1 598.2,177.0 598.6,179.2 599.0,181.8 599.4,184.4 599.8,186.5 600.2,187.7 600.6,188.6 601.0,189.1 601.4,189.3 601.8,189.1 602.2,189.2 602.6,189.2 603.0,189.1 603.4,189.1 603.8,189.1 604.2,189.2 604.6,189.3 605.0,189.2 605.4,189.2 605.8,189.1 606.2,188.9 606.6,188.9 607.0,188.7 607.4,188.7 607.8,188.7 608.2,188.5 608.6,188.6 609.0,188.9 609.4,188.9 609.8,189.0 610.2,189.0 610.6,189.3 611.0,189.3 611.4,189.2 611.8,189.3 612.2,189.3 612.6,189.1 613.0,189.2 613.4,189.3 613.8,189.1 614.2,189.2 614.6,189.4 615.0,189.4 615.4,189.3 615.8,189.0 616.2,189.0 616.6,188.8 617.0,188.3 617.4,187.5 617.8,186.4 618.2,184.7 618.6,183.0 619.0,181.6 619.4,181.3 619.8,181.6 620.2,183.1 620.6,184.7 621.0,186.3 621.4,187.7 621.8,188.5 622.2,188.8 622.6,189.2 623.0,189.2 623.4,189.1 623.8,189.2 624.2,189.2 624.6,189.2 625.0,189.3 625.4,189.3 625.8,189.3 626.2,189.3 626.6,189.3 627.0,189.2 627.4,189.2 627.8,189.1 628.2,189.2 628.6,189.4 629.0,189.3 629.4,189.3 629.8,189.3 630.2,189.1 630.6,189.3 631.0,189.1 631.4,189.3 631.8,189.2 632.2,189.3 632.6,189.0 633.0,189.0 633.4,188.9 633.8,188.7 634.2,188.9 634.6,188.8 635.0,188.7 635.4,188.7 635.8,188.7 636.2,188.9 636.6,189.1 637.0,189.0 637.4,189.3 637.8,189.2 638.2,189.3 638.6,189.2 639.0,189.2 639.4,189.4 639.8,189.1 640.0,189.4" fill="#1f4a69" stroke="#1f4a69" stroke-width="0.3"/>
<line x1="335.6" y1="189.4" x2="515.6" y2="189.4" stroke="#1e4868" stroke-width="1.0"/>
<line x1="521.6" y1="189.4" x2="640.2" y2="189.4" stroke="#1e4868" stroke-width="1.0"/>
<rect x="515.6" y="188.4" width="6" height="2" fill="#fff"/>
<line x1="513.30" y1="193.20" x2="518.60" y2="186.60" stroke="#3a3a3a" stroke-width="0.75"/>
<line x1="518.60" y1="193.20" x2="523.90" y2="186.60" stroke="#3a3a3a" stroke-width="0.75"/>
<text x="654.8" y="193.7" font-size="9.7" fill="#3a5a74" text-anchor="start" font-weight="normal" letter-spacing="0.25">0 min</text>
<polygon points="336.0,222.5 336.0,219.1 336.4,217.3 336.8,215.8 337.2,216.8 337.6,219.2 338.0,220.8 338.4,222.0 338.8,222.3 339.2,222.3 339.6,222.0 340.0,222.4 340.4,221.8 340.8,222.4 341.2,222.1 341.6,221.0 342.0,216.5 342.4,209.0 342.8,201.5 343.2,201.6 343.6,208.8 344.0,216.8 344.4,218.4 344.8,218.4 345.2,219.3 345.6,220.5 346.0,220.9 346.4,221.6 346.8,221.4 347.2,220.5 347.6,219.7 348.0,218.5 348.4,217.6 348.8,217.6 349.2,218.3 349.6,220.0 350.0,219.6 350.4,219.1 350.8,219.4 351.2,220.3 351.6,220.6 352.0,221.7 352.4,221.8 352.8,222.3 353.2,222.2 353.6,221.8 354.0,221.4 354.4,220.8 354.8,220.1 355.2,220.0 355.6,220.6 356.0,221.0 356.4,221.6 356.8,221.9 357.2,221.8 357.6,222.3 358.0,221.9 358.4,221.9 358.8,221.8 359.2,222.0 359.6,221.6 360.0,221.2 360.4,220.6 360.8,219.9 361.2,219.9 361.6,220.2 362.0,221.1 362.4,221.2 362.8,221.5 363.2,221.7 363.6,221.9 364.0,222.4 364.4,222.4 364.8,221.9 365.2,222.0 365.6,221.9 366.0,222.2 366.4,221.9 366.8,222.4 367.2,221.8 367.6,221.9 368.0,222.3 368.4,222.5 368.8,222.1 369.2,222.0 369.6,222.3 370.0,222.5 370.4,222.3 370.8,221.9 371.2,222.4 371.6,221.8 372.0,222.1 372.4,221.6 372.8,220.5 373.2,218.3 373.6,216.8 374.0,216.8 374.4,218.0 374.8,219.4 375.2,218.7 375.6,219.0 376.0,218.9 376.4,219.5 376.8,220.7 377.2,221.4 377.6,221.0 378.0,220.7 378.4,219.9 378.8,219.1 379.2,219.2 379.6,219.7 380.0,220.6 380.4,220.9 380.8,221.9 381.2,221.9 381.6,221.8 382.0,222.2 382.4,222.5 382.8,222.3 383.2,222.5 383.6,222.4 384.0,222.4 384.4,222.3 384.8,222.2 385.2,222.2 385.6,222.0 386.0,221.9 386.4,221.6 386.8,221.4 387.2,220.4 387.6,219.7 388.0,219.5 388.4,219.2 388.8,219.9 389.2,220.4 389.6,221.1 390.0,221.9 390.4,222.0 390.8,222.1 391.2,222.3 391.6,222.5 392.0,222.5 392.4,221.8 392.8,222.0 393.2,222.2 393.6,222.0 394.0,222.3 394.4,222.0 394.8,221.8 395.2,222.0 395.6,222.2 396.0,221.8 396.4,221.9 396.8,222.5 397.2,222.2 397.6,222.2 398.0,222.3 398.4,222.1 398.8,222.4 399.2,222.0 399.6,221.9 400.0,222.4 400.4,222.0 400.8,222.2 401.2,221.7 401.6,221.3 402.0,220.5 402.4,219.9 402.8,219.8 403.2,219.5 403.6,220.4 404.0,220.7 404.4,221.5 404.8,222.0 405.2,222.2 405.6,222.3 406.0,221.9 406.4,222.3 406.8,222.0 407.2,221.7 407.6,221.2 408.0,220.1 408.4,219.5 408.8,219.1 409.2,218.5 409.6,215.7 410.0,213.2 410.4,212.5 410.8,214.1 411.2,217.1 411.6,219.6 412.0,221.4 412.4,222.1 412.8,222.0 413.2,221.8 413.6,222.3 414.0,221.8 414.4,221.9 414.8,222.1 415.2,222.2 415.6,222.4 416.0,222.4 416.4,222.5 416.8,222.1 417.2,222.0 417.6,221.8 418.0,222.1 418.4,221.8 418.8,222.2 419.2,222.4 419.6,222.5 420.0,222.3 420.4,222.1 420.8,221.8 421.2,222.3 421.6,222.3 422.0,222.0 422.4,222.2 422.8,222.1 423.2,222.4 423.6,221.9 424.0,221.9 424.4,222.0 424.8,221.8 425.2,222.3 425.6,222.5 426.0,222.3 426.4,221.9 426.8,222.2 427.2,222.4 427.6,222.4 428.0,222.4 428.4,222.2 428.8,221.9 429.2,221.9 429.6,222.0 430.0,222.0 430.4,222.3 430.8,221.9 431.2,222.1 431.6,221.4 432.0,220.9 432.4,218.8 432.8,217.6 433.2,215.9 433.6,215.6 434.0,216.5 434.4,214.9 434.8,215.1 435.2,216.6 435.6,218.8 436.0,220.8 436.4,221.4 436.8,221.8 437.2,222.4 437.6,221.7 438.0,221.5 438.4,219.8 438.8,218.2 439.2,216.6 439.6,217.2 440.0,217.8 440.4,220.2 440.8,221.5 441.2,221.0 441.6,219.3 442.0,217.0 442.4,216.4 442.8,217.1 443.2,219.3 443.6,220.5 444.0,221.4 444.4,221.8 444.8,222.3 445.2,221.8 445.6,222.0 446.0,222.0 446.4,222.3 446.8,222.2 447.2,222.0 447.6,222.1 448.0,222.2 448.4,221.9 448.8,222.2 449.2,221.9 449.6,222.5 450.0,222.1 450.4,222.0 450.8,222.5 451.2,222.0 451.6,222.3 452.0,222.1 452.4,222.1 452.8,222.4 453.2,221.8 453.6,222.3 454.0,222.4 454.4,222.2 454.8,222.5 455.2,222.4 455.6,222.0 456.0,222.4 456.4,222.1 456.8,221.9 457.2,222.2 457.6,221.9 458.0,221.7 458.4,221.6 458.8,220.4 459.2,217.8 459.6,215.5 460.0,214.5 460.4,215.6 460.8,218.0 461.2,219.8 461.6,221.2 462.0,221.8 462.4,221.7 462.8,222.1 463.2,221.3 463.6,220.9 464.0,220.5 464.4,219.3 464.8,218.0 465.2,217.1 465.6,214.0 466.0,205.9 466.4,198.8 466.8,198.5 467.2,205.4 467.6,214.0 468.0,219.1 468.4,221.2 468.8,221.7 469.2,221.7 469.6,221.8 470.0,222.3 470.4,222.4 470.8,222.1 471.2,222.1 471.6,222.0 472.0,221.7 472.4,221.0 472.8,220.3 473.2,220.5 473.6,219.9 474.0,220.7 474.4,220.9 474.8,221.1 475.2,222.0 475.6,222.0 476.0,222.3 476.4,222.3 476.8,221.9 477.2,222.4 477.6,222.0 478.0,221.8 478.4,222.1 478.8,221.5 479.2,221.6 479.6,220.8 480.0,220.5 480.4,220.3 480.8,219.9 481.2,220.2 481.6,220.9 482.0,221.2 482.4,221.8 482.8,222.0 483.2,221.7 483.6,221.8 484.0,222.4 484.4,221.9 484.8,222.0 485.2,222.5 485.6,222.4 486.0,222.2 486.4,221.9 486.8,221.9 487.2,222.3 487.6,222.2 488.0,221.8 488.4,222.3 488.8,222.4 489.2,222.1 489.6,221.9 490.0,221.6 490.4,221.4 490.8,221.8 491.2,221.4 491.6,221.3 492.0,220.9 492.4,221.1 492.8,220.9 493.2,221.3 493.6,221.6 494.0,221.7 494.4,222.2 494.8,221.8 495.2,221.9 495.6,221.9 496.0,221.9 496.4,222.4 496.8,222.5 497.2,222.2 497.6,222.0 498.0,222.4 498.4,221.9 498.8,221.9 499.2,222.0 499.6,222.2 500.0,222.4 500.4,221.9 500.8,222.4 501.2,222.2 501.6,222.0 502.0,222.1 502.4,222.3 502.8,221.9 503.2,222.3 503.6,222.2 504.0,222.2 504.4,222.0 504.8,222.5 505.2,222.1 505.6,222.2 506.0,221.9 506.4,222.2 506.8,222.1 507.2,221.8 507.6,222.5 508.0,221.9 508.4,222.2 508.8,222.3 509.2,222.3 509.6,222.3 510.0,221.9 510.4,222.4 510.8,221.8 511.2,222.1 511.6,222.3 512.0,222.0 512.4,222.1 512.5,222.5" fill="#234f6e" stroke="#234f6e" stroke-width="0.3"/>
<polygon points="521.0,222.5 521.0,222.5 521.4,222.4 521.8,222.5 522.2,222.4 522.6,222.2 523.0,222.3 523.4,222.3 523.8,222.2 524.2,222.3 524.6,222.2 525.0,222.3 525.4,222.5 525.8,222.3 526.2,222.3 526.6,222.3 527.0,222.4 527.4,222.3 527.8,222.4 528.2,222.4 528.6,222.4 529.0,222.4 529.4,222.4 529.8,222.2 530.2,222.1 530.6,222.1 531.0,221.6 531.4,221.2 531.8,220.2 532.2,219.5 532.6,218.8 533.0,218.3 533.4,218.3 533.8,218.7 534.2,219.6 534.6,220.4 535.0,221.0 535.4,221.6 535.8,221.8 536.2,222.0 536.6,222.4 537.0,222.3 537.4,222.2 537.8,222.4 538.2,222.2 538.6,222.5 539.0,222.4 539.4,222.2 539.8,222.2 540.2,222.3 540.6,222.4 541.0,222.3 541.4,222.4 541.8,222.2 542.2,222.4 542.6,222.4 543.0,222.2 543.4,222.1 543.8,222.2 544.2,222.1 544.6,222.0 545.0,222.0 545.4,222.1 545.8,222.0 546.2,221.8 546.6,222.0 547.0,221.9 547.4,221.9 547.8,222.3 548.2,222.1 548.6,222.2 549.0,222.4 549.4,222.4 549.8,222.3 550.2,222.3 550.6,222.2 551.0,222.4 551.4,222.2 551.8,222.4 552.2,222.2 552.6,222.2 553.0,222.4 553.4,222.2 553.8,222.5 554.2,222.4 554.6,222.2 555.0,222.3 555.4,222.5 555.8,222.5 556.2,222.2 556.6,222.2 557.0,222.2 557.4,222.4 557.8,222.4 558.2,222.3 558.6,222.5 559.0,222.3 559.4,222.4 559.8,222.4 560.2,222.2 560.6,222.4 561.0,222.2 561.4,222.3 561.8,222.3 562.2,222.3 562.6,222.4 563.0,222.2 563.4,222.5 563.8,222.2 564.2,222.3 564.6,222.2 565.0,222.1 565.4,222.0 565.8,221.9 566.2,221.6 566.6,221.2 567.0,221.1 567.4,220.8 567.8,220.8 568.2,221.1 568.6,221.3 569.0,221.3 569.4,221.6 569.8,222.0 570.2,222.0 570.6,222.2 571.0,222.2 571.4,222.3 571.8,222.2 572.2,222.5 572.6,222.2 573.0,222.3 573.4,222.4 573.8,222.5 574.2,222.4 574.6,222.3 575.0,222.3 575.4,222.3 575.8,222.5 576.2,222.5 576.6,222.3 577.0,222.5 577.4,222.4 577.8,222.5 578.2,222.4 578.6,222.3 579.0,222.2 579.4,222.5 579.8,222.4 580.2,222.4 580.6,222.4 581.0,222.3 581.4,222.4 581.8,222.3 582.2,222.2 582.6,221.9 583.0,222.1 583.4,221.9 583.8,221.8 584.2,221.9 584.6,222.0 585.0,222.1 585.4,222.1 585.8,222.2 586.2,222.3 586.6,222.3 587.0,222.4 587.4,222.3 587.8,222.3 588.2,222.5 588.6,222.4 589.0,222.5 589.4,222.3 589.8,222.3 590.2,222.2 590.6,222.4 591.0,222.3 591.4,222.2 591.8,222.4 592.2,222.3 592.6,222.3 593.0,222.5 593.4,222.3 593.8,222.2 594.2,222.1 594.6,221.9 595.0,221.9 595.4,220.8 595.8,219.4 596.2,217.3 596.6,214.5 597.0,211.4 597.4,209.2 597.8,208.2 598.2,209.2 598.6,211.3 599.0,214.3 599.4,217.3 599.8,219.4 600.2,220.7 600.6,221.6 601.0,222.2 601.4,222.4 601.8,222.3 602.2,222.2 602.6,222.3 603.0,222.4 603.4,222.3 603.8,222.3 604.2,222.4 604.6,222.2 605.0,222.2 605.4,222.1 605.8,222.3 606.2,221.9 606.6,221.8 607.0,221.9 607.4,221.7 607.8,221.6 608.2,221.5 608.6,221.6 609.0,221.8 609.4,221.8 609.8,222.1 610.2,222.1 610.6,222.2 611.0,222.2 611.4,222.4 611.8,222.5 612.2,222.3 612.6,222.2 613.0,222.2 613.4,222.3 613.8,222.4 614.2,222.3 614.6,222.2 615.0,222.2 615.4,222.4 615.8,222.4 616.2,222.1 616.6,221.9 617.0,221.3 617.4,220.0 617.8,218.2 618.2,216.1 618.6,213.6 619.0,211.9 619.4,211.4 619.8,212.0 620.2,213.9 620.6,215.9 621.0,218.4 621.4,220.1 621.8,221.1 622.2,221.7 622.6,222.2 623.0,222.3 623.4,222.4 623.8,222.5 624.2,222.3 624.6,222.5 625.0,222.2 625.4,222.2 625.8,222.4 626.2,222.3 626.6,222.2 627.0,222.5 627.4,222.3 627.8,222.2 628.2,222.3 628.6,222.2 629.0,222.4 629.4,222.5 629.8,222.4 630.2,222.2 630.6,222.4 631.0,222.4 631.4,222.5 631.8,222.3 632.2,222.4 632.6,222.3 633.0,222.4 633.4,222.3 633.8,222.2 634.2,221.8 634.6,221.8 635.0,221.9 635.4,221.9 635.8,222.0 636.2,222.0 636.6,222.1 637.0,222.1 637.4,222.2 637.8,222.5 638.2,222.3 638.6,222.5 639.0,222.3 639.4,222.5 639.8,222.4 640.0,222.5" fill="#234f6e" stroke="#234f6e" stroke-width="0.3"/>
<line x1="335.6" y1="222.5" x2="515.6" y2="222.5" stroke="#224e6c" stroke-width="1.0"/>
<line x1="521.6" y1="222.5" x2="640.2" y2="222.5" stroke="#224e6c" stroke-width="1.0"/>
<rect x="515.6" y="221.5" width="6" height="2" fill="#fff"/>
<line x1="513.30" y1="226.30" x2="518.60" y2="219.70" stroke="#3a3a3a" stroke-width="0.75"/>
<line x1="518.60" y1="226.30" x2="523.90" y2="219.70" stroke="#3a3a3a" stroke-width="0.75"/>
<text x="654.8" y="227.29999999999998" font-size="9.7" fill="#3e6078" text-anchor="start" font-weight="normal" letter-spacing="0.25">1 min</text>
<polygon points="336.0,257.4 336.0,253.6 336.4,250.8 336.8,249.9 337.2,250.7 337.6,253.3 338.0,255.6 338.4,256.5 338.8,256.9 339.2,257.4 339.6,257.0 340.0,257.0 340.4,257.0 340.8,256.8 341.2,256.6 341.6,255.6 342.0,251.5 342.4,243.4 342.8,235.1 343.2,235.2 343.6,243.0 344.0,251.4 344.4,255.5 344.8,257.0 345.2,257.0 345.6,257.3 346.0,256.9 346.4,256.7 346.8,256.1 347.2,255.4 347.6,254.1 348.0,252.4 348.4,251.1 348.8,251.2 349.2,252.1 349.6,253.9 350.0,254.1 350.4,254.0 350.8,255.3 351.2,256.0 351.6,256.4 352.0,256.7 352.4,257.0 352.8,257.0 353.2,257.1 353.6,256.9 354.0,256.8 354.4,256.8 354.8,257.0 355.2,257.1 355.6,256.7 356.0,257.1 356.4,257.0 356.8,256.8 357.2,256.9 357.6,257.1 358.0,256.9 358.4,257.0 358.8,256.8 359.2,257.0 359.6,257.0 360.0,256.7 360.4,257.0 360.8,257.1 361.2,256.7 361.6,256.7 362.0,257.3 362.4,257.3 362.8,256.8 363.2,256.8 363.6,257.1 364.0,257.2 364.4,256.9 364.8,256.7 365.2,257.3 365.6,257.1 366.0,256.9 366.4,257.2 366.8,257.1 367.2,257.3 367.6,257.1 368.0,257.2 368.4,257.3 368.8,257.1 369.2,257.3 369.6,257.3 370.0,257.3 370.4,257.1 370.8,257.2 371.2,256.9 371.6,257.1 372.0,257.0 372.4,256.3 372.8,254.2 373.2,250.3 373.6,247.0 374.0,245.9 374.4,248.2 374.8,252.2 375.2,254.2 375.6,253.8 376.0,254.4 376.4,255.4 376.8,256.3 377.2,256.8 377.6,256.3 378.0,256.0 378.4,255.2 378.8,254.8 379.2,254.8 379.6,255.5 380.0,256.3 380.4,256.6 380.8,257.0 381.2,256.8 381.6,256.9 382.0,256.7 382.4,256.9 382.8,256.7 383.2,257.0 383.6,257.1 384.0,256.8 384.4,257.2 384.8,256.9 385.2,256.9 385.6,256.8 386.0,257.3 386.4,257.0 386.8,255.9 387.2,255.2 387.6,253.5 388.0,252.2 388.4,252.2 388.8,253.2 389.2,254.7 389.6,256.3 390.0,257.0 390.4,256.7 390.8,257.1 391.2,257.2 391.6,257.3 392.0,257.4 392.4,257.0 392.8,257.2 393.2,257.0 393.6,256.8 394.0,257.1 394.4,256.7 394.8,257.4 395.2,256.9 395.6,256.9 396.0,256.7 396.4,257.4 396.8,257.0 397.2,257.0 397.6,257.0 398.0,257.1 398.4,257.2 398.8,256.8 399.2,256.8 399.6,256.9 400.0,256.7 400.4,257.0 400.8,257.3 401.2,256.9 401.6,257.3 402.0,256.9 402.4,256.9 402.8,257.3 403.2,257.3 403.6,257.4 404.0,257.3 404.4,256.7 404.8,257.1 405.2,256.5 405.6,256.7 406.0,256.1 406.4,255.5 406.8,255.2 407.2,254.8 407.6,255.6 408.0,256.0 408.4,255.7 408.8,254.3 409.2,252.6 409.6,252.5 410.0,253.3 410.4,254.6 410.8,256.3 411.2,257.0 411.6,256.8 412.0,256.7 412.4,257.4 412.8,257.1 413.2,256.7 413.6,256.8 414.0,256.7 414.4,257.0 414.8,256.7 415.2,257.4 415.6,257.1 416.0,256.8 416.4,257.1 416.8,257.1 417.2,257.1 417.6,257.1 418.0,256.8 418.4,256.7 418.8,257.2 419.2,257.2 419.6,256.8 420.0,256.9 420.4,256.8 420.8,256.9 421.2,256.8 421.6,256.8 422.0,257.0 422.4,257.2 422.8,257.3 423.2,256.8 423.6,256.8 424.0,256.8 424.4,257.2 424.8,256.9 425.2,256.7 425.6,257.3 426.0,257.4 426.4,257.3 426.8,257.2 427.2,256.9 427.6,256.8 428.0,256.8 428.4,256.9 428.8,256.7 429.2,256.7 429.6,257.1 430.0,256.8 430.4,256.9 430.8,257.2 431.2,257.0 431.6,257.2 432.0,256.7 432.4,255.5 432.8,254.4 433.2,251.6 433.6,249.4 434.0,248.5 434.4,249.6 434.8,251.6 435.2,254.1 435.6,256.0 436.0,256.7 436.4,256.8 436.8,257.3 437.2,256.8 437.6,257.2 438.0,256.3 438.4,254.5 438.8,250.6 439.2,246.2 439.6,244.3 440.0,246.6 440.4,250.9 440.8,254.2 441.2,256.3 441.6,256.8 442.0,256.9 442.4,257.3 442.8,257.1 443.2,256.7 443.6,257.2 444.0,256.8 444.4,257.3 444.8,257.4 445.2,257.0 445.6,257.2 446.0,257.0 446.4,256.9 446.8,257.4 447.2,257.1 447.6,257.1 448.0,256.8 448.4,256.8 448.8,256.8 449.2,256.9 449.6,257.2 450.0,257.0 450.4,257.0 450.8,257.1 451.2,257.2 451.6,256.9 452.0,256.8 452.4,257.2 452.8,257.2 453.2,257.3 453.6,257.1 454.0,257.1 454.4,257.3 454.8,256.9 455.2,257.2 455.6,256.8 456.0,257.2 456.4,256.9 456.8,256.7 457.2,257.3 457.6,257.1 458.0,256.4 458.4,255.8 458.8,253.7 459.2,250.2 459.6,245.9 460.0,244.6 460.4,245.9 460.8,249.9 461.2,253.8 461.6,255.4 462.0,256.4 462.4,256.7 462.8,256.6 463.2,256.2 463.6,255.5 464.0,255.3 464.4,254.3 464.8,252.8 465.2,252.1 465.6,246.8 466.0,236.8 466.4,228.6 466.8,228.9 467.2,237.0 467.6,247.1 468.0,253.5 468.4,255.6 468.8,256.4 469.2,256.4 469.6,256.8 470.0,257.2 470.4,256.8 470.8,257.2 471.2,256.6 471.6,256.4 472.0,256.5 472.4,256.1 472.8,255.3 473.2,255.2 473.6,255.1 474.0,255.1 474.4,255.8 474.8,256.4 475.2,256.5 475.6,256.5 476.0,256.6 476.4,257.3 476.8,256.9 477.2,257.2 477.6,256.7 478.0,257.1 478.4,257.1 478.8,256.8 479.2,256.3 479.6,256.1 480.0,255.3 480.4,255.2 480.8,254.9 481.2,255.5 481.6,255.7 482.0,256.0 482.4,256.7 482.8,256.9 483.2,256.7 483.6,257.1 484.0,257.1 484.4,257.0 484.8,256.9 485.2,256.8 485.6,257.0 486.0,256.8 486.4,256.8 486.8,256.7 487.2,256.7 487.6,256.8 488.0,256.7 488.4,256.7 488.8,256.7 489.2,256.0 489.6,256.2 490.0,256.2 490.4,256.1 490.8,256.1 491.2,256.2 491.6,256.9 492.0,256.6 492.4,256.6 492.8,256.6 493.2,256.7 493.6,257.0 494.0,256.8 494.4,257.0 494.8,256.8 495.2,256.7 495.6,257.1 496.0,257.3 496.4,256.9 496.8,256.7 497.2,256.8 497.6,257.1 498.0,257.1 498.4,257.3 498.8,256.8 499.2,257.2 499.6,257.3 500.0,257.3 500.4,256.7 500.8,257.1 501.2,256.8 501.6,257.4 502.0,257.1 502.4,256.9 502.8,256.9 503.2,257.3 503.6,257.1 504.0,256.8 504.4,256.8 504.8,257.3 505.2,257.0 505.6,256.8 506.0,257.0 506.4,256.9 506.8,257.2 507.2,257.1 507.6,257.4 508.0,256.8 508.4,257.0 508.8,257.3 509.2,256.7 509.6,257.3 510.0,257.4 510.4,256.9 510.8,257.3 511.2,256.9 511.6,257.3 512.0,257.4 512.4,256.9 512.5,257.4" fill="#275772" stroke="#275772" stroke-width="0.3"/>
<polygon points="521.0,257.4 521.0,257.1 521.4,257.2 521.8,257.3 522.2,257.3 522.6,257.2 523.0,257.1 523.4,257.3 523.8,257.1 524.2,257.4 524.6,257.2 525.0,257.3 525.4,257.2 525.8,257.2 526.2,257.1 526.6,257.2 527.0,257.1 527.4,257.3 527.8,257.4 528.2,257.2 528.6,257.1 529.0,257.1 529.4,257.4 529.8,257.2 530.2,257.1 530.6,256.9 531.0,256.4 531.4,256.0 531.8,255.4 532.2,254.3 532.6,253.6 533.0,253.2 533.4,253.4 533.8,253.8 534.2,254.5 534.6,255.1 535.0,256.1 535.4,256.6 535.8,256.9 536.2,256.9 536.6,257.3 537.0,257.0 537.4,257.3 537.8,257.2 538.2,257.3 538.6,257.3 539.0,257.1 539.4,257.1 539.8,257.3 540.2,257.3 540.6,257.4 541.0,257.3 541.4,257.3 541.8,257.2 542.2,257.2 542.6,257.2 543.0,257.3 543.4,257.1 543.8,257.1 544.2,257.1 544.6,256.8 545.0,256.9 545.4,257.0 545.8,256.7 546.2,256.7 546.6,256.9 547.0,256.7 547.4,257.1 547.8,256.9 548.2,257.2 548.6,257.0 549.0,257.1 549.4,257.0 549.8,257.3 550.2,257.2 550.6,257.1 551.0,257.4 551.4,257.3 551.8,257.2 552.2,257.4 552.6,257.4 553.0,257.4 553.4,257.3 553.8,257.2 554.2,257.2 554.6,257.2 555.0,257.4 555.4,257.4 555.8,257.2 556.2,257.3 556.6,257.4 557.0,257.4 557.4,257.2 557.8,257.1 558.2,257.2 558.6,257.4 559.0,257.3 559.4,257.2 559.8,257.1 560.2,257.3 560.6,257.2 561.0,257.4 561.4,257.2 561.8,257.1 562.2,257.2 562.6,257.1 563.0,257.3 563.4,257.2 563.8,257.2 564.2,257.1 564.6,257.3 565.0,257.0 565.4,256.8 565.8,256.8 566.2,256.4 566.6,256.3 567.0,255.9 567.4,255.6 567.8,255.7 568.2,255.8 568.6,255.9 569.0,256.2 569.4,256.5 569.8,256.8 570.2,256.8 570.6,257.1 571.0,257.2 571.4,257.2 571.8,257.3 572.2,257.3 572.6,257.2 573.0,257.2 573.4,257.1 573.8,257.2 574.2,257.3 574.6,257.2 575.0,257.3 575.4,257.1 575.8,257.2 576.2,257.3 576.6,257.2 577.0,257.1 577.4,257.1 577.8,257.2 578.2,257.1 578.6,257.1 579.0,257.3 579.4,257.3 579.8,257.2 580.2,257.4 580.6,257.2 581.0,257.2 581.4,257.0 581.8,257.1 582.2,256.9 582.6,256.9 583.0,256.9 583.4,257.0 583.8,256.7 584.2,256.8 584.6,256.8 585.0,257.0 585.4,257.1 585.8,257.1 586.2,256.9 586.6,257.2 587.0,257.1 587.4,257.1 587.8,257.1 588.2,257.3 588.6,257.3 589.0,257.1 589.4,257.4 589.8,257.0 590.2,257.3 590.6,257.4 591.0,257.3 591.4,257.1 591.8,257.3 592.2,257.4 592.6,257.4 593.0,257.4 593.4,257.2 593.8,257.2 594.2,257.1 594.6,257.1 595.0,256.7 595.4,255.9 595.8,254.6 596.2,252.4 596.6,249.9 597.0,247.0 597.4,245.0 597.8,244.3 598.2,244.9 598.6,247.2 599.0,249.7 599.4,252.4 599.8,254.6 600.2,255.8 600.6,256.6 601.0,256.9 601.4,257.1 601.8,257.1 602.2,257.2 602.6,257.3 603.0,257.1 603.4,257.1 603.8,257.2 604.2,257.1 604.6,257.2 605.0,257.2 605.4,257.3 605.8,257.0 606.2,257.1 606.6,256.8 607.0,256.6 607.4,256.6 607.8,256.5 608.2,256.3 608.6,256.5 609.0,256.6 609.4,256.9 609.8,256.9 610.2,257.1 610.6,257.1 611.0,257.0 611.4,257.1 611.8,257.3 612.2,257.1 612.6,257.2 613.0,257.3 613.4,257.4 613.8,257.3 614.2,257.2 614.6,257.2 615.0,257.4 615.4,257.1 615.8,257.3 616.2,257.0 616.6,256.9 617.0,256.4 617.4,255.7 617.8,254.6 618.2,253.3 618.6,251.8 619.0,250.8 619.4,250.3 619.8,250.8 620.2,251.8 620.6,253.1 621.0,254.6 621.4,255.9 621.8,256.6 622.2,256.9 622.6,257.1 623.0,257.2 623.4,257.1 623.8,257.3 624.2,257.2 624.6,257.2 625.0,257.4 625.4,257.3 625.8,257.4 626.2,257.2 626.6,257.1 627.0,257.1 627.4,257.1 627.8,257.2 628.2,257.2 628.6,257.2 629.0,257.3 629.4,257.2 629.8,257.4 630.2,257.3 630.6,257.3 631.0,257.1 631.4,257.3 631.8,257.2 632.2,257.3 632.6,257.3 633.0,257.1 633.4,257.0 633.8,256.9 634.2,256.7 634.6,256.8 635.0,256.7 635.4,256.6 635.8,257.0 636.2,256.8 636.6,257.1 637.0,257.0 637.4,257.1 637.8,257.1 638.2,257.1 638.6,257.4 639.0,257.4 639.4,257.3 639.8,257.4 640.0,257.4" fill="#275772" stroke="#275772" stroke-width="0.3"/>
<line x1="335.6" y1="257.4" x2="515.6" y2="257.4" stroke="#275670" stroke-width="1.0"/>
<line x1="521.6" y1="257.4" x2="640.2" y2="257.4" stroke="#275670" stroke-width="1.0"/>
<rect x="515.6" y="256.4" width="6" height="2" fill="#fff"/>
<line x1="513.30" y1="261.20" x2="518.60" y2="254.60" stroke="#3a3a3a" stroke-width="0.75"/>
<line x1="518.60" y1="261.20" x2="523.90" y2="254.60" stroke="#3a3a3a" stroke-width="0.75"/>
<text x="654.8" y="262.1" font-size="9.7" fill="#42687c" text-anchor="start" font-weight="normal" letter-spacing="0.25">2 min</text>
<polygon points="336.0,292.7 336.0,287.9 336.4,285.3 336.8,283.8 337.2,285.1 337.6,288.4 338.0,290.9 338.4,291.8 338.8,292.5 339.2,292.4 339.6,292.1 340.0,292.1 340.4,292.6 340.8,292.6 341.2,292.3 341.6,290.7 342.0,287.4 342.4,279.8 342.8,272.8 343.2,272.7 343.6,279.6 344.0,287.3 344.4,291.0 344.8,292.0 345.2,292.2 345.6,292.4 346.0,292.1 346.4,292.0 346.8,291.3 347.2,290.6 347.6,289.0 348.0,287.2 348.4,285.9 348.8,286.1 349.2,287.3 349.6,289.1 350.0,289.5 350.4,289.8 350.8,290.0 351.2,290.8 351.6,291.5 352.0,292.1 352.4,292.1 352.8,292.5 353.2,292.4 353.6,292.6 354.0,292.4 354.4,292.5 354.8,292.6 355.2,292.1 355.6,292.6 356.0,292.1 356.4,292.2 356.8,292.6 357.2,292.4 357.6,292.0 358.0,292.0 358.4,292.3 358.8,292.2 359.2,292.2 359.6,292.5 360.0,292.3 360.4,292.3 360.8,292.4 361.2,292.1 361.6,292.4 362.0,292.2 362.4,292.7 362.8,292.4 363.2,292.7 363.6,292.2 364.0,292.1 364.4,292.3 364.8,292.3 365.2,292.3 365.6,292.5 366.0,292.4 366.4,292.3 366.8,292.2 367.2,292.4 367.6,292.4 368.0,292.5 368.4,292.3 368.8,292.2 369.2,292.5 369.6,292.2 370.0,292.1 370.4,292.3 370.8,292.0 371.2,292.5 371.6,292.0 372.0,292.3 372.4,291.3 372.8,288.5 373.2,284.7 373.6,279.9 374.0,278.5 374.4,281.6 374.8,286.6 375.2,289.6 375.6,289.5 376.0,289.7 376.4,290.8 376.8,291.6 377.2,291.6 377.6,292.1 378.0,292.5 378.4,292.4 378.8,292.5 379.2,292.1 379.6,292.5 380.0,292.2 380.4,292.2 380.8,292.5 381.2,292.5 381.6,292.3 382.0,292.4 382.4,292.3 382.8,292.5 383.2,292.1 383.6,292.4 384.0,292.6 384.4,292.2 384.8,292.1 385.2,292.2 385.6,292.3 386.0,292.0 386.4,291.7 386.8,291.7 387.2,290.0 387.6,288.5 388.0,286.9 388.4,286.9 388.8,288.2 389.2,289.8 389.6,291.1 390.0,292.2 390.4,292.6 390.8,292.0 391.2,292.2 391.6,292.3 392.0,292.6 392.4,292.7 392.8,292.0 393.2,292.3 393.6,292.1 394.0,292.2 394.4,292.2 394.8,292.1 395.2,292.5 395.6,292.5 396.0,292.4 396.4,292.2 396.8,292.1 397.2,292.2 397.6,292.3 398.0,292.4 398.4,292.6 398.8,292.2 399.2,292.2 399.6,292.3 400.0,292.2 400.4,292.0 400.8,292.0 401.2,292.6 401.6,292.5 402.0,292.3 402.4,292.2 402.8,292.5 403.2,292.0 403.6,292.4 404.0,292.2 404.4,292.7 404.8,292.5 405.2,292.7 405.6,292.1 406.0,292.3 406.4,292.0 406.8,292.3 407.2,292.4 407.6,292.3 408.0,292.1 408.4,291.7 408.8,291.0 409.2,289.9 409.6,290.0 410.0,290.4 410.4,291.0 410.8,292.0 411.2,292.2 411.6,292.4 412.0,292.5 412.4,292.2 412.8,292.6 413.2,292.4 413.6,292.6 414.0,292.2 414.4,292.5 414.8,292.0 415.2,292.4 415.6,292.2 416.0,292.3 416.4,292.1 416.8,292.2 417.2,292.3 417.6,292.7 418.0,292.6 418.4,292.2 418.8,292.4 419.2,292.0 419.6,292.3 420.0,292.1 420.4,292.2 420.8,292.0 421.2,292.2 421.6,292.0 422.0,292.4 422.4,292.5 422.8,292.6 423.2,292.5 423.6,292.1 424.0,292.2 424.4,292.7 424.8,292.7 425.2,292.4 425.6,292.3 426.0,292.4 426.4,292.7 426.8,292.5 427.2,292.1 427.6,292.2 428.0,292.1 428.4,292.5 428.8,292.2 429.2,292.6 429.6,292.5 430.0,292.0 430.4,292.6 430.8,292.5 431.2,292.5 431.6,292.0 432.0,291.8 432.4,291.1 432.8,289.4 433.2,287.4 433.6,285.0 434.0,284.3 434.4,285.5 434.8,287.6 435.2,289.6 435.6,291.2 436.0,291.7 436.4,292.1 436.8,292.2 437.2,292.3 437.6,292.4 438.0,291.7 438.4,290.4 438.8,288.3 439.2,285.6 439.6,284.6 440.0,286.0 440.4,288.5 440.8,290.7 441.2,291.7 441.6,292.3 442.0,292.3 442.4,292.6 442.8,292.7 443.2,292.6 443.6,292.5 444.0,292.5 444.4,292.6 444.8,292.5 445.2,292.5 445.6,292.1 446.0,292.0 446.4,292.0 446.8,292.2 447.2,292.7 447.6,292.5 448.0,292.0 448.4,292.2 448.8,292.1 449.2,292.6 449.6,292.5 450.0,292.6 450.4,292.3 450.8,292.4 451.2,292.4 451.6,292.6 452.0,292.7 452.4,292.4 452.8,292.1 453.2,292.2 453.6,292.3 454.0,292.7 454.4,292.4 454.8,292.4 455.2,292.3 455.6,292.4 456.0,292.1 456.4,292.5 456.8,292.2 457.2,292.7 457.6,292.5 458.0,291.7 458.4,290.6 458.8,288.3 459.2,284.1 459.6,279.0 460.0,277.3 460.4,279.6 460.8,283.5 461.2,288.1 461.6,290.9 462.0,291.9 462.4,292.3 462.8,291.9 463.2,291.7 463.6,291.2 464.0,290.2 464.4,289.5 464.8,288.1 465.2,287.1 465.6,282.4 466.0,273.1 466.4,264.3 466.8,264.4 467.2,273.0 467.6,282.4 468.0,289.0 468.4,291.3 468.8,291.9 469.2,291.6 469.6,292.0 470.0,292.5 470.4,292.0 470.8,292.6 471.2,292.1 471.6,292.0 472.0,291.6 472.4,291.2 472.8,291.0 473.2,290.7 473.6,290.9 474.0,290.7 474.4,291.4 474.8,291.5 475.2,291.8 475.6,292.2 476.0,292.0 476.4,292.2 476.8,292.6 477.2,292.3 477.6,292.3 478.0,292.2 478.4,292.5 478.8,291.9 479.2,291.9 479.6,291.3 480.0,291.3 480.4,291.2 480.8,290.9 481.2,290.9 481.6,291.1 482.0,291.6 482.4,291.7 482.8,292.4 483.2,292.5 483.6,292.4 484.0,292.2 484.4,292.2 484.8,292.7 485.2,292.3 485.6,292.5 486.0,292.3 486.4,292.6 486.8,292.6 487.2,292.3 487.6,292.5 488.0,292.0 488.4,292.3 488.8,292.5 489.2,292.6 489.6,292.3 490.0,292.3 490.4,292.5 490.8,292.0 491.2,292.3 491.6,292.2 492.0,292.2 492.4,292.1 492.8,292.6 493.2,292.0 493.6,292.3 494.0,292.6 494.4,292.3 494.8,292.7 495.2,292.4 495.6,292.6 496.0,292.7 496.4,292.4 496.8,292.1 497.2,292.2 497.6,292.0 498.0,292.2 498.4,292.3 498.8,292.3 499.2,292.0 499.6,292.6 500.0,292.3 500.4,292.3 500.8,292.7 501.2,292.1 501.6,292.2 502.0,292.5 502.4,292.1 502.8,292.4 503.2,292.2 503.6,292.3 504.0,292.1 504.4,292.3 504.8,292.6 505.2,292.2 505.6,292.5 506.0,292.3 506.4,292.0 506.8,292.2 507.2,292.7 507.6,292.1 508.0,292.0 508.4,292.4 508.8,292.5 509.2,292.4 509.6,292.3 510.0,292.7 510.4,292.1 510.8,292.3 511.2,292.4 511.6,292.1 512.0,292.6 512.4,292.1 512.5,292.7" fill="#2b6074" stroke="#2b6074" stroke-width="0.3"/>
<polygon points="521.0,292.7 521.0,292.7 521.4,292.4 521.8,292.5 522.2,292.6 522.6,292.4 523.0,292.5 523.4,292.4 523.8,292.5 524.2,292.4 524.6,292.4 525.0,292.6 525.4,292.7 525.8,292.4 526.2,292.7 526.6,292.5 527.0,292.4 527.4,292.6 527.8,292.6 528.2,292.6 528.6,292.6 529.0,292.4 529.4,292.6 529.8,292.6 530.2,292.3 530.6,292.2 531.0,291.8 531.4,291.3 531.8,290.2 532.2,289.5 532.6,288.7 533.0,288.3 533.4,288.2 533.8,288.9 534.2,289.4 534.6,290.2 535.0,291.2 535.4,291.7 535.8,292.2 536.2,292.4 536.6,292.3 537.0,292.6 537.4,292.4 537.8,292.7 538.2,292.4 538.6,292.7 539.0,292.4 539.4,292.7 539.8,292.6 540.2,292.6 540.6,292.6 541.0,292.4 541.4,292.5 541.8,292.7 542.2,292.6 542.6,292.5 543.0,292.4 543.4,292.4 543.8,292.4 544.2,292.2 544.6,292.1 545.0,292.0 545.4,292.0 545.8,292.0 546.2,292.0 546.6,292.1 547.0,292.1 547.4,292.2 547.8,292.4 548.2,292.3 548.6,292.5 549.0,292.3 549.4,292.5 549.8,292.7 550.2,292.4 550.6,292.5 551.0,292.7 551.4,292.4 551.8,292.4 552.2,292.4 552.6,292.5 553.0,292.6 553.4,292.6 553.8,292.5 554.2,292.5 554.6,292.5 555.0,292.6 555.4,292.6 555.8,292.4 556.2,292.4 556.6,292.4 557.0,292.5 557.4,292.7 557.8,292.6 558.2,292.5 558.6,292.4 559.0,292.5 559.4,292.7 559.8,292.4 560.2,292.5 560.6,292.5 561.0,292.4 561.4,292.6 561.8,292.5 562.2,292.7 562.6,292.7 563.0,292.4 563.4,292.5 563.8,292.4 564.2,292.5 564.6,292.5 565.0,292.6 565.4,292.2 565.8,292.3 566.2,292.0 566.6,292.1 567.0,291.9 567.4,291.9 567.8,291.7 568.2,291.6 568.6,291.8 569.0,292.0 569.4,292.3 569.8,292.1 570.2,292.5 570.6,292.5 571.0,292.5 571.4,292.5 571.8,292.6 572.2,292.5 572.6,292.7 573.0,292.7 573.4,292.6 573.8,292.5 574.2,292.4 574.6,292.5 575.0,292.4 575.4,292.4 575.8,292.4 576.2,292.5 576.6,292.6 577.0,292.5 577.4,292.5 577.8,292.6 578.2,292.6 578.6,292.6 579.0,292.5 579.4,292.7 579.8,292.6 580.2,292.6 580.6,292.3 581.0,292.5 581.4,292.4 581.8,292.5 582.2,292.3 582.6,292.1 583.0,292.1 583.4,292.0 583.8,292.2 584.2,292.0 584.6,292.0 585.0,292.2 585.4,292.3 585.8,292.2 586.2,292.5 586.6,292.5 587.0,292.4 587.4,292.5 587.8,292.5 588.2,292.5 588.6,292.4 589.0,292.4 589.4,292.5 589.8,292.4 590.2,292.6 590.6,292.6 591.0,292.6 591.4,292.7 591.8,292.5 592.2,292.5 592.6,292.6 593.0,292.5 593.4,292.5 593.8,292.5 594.2,292.5 594.6,292.4 595.0,292.1 595.4,291.4 595.8,290.7 596.2,288.9 596.6,287.2 597.0,285.2 597.4,283.5 597.8,282.8 598.2,283.6 598.6,285.2 599.0,287.0 599.4,289.0 599.8,290.7 600.2,291.4 600.6,292.1 601.0,292.3 601.4,292.6 601.8,292.5 602.2,292.7 602.6,292.6 603.0,292.5 603.4,292.4 603.8,292.4 604.2,292.6 604.6,292.4 605.0,292.3 605.4,292.6 605.8,292.5 606.2,292.3 606.6,291.9 607.0,292.0 607.4,291.8 607.8,291.6 608.2,291.7 608.6,291.8 609.0,291.9 609.4,292.0 609.8,292.3 610.2,292.5 610.6,292.5 611.0,292.3 611.4,292.4 611.8,292.7 612.2,292.4 612.6,292.4 613.0,292.4 613.4,292.7 613.8,292.7 614.2,292.5 614.6,292.4 615.0,292.4 615.4,292.6 615.8,292.3 616.2,292.3 616.6,292.4 617.0,292.2 617.4,291.8 617.8,291.0 618.2,290.2 618.6,289.2 619.0,288.4 619.4,288.1 619.8,288.6 620.2,289.3 620.6,290.1 621.0,291.1 621.4,291.8 621.8,292.1 622.2,292.3 622.6,292.4 623.0,292.5 623.4,292.6 623.8,292.7 624.2,292.4 624.6,292.4 625.0,292.7 625.4,292.5 625.8,292.7 626.2,292.5 626.6,292.4 627.0,292.4 627.4,292.5 627.8,292.4 628.2,292.5 628.6,292.4 629.0,292.6 629.4,292.7 629.8,292.5 630.2,292.4 630.6,292.5 631.0,292.5 631.4,292.4 631.8,292.4 632.2,292.4 632.6,292.5 633.0,292.5 633.4,292.2 633.8,292.3 634.2,292.1 634.6,292.1 635.0,292.0 635.4,292.1 635.8,292.0 636.2,292.3 636.6,292.4 637.0,292.6 637.4,292.6 637.8,292.6 638.2,292.4 638.6,292.3 639.0,292.7 639.4,292.4 639.8,292.7 640.0,292.7" fill="#2b6074" stroke="#2b6074" stroke-width="0.3"/>
<line x1="335.6" y1="292.7" x2="515.6" y2="292.7" stroke="#2b5e72" stroke-width="1.0"/>
<line x1="521.6" y1="292.7" x2="640.2" y2="292.7" stroke="#2b5e72" stroke-width="1.0"/>
<rect x="515.6" y="291.7" width="6" height="2" fill="#fff"/>
<line x1="513.30" y1="296.50" x2="518.60" y2="289.90" stroke="#3a3a3a" stroke-width="0.75"/>
<line x1="518.60" y1="296.50" x2="523.90" y2="289.90" stroke="#3a3a3a" stroke-width="0.75"/>
<text x="654.8" y="297.5" font-size="9.7" fill="#467080" text-anchor="start" font-weight="normal" letter-spacing="0.25">5 min</text>
<polygon points="336.0,331.3 336.0,327.4 336.4,325.2 336.8,324.2 337.2,325.6 337.6,327.8 338.0,329.4 338.4,330.3 338.8,331.2 339.2,331.2 339.6,330.7 340.0,331.2 340.4,330.8 340.8,331.0 341.2,330.6 341.6,329.4 342.0,326.0 342.4,319.1 342.8,312.4 343.2,312.2 343.6,318.9 344.0,326.1 344.4,329.7 344.8,330.7 345.2,331.1 345.6,331.2 346.0,330.8 346.4,331.0 346.8,330.0 347.2,328.4 347.6,326.1 348.0,323.7 348.4,321.6 348.8,321.2 349.2,323.6 349.6,326.0 350.0,327.2 350.4,327.1 350.8,328.6 351.2,329.2 351.6,329.9 352.0,330.6 352.4,330.7 352.8,330.6 353.2,330.6 353.6,331.2 354.0,330.9 354.4,331.3 354.8,331.0 355.2,331.2 355.6,331.2 356.0,330.9 356.4,331.2 356.8,331.2 357.2,331.3 357.6,330.7 358.0,331.1 358.4,331.2 358.8,330.7 359.2,330.5 359.6,330.2 360.0,330.0 360.4,329.7 360.8,329.3 361.2,329.6 361.6,329.4 362.0,329.9 362.4,330.1 362.8,330.3 363.2,330.5 363.6,330.9 364.0,330.9 364.4,330.8 364.8,330.9 365.2,331.3 365.6,330.7 366.0,331.2 366.4,331.0 366.8,331.0 367.2,331.2 367.6,330.9 368.0,330.9 368.4,330.7 368.8,330.9 369.2,331.1 369.6,330.9 370.0,330.6 370.4,330.9 370.8,330.7 371.2,331.3 371.6,330.8 372.0,330.9 372.4,330.0 372.8,327.2 373.2,322.7 373.6,318.1 374.0,316.8 374.4,320.1 374.8,325.2 375.2,327.9 375.6,328.3 376.0,328.6 376.4,329.4 376.8,329.9 377.2,330.6 377.6,330.7 378.0,331.1 378.4,331.1 378.8,331.0 379.2,331.2 379.6,330.7 380.0,330.9 380.4,331.0 380.8,330.9 381.2,330.6 381.6,331.0 382.0,331.0 382.4,331.1 382.8,331.0 383.2,330.8 383.6,330.9 384.0,331.1 384.4,330.7 384.8,331.2 385.2,331.1 385.6,330.7 386.0,330.6 386.4,330.7 386.8,330.4 387.2,328.7 387.6,327.2 388.0,326.2 388.4,325.9 388.8,326.8 389.2,329.1 389.6,330.2 390.0,330.9 390.4,330.7 390.8,331.1 391.2,330.8 391.6,330.8 392.0,331.3 392.4,331.0 392.8,331.2 393.2,330.7 393.6,331.0 394.0,331.0 394.4,330.7 394.8,330.7 395.2,331.3 395.6,331.2 396.0,331.1 396.4,331.1 396.8,331.0 397.2,331.0 397.6,330.6 398.0,330.8 398.4,330.6 398.8,330.9 399.2,331.1 399.6,330.9 400.0,331.2 400.4,330.9 400.8,331.2 401.2,330.6 401.6,331.1 402.0,330.7 402.4,331.1 402.8,331.2 403.2,331.1 403.6,330.7 404.0,330.7 404.4,330.8 404.8,330.9 405.2,331.2 405.6,331.1 406.0,331.3 406.4,330.6 406.8,331.2 407.2,330.8 407.6,331.2 408.0,330.8 408.4,330.2 408.8,329.9 409.2,329.4 409.6,328.7 410.0,329.5 410.4,330.3 410.8,330.4 411.2,330.5 411.6,330.9 412.0,331.3 412.4,331.0 412.8,330.9 413.2,331.1 413.6,331.0 414.0,330.8 414.4,330.8 414.8,330.7 415.2,330.6 415.6,330.9 416.0,330.6 416.4,331.2 416.8,330.9 417.2,330.8 417.6,330.6 418.0,331.0 418.4,331.0 418.8,330.7 419.2,331.0 419.6,331.3 420.0,331.0 420.4,331.1 420.8,330.8 421.2,330.7 421.6,331.3 422.0,331.1 422.4,330.7 422.8,330.7 423.2,330.8 423.6,331.0 424.0,330.6 424.4,330.7 424.8,330.7 425.2,330.9 425.6,330.9 426.0,331.2 426.4,331.3 426.8,331.3 427.2,331.3 427.6,330.9 428.0,330.6 428.4,330.9 428.8,330.7 429.2,330.8 429.6,330.6 430.0,331.1 430.4,331.0 430.8,330.6 431.2,331.0 431.6,330.7 432.0,330.7 432.4,330.2 432.8,328.9 433.2,326.9 433.6,325.4 434.0,324.1 434.4,325.2 434.8,327.0 435.2,328.4 435.6,330.3 436.0,330.4 436.4,330.9 436.8,331.2 437.2,331.0 437.6,330.4 438.0,330.5 438.4,328.4 438.8,324.7 439.2,320.0 439.6,318.2 440.0,319.8 440.4,324.6 440.8,328.0 441.2,330.4 441.6,331.0 442.0,331.3 442.4,331.3 442.8,331.2 443.2,330.9 443.6,330.9 444.0,330.8 444.4,331.1 444.8,330.9 445.2,330.6 445.6,331.1 446.0,331.1 446.4,331.2 446.8,330.6 447.2,330.9 447.6,331.0 448.0,331.0 448.4,331.2 448.8,331.1 449.2,330.8 449.6,331.1 450.0,330.9 450.4,330.7 450.8,331.2 451.2,331.0 451.6,330.8 452.0,330.8 452.4,330.7 452.8,330.7 453.2,330.9 453.6,331.1 454.0,330.9 454.4,330.7 454.8,331.2 455.2,331.1 455.6,331.2 456.0,330.7 456.4,331.2 456.8,331.2 457.2,330.9 457.6,330.7 458.0,330.4 458.4,328.6 458.8,325.0 459.2,319.1 459.6,313.0 460.0,309.8 460.4,312.6 460.8,318.7 461.2,325.0 461.6,329.1 462.0,330.6 462.4,330.9 462.8,330.4 463.2,330.4 463.6,329.9 464.0,329.2 464.4,328.1 464.8,326.9 465.2,325.8 465.6,319.7 466.0,309.0 466.4,299.3 466.8,299.0 467.2,308.8 467.6,320.2 468.0,327.0 468.4,329.5 468.8,330.6 469.2,330.9 469.6,330.9 470.0,331.0 470.4,331.2 470.8,331.2 471.2,330.9 471.6,330.3 472.0,330.4 472.4,330.2 472.8,329.4 473.2,329.7 473.6,329.7 474.0,329.9 474.4,330.2 474.8,330.0 475.2,330.5 475.6,330.4 476.0,330.8 476.4,331.2 476.8,331.0 477.2,331.1 477.6,331.2 478.0,331.2 478.4,330.6 478.8,330.3 479.2,329.9 479.6,330.0 480.0,329.3 480.4,329.2 480.8,328.7 481.2,328.9 481.6,329.9 482.0,330.2 482.4,330.2 482.8,330.3 483.2,330.6 483.6,331.2 484.0,330.9 484.4,330.8 484.8,330.9 485.2,330.9 485.6,330.8 486.0,331.3 486.4,330.9 486.8,330.6 487.2,330.9 487.6,331.0 488.0,331.2 488.4,330.6 488.8,330.6 489.2,330.2 489.6,329.8 490.0,329.5 490.4,329.0 490.8,328.8 491.2,328.8 491.6,329.3 492.0,329.6 492.4,329.9 492.8,330.7 493.2,330.5 493.6,330.8 494.0,331.0 494.4,331.0 494.8,330.7 495.2,331.3 495.6,331.3 496.0,331.0 496.4,331.2 496.8,330.7 497.2,330.7 497.6,331.0 498.0,331.1 498.4,330.8 498.8,330.7 499.2,330.9 499.6,330.7 500.0,331.1 500.4,331.0 500.8,330.8 501.2,330.8 501.6,331.0 502.0,331.1 502.4,330.7 502.8,330.8 503.2,330.9 503.6,331.1 504.0,331.0 504.4,331.2 504.8,331.1 505.2,331.2 505.6,331.1 506.0,330.9 506.4,330.9 506.8,330.7 507.2,330.9 507.6,331.1 508.0,331.1 508.4,330.7 508.8,331.3 509.2,331.2 509.6,331.0 510.0,331.2 510.4,331.0 510.8,331.2 511.2,330.9 511.6,330.7 512.0,331.0 512.4,330.8 512.5,331.3" fill="#336e78" stroke="#336e78" stroke-width="0.3"/>
<polygon points="521.0,331.3 521.0,331.2 521.4,331.3 521.8,331.1 522.2,331.3 522.6,331.1 523.0,331.2 523.4,331.1 523.8,331.2 524.2,331.0 524.6,331.3 525.0,331.3 525.4,331.1 525.8,331.0 526.2,331.0 526.6,331.0 527.0,331.2 527.4,331.2 527.8,331.2 528.2,331.2 528.6,331.2 529.0,331.2 529.4,331.1 529.8,331.1 530.2,330.8 530.6,330.6 531.0,330.5 531.4,329.7 531.8,328.9 532.2,328.2 532.6,327.2 533.0,326.9 533.4,326.9 533.8,327.4 534.2,327.9 534.6,328.9 535.0,329.8 535.4,330.2 535.8,330.8 536.2,330.9 536.6,330.9 537.0,331.0 537.4,331.0 537.8,331.0 538.2,331.2 538.6,331.1 539.0,331.1 539.4,331.0 539.8,331.0 540.2,331.2 540.6,331.0 541.0,331.2 541.4,331.2 541.8,331.0 542.2,331.0 542.6,331.0 543.0,331.2 543.4,331.2 543.8,330.8 544.2,330.9 544.6,330.8 545.0,330.7 545.4,330.6 545.8,330.6 546.2,330.7 546.6,330.8 547.0,330.7 547.4,330.8 547.8,330.9 548.2,330.8 548.6,331.1 549.0,330.9 549.4,330.9 549.8,331.0 550.2,331.2 550.6,331.1 551.0,331.2 551.4,331.0 551.8,331.0 552.2,331.2 552.6,331.2 553.0,331.0 553.4,331.2 553.8,331.0 554.2,331.1 554.6,331.2 555.0,331.2 555.4,331.0 555.8,331.3 556.2,331.1 556.6,331.0 557.0,331.2 557.4,331.0 557.8,331.2 558.2,331.0 558.6,331.0 559.0,331.0 559.4,331.2 559.8,331.0 560.2,331.2 560.6,331.0 561.0,331.1 561.4,331.1 561.8,331.2 562.2,331.0 562.6,331.0 563.0,331.0 563.4,331.0 563.8,331.2 564.2,331.2 564.6,331.0 565.0,331.0 565.4,330.8 565.8,330.8 566.2,330.5 566.6,330.7 567.0,330.3 567.4,330.4 567.8,330.2 568.2,330.3 568.6,330.4 569.0,330.6 569.4,330.7 569.8,330.8 570.2,331.0 570.6,331.0 571.0,331.1 571.4,331.0 571.8,331.1 572.2,331.1 572.6,331.2 573.0,331.2 573.4,331.0 573.8,331.2 574.2,331.0 574.6,331.1 575.0,331.1 575.4,331.2 575.8,331.0 576.2,331.2 576.6,331.2 577.0,331.3 577.4,331.1 577.8,331.3 578.2,331.1 578.6,331.1 579.0,331.3 579.4,331.3 579.8,331.2 580.2,331.0 580.6,331.1 581.0,331.0 581.4,331.1 581.8,330.9 582.2,331.1 582.6,330.7 583.0,330.8 583.4,330.8 583.8,330.6 584.2,330.8 584.6,330.8 585.0,330.7 585.4,330.7 585.8,331.0 586.2,331.1 586.6,331.0 587.0,331.1 587.4,331.0 587.8,330.9 588.2,330.9 588.6,331.1 589.0,331.0 589.4,331.0 589.8,331.2 590.2,331.0 590.6,331.3 591.0,331.1 591.4,331.2 591.8,331.1 592.2,331.1 592.6,331.1 593.0,331.0 593.4,331.2 593.8,331.1 594.2,330.9 594.6,331.0 595.0,330.7 595.4,330.0 595.8,328.9 596.2,327.2 596.6,325.0 597.0,322.8 597.4,321.0 597.8,320.2 598.2,320.9 598.6,322.6 599.0,325.1 599.4,327.2 599.8,329.0 600.2,330.1 600.6,330.6 601.0,330.9 601.4,331.0 601.8,331.1 602.2,331.2 602.6,331.0 603.0,331.1 603.4,331.3 603.8,331.0 604.2,331.3 604.6,331.3 605.0,331.1 605.4,330.9 605.8,331.0 606.2,330.9 606.6,330.6 607.0,330.5 607.4,330.2 607.8,330.3 608.2,330.3 608.6,330.3 609.0,330.7 609.4,330.8 609.8,330.8 610.2,331.1 610.6,330.9 611.0,331.1 611.4,331.2 611.8,331.2 612.2,331.2 612.6,331.1 613.0,331.1 613.4,331.0 613.8,331.2 614.2,331.1 614.6,331.0 615.0,331.2 615.4,331.2 615.8,331.0 616.2,331.2 616.6,330.9 617.0,330.9 617.4,330.6 617.8,330.0 618.2,329.5 618.6,328.9 619.0,328.1 619.4,328.1 619.8,328.3 620.2,328.6 620.6,329.3 621.0,330.0 621.4,330.4 621.8,330.6 622.2,330.9 622.6,331.2 623.0,331.0 623.4,331.2 623.8,331.3 624.2,331.2 624.6,331.0 625.0,331.2 625.4,331.0 625.8,331.0 626.2,331.0 626.6,331.1 627.0,331.2 627.4,331.0 627.8,331.3 628.2,331.0 628.6,331.0 629.0,331.1 629.4,331.0 629.8,331.1 630.2,331.1 630.6,331.0 631.0,331.1 631.4,331.0 631.8,331.1 632.2,331.1 632.6,330.9 633.0,330.9 633.4,331.0 633.8,330.8 634.2,330.7 634.6,330.7 635.0,330.7 635.4,330.6 635.8,330.7 636.2,330.9 636.6,330.8 637.0,330.9 637.4,331.2 637.8,331.0 638.2,331.0 638.6,331.2 639.0,331.1 639.4,331.3 639.8,331.0 640.0,331.3" fill="#336e78" stroke="#336e78" stroke-width="0.3"/>
<line x1="335.6" y1="331.3" x2="515.6" y2="331.3" stroke="#316a74" stroke-width="1.0"/>
<line x1="521.6" y1="331.3" x2="640.2" y2="331.3" stroke="#316a74" stroke-width="1.0"/>
<rect x="515.6" y="330.3" width="6" height="2" fill="#fff"/>
<line x1="513.30" y1="335.10" x2="518.60" y2="328.50" stroke="#3a3a3a" stroke-width="0.75"/>
<line x1="518.60" y1="335.10" x2="523.90" y2="328.50" stroke="#3a3a3a" stroke-width="0.75"/>
<text x="654.8" y="335.90000000000003" font-size="9.7" fill="#4a7a86" text-anchor="start" font-weight="normal" letter-spacing="0.25">8 min</text>
<polygon points="336.0,371.2 336.0,366.7 336.4,364.3 336.8,362.7 337.2,363.9 337.6,367.1 338.0,369.0 338.4,370.5 338.8,371.0 339.2,370.9 339.6,370.7 340.0,371.1 340.4,370.7 340.8,370.9 341.2,370.9 341.6,369.6 342.0,365.8 342.4,358.4 342.8,351.2 343.2,351.2 343.6,358.6 344.0,365.4 344.4,369.4 344.8,370.3 345.2,370.6 345.6,370.8 346.0,371.0 346.4,370.2 346.8,369.5 347.2,368.3 347.6,366.1 348.0,362.6 348.4,360.5 348.8,360.4 349.2,362.5 349.6,365.5 350.0,366.7 350.4,367.3 350.8,368.1 351.2,369.2 351.6,369.8 352.0,370.4 352.4,370.5 352.8,370.8 353.2,370.8 353.6,370.5 354.0,370.6 354.4,370.5 354.8,370.7 355.2,371.1 355.6,370.9 356.0,371.0 356.4,371.0 356.8,371.1 357.2,371.1 357.6,370.9 358.0,370.6 358.4,370.5 358.8,370.4 359.2,370.4 359.6,370.6 360.0,370.1 360.4,369.9 360.8,369.1 361.2,369.5 361.6,369.4 362.0,369.9 362.4,370.2 362.8,370.3 363.2,370.6 363.6,371.1 364.0,370.7 364.4,370.9 364.8,370.5 365.2,371.0 365.6,371.0 366.0,370.6 366.4,370.9 366.8,371.1 367.2,370.6 367.6,370.6 368.0,370.9 368.4,371.1 368.8,370.6 369.2,371.0 369.6,371.0 370.0,371.2 370.4,370.6 370.8,371.0 371.2,371.1 371.6,370.9 372.0,370.4 372.4,369.3 372.8,367.2 373.2,362.3 373.6,357.9 374.0,356.3 374.4,359.8 374.8,364.8 375.2,367.8 375.6,367.8 376.0,368.3 376.4,369.4 376.8,370.0 377.2,370.2 377.6,370.5 378.0,370.7 378.4,371.1 378.8,370.7 379.2,370.6 379.6,370.6 380.0,370.7 380.4,370.7 380.8,371.0 381.2,370.9 381.6,371.1 382.0,370.7 382.4,371.0 382.8,370.6 383.2,371.0 383.6,371.0 384.0,371.1 384.4,371.0 384.8,370.7 385.2,370.6 385.6,370.5 386.0,371.1 386.4,370.4 386.8,369.8 387.2,368.6 387.6,366.3 388.0,365.1 388.4,365.4 388.8,366.4 389.2,368.5 389.6,369.9 390.0,370.5 390.4,370.8 390.8,371.2 391.2,370.6 391.6,371.0 392.0,370.9 392.4,371.1 392.8,370.8 393.2,371.2 393.6,371.2 394.0,371.1 394.4,370.6 394.8,370.7 395.2,370.7 395.6,371.1 396.0,370.9 396.4,370.7 396.8,370.7 397.2,370.9 397.6,371.1 398.0,370.9 398.4,370.5 398.8,370.6 399.2,370.8 399.6,371.0 400.0,370.8 400.4,370.8 400.8,370.9 401.2,370.6 401.6,370.8 402.0,371.1 402.4,370.7 402.8,370.7 403.2,371.1 403.6,370.8 404.0,370.5 404.4,370.7 404.8,370.7 405.2,370.9 405.6,370.9 406.0,370.5 406.4,371.0 406.8,370.9 407.2,371.1 407.6,370.8 408.0,370.5 408.4,370.0 408.8,369.2 409.2,369.2 409.6,369.1 410.0,369.3 410.4,370.0 410.8,370.1 411.2,370.9 411.6,370.8 412.0,370.5 412.4,370.9 412.8,370.9 413.2,370.9 413.6,371.0 414.0,371.0 414.4,370.6 414.8,371.2 415.2,371.2 415.6,370.6 416.0,370.7 416.4,370.9 416.8,370.9 417.2,370.9 417.6,371.0 418.0,370.9 418.4,371.0 418.8,370.8 419.2,371.0 419.6,370.8 420.0,371.2 420.4,370.5 420.8,371.2 421.2,370.9 421.6,370.9 422.0,371.1 422.4,370.5 422.8,370.9 423.2,371.1 423.6,371.0 424.0,371.1 424.4,370.8 424.8,370.5 425.2,370.5 425.6,371.0 426.0,370.7 426.4,370.8 426.8,370.7 427.2,371.1 427.6,371.2 428.0,371.1 428.4,370.6 428.8,371.2 429.2,371.2 429.6,370.9 430.0,371.2 430.4,371.1 430.8,370.5 431.2,371.0 431.6,370.5 432.0,370.2 432.4,369.6 432.8,368.0 433.2,365.8 433.6,363.5 434.0,362.4 434.4,363.3 434.8,365.6 435.2,368.0 435.6,369.3 436.0,370.4 436.4,370.8 436.8,370.8 437.2,370.6 437.6,370.6 438.0,369.8 438.4,367.5 438.8,363.4 439.2,357.9 439.6,355.9 440.0,358.1 440.4,363.3 440.8,367.8 441.2,370.2 441.6,370.4 442.0,370.9 442.4,370.9 442.8,371.1 443.2,370.6 443.6,370.6 444.0,371.1 444.4,370.9 444.8,371.0 445.2,371.1 445.6,370.6 446.0,370.8 446.4,370.6 446.8,370.7 447.2,371.0 447.6,370.7 448.0,371.1 448.4,370.8 448.8,370.8 449.2,371.1 449.6,371.0 450.0,370.8 450.4,371.1 450.8,371.1 451.2,370.8 451.6,370.5 452.0,370.8 452.4,370.5 452.8,370.9 453.2,371.1 453.6,371.1 454.0,370.9 454.4,370.6 454.8,370.6 455.2,370.5 455.6,370.8 456.0,370.7 456.4,370.8 456.8,371.1 457.2,370.8 457.6,370.9 458.0,370.0 458.4,368.5 458.8,365.2 459.2,359.2 459.6,352.8 460.0,350.2 460.4,352.8 460.8,358.6 461.2,364.7 461.6,368.7 462.0,370.0 462.4,370.9 462.8,370.1 463.2,370.1 463.6,369.5 464.0,369.0 464.4,368.2 464.8,366.8 465.2,365.7 465.6,359.7 466.0,348.4 466.4,339.0 466.8,339.6 467.2,348.5 467.6,360.1 468.0,366.8 468.4,369.6 468.8,370.5 469.2,370.6 469.6,370.4 470.0,370.5 470.4,370.5 470.8,370.8 471.2,370.6 471.6,370.4 472.0,370.3 472.4,369.8 472.8,369.9 473.2,369.6 473.6,369.3 474.0,369.3 474.4,369.5 474.8,370.5 475.2,370.1 475.6,370.8 476.0,370.9 476.4,370.7 476.8,370.5 477.2,371.0 477.6,370.9 478.0,370.5 478.4,370.4 478.8,370.5 479.2,370.3 479.6,369.5 480.0,369.5 480.4,369.0 480.8,369.2 481.2,369.3 481.6,369.5 482.0,369.9 482.4,370.1 482.8,370.5 483.2,370.9 483.6,370.9 484.0,371.0 484.4,371.1 484.8,371.1 485.2,370.5 485.6,370.6 486.0,370.6 486.4,370.7 486.8,371.0 487.2,370.7 487.6,370.8 488.0,370.6 488.4,370.7 488.8,370.5 489.2,370.7 489.6,369.8 490.0,369.4 490.4,369.1 490.8,369.1 491.2,368.8 491.6,369.2 492.0,369.8 492.4,369.8 492.8,370.3 493.2,370.4 493.6,370.4 494.0,370.9 494.4,370.8 494.8,371.1 495.2,370.7 495.6,370.6 496.0,370.9 496.4,371.2 496.8,370.7 497.2,370.9 497.6,371.1 498.0,370.7 498.4,370.9 498.8,370.8 499.2,370.8 499.6,370.9 500.0,370.7 500.4,371.0 500.8,371.0 501.2,370.9 501.6,370.6 502.0,371.0 502.4,371.1 502.8,371.0 503.2,371.0 503.6,371.1 504.0,370.9 504.4,370.8 504.8,370.5 505.2,371.1 505.6,371.0 506.0,371.1 506.4,370.9 506.8,370.6 507.2,371.1 507.6,370.8 508.0,370.9 508.4,370.6 508.8,370.8 509.2,370.5 509.6,370.6 510.0,370.6 510.4,370.7 510.8,371.1 511.2,371.1 511.6,370.5 512.0,371.1 512.4,371.2 512.5,371.2" fill="#37767c" stroke="#37767c" stroke-width="0.3"/>
<polygon points="521.0,371.2 521.0,371.0 521.4,370.9 521.8,371.0 522.2,371.0 522.6,370.9 523.0,371.1 523.4,370.9 523.8,371.0 524.2,371.2 524.6,370.9 525.0,371.1 525.4,370.9 525.8,371.0 526.2,371.1 526.6,370.9 527.0,371.1 527.4,370.9 527.8,371.2 528.2,371.1 528.6,371.0 529.0,371.1 529.4,371.1 529.8,371.1 530.2,370.8 530.6,370.6 531.0,370.4 531.4,369.8 531.8,369.2 532.2,368.4 532.6,367.7 533.0,367.5 533.4,367.5 533.8,367.9 534.2,368.4 534.6,369.0 535.0,369.7 535.4,370.4 535.8,370.8 536.2,370.7 536.6,371.1 537.0,370.9 537.4,371.1 537.8,371.0 538.2,370.9 538.6,370.9 539.0,371.1 539.4,371.1 539.8,370.9 540.2,371.0 540.6,371.2 541.0,371.1 541.4,371.1 541.8,370.9 542.2,371.0 542.6,371.1 543.0,371.0 543.4,370.8 543.8,370.8 544.2,370.8 544.6,370.7 545.0,370.7 545.4,370.5 545.8,370.6 546.2,370.7 546.6,370.7 547.0,370.7 547.4,370.8 547.8,370.9 548.2,370.9 548.6,370.8 549.0,371.1 549.4,371.1 549.8,371.1 550.2,371.1 550.6,370.9 551.0,370.9 551.4,370.9 551.8,371.2 552.2,371.0 552.6,370.9 553.0,371.1 553.4,371.1 553.8,371.0 554.2,371.1 554.6,371.1 555.0,371.0 555.4,370.9 555.8,370.9 556.2,370.9 556.6,370.9 557.0,371.1 557.4,371.0 557.8,371.1 558.2,371.0 558.6,371.1 559.0,370.9 559.4,371.0 559.8,371.0 560.2,371.1 560.6,371.0 561.0,371.0 561.4,371.2 561.8,370.9 562.2,371.0 562.6,371.1 563.0,370.9 563.4,371.2 563.8,370.9 564.2,371.0 564.6,370.8 565.0,371.1 565.4,370.7 565.8,370.7 566.2,370.5 566.6,370.5 567.0,370.4 567.4,370.2 567.8,370.3 568.2,370.1 568.6,370.4 569.0,370.4 569.4,370.6 569.8,370.9 570.2,370.9 570.6,371.1 571.0,371.1 571.4,371.2 571.8,370.8 572.2,371.0 572.6,371.1 573.0,371.0 573.4,371.1 573.8,371.2 574.2,371.2 574.6,371.2 575.0,371.1 575.4,371.1 575.8,371.0 576.2,371.1 576.6,370.9 577.0,371.0 577.4,370.9 577.8,371.0 578.2,371.0 578.6,370.9 579.0,371.2 579.4,370.9 579.8,370.9 580.2,371.2 580.6,371.2 581.0,371.0 581.4,371.0 581.8,370.8 582.2,370.9 582.6,370.7 583.0,370.7 583.4,370.7 583.8,370.7 584.2,370.6 584.6,370.8 585.0,370.7 585.4,370.9 585.8,370.8 586.2,370.8 586.6,370.9 587.0,370.9 587.4,370.9 587.8,371.2 588.2,371.0 588.6,371.0 589.0,371.0 589.4,371.0 589.8,370.9 590.2,370.9 590.6,370.9 591.0,371.2 591.4,371.1 591.8,371.1 592.2,370.9 592.6,371.0 593.0,371.2 593.4,370.9 593.8,371.2 594.2,371.0 594.6,371.0 595.0,370.7 595.4,369.8 595.8,368.6 596.2,367.2 596.6,365.0 597.0,362.5 597.4,360.7 597.8,360.1 598.2,360.8 598.6,362.7 599.0,365.1 599.4,367.2 599.8,368.8 600.2,370.1 600.6,370.5 601.0,371.0 601.4,370.8 601.8,370.9 602.2,370.9 602.6,371.1 603.0,370.9 603.4,370.9 603.8,371.0 604.2,371.0 604.6,371.0 605.0,370.9 605.4,371.1 605.8,370.8 606.2,370.9 606.6,370.7 607.0,370.7 607.4,370.3 607.8,370.3 608.2,370.3 608.6,370.3 609.0,370.5 609.4,370.7 609.8,370.7 610.2,371.0 610.6,371.0 611.0,371.0 611.4,371.1 611.8,370.9 612.2,370.9 612.6,370.9 613.0,371.1 613.4,370.9 613.8,370.9 614.2,371.0 614.6,370.9 615.0,371.1 615.4,370.9 615.8,371.1 616.2,370.9 616.6,371.0 617.0,370.9 617.4,370.4 617.8,369.8 618.2,369.4 618.6,368.6 619.0,368.3 619.4,367.9 619.8,368.3 620.2,368.7 620.6,369.4 621.0,369.9 621.4,370.6 621.8,370.6 622.2,371.0 622.6,370.9 623.0,371.0 623.4,370.9 623.8,370.9 624.2,370.9 624.6,370.9 625.0,371.2 625.4,371.2 625.8,371.1 626.2,371.1 626.6,371.2 627.0,371.2 627.4,371.1 627.8,371.1 628.2,371.1 628.6,370.9 629.0,370.9 629.4,371.0 629.8,371.1 630.2,370.9 630.6,371.0 631.0,370.9 631.4,371.1 631.8,371.1 632.2,370.9 632.6,371.0 633.0,370.9 633.4,370.6 633.8,370.6 634.2,370.7 634.6,370.5 635.0,370.4 635.4,370.7 635.8,370.6 636.2,370.7 636.6,370.8 637.0,370.7 637.4,371.1 637.8,370.9 638.2,371.2 638.6,371.0 639.0,371.1 639.4,371.1 639.8,371.1 640.0,371.2" fill="#37767c" stroke="#37767c" stroke-width="0.3"/>
<line x1="335.6" y1="371.2" x2="515.6" y2="371.2" stroke="#357276" stroke-width="1.0"/>
<line x1="521.6" y1="371.2" x2="640.2" y2="371.2" stroke="#357276" stroke-width="1.0"/>
<rect x="515.6" y="370.2" width="6" height="2" fill="#fff"/>
<line x1="513.30" y1="375.00" x2="518.60" y2="368.40" stroke="#3a3a3a" stroke-width="0.75"/>
<line x1="518.60" y1="375.00" x2="523.90" y2="368.40" stroke="#3a3a3a" stroke-width="0.75"/>
<text x="651.2" y="375.20000000000005" font-size="9.7" fill="#4e848a" text-anchor="start" font-weight="normal" letter-spacing="0.25">10 min</text>
<polygon points="336.0,410.6 336.0,406.8 336.4,404.4 336.8,404.0 337.2,404.4 337.6,406.8 338.0,409.2 338.4,409.6 338.8,410.0 339.2,410.5 339.6,409.9 340.0,410.3 340.4,410.3 340.8,410.1 341.2,410.0 341.6,409.1 342.0,406.8 342.4,401.5 342.8,396.8 343.2,396.7 343.6,401.5 344.0,406.9 344.4,409.4 344.8,409.9 345.2,410.5 345.6,410.3 346.0,410.6 346.4,410.0 346.8,410.2 347.2,409.4 347.6,407.3 348.0,404.6 348.4,401.2 348.8,398.7 349.2,398.8 349.6,401.2 350.0,404.8 350.4,406.5 350.8,406.7 351.2,407.5 351.6,408.5 352.0,409.0 352.4,410.0 352.8,410.4 353.2,410.4 353.6,410.5 354.0,410.0 354.4,409.9 354.8,410.1 355.2,409.9 355.6,410.2 356.0,410.3 356.4,410.3 356.8,410.1 357.2,410.4 357.6,410.2 358.0,410.3 358.4,410.1 358.8,409.8 359.2,409.8 359.6,409.9 360.0,409.2 360.4,408.8 360.8,408.8 361.2,409.1 361.6,409.3 362.0,409.3 362.4,409.5 362.8,409.9 363.2,409.9 363.6,410.1 364.0,410.0 364.4,410.4 364.8,410.0 365.2,410.1 365.6,410.5 366.0,410.4 366.4,410.4 366.8,410.0 367.2,410.2 367.6,410.6 368.0,410.1 368.4,410.4 368.8,410.0 369.2,410.4 369.6,410.5 370.0,410.4 370.4,410.3 370.8,410.3 371.2,410.2 371.6,410.5 372.0,410.2 372.4,409.5 372.8,406.5 373.2,402.7 373.6,398.6 374.0,397.6 374.4,400.3 374.8,405.3 375.2,408.5 375.6,407.4 376.0,407.2 376.4,407.4 376.8,408.0 377.2,409.1 377.6,409.4 378.0,409.8 378.4,409.9 378.8,410.2 379.2,410.1 379.6,410.6 380.0,410.5 380.4,410.2 380.8,410.2 381.2,410.2 381.6,410.3 382.0,410.6 382.4,410.4 382.8,410.5 383.2,410.1 383.6,410.4 384.0,410.1 384.4,410.2 384.8,410.3 385.2,410.2 385.6,410.0 386.0,410.3 386.4,410.2 386.8,408.8 387.2,407.7 387.6,405.2 388.0,403.9 388.4,403.9 388.8,405.2 389.2,407.8 389.6,408.8 390.0,410.0 390.4,410.0 390.8,409.9 391.2,410.0 391.6,410.4 392.0,409.9 392.4,410.2 392.8,410.4 393.2,410.3 393.6,410.5 394.0,410.2 394.4,410.3 394.8,410.2 395.2,410.0 395.6,410.3 396.0,410.6 396.4,410.2 396.8,410.5 397.2,410.2 397.6,410.2 398.0,410.3 398.4,410.1 398.8,410.5 399.2,410.3 399.6,410.5 400.0,410.4 400.4,410.5 400.8,410.4 401.2,410.0 401.6,409.9 402.0,410.2 402.4,410.1 402.8,410.6 403.2,410.4 403.6,410.1 404.0,410.0 404.4,410.5 404.8,409.7 405.2,409.3 405.6,409.1 406.0,407.9 406.4,407.0 406.8,407.6 407.2,408.5 407.6,409.2 408.0,409.8 408.4,409.9 408.8,410.3 409.2,410.0 409.6,409.9 410.0,408.9 410.4,408.4 410.8,408.0 411.2,408.6 411.6,408.9 412.0,409.0 412.4,409.7 412.8,409.7 413.2,410.0 413.6,410.5 414.0,410.5 414.4,410.1 414.8,410.4 415.2,410.3 415.6,410.2 416.0,410.6 416.4,410.5 416.8,410.3 417.2,410.6 417.6,410.4 418.0,410.3 418.4,410.5 418.8,410.5 419.2,410.1 419.6,410.1 420.0,410.3 420.4,410.3 420.8,410.0 421.2,410.3 421.6,410.5 422.0,410.2 422.4,410.3 422.8,410.2 423.2,410.4 423.6,410.2 424.0,410.6 424.4,410.1 424.8,410.0 425.2,410.1 425.6,410.0 426.0,409.9 426.4,410.3 426.8,410.3 427.2,410.1 427.6,410.4 428.0,410.4 428.4,410.2 428.8,410.6 429.2,409.9 429.6,409.9 430.0,410.2 430.4,410.2 430.8,410.4 431.2,410.3 431.6,410.5 432.0,410.1 432.4,409.8 432.8,408.8 433.2,407.3 433.6,406.0 434.0,406.0 434.4,406.5 434.8,407.4 435.2,408.4 435.6,409.5 436.0,410.0 436.4,409.9 436.8,410.4 437.2,410.6 437.6,410.1 438.0,409.4 438.4,407.8 438.8,403.7 439.2,399.3 439.6,397.0 440.0,399.5 440.4,404.1 440.8,407.8 441.2,409.7 441.6,410.2 442.0,410.1 442.4,410.4 442.8,409.9 443.2,410.5 443.6,410.0 444.0,410.4 444.4,410.0 444.8,410.4 445.2,410.2 445.6,410.4 446.0,410.1 446.4,410.2 446.8,410.1 447.2,410.3 447.6,410.5 448.0,410.4 448.4,410.0 448.8,410.2 449.2,410.5 449.6,410.5 450.0,410.2 450.4,410.0 450.8,410.1 451.2,410.1 451.6,410.6 452.0,410.3 452.4,410.4 452.8,410.4 453.2,409.9 453.6,410.0 454.0,410.4 454.4,409.9 454.8,410.5 455.2,410.0 455.6,410.3 456.0,410.3 456.4,409.9 456.8,410.0 457.2,410.1 457.6,410.0 458.0,409.5 458.4,407.7 458.8,403.9 459.2,397.7 459.6,390.8 460.0,388.0 460.4,391.1 460.8,397.9 461.2,403.8 461.6,408.0 462.0,409.6 462.4,410.3 462.8,409.9 463.2,409.3 463.6,408.9 464.0,408.1 464.4,407.2 464.8,406.5 465.2,405.6 465.6,400.2 466.0,389.3 466.4,380.3 466.8,380.3 467.2,389.2 467.6,399.7 468.0,406.9 468.4,409.3 468.8,409.4 469.2,410.1 469.6,410.0 470.0,409.9 470.4,410.5 470.8,410.0 471.2,410.2 471.6,409.9 472.0,409.8 472.4,409.2 472.8,408.9 473.2,408.5 473.6,408.6 474.0,408.7 474.4,409.0 474.8,409.6 475.2,409.8 475.6,410.0 476.0,410.4 476.4,410.5 476.8,410.4 477.2,410.3 477.6,410.5 478.0,410.1 478.4,410.3 478.8,410.0 479.2,409.4 479.6,409.1 480.0,409.1 480.4,408.8 480.8,409.1 481.2,409.2 481.6,409.2 482.0,409.9 482.4,409.7 482.8,410.3 483.2,410.4 483.6,410.0 484.0,410.5 484.4,410.1 484.8,410.6 485.2,410.3 485.6,410.3 486.0,410.4 486.4,410.4 486.8,410.0 487.2,410.4 487.6,410.4 488.0,410.3 488.4,410.2 488.8,410.1 489.2,409.8 489.6,409.4 490.0,409.2 490.4,408.5 490.8,408.2 491.2,408.1 491.6,408.7 492.0,409.2 492.4,409.5 492.8,409.6 493.2,410.1 493.6,410.3 494.0,410.2 494.4,410.5 494.8,410.4 495.2,409.9 495.6,410.3 496.0,410.1 496.4,410.5 496.8,410.5 497.2,409.9 497.6,410.5 498.0,410.1 498.4,410.5 498.8,410.2 499.2,410.3 499.6,410.5 500.0,410.3 500.4,409.9 500.8,410.2 501.2,410.1 501.6,410.6 502.0,410.0 502.4,410.3 502.8,410.2 503.2,410.3 503.6,410.5 504.0,410.4 504.4,410.1 504.8,409.9 505.2,410.1 505.6,409.9 506.0,410.2 506.4,410.4 506.8,410.2 507.2,410.5 507.6,410.6 508.0,410.6 508.4,410.2 508.8,410.0 509.2,410.2 509.6,410.2 510.0,410.2 510.4,410.6 510.8,410.1 511.2,410.0 511.6,410.6 512.0,410.0 512.4,410.2 512.5,410.6" fill="#3c7f80" stroke="#3c7f80" stroke-width="0.3"/>
<polygon points="521.0,410.6 521.0,410.6 521.4,410.5 521.8,410.3 522.2,410.3 522.6,410.3 523.0,410.3 523.4,410.5 523.8,410.5 524.2,410.4 524.6,410.4 525.0,410.5 525.4,410.3 525.8,410.5 526.2,410.4 526.6,410.4 527.0,410.5 527.4,410.5 527.8,410.4 528.2,410.4 528.6,410.5 529.0,410.3 529.4,410.5 529.8,410.4 530.2,410.5 530.6,410.0 531.0,409.9 531.4,409.6 531.8,409.2 532.2,408.8 532.6,408.5 533.0,408.0 533.4,407.9 533.8,408.1 534.2,408.9 534.6,409.4 535.0,409.8 535.4,410.1 535.8,410.1 536.2,410.3 536.6,410.3 537.0,410.4 537.4,410.5 537.8,410.3 538.2,410.3 538.6,410.6 539.0,410.6 539.4,410.6 539.8,410.5 540.2,410.4 540.6,410.4 541.0,410.5 541.4,410.5 541.8,410.4 542.2,410.2 542.6,410.2 543.0,410.5 543.4,410.5 543.8,410.5 544.2,410.2 544.6,410.2 545.0,410.0 545.4,410.1 545.8,409.9 546.2,409.9 546.6,410.1 547.0,410.0 547.4,410.1 547.8,410.4 548.2,410.2 548.6,410.3 549.0,410.3 549.4,410.4 549.8,410.4 550.2,410.3 550.6,410.4 551.0,410.6 551.4,410.5 551.8,410.4 552.2,410.5 552.6,410.4 553.0,410.5 553.4,410.3 553.8,410.4 554.2,410.5 554.6,410.5 555.0,410.5 555.4,410.4 555.8,410.5 556.2,410.5 556.6,410.5 557.0,410.5 557.4,410.3 557.8,410.5 558.2,410.3 558.6,410.5 559.0,410.5 559.4,410.6 559.8,410.4 560.2,410.3 560.6,410.4 561.0,410.6 561.4,410.4 561.8,410.6 562.2,410.6 562.6,410.5 563.0,410.4 563.4,410.5 563.8,410.3 564.2,410.4 564.6,410.5 565.0,410.5 565.4,410.2 565.8,410.2 566.2,410.0 566.6,410.1 567.0,409.8 567.4,409.7 567.8,409.8 568.2,409.7 568.6,409.9 569.0,410.1 569.4,410.0 569.8,410.2 570.2,410.2 570.6,410.2 571.0,410.2 571.4,410.4 571.8,410.4 572.2,410.3 572.6,410.3 573.0,410.5 573.4,410.3 573.8,410.3 574.2,410.4 574.6,410.5 575.0,410.3 575.4,410.4 575.8,410.4 576.2,410.4 576.6,410.3 577.0,410.4 577.4,410.3 577.8,410.5 578.2,410.6 578.6,410.5 579.0,410.6 579.4,410.3 579.8,410.5 580.2,410.6 580.6,410.3 581.0,410.3 581.4,410.5 581.8,410.4 582.2,410.1 582.6,410.0 583.0,410.0 583.4,410.0 583.8,410.0 584.2,410.1 584.6,409.9 585.0,409.9 585.4,410.1 585.8,410.4 586.2,410.2 586.6,410.3 587.0,410.3 587.4,410.5 587.8,410.6 588.2,410.3 588.6,410.5 589.0,410.3 589.4,410.4 589.8,410.4 590.2,410.3 590.6,410.3 591.0,410.6 591.4,410.6 591.8,410.4 592.2,410.5 592.6,410.4 593.0,410.3 593.4,410.4 593.8,410.5 594.2,410.3 594.6,410.2 595.0,410.1 595.4,409.7 595.8,408.8 596.2,407.7 596.6,406.1 597.0,404.5 597.4,403.3 597.8,402.6 598.2,403.2 598.6,404.4 599.0,406.1 599.4,407.7 599.8,408.7 600.2,409.7 600.6,410.1 601.0,410.4 601.4,410.3 601.8,410.5 602.2,410.4 602.6,410.5 603.0,410.4 603.4,410.4 603.8,410.6 604.2,410.3 604.6,410.2 605.0,410.3 605.4,410.3 605.8,410.2 606.2,410.3 606.6,410.1 607.0,410.2 607.4,410.0 607.8,409.9 608.2,409.8 608.6,410.0 609.0,410.2 609.4,410.1 609.8,410.2 610.2,410.3 610.6,410.6 611.0,410.2 611.4,410.3 611.8,410.6 612.2,410.3 612.6,410.6 613.0,410.4 613.4,410.5 613.8,410.3 614.2,410.4 614.6,410.3 615.0,410.4 615.4,410.4 615.8,410.5 616.2,410.6 616.6,410.5 617.0,410.2 617.4,410.0 617.8,410.0 618.2,409.9 618.6,409.5 619.0,409.3 619.4,409.2 619.8,409.3 620.2,409.4 620.6,409.6 621.0,410.0 621.4,410.1 621.8,410.1 622.2,410.5 622.6,410.5 623.0,410.5 623.4,410.5 623.8,410.6 624.2,410.3 624.6,410.3 625.0,410.6 625.4,410.6 625.8,410.4 626.2,410.4 626.6,410.6 627.0,410.5 627.4,410.6 627.8,410.5 628.2,410.5 628.6,410.5 629.0,410.5 629.4,410.4 629.8,410.4 630.2,410.3 630.6,410.4 631.0,410.5 631.4,410.4 631.8,410.5 632.2,410.4 632.6,410.5 633.0,410.3 633.4,410.1 633.8,410.0 634.2,410.2 634.6,410.0 635.0,409.8 635.4,410.0 635.8,409.9 636.2,410.1 636.6,410.2 637.0,410.3 637.4,410.4 637.8,410.3 638.2,410.4 638.6,410.5 639.0,410.4 639.4,410.5 639.8,410.4 640.0,410.6" fill="#3c7f80" stroke="#3c7f80" stroke-width="0.3"/>
<line x1="335.6" y1="410.6" x2="515.6" y2="410.6" stroke="#3a7a7a" stroke-width="1.0"/>
<line x1="521.6" y1="410.6" x2="640.2" y2="410.6" stroke="#3a7a7a" stroke-width="1.0"/>
<rect x="515.6" y="409.6" width="6" height="2" fill="#fff"/>
<line x1="513.30" y1="414.40" x2="518.60" y2="407.80" stroke="#3a3a3a" stroke-width="0.75"/>
<line x1="518.60" y1="414.40" x2="523.90" y2="407.80" stroke="#3a3a3a" stroke-width="0.75"/>
<text x="651.2" y="414.6" font-size="9.7" fill="#54908e" text-anchor="start" font-weight="normal" letter-spacing="0.25">15 min</text>
<polygon points="336.0,453.5 336.0,451.6 336.4,450.2 336.8,449.4 337.2,450.2 337.6,451.5 338.0,452.6 338.4,453.2 338.8,452.8 339.2,453.0 339.6,453.3 340.0,453.1 340.4,453.0 340.8,452.8 341.2,453.1 341.6,452.2 342.0,449.3 342.4,443.1 342.8,437.2 343.2,437.4 343.6,443.4 344.0,449.1 344.4,452.4 344.8,453.2 345.2,453.1 345.6,453.4 346.0,453.3 346.4,453.3 346.8,452.9 347.2,451.7 347.6,449.1 348.0,442.9 348.4,436.0 348.8,432.8 349.2,436.1 349.6,442.8 350.0,445.2 350.4,445.3 350.8,447.1 351.2,449.7 351.6,451.9 352.0,452.9 352.4,453.0 352.8,453.1 353.2,452.9 353.6,452.9 354.0,452.9 354.4,452.8 354.8,453.0 355.2,453.0 355.6,452.9 356.0,453.2 356.4,452.9 356.8,452.9 357.2,453.1 357.6,453.3 358.0,453.2 358.4,453.1 358.8,453.1 359.2,453.1 359.6,453.1 360.0,452.4 360.4,451.7 360.8,450.3 361.2,449.1 361.6,449.5 362.0,450.0 362.4,451.0 362.8,452.2 363.2,452.8 363.6,453.2 364.0,453.2 364.4,452.9 364.8,453.0 365.2,452.9 365.6,452.9 366.0,452.9 366.4,452.9 366.8,452.9 367.2,452.9 367.6,452.8 368.0,453.2 368.4,453.2 368.8,453.2 369.2,453.0 369.6,452.8 370.0,453.0 370.4,453.2 370.8,453.4 371.2,453.4 371.6,453.4 372.0,453.2 372.4,452.5 372.8,450.2 373.2,446.7 373.6,442.6 374.0,442.2 374.4,444.8 374.8,448.2 375.2,451.1 375.6,452.7 376.0,453.0 376.4,453.3 376.8,453.2 377.2,453.1 377.6,452.9 378.0,451.6 378.4,450.7 378.8,450.0 379.2,450.5 379.6,450.9 380.0,452.2 380.4,452.5 380.8,453.3 381.2,453.0 381.6,453.4 382.0,452.8 382.4,452.9 382.8,453.2 383.2,452.9 383.6,453.0 384.0,453.4 384.4,452.9 384.8,452.9 385.2,453.3 385.6,453.0 386.0,453.2 386.4,453.1 386.8,451.9 387.2,450.4 387.6,447.6 388.0,445.9 388.4,446.2 388.8,447.8 389.2,450.4 389.6,452.0 390.0,452.7 390.4,452.8 390.8,452.8 391.2,453.1 391.6,453.2 392.0,452.9 392.4,453.1 392.8,452.9 393.2,453.3 393.6,452.9 394.0,453.4 394.4,453.2 394.8,453.3 395.2,453.2 395.6,453.1 396.0,452.8 396.4,453.5 396.8,453.1 397.2,453.3 397.6,452.9 398.0,452.8 398.4,452.4 398.8,452.0 399.2,451.7 399.6,451.5 400.0,451.0 400.4,451.4 400.8,452.0 401.2,452.6 401.6,452.5 402.0,453.0 402.4,453.3 402.8,453.3 403.2,453.4 403.6,453.5 404.0,453.0 404.4,453.1 404.8,452.8 405.2,451.5 405.6,448.7 406.0,444.6 406.4,441.9 406.8,443.2 407.2,446.6 407.6,449.9 408.0,452.0 408.4,452.9 408.8,453.2 409.2,453.2 409.6,453.2 410.0,452.8 410.4,452.5 410.8,452.0 411.2,451.5 411.6,450.8 412.0,451.1 412.4,452.3 412.8,452.5 413.2,453.1 413.6,453.1 414.0,453.0 414.4,453.3 414.8,453.2 415.2,453.4 415.6,453.1 416.0,453.4 416.4,453.3 416.8,453.2 417.2,453.3 417.6,453.2 418.0,453.0 418.4,453.2 418.8,452.9 419.2,453.4 419.6,453.0 420.0,452.9 420.4,452.8 420.8,453.0 421.2,453.3 421.6,453.0 422.0,453.1 422.4,453.2 422.8,453.0 423.2,453.4 423.6,453.4 424.0,453.2 424.4,452.5 424.8,453.0 425.2,452.6 425.6,452.0 426.0,451.7 426.4,451.8 426.8,451.7 427.2,451.4 427.6,451.9 428.0,452.2 428.4,452.3 428.8,452.3 429.2,452.8 429.6,452.8 430.0,452.9 430.4,452.1 430.8,451.6 431.2,451.3 431.6,451.5 432.0,450.8 432.4,451.0 432.8,451.7 433.2,452.0 433.6,452.6 434.0,452.7 434.4,452.7 434.8,453.3 435.2,453.0 435.6,452.9 436.0,453.5 436.4,453.4 436.8,453.0 437.2,452.9 437.6,453.2 438.0,452.3 438.4,451.0 438.8,448.5 439.2,444.6 439.6,443.4 440.0,444.9 440.4,448.0 440.8,451.4 441.2,452.3 441.6,453.1 442.0,453.1 442.4,453.3 442.8,453.1 443.2,453.3 443.6,453.1 444.0,453.2 444.4,453.1 444.8,453.5 445.2,453.0 445.6,453.3 446.0,452.9 446.4,453.2 446.8,453.0 447.2,453.2 447.6,453.4 448.0,452.8 448.4,453.0 448.8,452.8 449.2,453.0 449.6,453.2 450.0,453.2 450.4,452.9 450.8,452.9 451.2,453.0 451.6,453.4 452.0,453.3 452.4,453.2 452.8,453.5 453.2,453.4 453.6,453.2 454.0,453.4 454.4,453.3 454.8,453.1 455.2,453.0 455.6,453.3 456.0,452.9 456.4,453.5 456.8,453.5 457.2,453.3 457.6,452.8 458.0,452.7 458.4,450.6 458.8,446.9 459.2,439.9 459.6,433.2 460.0,430.4 460.4,432.9 460.8,439.8 461.2,446.5 461.6,450.8 462.0,452.4 462.4,453.1 462.8,452.6 463.2,452.5 463.6,451.9 464.0,451.1 464.4,449.9 464.8,449.1 465.2,448.2 465.6,442.2 466.0,431.9 466.4,422.8 466.8,422.7 467.2,431.9 467.6,442.2 468.0,449.4 468.4,451.7 468.8,452.8 469.2,452.8 469.6,452.8 470.0,453.4 470.4,452.9 470.8,452.8 471.2,452.9 471.6,453.4 472.0,453.2 472.4,453.1 472.8,453.2 473.2,452.9 473.6,453.3 474.0,453.4 474.4,452.8 474.8,453.1 475.2,453.0 475.6,453.1 476.0,453.1 476.4,453.4 476.8,453.4 477.2,453.4 477.6,453.2 478.0,453.5 478.4,452.9 478.8,453.4 479.2,452.9 479.6,453.0 480.0,453.4 480.4,453.3 480.8,453.1 481.2,452.8 481.6,453.2 482.0,453.3 482.4,453.4 482.8,452.9 483.2,453.4 483.6,453.5 484.0,453.0 484.4,453.0 484.8,453.4 485.2,453.1 485.6,453.5 486.0,453.2 486.4,453.5 486.8,453.1 487.2,453.2 487.6,453.1 488.0,452.9 488.4,453.2 488.8,453.3 489.2,453.4 489.6,453.0 490.0,452.8 490.4,452.3 490.8,451.8 491.2,450.9 491.6,450.0 492.0,449.6 492.4,450.2 492.8,451.0 493.2,451.5 493.6,452.7 494.0,453.1 494.4,453.1 494.8,453.1 495.2,453.3 495.6,452.9 496.0,453.4 496.4,453.2 496.8,452.8 497.2,453.4 497.6,453.5 498.0,452.9 498.4,453.0 498.8,453.4 499.2,453.4 499.6,453.4 500.0,453.1 500.4,453.4 500.8,452.9 501.2,453.3 501.6,453.1 502.0,453.0 502.4,453.3 502.8,453.5 503.2,453.4 503.6,453.2 504.0,452.9 504.4,453.1 504.8,453.3 505.2,453.1 505.6,453.0 506.0,453.3 506.4,452.9 506.8,452.9 507.2,453.1 507.6,453.4 508.0,452.9 508.4,453.3 508.8,453.1 509.2,453.0 509.6,453.3 510.0,453.4 510.4,453.2 510.8,453.4 511.2,452.9 511.6,453.0 512.0,453.1 512.4,453.3 512.5,453.5" fill="#458e88" stroke="#458e88" stroke-width="0.3"/>
<polygon points="521.0,453.5 521.0,453.3 521.4,453.3 521.8,453.2 522.2,453.4 522.6,453.4 523.0,453.3 523.4,453.4 523.8,453.3 524.2,453.2 524.6,453.5 525.0,453.4 525.4,453.4 525.8,453.4 526.2,453.2 526.6,453.4 527.0,453.4 527.4,453.4 527.8,453.4 528.2,453.5 528.6,453.5 529.0,453.2 529.4,453.2 529.8,453.3 530.2,453.1 530.6,453.0 531.0,453.0 531.4,452.6 531.8,452.4 532.2,452.0 532.6,451.6 533.0,451.4 533.4,451.3 533.8,451.6 534.2,452.0 534.6,452.2 535.0,452.7 535.4,452.9 535.8,453.0 536.2,453.1 536.6,453.4 537.0,453.4 537.4,453.2 537.8,453.4 538.2,453.3 538.6,453.4 539.0,453.2 539.4,453.3 539.8,453.4 540.2,453.2 540.6,453.5 541.0,453.4 541.4,453.3 541.8,453.4 542.2,453.2 542.6,453.1 543.0,453.3 543.4,453.2 543.8,453.0 544.2,453.1 544.6,453.0 545.0,453.0 545.4,452.8 545.8,452.8 546.2,453.1 546.6,453.1 547.0,453.2 547.4,453.2 547.8,453.2 548.2,453.2 548.6,453.3 549.0,453.3 549.4,453.2 549.8,453.5 550.2,453.4 550.6,453.2 551.0,453.1 551.4,453.5 551.8,453.4 552.2,453.3 552.6,453.3 553.0,453.4 553.4,453.2 553.8,453.3 554.2,453.4 554.6,453.4 555.0,453.5 555.4,453.4 555.8,453.2 556.2,453.2 556.6,453.4 557.0,453.3 557.4,453.5 557.8,453.2 558.2,453.4 558.6,453.3 559.0,453.2 559.4,453.3 559.8,453.2 560.2,453.4 560.6,453.5 561.0,453.5 561.4,453.5 561.8,453.4 562.2,453.4 562.6,453.5 563.0,453.5 563.4,453.5 563.8,453.2 564.2,453.2 564.6,453.1 565.0,453.1 565.4,453.1 565.8,453.2 566.2,453.0 566.6,452.9 567.0,453.0 567.4,452.7 567.8,452.8 568.2,452.9 568.6,453.1 569.0,452.9 569.4,453.0 569.8,453.2 570.2,453.3 570.6,453.1 571.0,453.3 571.4,453.2 571.8,453.3 572.2,453.5 572.6,453.4 573.0,453.2 573.4,453.4 573.8,453.5 574.2,453.3 574.6,453.4 575.0,453.4 575.4,453.4 575.8,453.5 576.2,453.4 576.6,453.5 577.0,453.5 577.4,453.5 577.8,453.4 578.2,453.5 578.6,453.3 579.0,453.3 579.4,453.5 579.8,453.3 580.2,453.3 580.6,453.2 581.0,453.4 581.4,453.4 581.8,453.3 582.2,453.1 582.6,453.0 583.0,452.9 583.4,453.0 583.8,453.1 584.2,452.9 584.6,453.0 585.0,452.9 585.4,453.0 585.8,453.2 586.2,453.1 586.6,453.1 587.0,453.2 587.4,453.3 587.8,453.2 588.2,453.2 588.6,453.2 589.0,453.3 589.4,453.4 589.8,453.3 590.2,453.3 590.6,453.2 591.0,453.4 591.4,453.4 591.8,453.4 592.2,453.4 592.6,453.2 593.0,453.2 593.4,453.3 593.8,453.3 594.2,453.5 594.6,453.3 595.0,453.1 595.4,452.8 595.8,452.3 596.2,451.6 596.6,450.5 597.0,449.5 597.4,448.8 597.8,448.3 598.2,448.6 598.6,449.3 599.0,450.6 599.4,451.4 599.8,452.1 600.2,452.9 600.6,453.0 601.0,453.4 601.4,453.5 601.8,453.3 602.2,453.4 602.6,453.3 603.0,453.2 603.4,453.2 603.8,453.2 604.2,453.4 604.6,453.3 605.0,453.4 605.4,453.3 605.8,453.4 606.2,453.3 606.6,453.0 607.0,452.9 607.4,452.9 607.8,453.1 608.2,452.9 608.6,453.0 609.0,453.0 609.4,453.0 609.8,453.3 610.2,453.2 610.6,453.3 611.0,453.2 611.4,453.4 611.8,453.2 612.2,453.4 612.6,453.2 613.0,453.5 613.4,453.5 613.8,453.4 614.2,453.3 614.6,453.3 615.0,453.3 615.4,453.4 615.8,453.4 616.2,453.4 616.6,453.4 617.0,453.1 617.4,453.2 617.8,452.9 618.2,453.1 618.6,453.0 619.0,452.7 619.4,452.6 619.8,452.6 620.2,453.0 620.6,453.1 621.0,453.2 621.4,453.1 621.8,453.3 622.2,453.4 622.6,453.5 623.0,453.3 623.4,453.2 623.8,453.2 624.2,453.3 624.6,453.2 625.0,453.5 625.4,453.2 625.8,453.2 626.2,453.4 626.6,453.5 627.0,453.3 627.4,453.2 627.8,453.5 628.2,453.3 628.6,453.3 629.0,453.4 629.4,453.5 629.8,453.4 630.2,453.4 630.6,453.4 631.0,453.3 631.4,453.2 631.8,453.2 632.2,453.5 632.6,453.2 633.0,453.1 633.4,453.2 633.8,453.1 634.2,453.0 634.6,452.9 635.0,452.7 635.4,453.0 635.8,452.8 636.2,453.0 636.6,453.1 637.0,453.1 637.4,453.2 637.8,453.4 638.2,453.4 638.6,453.3 639.0,453.5 639.4,453.4 639.8,453.4 640.0,453.5" fill="#458e88" stroke="#458e88" stroke-width="0.3"/>
<line x1="335.6" y1="453.5" x2="515.6" y2="453.5" stroke="#3e827e" stroke-width="1.0"/>
<line x1="521.6" y1="453.5" x2="640.2" y2="453.5" stroke="#3e827e" stroke-width="1.0"/>
<rect x="515.6" y="452.5" width="6" height="2" fill="#fff"/>
<line x1="513.30" y1="457.30" x2="518.60" y2="450.70" stroke="#3a3a3a" stroke-width="0.75"/>
<line x1="518.60" y1="457.30" x2="523.90" y2="450.70" stroke="#3a3a3a" stroke-width="0.75"/>
<text x="651.2" y="457.6" font-size="9.7" fill="#5c9ea2" text-anchor="start" font-weight="normal" letter-spacing="0.25">30 min</text>
<polygon points="336.0,494.4 336.0,491.7 336.4,489.4 336.8,488.5 337.2,489.7 337.6,491.6 338.0,493.2 338.4,494.0 338.8,494.2 339.2,494.2 339.6,493.8 340.0,494.3 340.4,494.3 340.8,493.7 341.2,493.5 341.6,492.9 342.0,488.9 342.4,481.0 342.8,474.3 343.2,474.1 343.6,481.2 344.0,488.7 344.4,493.0 344.8,493.7 345.2,493.8 345.6,494.1 346.0,494.2 346.4,493.9 346.8,493.4 347.2,492.3 347.6,489.4 348.0,482.2 348.4,474.3 348.8,470.1 349.2,473.9 349.6,482.4 350.0,486.0 350.4,486.1 350.8,488.5 351.2,490.8 351.6,492.3 352.0,493.8 352.4,494.0 352.8,493.9 353.2,494.2 353.6,493.9 354.0,494.3 354.4,494.0 354.8,494.0 355.2,494.4 355.6,493.8 356.0,493.8 356.4,493.8 356.8,494.3 357.2,494.0 357.6,494.3 358.0,493.9 358.4,494.0 358.8,493.8 359.2,494.2 359.6,494.0 360.0,493.5 360.4,491.5 360.8,489.7 361.2,488.2 361.6,487.3 362.0,488.8 362.4,490.9 362.8,492.4 363.2,493.4 363.6,493.9 364.0,494.2 364.4,494.1 364.8,494.1 365.2,494.3 365.6,494.3 366.0,494.0 366.4,493.7 366.8,494.0 367.2,494.1 367.6,494.4 368.0,493.8 368.4,494.2 368.8,494.2 369.2,493.9 369.6,493.8 370.0,494.3 370.4,494.4 370.8,494.2 371.2,493.7 371.6,494.0 372.0,494.1 372.4,492.8 372.8,490.6 373.2,486.7 373.6,482.6 374.0,481.3 374.4,483.8 374.8,488.8 375.2,491.7 375.6,493.6 376.0,494.1 376.4,494.3 376.8,493.9 377.2,494.1 377.6,493.2 378.0,492.7 378.4,492.2 378.8,491.1 379.2,491.2 379.6,491.8 380.0,492.7 380.4,493.8 380.8,493.9 381.2,493.9 381.6,494.3 382.0,493.8 382.4,493.9 382.8,494.3 383.2,494.3 383.6,494.1 384.0,494.0 384.4,494.0 384.8,494.3 385.2,494.0 385.6,494.0 386.0,494.2 386.4,493.6 386.8,492.6 387.2,490.6 387.6,488.6 388.0,486.7 388.4,486.3 388.8,488.0 389.2,490.8 389.6,492.4 390.0,493.7 390.4,494.2 390.8,493.9 391.2,494.2 391.6,493.8 392.0,493.9 392.4,494.4 392.8,494.2 393.2,493.8 393.6,494.4 394.0,494.2 394.4,494.4 394.8,493.9 395.2,493.7 395.6,493.9 396.0,493.8 396.4,494.3 396.8,493.8 397.2,493.7 397.6,493.7 398.0,494.0 398.4,493.6 398.8,492.5 399.2,491.9 399.6,491.4 400.0,491.2 400.4,491.7 400.8,491.8 401.2,492.7 401.6,493.7 402.0,494.1 402.4,493.6 402.8,493.7 403.2,494.4 403.6,494.3 404.0,493.8 404.4,494.0 404.8,493.1 405.2,491.6 405.6,487.6 406.0,481.7 406.4,478.6 406.8,479.4 407.2,484.6 407.6,490.1 408.0,492.4 408.4,493.4 408.8,494.3 409.2,493.9 409.6,493.8 410.0,493.7 410.4,492.9 410.8,492.3 411.2,491.9 411.6,491.8 412.0,492.4 412.4,492.7 412.8,493.1 413.2,493.8 413.6,493.7 414.0,494.1 414.4,493.8 414.8,494.1 415.2,494.0 415.6,494.1 416.0,494.3 416.4,494.1 416.8,493.9 417.2,494.0 417.6,493.7 418.0,493.8 418.4,494.3 418.8,494.1 419.2,494.1 419.6,494.4 420.0,493.7 420.4,493.9 420.8,494.1 421.2,493.9 421.6,493.8 422.0,493.7 422.4,493.4 422.8,493.5 423.2,493.3 423.6,493.0 424.0,493.0 424.4,493.0 424.8,492.4 425.2,492.4 425.6,493.0 426.0,493.0 426.4,493.3 426.8,493.6 427.2,493.4 427.6,493.8 428.0,494.0 428.4,493.8 428.8,493.7 429.2,493.9 429.6,493.6 430.0,493.6 430.4,493.4 430.8,493.1 431.2,492.9 431.6,492.8 432.0,492.9 432.4,492.3 432.8,492.8 433.2,493.1 433.6,493.2 434.0,493.1 434.4,493.9 434.8,493.5 435.2,494.0 435.6,494.3 436.0,493.7 436.4,494.2 436.8,493.7 437.2,494.3 437.6,494.2 438.0,493.6 438.4,493.2 438.8,491.2 439.2,489.7 439.6,488.4 440.0,489.7 440.4,491.3 440.8,493.1 441.2,493.8 441.6,494.0 442.0,494.2 442.4,494.0 442.8,494.2 443.2,494.0 443.6,494.3 444.0,494.2 444.4,494.2 444.8,494.1 445.2,493.7 445.6,493.7 446.0,494.1 446.4,493.9 446.8,493.8 447.2,493.8 447.6,494.0 448.0,494.3 448.4,493.9 448.8,494.1 449.2,494.3 449.6,494.3 450.0,493.9 450.4,494.2 450.8,494.2 451.2,494.1 451.6,494.2 452.0,494.0 452.4,494.2 452.8,494.3 453.2,493.9 453.6,494.3 454.0,493.8 454.4,493.7 454.8,494.3 455.2,494.0 455.6,493.8 456.0,494.3 456.4,493.7 456.8,494.1 457.2,494.3 457.6,494.3 458.0,493.6 458.4,492.2 458.8,488.7 459.2,483.2 459.6,477.4 460.0,475.0 460.4,477.7 460.8,483.6 461.2,488.5 461.6,492.2 462.0,493.2 462.4,494.2 462.8,494.2 463.2,493.8 463.6,493.9 464.0,494.3 464.4,493.8 464.8,493.4 465.2,492.1 465.6,488.8 466.0,484.0 466.4,479.5 466.8,479.3 467.2,483.7 467.6,489.3 468.0,492.5 468.4,493.7 468.8,494.2 469.2,494.2 469.6,494.3 470.0,493.8 470.4,494.2 470.8,493.7 471.2,493.8 471.6,494.2 472.0,494.3 472.4,493.8 472.8,494.1 473.2,493.9 473.6,493.9 474.0,494.0 474.4,493.9 474.8,494.0 475.2,494.0 475.6,494.3 476.0,493.8 476.4,493.9 476.8,494.3 477.2,494.1 477.6,494.3 478.0,494.0 478.4,494.2 478.8,494.2 479.2,494.3 479.6,493.9 480.0,494.1 480.4,494.4 480.8,494.0 481.2,493.7 481.6,494.1 482.0,493.7 482.4,494.0 482.8,493.9 483.2,494.2 483.6,494.3 484.0,493.9 484.4,494.2 484.8,494.0 485.2,494.4 485.6,493.8 486.0,494.1 486.4,493.7 486.8,493.8 487.2,493.8 487.6,493.7 488.0,494.4 488.4,493.9 488.8,494.2 489.2,493.7 489.6,493.7 490.0,493.9 490.4,493.6 490.8,493.4 491.2,492.9 491.6,492.3 492.0,492.2 492.4,492.1 492.8,492.4 493.2,493.1 493.6,494.0 494.0,493.7 494.4,494.1 494.8,494.2 495.2,494.3 495.6,494.3 496.0,493.7 496.4,494.1 496.8,493.8 497.2,494.4 497.6,493.8 498.0,493.9 498.4,493.8 498.8,493.9 499.2,493.8 499.6,494.2 500.0,493.8 500.4,493.7 500.8,494.2 501.2,494.1 501.6,493.9 502.0,493.7 502.4,493.9 502.8,494.3 503.2,494.4 503.6,494.1 504.0,494.1 504.4,493.9 504.8,494.0 505.2,494.0 505.6,494.2 506.0,494.3 506.4,494.1 506.8,494.1 507.2,494.0 507.6,493.9 508.0,494.0 508.4,493.9 508.8,494.1 509.2,494.0 509.6,494.2 510.0,493.9 510.4,493.8 510.8,494.2 511.2,494.0 511.6,494.1 512.0,493.9 512.4,494.3 512.5,494.4" fill="#52a696" stroke="#52a696" stroke-width="0.3"/>
<polygon points="521.0,494.4 521.0,494.3 521.4,494.1 521.8,494.4 522.2,494.1 522.6,494.3 523.0,494.2 523.4,494.1 523.8,494.3 524.2,494.2 524.6,494.1 525.0,494.2 525.4,494.3 525.8,494.3 526.2,494.1 526.6,494.3 527.0,494.1 527.4,494.2 527.8,494.3 528.2,494.3 528.6,494.3 529.0,494.2 529.4,494.3 529.8,494.2 530.2,494.2 530.6,494.2 531.0,493.9 531.4,493.8 531.8,493.5 532.2,493.2 532.6,493.1 533.0,493.0 533.4,493.0 533.8,493.3 534.2,493.3 534.6,493.5 535.0,493.8 535.4,493.9 535.8,494.0 536.2,494.1 536.6,494.0 537.0,494.1 537.4,494.4 537.8,494.1 538.2,494.2 538.6,494.2 539.0,494.3 539.4,494.1 539.8,494.3 540.2,494.2 540.6,494.2 541.0,494.2 541.4,494.4 541.8,494.4 542.2,494.2 542.6,494.1 543.0,494.3 543.4,494.1 543.8,494.2 544.2,494.0 544.6,494.0 545.0,494.0 545.4,493.7 545.8,493.8 546.2,494.0 546.6,493.9 547.0,494.0 547.4,493.9 547.8,493.9 548.2,494.1 548.6,494.2 549.0,494.3 549.4,494.0 549.8,494.3 550.2,494.2 550.6,494.1 551.0,494.4 551.4,494.3 551.8,494.1 552.2,494.1 552.6,494.2 553.0,494.4 553.4,494.3 553.8,494.3 554.2,494.2 554.6,494.1 555.0,494.2 555.4,494.1 555.8,494.1 556.2,494.2 556.6,494.2 557.0,494.1 557.4,494.3 557.8,494.3 558.2,494.3 558.6,494.2 559.0,494.1 559.4,494.3 559.8,494.4 560.2,494.3 560.6,494.4 561.0,494.1 561.4,494.4 561.8,494.4 562.2,494.3 562.6,494.2 563.0,494.2 563.4,494.1 563.8,494.3 564.2,494.1 564.6,494.1 565.0,494.1 565.4,494.2 565.8,494.0 566.2,494.2 566.6,494.0 567.0,493.9 567.4,493.9 567.8,494.0 568.2,493.9 568.6,493.9 569.0,494.0 569.4,494.0 569.8,494.1 570.2,494.2 570.6,494.3 571.0,494.0 571.4,494.3 571.8,494.3 572.2,494.1 572.6,494.2 573.0,494.4 573.4,494.3 573.8,494.3 574.2,494.4 574.6,494.2 575.0,494.2 575.4,494.2 575.8,494.2 576.2,494.4 576.6,494.1 577.0,494.3 577.4,494.1 577.8,494.2 578.2,494.1 578.6,494.2 579.0,494.1 579.4,494.1 579.8,494.2 580.2,494.3 580.6,494.3 581.0,494.0 581.4,494.1 581.8,494.1 582.2,494.0 582.6,494.0 583.0,494.0 583.4,493.7 583.8,493.9 584.2,493.9 584.6,493.7 585.0,493.8 585.4,493.9 585.8,493.9 586.2,494.1 586.6,494.2 587.0,494.2 587.4,494.0 587.8,494.4 588.2,494.3 588.6,494.1 589.0,494.3 589.4,494.2 589.8,494.3 590.2,494.3 590.6,494.3 591.0,494.3 591.4,494.2 591.8,494.1 592.2,494.2 592.6,494.1 593.0,494.2 593.4,494.2 593.8,494.4 594.2,494.2 594.6,494.0 595.0,494.2 595.4,494.0 595.8,493.5 596.2,493.2 596.6,492.6 597.0,492.0 597.4,491.3 597.8,491.4 598.2,491.5 598.6,492.0 599.0,492.6 599.4,493.0 599.8,493.6 600.2,493.9 600.6,494.0 601.0,494.1 601.4,494.2 601.8,494.2 602.2,494.1 602.6,494.3 603.0,494.1 603.4,494.4 603.8,494.2 604.2,494.2 604.6,494.2 605.0,494.3 605.4,494.2 605.8,494.1 606.2,494.1 606.6,494.2 607.0,493.9 607.4,493.9 607.8,494.0 608.2,494.0 608.6,494.1 609.0,494.0 609.4,494.2 609.8,494.2 610.2,494.1 610.6,494.1 611.0,494.2 611.4,494.0 611.8,494.1 612.2,494.4 612.6,494.1 613.0,494.3 613.4,494.3 613.8,494.2 614.2,494.2 614.6,494.4 615.0,494.2 615.4,494.2 615.8,494.4 616.2,494.2 616.6,494.1 617.0,494.3 617.4,494.3 617.8,494.2 618.2,494.1 618.6,494.1 619.0,493.9 619.4,494.1 619.8,493.9 620.2,494.2 620.6,494.0 621.0,493.9 621.4,494.2 621.8,494.1 622.2,494.3 622.6,494.4 623.0,494.3 623.4,494.2 623.8,494.3 624.2,494.3 624.6,494.4 625.0,494.1 625.4,494.2 625.8,494.3 626.2,494.2 626.6,494.3 627.0,494.3 627.4,494.3 627.8,494.1 628.2,494.4 628.6,494.3 629.0,494.2 629.4,494.2 629.8,494.4 630.2,494.1 630.6,494.2 631.0,494.1 631.4,494.2 631.8,494.1 632.2,494.0 632.6,494.2 633.0,494.2 633.4,493.9 633.8,493.7 634.2,493.7 634.6,493.6 635.0,493.6 635.4,493.7 635.8,493.7 636.2,493.8 636.6,494.0 637.0,493.9 637.4,494.2 637.8,494.0 638.2,494.3 638.6,494.4 639.0,494.3 639.4,494.3 639.8,494.3 640.0,494.4" fill="#52a696" stroke="#52a696" stroke-width="0.3"/>
<line x1="335.6" y1="494.4" x2="515.6" y2="494.4" stroke="#468a82" stroke-width="1.0"/>
<line x1="521.6" y1="494.4" x2="640.2" y2="494.4" stroke="#468a82" stroke-width="1.0"/>
<rect x="515.6" y="493.4" width="6" height="2" fill="#fff"/>
<line x1="513.30" y1="498.20" x2="518.60" y2="491.60" stroke="#3a3a3a" stroke-width="0.75"/>
<line x1="518.60" y1="498.20" x2="523.90" y2="491.60" stroke="#3a3a3a" stroke-width="0.75"/>
<text x="651.2" y="498.40000000000003" font-size="9.7" fill="#6cb2ae" text-anchor="start" font-weight="normal" letter-spacing="0.25">45 min</text>
<polygon points="336.0,533.5 336.0,507.9 336.4,504.8 336.8,512.8 337.2,524.1 337.6,525.3 338.0,526.2 338.4,528.4 338.8,530.4 339.2,531.8 339.6,532.7 340.0,533.2 340.4,533.0 340.8,533.4 341.2,532.7 341.6,531.2 342.0,526.1 342.4,516.0 342.8,506.6 343.2,506.5 343.6,515.9 344.0,526.1 344.4,527.2 344.8,527.8 345.2,528.7 345.6,530.2 346.0,531.6 346.4,532.5 346.8,533.0 347.2,532.3 347.6,530.6 348.0,527.8 348.4,524.3 348.8,523.3 349.2,524.6 349.6,527.6 350.0,530.2 350.4,530.1 350.8,530.3 351.2,530.9 351.6,531.8 352.0,532.4 352.4,532.8 352.8,532.9 353.2,533.0 353.6,532.4 354.0,531.9 354.4,531.5 354.8,531.1 355.2,531.1 355.6,531.6 356.0,532.0 356.4,532.3 356.8,532.1 357.2,531.8 357.6,531.4 358.0,531.2 358.4,531.4 358.8,531.7 359.2,532.0 359.6,532.7 360.0,532.8 360.4,532.6 360.8,531.8 361.2,531.3 361.6,530.9 362.0,530.8 362.4,531.1 362.8,531.5 363.2,532.1 363.6,532.3 364.0,532.8 364.4,532.4 364.8,532.0 365.2,531.9 365.6,531.6 366.0,531.1 366.4,531.4 366.8,531.6 367.2,532.2 367.6,532.8 368.0,532.7 368.4,533.0 368.8,533.0 369.2,533.1 369.6,533.0 370.0,533.1 370.4,533.5 370.8,533.5 371.2,533.5 371.6,533.1 372.0,533.1 372.4,532.8 372.8,532.6 373.2,531.8 373.6,530.8 374.0,530.7 374.4,531.4 374.8,532.2 375.2,532.5 375.6,532.9 376.0,533.4 376.4,533.0 376.8,533.4 377.2,533.3 377.6,533.2 378.0,533.1 378.4,533.1 378.8,533.5 379.2,533.4 379.6,533.4 380.0,533.5 380.4,533.2 380.8,533.4 381.2,533.3 381.6,533.2 382.0,533.1 382.4,533.2 382.8,533.2 383.2,533.2 383.6,533.4 384.0,533.4 384.4,533.0 384.8,533.4 385.2,533.0 385.6,533.5 386.0,533.3 386.4,533.1 386.8,533.0 387.2,532.2 387.6,531.7 388.0,531.1 388.4,531.2 388.8,531.6 389.2,532.6 389.6,533.0 390.0,533.3 390.4,533.3 390.8,533.4 391.2,533.4 391.6,533.2 392.0,533.0 392.4,533.2 392.8,533.2 393.2,533.0 393.6,533.2 394.0,533.2 394.4,533.2 394.8,533.2 395.2,533.4 395.6,533.5 396.0,533.1 396.4,533.3 396.8,533.1 397.2,533.5 397.6,533.2 398.0,533.0 398.4,533.5 398.8,533.0 399.2,533.3 399.6,533.2 400.0,533.2 400.4,533.2 400.8,533.3 401.2,533.0 401.6,533.4 402.0,533.5 402.4,533.5 402.8,533.0 403.2,533.4 403.6,533.3 404.0,533.2 404.4,533.2 404.8,533.3 405.2,533.1 405.6,533.2 406.0,533.4 406.4,533.1 406.8,533.1 407.2,533.1 407.6,533.1 408.0,533.5 408.4,533.5 408.8,533.1 409.2,533.4 409.6,533.0 410.0,533.0 410.4,533.0 410.8,532.8 411.2,532.4 411.6,530.5 412.0,528.7 412.4,526.5 412.8,525.6 413.2,526.9 413.6,528.7 414.0,530.7 414.4,530.4 414.8,530.1 415.2,530.8 415.6,531.5 416.0,532.0 416.4,532.6 416.8,533.2 417.2,533.1 417.6,533.1 418.0,533.1 418.4,533.1 418.8,533.4 419.2,533.2 419.6,533.1 420.0,533.3 420.4,533.0 420.8,533.3 421.2,533.2 421.6,533.3 422.0,533.0 422.4,533.1 422.8,533.1 423.2,533.2 423.6,533.2 424.0,533.1 424.4,533.3 424.8,533.5 425.2,533.3 425.6,533.0 426.0,533.5 426.4,533.2 426.8,533.4 427.2,533.5 427.6,533.1 428.0,533.2 428.4,533.4 428.8,533.2 429.2,533.2 429.6,533.3 430.0,533.1 430.4,533.1 430.8,533.1 431.2,533.2 431.6,533.0 432.0,533.0 432.4,533.1 432.8,533.3 433.2,533.4 433.6,533.1 434.0,532.9 434.4,532.7 434.8,532.5 435.2,532.6 435.6,532.5 436.0,532.2 436.4,532.3 436.8,532.4 437.2,532.9 437.6,532.9 438.0,533.0 438.4,533.4 438.8,533.4 439.2,533.3 439.6,533.2 440.0,533.1 440.4,533.4 440.8,533.0 441.2,533.4 441.6,533.0 442.0,533.4 442.4,533.2 442.8,533.1 443.2,533.4 443.6,533.3 444.0,533.0 444.4,533.1 444.8,533.1 445.2,533.5 445.6,533.0 446.0,533.3 446.4,533.4 446.8,533.1 447.2,533.3 447.6,533.1 448.0,533.1 448.4,533.5 448.8,533.4 449.2,533.2 449.6,533.4 450.0,533.4 450.4,533.2 450.8,533.1 451.2,533.4 451.6,533.4 452.0,533.1 452.4,533.3 452.8,533.3 453.2,533.2 453.6,533.0 454.0,533.2 454.4,533.3 454.8,533.3 455.2,533.0 455.6,533.2 456.0,533.2 456.4,533.4 456.8,533.1 457.2,533.4 457.6,533.3 458.0,533.3 458.4,533.0 458.8,532.5 459.2,531.5 459.6,530.2 460.0,530.1 460.4,530.3 460.8,531.6 461.2,532.5 461.6,533.0 462.0,533.2 462.4,533.0 462.8,533.3 463.2,533.0 463.6,533.0 464.0,533.3 464.4,533.3 464.8,533.1 465.2,533.0 465.6,533.0 466.0,533.4 466.4,533.3 466.8,533.2 467.2,533.2 467.6,533.3 468.0,533.4 468.4,533.3 468.8,533.1 469.2,533.3 469.6,533.3 470.0,533.0 470.4,533.5 470.8,533.4 471.2,533.4 471.6,533.4 472.0,533.0 472.4,533.3 472.8,533.3 473.2,533.4 473.6,533.3 474.0,533.5 474.4,533.3 474.8,533.1 475.2,533.0 475.6,533.3 476.0,533.5 476.4,533.5 476.8,533.3 477.2,533.4 477.6,533.1 478.0,533.4 478.4,533.3 478.8,533.3 479.2,533.3 479.6,533.2 480.0,533.1 480.4,533.0 480.8,533.2 481.2,533.0 481.6,533.3 482.0,533.1 482.4,533.1 482.8,532.8 483.2,532.7 483.6,532.3 484.0,531.8 484.4,531.7 484.8,531.2 485.2,531.1 485.6,531.5 486.0,532.0 486.4,532.6 486.8,532.7 487.2,533.2 487.6,533.0 488.0,533.5 488.4,533.2 488.8,533.2 489.2,533.1 489.6,533.3 490.0,533.4 490.4,533.4 490.8,533.2 491.2,533.3 491.6,533.0 492.0,533.4 492.4,533.2 492.8,533.3 493.2,533.4 493.6,533.4 494.0,533.1 494.4,533.4 494.8,533.4 495.2,533.2 495.6,533.3 496.0,533.4 496.4,533.1 496.8,533.3 497.2,533.2 497.6,533.0 498.0,533.2 498.4,533.3 498.8,533.4 499.2,533.3 499.6,533.1 500.0,533.5 500.4,533.0 500.8,533.0 501.2,533.1 501.6,533.3 502.0,533.5 502.4,533.5 502.8,533.0 503.2,533.5 503.6,533.4 504.0,533.1 504.4,533.1 504.8,533.2 505.2,533.3 505.6,533.4 506.0,533.0 506.4,533.1 506.8,533.5 507.2,533.0 507.6,533.4 508.0,533.3 508.4,533.2 508.8,533.1 509.2,533.3 509.6,533.3 510.0,533.4 510.4,533.4 510.8,533.1 511.2,533.2 511.6,533.4 512.0,533.0 512.4,533.3 512.5,533.5" fill="#58b49a" stroke="#58b49a" stroke-width="0.3"/>
<line x1="335.6" y1="533.5" x2="515.6" y2="533.5" stroke="#4a8e80" stroke-width="1.0"/>
<line x1="521.6" y1="533.5" x2="640.2" y2="533.5" stroke="#4a8e80" stroke-width="1.0"/>
<rect x="515.6" y="532.5" width="6" height="2" fill="#fff"/>
<line x1="513.30" y1="537.30" x2="518.60" y2="530.70" stroke="#3a3a3a" stroke-width="0.75"/>
<line x1="518.60" y1="537.30" x2="523.90" y2="530.70" stroke="#3a3a3a" stroke-width="0.75"/>
<text x="651.2" y="537.4" font-size="9.7" fill="#78c0b0" text-anchor="start" font-weight="normal" letter-spacing="0.25">60 min</text>
<polygon points="336.0,572.4 336.0,553.0 336.4,550.3 336.8,557.8 337.2,564.7 337.6,564.2 338.0,565.4 338.4,567.3 338.8,569.4 339.2,569.2 339.6,569.7 340.0,570.5 340.4,570.8 340.8,571.0 341.2,570.1 341.6,568.2 342.0,567.0 342.4,567.1 342.8,568.3 343.2,569.9 343.6,570.3 344.0,570.5 344.4,570.9 344.8,571.2 345.2,571.6 345.6,571.9 346.0,572.1 346.4,571.9 346.8,571.9 347.2,572.0 347.6,572.3 348.0,572.2 348.4,572.3 348.8,572.2 349.2,572.0 349.6,572.2 350.0,572.2 350.4,572.3 350.8,572.3 351.2,572.0 351.6,571.9 352.0,572.0 352.4,572.4 352.8,572.3 353.2,572.3 353.6,572.2 354.0,572.3 354.4,572.2 354.8,572.2 355.2,572.1 355.6,572.1 356.0,572.1 356.4,572.4 356.8,571.9 357.2,572.1 357.6,571.5 358.0,570.2 358.4,567.4 358.8,565.3 359.2,567.2 359.6,570.2 360.0,571.4 360.4,571.9 360.8,572.3 361.2,571.9 361.6,572.3 362.0,572.3 362.4,572.3 362.8,572.0 363.2,572.1 363.6,572.0 364.0,571.6 364.4,571.1 364.8,570.0 365.2,568.5 365.6,567.4 366.0,567.3 366.4,568.5 366.8,570.0 367.2,570.3 367.6,570.7 368.0,571.1 368.4,571.5 368.8,571.9 369.2,572.0 369.6,571.9 370.0,572.0 370.4,572.4 370.8,572.4 371.2,572.2 371.6,572.2 372.0,572.2 372.4,572.1 372.8,572.0 373.2,572.1 373.6,572.3 374.0,572.3 374.4,571.9 374.8,572.1 375.2,571.9 375.6,571.9 376.0,572.0 376.4,572.1 376.8,572.0 377.2,572.3 377.6,572.3 378.0,572.2 378.4,572.3 378.8,572.3 379.2,572.3 379.6,572.3 380.0,572.4 380.4,572.3 380.8,572.0 381.2,572.4 381.6,572.0 382.0,572.0 382.4,572.3 382.8,572.2 383.2,572.1 383.6,571.9 384.0,572.1 384.4,572.3 384.8,572.4 385.2,572.3 385.6,572.3 386.0,572.0 386.4,571.9 386.8,572.2 387.2,571.6 387.6,571.1 388.0,570.7 388.4,569.7 388.8,569.4 389.2,569.3 389.6,569.6 390.0,570.7 390.4,571.3 390.8,571.7 391.2,571.8 391.6,571.9 392.0,571.9 392.4,572.2 392.8,572.2 393.2,571.9 393.6,572.0 394.0,572.0 394.4,572.1 394.8,571.9 395.2,572.3 395.6,572.3 396.0,572.0 396.4,572.3 396.8,572.1 397.2,572.1 397.6,572.1 398.0,572.3 398.4,571.9 398.8,572.1 399.2,572.4 399.6,572.2 400.0,572.1 400.4,572.0 400.8,572.1 401.2,571.9 401.6,572.2 402.0,572.4 402.4,572.2 402.8,571.9 403.2,572.1 403.6,572.0 404.0,572.0 404.4,572.0 404.8,572.2 405.2,572.4 405.6,572.1 406.0,572.4 406.4,572.2 406.8,572.3 407.2,572.2 407.6,572.2 408.0,572.1 408.4,571.9 408.8,572.0 409.2,572.0 409.6,572.3 410.0,572.1 410.4,572.2 410.8,572.1 411.2,572.0 411.6,571.4 412.0,570.6 412.4,570.0 412.8,569.5 413.2,569.9 413.6,570.0 414.0,570.8 414.4,571.5 414.8,571.8 415.2,572.1 415.6,572.2 416.0,571.9 416.4,572.1 416.8,572.2 417.2,572.1 417.6,572.4 418.0,572.4 418.4,572.4 418.8,572.2 419.2,572.0 419.6,572.4 420.0,572.3 420.4,572.0 420.8,572.3 421.2,572.1 421.6,571.9 422.0,572.0 422.4,572.2 422.8,572.2 423.2,572.3 423.6,572.2 424.0,571.9 424.4,572.1 424.8,572.2 425.2,571.9 425.6,572.2 426.0,572.3 426.4,572.1 426.8,572.3 427.2,571.9 427.6,572.4 428.0,572.2 428.4,572.4 428.8,572.3 429.2,572.0 429.6,572.3 430.0,572.0 430.4,572.1 430.8,572.4 431.2,571.9 431.6,572.4 432.0,572.0 432.4,571.9 432.8,572.2 433.2,572.2 433.6,572.2 434.0,572.1 434.4,572.1 434.8,572.3 435.2,572.2 435.6,572.1 436.0,571.9 436.4,571.6 436.8,571.0 437.2,570.9 437.6,570.6 438.0,570.8 438.4,570.8 438.8,571.6 439.2,571.6 439.6,571.9 440.0,571.9 440.4,572.3 440.8,572.3 441.2,571.9 441.6,572.2 442.0,572.2 442.4,572.4 442.8,572.1 443.2,571.9 443.6,572.1 444.0,571.9 444.4,572.1 444.8,572.4 445.2,572.1 445.6,572.1 446.0,571.9 446.4,572.0 446.8,572.0 447.2,572.3 447.6,572.2 448.0,572.0 448.4,572.1 448.8,572.1 449.2,572.4 449.6,572.1 450.0,572.4 450.4,572.4 450.8,572.0 451.2,572.2 451.6,572.3 452.0,572.2 452.4,572.4 452.8,572.1 453.2,571.9 453.6,572.0 454.0,572.0 454.4,572.1 454.8,571.9 455.2,572.2 455.6,572.3 456.0,572.3 456.4,572.4 456.8,572.3 457.2,572.3 457.6,572.2 458.0,571.8 458.4,571.7 458.8,571.5 459.2,571.2 459.6,570.6 460.0,570.8 460.4,570.6 460.8,571.2 461.2,571.6 461.6,571.5 462.0,571.9 462.4,571.9 462.8,572.0 463.2,572.0 463.6,572.3 464.0,572.1 464.4,572.3 464.8,571.9 465.2,572.0 465.6,572.1 466.0,572.3 466.4,572.3 466.8,572.2 467.2,572.3 467.6,571.9 468.0,571.9 468.4,572.2 468.8,572.3 469.2,572.1 469.6,571.9 470.0,572.2 470.4,572.0 470.8,572.2 471.2,572.3 471.6,572.2 472.0,572.2 472.4,572.1 472.8,572.2 473.2,572.3 473.6,572.4 474.0,571.9 474.4,572.0 474.8,572.2 475.2,572.0 475.6,572.2 476.0,572.3 476.4,572.4 476.8,572.1 477.2,572.4 477.6,571.9 478.0,572.3 478.4,571.9 478.8,572.2 479.2,572.1 479.6,572.3 480.0,572.3 480.4,572.0 480.8,572.1 481.2,572.1 481.6,572.1 482.0,571.8 482.4,571.4 482.8,571.1 483.2,570.8 483.6,570.7 484.0,570.7 484.4,570.6 484.8,570.9 485.2,571.4 485.6,571.7 486.0,572.2 486.4,572.0 486.8,572.1 487.2,572.3 487.6,571.9 488.0,572.0 488.4,572.2 488.8,572.0 489.2,572.1 489.6,572.1 490.0,572.4 490.4,572.0 490.8,572.2 491.2,572.1 491.6,572.1 492.0,572.0 492.4,572.0 492.8,572.1 493.2,571.9 493.6,572.2 494.0,571.9 494.4,572.4 494.8,572.0 495.2,572.1 495.6,572.2 496.0,572.3 496.4,572.3 496.8,572.2 497.2,572.2 497.6,572.4 498.0,572.0 498.4,572.0 498.8,572.1 499.2,572.0 499.6,572.3 500.0,572.2 500.4,572.4 500.8,571.9 501.2,571.9 501.6,572.2 502.0,572.3 502.4,572.1 502.8,572.0 503.2,572.3 503.6,572.3 504.0,572.0 504.4,572.1 504.8,572.3 505.2,572.2 505.6,572.0 506.0,572.1 506.4,571.9 506.8,571.9 507.2,572.2 507.6,571.9 508.0,572.4 508.4,572.1 508.8,571.9 509.2,572.3 509.6,572.0 510.0,572.2 510.4,572.4 510.8,572.2 511.2,572.0 511.6,572.2 512.0,572.4 512.4,572.3 512.5,572.4" fill="#5cba9a" stroke="#5cba9a" stroke-width="0.3"/>
<line x1="335.6" y1="572.4" x2="515.6" y2="572.4" stroke="#4a8e80" stroke-width="1.0"/>
<line x1="521.6" y1="572.4" x2="640.2" y2="572.4" stroke="#4a8e80" stroke-width="1.0"/>
<rect x="515.6" y="571.4" width="6" height="2" fill="#fff"/>
<line x1="513.30" y1="576.20" x2="518.60" y2="569.60" stroke="#3a3a3a" stroke-width="0.75"/>
<line x1="518.60" y1="576.20" x2="523.90" y2="569.60" stroke="#3a3a3a" stroke-width="0.75"/>
<text x="648.6" y="576.0000000000001" font-size="9.7" fill="#7cc8b0" text-anchor="start" font-weight="normal" letter-spacing="0.25">120 min</text>
<polygon points="336.0,610.3 336.0,595.9 336.4,594.0 336.8,599.3 337.2,604.4 337.6,604.1 338.0,604.8 338.4,606.6 338.8,608.1 339.2,609.1 339.6,609.8 340.0,609.8 340.4,609.9 340.8,609.4 341.2,608.1 341.6,605.7 342.0,602.6 342.4,600.7 342.8,601.6 343.2,603.9 343.6,606.5 344.0,605.9 344.4,606.6 344.8,607.3 345.2,608.5 345.6,609.0 346.0,609.6 346.4,610.1 346.8,610.2 347.2,610.1 347.6,610.2 348.0,610.2 348.4,609.8 348.8,609.8 349.2,610.3 349.6,610.3 350.0,610.0 350.4,609.8 350.8,609.9 351.2,610.0 351.6,609.9 352.0,610.1 352.4,610.1 352.8,609.9 353.2,610.2 353.6,610.0 354.0,609.9 354.4,610.2 354.8,609.9 355.2,610.2 355.6,609.8 356.0,609.9 356.4,610.1 356.8,610.0 357.2,609.8 357.6,610.1 358.0,610.1 358.4,609.6 358.8,609.2 359.2,609.2 359.6,608.6 360.0,608.6 360.4,608.6 360.8,609.1 361.2,609.2 361.6,609.7 362.0,609.7 362.4,609.8 362.8,610.2 363.2,609.8 363.6,609.8 364.0,609.7 364.4,608.8 364.8,607.6 365.2,606.2 365.6,605.1 366.0,605.0 366.4,605.8 366.8,607.7 367.2,608.8 367.6,609.4 368.0,610.0 368.4,609.9 368.8,610.0 369.2,609.9 369.6,610.1 370.0,609.8 370.4,610.1 370.8,610.2 371.2,610.2 371.6,610.2 372.0,610.2 372.4,609.8 372.8,610.2 373.2,609.9 373.6,609.9 374.0,610.1 374.4,610.3 374.8,610.2 375.2,609.8 375.6,610.1 376.0,609.9 376.4,610.2 376.8,610.3 377.2,610.1 377.6,610.1 378.0,610.2 378.4,610.0 378.8,610.0 379.2,610.0 379.6,610.1 380.0,610.1 380.4,610.2 380.8,610.0 381.2,610.1 381.6,610.0 382.0,609.8 382.4,610.1 382.8,610.0 383.2,610.3 383.6,609.9 384.0,610.0 384.4,610.0 384.8,610.0 385.2,610.2 385.6,609.9 386.0,610.3 386.4,610.2 386.8,609.9 387.2,609.5 387.6,609.2 388.0,608.5 388.4,608.1 388.8,607.6 389.2,607.6 389.6,608.2 390.0,608.9 390.4,609.4 390.8,609.9 391.2,610.2 391.6,610.2 392.0,609.9 392.4,610.0 392.8,609.9 393.2,610.0 393.6,610.1 394.0,609.9 394.4,610.1 394.8,610.2 395.2,610.2 395.6,610.3 396.0,610.3 396.4,610.2 396.8,610.0 397.2,610.2 397.6,610.1 398.0,610.2 398.4,609.9 398.8,610.2 399.2,610.1 399.6,609.9 400.0,609.9 400.4,609.9 400.8,610.3 401.2,610.1 401.6,610.2 402.0,609.9 402.4,610.2 402.8,609.9 403.2,610.0 403.6,609.9 404.0,609.9 404.4,609.9 404.8,609.9 405.2,610.1 405.6,610.0 406.0,609.8 406.4,609.9 406.8,610.1 407.2,609.9 407.6,609.9 408.0,610.1 408.4,610.1 408.8,610.1 409.2,609.8 409.6,610.2 410.0,609.8 410.4,610.2 410.8,610.0 411.2,609.6 411.6,609.2 412.0,608.8 412.4,608.1 412.8,607.6 413.2,607.5 413.6,608.1 414.0,608.7 414.4,609.3 414.8,609.5 415.2,609.7 415.6,609.9 416.0,610.2 416.4,610.1 416.8,610.1 417.2,610.0 417.6,610.1 418.0,610.0 418.4,610.0 418.8,610.0 419.2,609.8 419.6,610.1 420.0,610.2 420.4,610.3 420.8,610.3 421.2,610.0 421.6,609.9 422.0,610.0 422.4,610.2 422.8,610.3 423.2,610.1 423.6,610.3 424.0,610.3 424.4,610.0 424.8,610.2 425.2,610.1 425.6,609.9 426.0,610.1 426.4,610.1 426.8,610.0 427.2,609.8 427.6,610.2 428.0,609.9 428.4,610.2 428.8,610.0 429.2,610.3 429.6,610.3 430.0,610.2 430.4,609.9 430.8,610.2 431.2,609.9 431.6,610.1 432.0,609.9 432.4,609.9 432.8,609.9 433.2,610.2 433.6,610.3 434.0,610.0 434.4,610.1 434.8,610.1 435.2,609.6 435.6,609.3 436.0,608.9 436.4,608.6 436.8,608.5 437.2,608.6 437.6,608.5 438.0,609.2 438.4,609.3 438.8,609.8 439.2,609.7 439.6,609.9 440.0,609.8 440.4,609.9 440.8,610.0 441.2,610.0 441.6,610.2 442.0,610.2 442.4,610.3 442.8,610.0 443.2,610.2 443.6,610.3 444.0,610.0 444.4,610.0 444.8,610.3 445.2,610.2 445.6,609.9 446.0,610.0 446.4,609.9 446.8,610.2 447.2,610.3 447.6,610.0 448.0,610.0 448.4,610.0 448.8,610.3 449.2,610.0 449.6,609.9 450.0,610.1 450.4,610.0 450.8,610.2 451.2,610.1 451.6,610.2 452.0,610.3 452.4,609.8 452.8,610.2 453.2,610.2 453.6,610.0 454.0,610.2 454.4,609.9 454.8,610.2 455.2,610.1 455.6,610.2 456.0,610.3 456.4,609.9 456.8,610.0 457.2,609.9 457.6,609.7 458.0,610.0 458.4,609.4 458.8,609.4 459.2,608.7 459.6,608.4 460.0,608.6 460.4,608.5 460.8,609.0 461.2,609.5 461.6,609.6 462.0,609.7 462.4,609.9 462.8,610.0 463.2,610.2 463.6,610.0 464.0,609.9 464.4,610.0 464.8,610.2 465.2,609.9 465.6,609.9 466.0,610.1 466.4,610.1 466.8,610.1 467.2,610.0 467.6,609.8 468.0,609.9 468.4,610.3 468.8,610.2 469.2,610.0 469.6,609.8 470.0,610.0 470.4,609.9 470.8,610.2 471.2,610.2 471.6,610.1 472.0,610.2 472.4,609.9 472.8,610.0 473.2,610.0 473.6,609.9 474.0,610.0 474.4,610.3 474.8,610.0 475.2,610.0 475.6,610.2 476.0,610.2 476.4,609.9 476.8,610.3 477.2,610.3 477.6,609.9 478.0,609.9 478.4,610.1 478.8,610.1 479.2,609.9 479.6,610.0 480.0,610.1 480.4,610.1 480.8,610.0 481.2,610.0 481.6,610.1 482.0,609.6 482.4,609.6 482.8,609.3 483.2,608.8 483.6,608.8 484.0,608.7 484.4,608.7 484.8,609.2 485.2,609.3 485.6,609.8 486.0,609.7 486.4,609.9 486.8,609.8 487.2,610.2 487.6,610.2 488.0,610.0 488.4,610.0 488.8,610.1 489.2,610.3 489.6,610.1 490.0,609.8 490.4,609.9 490.8,610.2 491.2,610.0 491.6,609.9 492.0,610.2 492.4,610.3 492.8,609.9 493.2,610.3 493.6,610.0 494.0,610.3 494.4,609.9 494.8,610.2 495.2,610.0 495.6,610.0 496.0,610.0 496.4,610.0 496.8,610.2 497.2,610.3 497.6,609.9 498.0,610.3 498.4,610.2 498.8,610.0 499.2,609.9 499.6,610.2 500.0,610.1 500.4,610.3 500.8,609.9 501.2,610.2 501.6,610.1 502.0,610.1 502.4,610.3 502.8,609.8 503.2,610.2 503.6,610.3 504.0,610.0 504.4,610.3 504.8,610.2 505.2,610.1 505.6,610.1 506.0,609.8 506.4,609.9 506.8,610.0 507.2,610.0 507.6,610.0 508.0,609.8 508.4,610.1 508.8,610.1 509.2,609.9 509.6,610.1 510.0,610.1 510.4,609.9 510.8,610.0 511.2,610.2 511.6,610.1 512.0,610.2 512.4,610.1 512.5,610.3" fill="#5cbc9a" stroke="#5cbc9a" stroke-width="0.3"/>
<line x1="335.6" y1="610.3" x2="515.6" y2="610.3" stroke="#4a907e" stroke-width="1.0"/>
<line x1="521.6" y1="610.3" x2="640.2" y2="610.3" stroke="#4a907e" stroke-width="1.0"/>
<rect x="515.6" y="609.3" width="6" height="2" fill="#fff"/>
<line x1="513.30" y1="614.10" x2="518.60" y2="607.50" stroke="#3a3a3a" stroke-width="0.75"/>
<line x1="518.60" y1="614.10" x2="523.90" y2="607.50" stroke="#3a3a3a" stroke-width="0.75"/>
<text x="648.6" y="613.8000000000001" font-size="9.7" fill="#7ccab0" text-anchor="start" font-weight="normal" letter-spacing="0.25">180 min</text>
<polygon points="336.0,646.8 336.0,646.6 336.4,646.5 336.8,646.5 337.2,646.5 337.6,646.3 338.0,646.4 338.4,646.7 338.8,646.7 339.2,646.6 339.6,646.6 340.0,646.3 340.4,646.4 340.8,646.6 341.2,646.6 341.6,646.7 342.0,646.5 342.4,646.3 342.8,646.7 343.2,646.6 343.6,646.6 344.0,646.5 344.4,646.7 344.8,646.8 345.2,646.5 345.6,646.6 346.0,646.5 346.4,646.3 346.8,646.5 347.2,646.3 347.6,646.4 348.0,646.8 348.4,646.7 348.8,646.5 349.2,646.6 349.6,646.8 350.0,646.3 350.4,646.2 350.8,645.3 351.2,642.9 351.6,639.3 352.0,636.0 352.4,636.2 352.8,639.1 353.2,642.7 353.6,645.4 354.0,646.4 354.4,646.5 354.8,646.4 355.2,646.7 355.6,646.6 356.0,646.5 356.4,646.7 356.8,646.8 357.2,646.4 357.6,646.5 358.0,646.5 358.4,646.5 358.8,646.7 359.2,646.6 359.6,646.6 360.0,646.5 360.4,646.7 360.8,646.8 361.2,646.5 361.6,646.5 362.0,646.5 362.4,646.3 362.8,646.6 363.2,646.6 363.6,646.6 364.0,646.5 364.4,646.5 364.8,646.4 365.2,646.8 365.6,646.5 366.0,646.4 366.4,646.4 366.8,646.6 367.2,646.8 367.6,646.6 368.0,646.5 368.4,646.4 368.8,646.7 369.2,646.6 369.6,646.6 370.0,646.8 370.4,646.3 370.8,646.6 371.2,646.6 371.6,646.3 372.0,646.4 372.4,646.7 372.8,646.3 373.2,646.4 373.6,646.5 374.0,646.6 374.4,646.4 374.8,646.3 375.2,646.5 375.6,646.6 376.0,646.4 376.4,646.5 376.8,646.3 377.2,646.4 377.6,646.5 378.0,646.3 378.4,646.5 378.8,646.0 379.2,644.9 379.6,643.2 380.0,641.5 380.4,640.6 380.8,642.1 381.2,644.2 381.6,645.6 382.0,643.4 382.4,638.4 382.8,634.3 383.2,634.3 383.6,638.5 384.0,643.3 384.4,644.9 384.8,643.5 385.2,642.0 385.6,641.6 386.0,642.5 386.4,644.0 386.8,644.7 387.2,644.8 387.6,645.2 388.0,645.4 388.4,645.7 388.8,646.2 389.2,646.2 389.6,646.7 390.0,646.7 390.4,646.4 390.8,646.6 391.2,646.5 391.6,646.3 392.0,646.5 392.4,645.9 392.8,645.9 393.2,645.4 393.6,645.1 394.0,645.0 394.4,645.1 394.8,645.5 395.2,645.9 395.6,646.0 396.0,646.1 396.4,646.7 396.8,646.7 397.2,646.3 397.6,646.7 398.0,646.6 398.4,646.2 398.8,646.1 399.2,645.7 399.6,645.6 400.0,645.4 400.4,645.8 400.8,645.9 401.2,646.2 401.6,646.1 402.0,646.1 402.4,646.5 402.8,646.6 403.2,646.5 403.6,646.3 404.0,645.7 404.4,645.5 404.8,645.4 405.2,645.7 405.6,645.9 406.0,645.7 406.4,646.0 406.8,646.1 407.2,646.2 407.6,646.3 408.0,646.8 408.4,646.4 408.8,646.5 409.2,646.3 409.6,646.7 410.0,646.6 410.4,646.7 410.8,646.4 411.2,646.5 411.6,646.4 412.0,646.5 412.4,646.4 412.8,646.6 413.2,646.8 413.6,646.8 414.0,646.8 414.4,646.8 414.8,646.4 415.2,646.4 415.6,646.3 416.0,646.4 416.4,646.7 416.8,646.7 417.2,646.6 417.6,646.6 418.0,646.7 418.4,646.4 418.8,646.4 419.2,646.6 419.6,646.5 420.0,646.5 420.4,646.5 420.8,646.5 421.2,646.5 421.6,646.3 422.0,646.6 422.4,646.8 422.8,646.7 423.2,646.5 423.6,646.6 424.0,646.3 424.4,646.5 424.8,646.3 425.2,646.4 425.6,646.6 426.0,646.7 426.4,646.5 426.8,646.6 427.2,646.7 427.6,646.8 428.0,646.4 428.4,646.3 428.8,646.4 429.2,646.7 429.6,646.8 430.0,646.5 430.4,646.6 430.8,646.3 431.2,646.6 431.6,646.5 432.0,646.8 432.4,646.8 432.8,646.4 433.2,646.5 433.6,646.4 434.0,646.6 434.4,646.5 434.8,646.6 435.2,646.4 435.6,646.5 436.0,646.4 436.4,646.7 436.8,646.3 437.2,646.3 437.6,645.7 438.0,645.2 438.4,644.7 438.8,644.4 439.2,644.1 439.6,644.7 440.0,645.1 440.4,645.6 440.8,646.3 441.2,646.3 441.6,646.4 442.0,646.5 442.4,646.8 442.8,646.3 443.2,646.6 443.6,646.8 444.0,646.4 444.4,646.3 444.8,646.4 445.2,646.5 445.6,646.6 446.0,646.3 446.4,646.6 446.8,646.4 447.2,646.4 447.6,646.6 448.0,646.3 448.4,646.6 448.8,646.5 449.2,646.7 449.6,646.7 450.0,646.6 450.4,646.7 450.8,646.5 451.2,646.7 451.6,646.6 452.0,646.4 452.4,646.4 452.8,646.3 453.2,646.4 453.6,646.6 454.0,646.6 454.4,646.4 454.8,646.5 455.2,646.3 455.6,646.3 456.0,646.6 456.4,646.7 456.8,646.4 457.2,646.4 457.6,646.5 458.0,646.5 458.4,646.5 458.8,646.5 459.2,646.7 459.6,646.6 460.0,646.4 460.4,646.4 460.8,646.3 461.2,646.3 461.6,646.6 462.0,646.6 462.4,646.4 462.8,646.8 463.2,646.4 463.6,646.8 464.0,646.5 464.4,646.8 464.8,646.6 465.2,646.8 465.6,646.5 466.0,646.6 466.4,646.4 466.8,646.6 467.2,646.4 467.6,646.3 468.0,646.3 468.4,646.6 468.8,646.3 469.2,646.7 469.6,646.6 470.0,646.3 470.4,646.5 470.8,646.7 471.2,646.6 471.6,646.6 472.0,646.3 472.4,646.5 472.8,646.3 473.2,646.5 473.6,646.3 474.0,646.7 474.4,646.6 474.8,646.7 475.2,646.6 475.6,646.5 476.0,646.4 476.4,646.5 476.8,646.5 477.2,646.5 477.6,646.4 478.0,646.4 478.4,646.6 478.8,646.6 479.2,646.6 479.6,646.8 480.0,646.7 480.4,646.7 480.8,646.4 481.2,646.3 481.6,646.7 482.0,646.6 482.4,646.5 482.8,646.7 483.2,646.6 483.6,646.6 484.0,646.5 484.4,646.3 484.8,646.4 485.2,646.7 485.6,646.7 486.0,646.6 486.4,646.5 486.8,646.5 487.2,646.4 487.6,646.4 488.0,646.7 488.4,646.6 488.8,646.4 489.2,646.5 489.6,646.4 490.0,646.5 490.4,646.6 490.8,646.3 491.2,646.5 491.6,646.7 492.0,646.7 492.4,646.3 492.8,646.7 493.2,646.7 493.6,646.6 494.0,646.4 494.4,646.4 494.8,646.5 495.2,646.5 495.6,646.4 496.0,646.6 496.4,646.4 496.8,646.8 497.2,646.6 497.6,646.4 498.0,646.7 498.4,646.5 498.8,646.6 499.2,646.6 499.6,646.8 500.0,646.4 500.4,646.3 500.8,646.3 501.2,646.4 501.6,646.5 502.0,646.5 502.4,646.3 502.8,646.8 503.2,646.8 503.6,646.5 504.0,646.4 504.4,646.5 504.8,646.8 505.2,646.5 505.6,646.5 506.0,646.4 506.4,646.8 506.8,646.5 507.2,646.6 507.6,646.5 508.0,646.4 508.4,646.6 508.8,646.7 509.2,646.7 509.6,646.4 510.0,646.4 510.4,646.6 510.8,646.5 511.2,646.4 511.6,646.4 512.0,646.6 512.4,646.6 512.5,646.8" fill="#60c09c" stroke="#60c09c" stroke-width="0.3"/>
<line x1="335.6" y1="646.8" x2="515.6" y2="646.8" stroke="#4c947e" stroke-width="1.0"/>
<line x1="521.6" y1="646.8" x2="640.2" y2="646.8" stroke="#4c947e" stroke-width="1.0"/>
<rect x="515.6" y="645.8" width="6" height="2" fill="#fff"/>
<line x1="513.30" y1="650.60" x2="518.60" y2="644.00" stroke="#3a3a3a" stroke-width="0.75"/>
<line x1="518.60" y1="650.60" x2="523.90" y2="644.00" stroke="#3a3a3a" stroke-width="0.75"/>
<text x="648.6" y="650.1" font-size="9.7" fill="#7ccab0" text-anchor="start" font-weight="normal" letter-spacing="0.25">300 min</text>
<polygon points="336.0,680.4 336.0,678.2 336.4,677.1 336.8,677.1 337.2,678.2 337.6,678.9 338.0,679.8 338.4,679.8 338.8,679.9 339.2,680.2 339.6,680.1 340.0,680.2 340.4,680.3 340.8,680.2 341.2,680.2 341.6,680.2 342.0,679.9 342.4,680.0 342.8,680.4 343.2,680.2 343.6,679.9 344.0,680.0 344.4,680.1 344.8,680.1 345.2,680.0 345.6,680.1 346.0,679.5 346.4,678.5 346.8,676.9 347.2,675.2 347.6,675.1 348.0,676.1 348.4,677.5 348.8,678.8 349.2,679.8 349.6,679.9 350.0,680.0 350.4,680.3 350.8,679.9 351.2,680.3 351.6,680.1 352.0,680.2 352.4,680.0 352.8,679.5 353.2,679.0 353.6,679.0 354.0,678.7 354.4,678.7 354.8,679.1 355.2,679.7 355.6,679.6 356.0,679.5 356.4,678.7 356.8,678.6 357.2,678.6 357.6,678.7 358.0,679.5 358.4,679.9 358.8,679.9 359.2,679.9 359.6,679.9 360.0,679.9 360.4,679.6 360.8,678.7 361.2,676.6 361.6,674.8 362.0,674.2 362.4,675.6 362.8,677.8 363.2,678.1 363.6,678.7 364.0,679.2 364.4,679.4 364.8,679.8 365.2,680.3 365.6,680.3 366.0,680.2 366.4,680.1 366.8,680.2 367.2,680.2 367.6,679.9 368.0,680.2 368.4,680.2 368.8,679.9 369.2,680.2 369.6,680.1 370.0,680.3 370.4,680.0 370.8,680.0 371.2,680.2 371.6,680.0 372.0,680.0 372.4,679.5 372.8,679.2 373.2,679.0 373.6,678.4 374.0,678.7 374.4,679.0 374.8,679.2 375.2,679.9 375.6,680.0 376.0,679.9 376.4,680.2 376.8,680.0 377.2,680.1 377.6,679.9 378.0,680.1 378.4,680.0 378.8,680.2 379.2,680.3 379.6,680.2 380.0,680.2 380.4,680.1 380.8,680.2 381.2,680.2 381.6,680.3 382.0,680.1 382.4,680.1 382.8,680.1 383.2,680.4 383.6,680.3 384.0,680.1 384.4,680.2 384.8,680.3 385.2,680.1 385.6,680.3 386.0,680.0 386.4,679.6 386.8,679.5 387.2,679.0 387.6,678.1 388.0,677.7 388.4,677.8 388.8,678.3 389.2,679.1 389.6,679.6 390.0,679.7 390.4,680.1 390.8,679.9 391.2,679.9 391.6,680.0 392.0,680.2 392.4,680.3 392.8,679.9 393.2,680.3 393.6,680.3 394.0,680.2 394.4,680.3 394.8,680.3 395.2,680.3 395.6,680.4 396.0,680.4 396.4,679.9 396.8,680.4 397.2,680.2 397.6,680.1 398.0,680.1 398.4,680.0 398.8,679.9 399.2,680.1 399.6,680.2 400.0,680.1 400.4,680.2 400.8,680.3 401.2,680.2 401.6,680.1 402.0,680.3 402.4,680.2 402.8,680.2 403.2,680.4 403.6,679.9 404.0,680.1 404.4,680.1 404.8,680.4 405.2,680.2 405.6,680.4 406.0,680.0 406.4,680.1 406.8,680.1 407.2,680.1 407.6,680.2 408.0,680.1 408.4,679.9 408.8,680.3 409.2,680.1 409.6,680.2 410.0,680.3 410.4,680.3 410.8,680.1 411.2,680.4 411.6,680.0 412.0,680.2 412.4,680.2 412.8,680.2 413.2,680.2 413.6,680.2 414.0,680.2 414.4,680.2 414.8,680.3 415.2,680.0 415.6,680.1 416.0,680.1 416.4,680.0 416.8,679.8 417.2,679.2 417.6,679.2 418.0,678.9 418.4,679.0 418.8,679.4 419.2,679.7 419.6,680.0 420.0,680.0 420.4,680.3 420.8,680.2 421.2,680.0 421.6,680.1 422.0,680.2 422.4,680.1 422.8,680.1 423.2,680.1 423.6,680.1 424.0,680.2 424.4,680.1 424.8,680.4 425.2,680.1 425.6,680.3 426.0,680.1 426.4,680.4 426.8,680.1 427.2,680.3 427.6,680.2 428.0,680.0 428.4,680.0 428.8,680.0 429.2,680.1 429.6,680.0 430.0,679.9 430.4,680.0 430.8,680.3 431.2,680.3 431.6,680.2 432.0,680.1 432.4,680.3 432.8,679.9 433.2,680.1 433.6,679.9 434.0,680.3 434.4,680.4 434.8,680.1 435.2,680.0 435.6,680.3 436.0,679.9 436.4,680.3 436.8,679.9 437.2,679.9 437.6,680.0 438.0,680.1 438.4,680.1 438.8,680.3 439.2,680.4 439.6,680.1 440.0,680.0 440.4,680.2 440.8,680.2 441.2,680.4 441.6,680.4 442.0,680.0 442.4,680.2 442.8,680.0 443.2,680.0 443.6,680.4 444.0,680.4 444.4,679.9 444.8,680.3 445.2,680.3 445.6,680.1 446.0,680.0 446.4,680.1 446.8,680.0 447.2,679.9 447.6,680.4 448.0,680.1 448.4,680.3 448.8,680.0 449.2,680.0 449.6,679.9 450.0,680.1 450.4,680.3 450.8,680.0 451.2,679.9 451.6,680.0 452.0,680.1 452.4,680.1 452.8,680.1 453.2,680.0 453.6,680.1 454.0,680.3 454.4,680.2 454.8,680.2 455.2,680.3 455.6,680.1 456.0,680.1 456.4,680.0 456.8,680.2 457.2,680.1 457.6,679.9 458.0,680.0 458.4,680.0 458.8,680.1 459.2,680.4 459.6,680.4 460.0,680.2 460.4,680.2 460.8,680.4 461.2,680.1 461.6,680.4 462.0,680.2 462.4,680.2 462.8,680.2 463.2,680.4 463.6,680.3 464.0,680.0 464.4,680.2 464.8,680.1 465.2,680.3 465.6,680.3 466.0,680.3 466.4,680.4 466.8,680.3 467.2,680.3 467.6,680.3 468.0,680.0 468.4,680.0 468.8,680.2 469.2,680.3 469.6,680.3 470.0,680.1 470.4,680.3 470.8,680.0 471.2,680.3 471.6,680.2 472.0,680.4 472.4,680.4 472.8,680.1 473.2,680.4 473.6,680.2 474.0,680.4 474.4,680.3 474.8,679.9 475.2,679.9 475.6,680.3 476.0,680.0 476.4,679.9 476.8,680.1 477.2,680.2 477.6,680.0 478.0,680.3 478.4,680.3 478.8,680.1 479.2,680.2 479.6,680.2 480.0,679.9 480.4,680.0 480.8,680.4 481.2,680.0 481.6,680.3 482.0,680.4 482.4,680.2 482.8,680.1 483.2,680.2 483.6,680.2 484.0,680.0 484.4,680.2 484.8,679.9 485.2,680.2 485.6,680.0 486.0,680.2 486.4,680.2 486.8,680.3 487.2,680.2 487.6,679.9 488.0,680.2 488.4,680.0 488.8,680.0 489.2,680.4 489.6,680.1 490.0,680.3 490.4,680.4 490.8,680.0 491.2,680.2 491.6,680.4 492.0,680.2 492.4,680.2 492.8,680.3 493.2,680.3 493.6,680.1 494.0,680.0 494.4,680.2 494.8,680.2 495.2,679.9 495.6,680.1 496.0,680.3 496.4,680.3 496.8,680.1 497.2,680.2 497.6,680.2 498.0,680.1 498.4,680.1 498.8,680.2 499.2,680.3 499.6,680.4 500.0,680.3 500.4,680.3 500.8,680.0 501.2,680.1 501.6,680.2 502.0,680.4 502.4,680.0 502.8,680.4 503.2,680.0 503.6,680.1 504.0,680.1 504.4,680.0 504.8,680.2 505.2,680.3 505.6,680.1 506.0,680.1 506.4,680.3 506.8,680.4 507.2,680.0 507.6,680.0 508.0,680.1 508.4,680.0 508.8,680.2 509.2,680.0 509.6,680.0 510.0,680.0 510.4,680.4 510.8,680.2 511.2,680.1 511.6,680.3 512.0,680.1 512.4,680.3 512.5,680.4" fill="#66c4a0" stroke="#66c4a0" stroke-width="0.3"/>
<line x1="335.6" y1="680.4" x2="515.6" y2="680.4" stroke="#52987e" stroke-width="1.0"/>
<line x1="521.6" y1="680.4" x2="640.2" y2="680.4" stroke="#52987e" stroke-width="1.0"/>
<rect x="515.6" y="679.4" width="6" height="2" fill="#fff"/>
<line x1="513.30" y1="684.20" x2="518.60" y2="677.60" stroke="#3a3a3a" stroke-width="0.75"/>
<line x1="518.60" y1="684.20" x2="523.90" y2="677.60" stroke="#3a3a3a" stroke-width="0.75"/>
<text x="648.6" y="683.4000000000001" font-size="9.7" fill="#7ccab0" text-anchor="start" font-weight="normal" letter-spacing="0.25">600 min</text>
<defs><linearGradient id="ecb" x1="0" y1="0" x2="0" y2="1">
<stop offset="0" stop-color="#24506e"/><stop offset="0.28" stop-color="#2c6686"/><stop offset="0.48" stop-color="#448c9e"/>
<stop offset="0.551" stop-color="#5a9ea8"/><stop offset="0.632" stop-color="#8ccac6"/><stop offset="0.673" stop-color="#a8e4da"/>
<stop offset="0.71" stop-color="#9ee0d2"/><stop offset="0.8" stop-color="#90dcc8"/><stop offset="1" stop-color="#7ed2b6"/></linearGradient></defs>
<rect x="640.0" y="173.0" width="5.8" height="508.0" fill="url(#ecb)"/>
<line x1="638.6" y1="681.2" x2="645.8" y2="681.2" stroke="#333" stroke-width="0.8"/>
<line x1="348.0" y1="680.9" x2="348.0" y2="682.6" stroke="#444" stroke-width="0.7"/>
<line x1="386.9" y1="680.9" x2="386.9" y2="683.4" stroke="#444" stroke-width="0.7"/>
<line x1="425.7" y1="680.9" x2="425.7" y2="682.6" stroke="#444" stroke-width="0.7"/>
<line x1="464.5" y1="680.9" x2="464.5" y2="683.4" stroke="#444" stroke-width="0.7"/>
<line x1="503.3" y1="680.9" x2="503.3" y2="682.6" stroke="#444" stroke-width="0.7"/>
<line x1="550.5" y1="680.9" x2="550.5" y2="683.4" stroke="#444" stroke-width="0.7"/>
<line x1="569.1" y1="680.9" x2="569.1" y2="682.6" stroke="#444" stroke-width="0.7"/>
<line x1="587.8" y1="680.9" x2="587.8" y2="683.4" stroke="#444" stroke-width="0.7"/>
<line x1="606.3" y1="680.9" x2="606.3" y2="682.6" stroke="#444" stroke-width="0.7"/>
<line x1="624.8" y1="680.9" x2="624.8" y2="683.4" stroke="#444" stroke-width="0.7"/>
<text x="387.5" y="694.8" font-size="10.5" fill="#1a1a1a" text-anchor="middle" font-weight="normal" >1500</text>
<text x="468.0" y="694.8" font-size="10.5" fill="#1a1a1a" text-anchor="middle" font-weight="normal" >1750</text>
<text x="550.5" y="694.8" font-size="10.5" fill="#1a1a1a" text-anchor="middle" font-weight="normal" >4000</text>
<text x="587.8" y="694.8" font-size="10.5" fill="#1a1a1a" text-anchor="middle" font-weight="normal" >4250</text>
<text x="624.8" y="694.8" font-size="10.5" fill="#1a1a1a" text-anchor="middle" font-weight="normal" >4500</text>
<text x="504.0" y="707.8" font-size="9.8" fill="#1a1a1a" text-anchor="middle" font-weight="normal" >m/z</text>
</svg>
</body></html>
